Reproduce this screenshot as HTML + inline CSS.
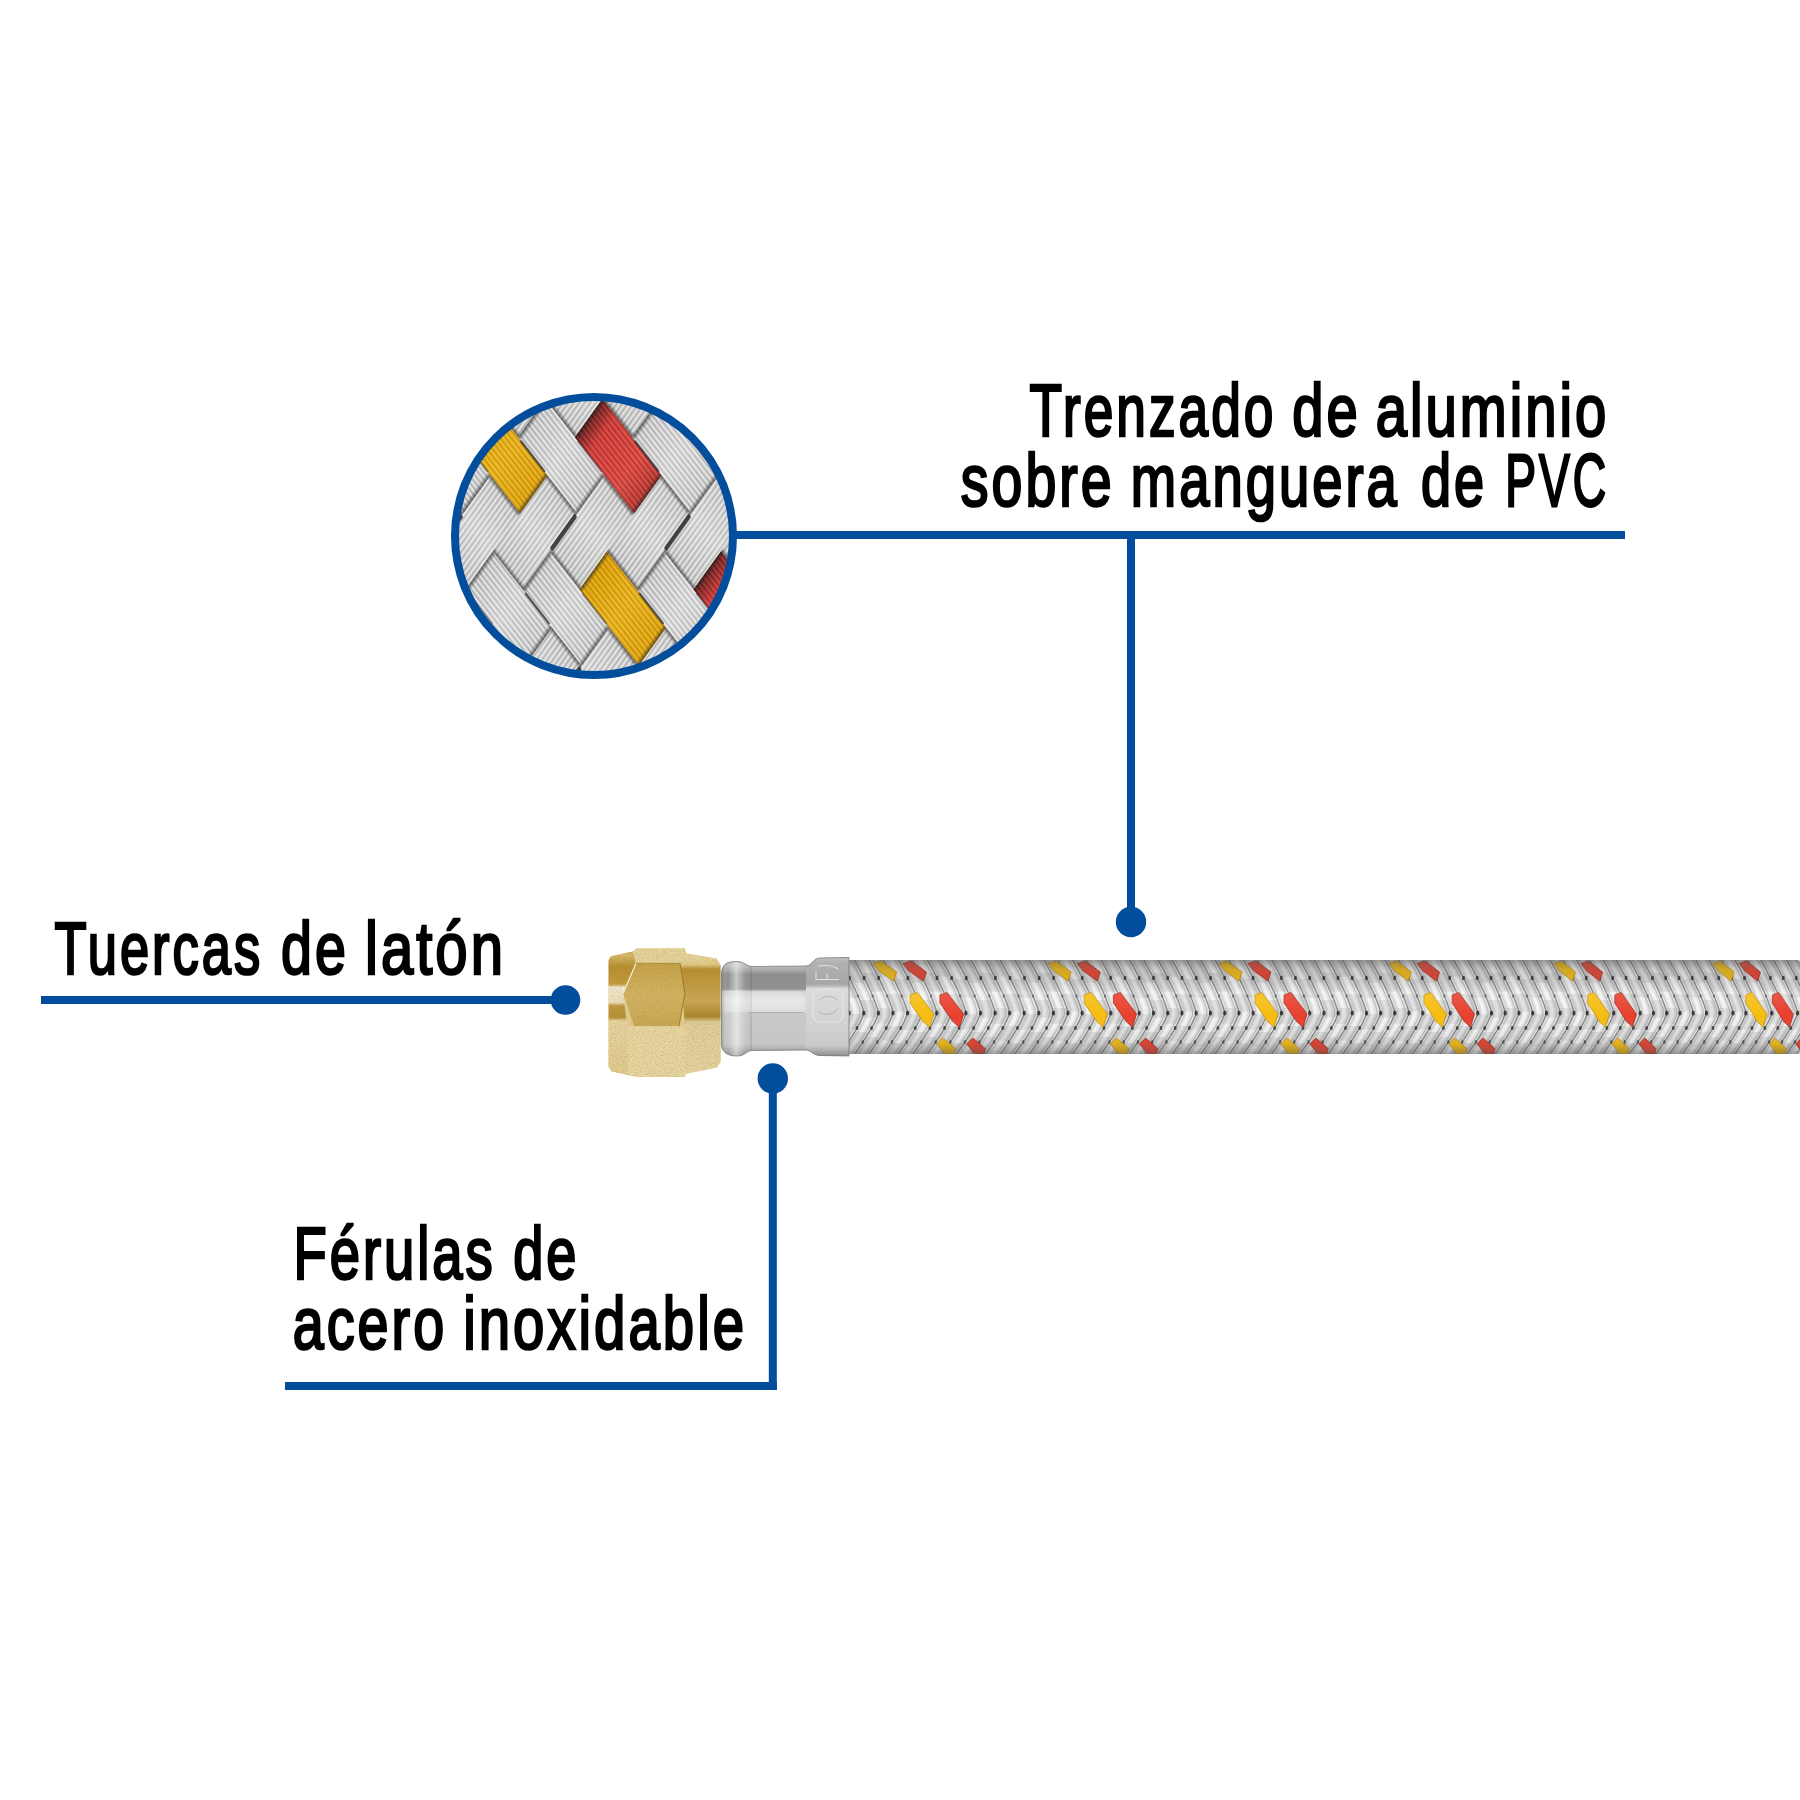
<!DOCTYPE html><html><head><meta charset="utf-8"><style>html,body{margin:0;padding:0;background:#fff;width:1800px;height:1800px;overflow:hidden}svg{display:block}</style></head><body>
<svg width="1800" height="1800" viewBox="0 0 1800 1800">
<defs>
<clipPath id="cclip"><circle cx="594" cy="536" r="139"/></clipPath>
<pattern id="wireA" patternUnits="userSpaceOnUse" width="20" height="4.5"><rect width="20" height="1.44" fill="rgba(120,120,120,0.26)"/><rect y="2.02" width="20" height="1.80" fill="rgba(255,255,255,0.8)"/></pattern>
<pattern id="wireAy" patternUnits="userSpaceOnUse" width="20" height="4.5"><rect width="20" height="1.26" fill="rgba(170,100,0,0.4)"/><rect y="2.02" width="20" height="1.12" fill="rgba(255,230,120,0.45)"/></pattern>
<pattern id="wireAr" patternUnits="userSpaceOnUse" width="20" height="4.5"><rect width="20" height="1.26" fill="rgba(140,20,20,0.42)"/><rect y="2.02" width="20" height="1.12" fill="rgba(255,150,140,0.35)"/></pattern>
<pattern id="wireB" patternUnits="userSpaceOnUse" width="4.5" height="20"><rect width="1.44" height="20" fill="rgba(120,120,120,0.26)"/><rect x="2.02" width="1.80" height="20" fill="rgba(255,255,255,0.8)"/></pattern>
<linearGradient id="wgA" x1="0" y1="0" x2="1" y2="0"><stop offset="0" stop-color="#cdcdcd"/><stop offset="0.5" stop-color="#ebebeb"/><stop offset="1" stop-color="#d2d2d2"/></linearGradient>
<linearGradient id="wgB" x1="0" y1="0" x2="0" y2="1"><stop offset="0" stop-color="#cdcdcd"/><stop offset="0.5" stop-color="#ebebeb"/><stop offset="1" stop-color="#d2d2d2"/></linearGradient>
<linearGradient id="wyA" x1="0" y1="0" x2="1" y2="0"><stop offset="0" stop-color="#eaa800"/><stop offset="0.5" stop-color="#fcc21a"/><stop offset="1" stop-color="#eeae08"/></linearGradient>
<linearGradient id="wrA" x1="0" y1="0" x2="1" y2="0"><stop offset="0" stop-color="#5a1c1c"/><stop offset="0.22" stop-color="#e0403c"/><stop offset="0.7" stop-color="#ee5048"/><stop offset="1" stop-color="#c03a34"/></linearGradient>
<linearGradient id="shA" x1="0" y1="0" x2="1" y2="0"><stop offset="0" stop-color="#222" stop-opacity="0.7"/><stop offset="0.05" stop-color="#222" stop-opacity="0.08"/><stop offset="0.95" stop-color="#222" stop-opacity="0.08"/><stop offset="1" stop-color="#222" stop-opacity="0.7"/></linearGradient>
<linearGradient id="shB" x1="0" y1="0" x2="0" y2="1"><stop offset="0" stop-color="#222" stop-opacity="0.7"/><stop offset="0.05" stop-color="#222" stop-opacity="0.08"/><stop offset="0.95" stop-color="#222" stop-opacity="0.08"/><stop offset="1" stop-color="#222" stop-opacity="0.7"/></linearGradient>
</defs>
<rect width="1800" height="1800" fill="#fff"/>
<defs>
<clipPath id="hclip"><rect x="846.0" y="960.0" width="954.0" height="94.0" rx="3"/></clipPath>
<linearGradient id="hshade" x1="0" y1="0" x2="0" y2="1"><stop offset="0" stop-color="#505050" stop-opacity="0.55"/><stop offset="0.1" stop-color="#606060" stop-opacity="0.25"/><stop offset="0.25" stop-color="#606060" stop-opacity="0.12"/><stop offset="0.35" stop-color="#fff" stop-opacity="0.12"/><stop offset="0.6" stop-color="#fff" stop-opacity="0.0"/><stop offset="0.88" stop-color="#606060" stop-opacity="0.12"/><stop offset="1" stop-color="#505050" stop-opacity="0.5"/></linearGradient>
</defs>
<g clip-path="url(#hclip)">
<rect x="846.0" y="960.0" width="954.0" height="94.0" fill="#c2c2c2"/>
<polygon points="796.1,960.0 799.8,966.8 803.5,973.5 818.0,973.5 814.4,966.8 810.7,960.0" fill="#e0e0e0"/>
<polygon points="801.2,960.0 804.9,966.8 808.6,973.5 812.2,973.5 808.6,966.8 804.8,960.0" fill="#f6f6f6" opacity="0.8"/>
<polygon points="803.5,973.5 808.1,982.5 812.3,991.5 826.9,991.5 822.6,982.5 818.0,973.5" fill="#cdcdcd"/>
<polygon points="808.6,973.5 813.2,982.5 817.4,991.5 821.1,991.5 816.8,982.5 812.2,973.5" fill="#f6f6f6" opacity="0.45"/>
<polygon points="812.3,991.5 815.9,1000.0 819.0,1008.5 833.6,1008.5 830.5,1000.0 826.9,991.5" fill="#e0e0e0"/>
<polygon points="817.4,991.5 821.0,1000.0 824.1,1008.5 827.7,1008.5 824.7,1000.0 821.1,991.5" fill="#f6f6f6" opacity="0.8"/>
<polygon points="819.0,1008.5 819.2,1016.0 815.7,1023.5 830.3,1023.5 833.8,1016.0 833.6,1008.5" fill="#cdcdcd"/>
<polygon points="824.1,1008.5 824.3,1016.0 820.8,1023.5 824.5,1023.5 827.9,1016.0 827.7,1008.5" fill="#f6f6f6" opacity="0.45"/>
<polygon points="815.7,1023.5 811.8,1030.5 807.5,1037.5 822.1,1037.5 826.4,1030.5 830.3,1023.5" fill="#e0e0e0"/>
<polygon points="820.8,1023.5 816.9,1030.5 812.6,1037.5 816.2,1037.5 820.6,1030.5 824.5,1023.5" fill="#f6f6f6" opacity="0.8"/>
<polygon points="807.5,1037.5 802.0,1045.8 796.1,1054.0 810.7,1054.0 816.5,1045.8 822.1,1037.5" fill="#cdcdcd"/>
<polygon points="812.6,1037.5 807.1,1045.8 801.2,1054.0 804.8,1054.0 810.7,1045.8 816.2,1037.5" fill="#f6f6f6" opacity="0.45"/>
<polyline points="807.5,960.0 809.7,963.9 811.8,967.8 813.9,971.8 816.0,975.7 818.0,979.6 819.9,983.5 821.8,987.4 823.6,991.3 825.3,995.2 827.0,999.2 828.5,1003.1 829.9,1007.0 831.0,1010.9 831.0,1014.8 829.4,1018.8 827.5,1022.7 825.4,1026.6 823.2,1030.5 820.8,1034.4 818.3,1038.3 815.7,1042.2 813.0,1046.2 810.3,1050.1 807.5,1054.0" fill="none" stroke="#a4a4a4" stroke-width="0.8"/>
<polyline points="799.0,960.0 801.2,963.9 803.3,967.8 805.5,971.8 807.5,975.7 809.5,979.6 811.5,983.5 813.3,987.4 815.2,991.3 816.9,995.2 818.5,999.2 820.0,1003.1 821.4,1007.0 822.6,1010.9 822.5,1014.8 820.9,1018.8 819.1,1022.7 817.0,1026.6 814.7,1030.5 812.3,1034.4 809.9,1038.3 807.3,1042.2 804.6,1046.2 801.8,1050.1 799.0,1054.0" fill="none" stroke="#bdbdbd" stroke-width="0.7"/>
<polyline points="796.1,960.0 798.3,963.9 800.4,967.8 802.5,971.8 804.6,975.7 806.6,979.6 808.5,983.5 810.4,987.4 812.2,991.3 814.0,995.2 815.6,999.2 817.1,1003.1 818.5,1007.0 819.7,1010.9 819.6,1014.8 818.0,1018.8 816.1,1022.7 814.1,1026.6 811.8,1030.5 809.4,1034.4 806.9,1038.3 804.3,1042.2 801.7,1046.2 798.9,1050.1 796.1,1054.0" fill="none" stroke="#7e7e7e" stroke-width="1.2"/>
<ellipse cx="805.8" cy="978" rx="1.5" ry="2.3" fill="#262626" opacity="0.85"/>
<ellipse cx="814.3" cy="996" rx="1.2" ry="1.8" fill="#262626" opacity="0.5"/>
<ellipse cx="820.1" cy="1013" rx="1.7" ry="2.5" fill="#262626" opacity="0.85"/>
<ellipse cx="813.3" cy="1028" rx="1.4" ry="2.1" fill="#262626" opacity="0.8"/>
<ellipse cx="804.5" cy="1042" rx="1.3" ry="2.0" fill="#262626" opacity="0.6"/>
<polygon points="810.7,960.0 815.2,968.2 819.6,976.5 834.2,976.5 829.8,968.2 825.2,960.0" fill="#cdcdcd"/>
<polygon points="815.8,960.0 820.3,968.2 824.7,976.5 828.4,976.5 824.0,968.2 819.4,960.0" fill="#f6f6f6" opacity="0.45"/>
<polygon points="819.6,976.5 824.1,985.5 828.2,994.5 842.8,994.5 838.7,985.5 834.2,976.5" fill="#e0e0e0"/>
<polygon points="824.7,976.5 829.2,985.5 833.3,994.5 837.0,994.5 832.8,985.5 828.4,976.5" fill="#f6f6f6" opacity="0.8"/>
<polygon points="828.2,994.5 831.7,1003.0 834.4,1011.5 849.0,1011.5 846.3,1003.0 842.8,994.5" fill="#cdcdcd"/>
<polygon points="833.3,994.5 836.8,1003.0 839.5,1011.5 843.1,1011.5 840.4,1003.0 837.0,994.5" fill="#f6f6f6" opacity="0.45"/>
<polygon points="834.4,1011.5 832.5,1019.0 828.7,1026.5 843.3,1026.5 847.1,1019.0 849.0,1011.5" fill="#e0e0e0"/>
<polygon points="839.5,1011.5 837.6,1019.0 833.8,1026.5 837.4,1026.5 841.2,1019.0 843.1,1011.5" fill="#f6f6f6" opacity="0.8"/>
<polygon points="828.7,1026.5 824.6,1033.5 820.1,1040.5 834.7,1040.5 839.2,1033.5 843.3,1026.5" fill="#cdcdcd"/>
<polygon points="833.8,1026.5 829.7,1033.5 825.2,1040.5 828.8,1040.5 833.3,1033.5 837.4,1026.5" fill="#f6f6f6" opacity="0.45"/>
<polygon points="820.1,1040.5 815.5,1047.2 810.7,1054.0 825.2,1054.0 830.1,1047.2 834.7,1040.5" fill="#e0e0e0"/>
<polygon points="825.2,1040.5 820.6,1047.2 815.8,1054.0 819.4,1054.0 824.2,1047.2 828.8,1040.5" fill="#f6f6f6" opacity="0.8"/>
<polyline points="822.0,960.0 824.2,963.9 826.4,967.8 828.5,971.8 830.6,975.7 832.6,979.6 834.5,983.5 836.4,987.4 838.2,991.3 839.9,995.2 841.6,999.2 843.1,1003.1 844.5,1007.0 845.6,1010.9 845.5,1014.8 844.0,1018.8 842.1,1022.7 840.0,1026.6 837.8,1030.5 835.4,1034.4 832.9,1038.3 830.3,1042.2 827.6,1046.2 824.9,1050.1 822.0,1054.0" fill="none" stroke="#a4a4a4" stroke-width="0.8"/>
<polyline points="813.6,960.0 815.8,963.9 817.9,967.8 820.0,971.8 822.1,975.7 824.1,979.6 826.0,983.5 827.9,987.4 829.7,991.3 831.5,995.2 833.1,999.2 834.6,1003.1 836.0,1007.0 837.2,1010.9 837.1,1014.8 835.5,1018.8 833.6,1022.7 831.6,1026.6 829.3,1030.5 826.9,1034.4 824.4,1038.3 821.8,1042.2 819.2,1046.2 816.4,1050.1 813.6,1054.0" fill="none" stroke="#bdbdbd" stroke-width="0.7"/>
<polyline points="810.7,960.0 812.9,963.9 815.0,967.8 817.1,971.8 819.2,975.7 821.2,979.6 823.1,983.5 825.0,987.4 826.8,991.3 828.6,995.2 830.2,999.2 831.7,1003.1 833.1,1007.0 834.2,1010.9 834.2,1014.8 832.6,1018.8 830.7,1022.7 828.6,1026.6 826.4,1030.5 824.0,1034.4 821.5,1038.3 818.9,1042.2 816.3,1046.2 813.5,1050.1 810.7,1054.0" fill="none" stroke="#7e7e7e" stroke-width="1.2"/>
<ellipse cx="820.4" cy="978" rx="1.5" ry="2.3" fill="#262626" opacity="0.85"/>
<ellipse cx="828.9" cy="996" rx="1.2" ry="1.8" fill="#262626" opacity="0.5"/>
<ellipse cx="834.7" cy="1013" rx="1.7" ry="2.5" fill="#262626" opacity="0.85"/>
<ellipse cx="827.8" cy="1028" rx="1.4" ry="2.1" fill="#262626" opacity="0.8"/>
<ellipse cx="819.1" cy="1042" rx="1.3" ry="2.0" fill="#262626" opacity="0.6"/>
<polygon points="825.2,960.0 830.6,969.8 835.7,979.5 850.3,979.5 845.2,969.8 839.8,960.0" fill="#e0e0e0"/>
<polygon points="830.4,960.0 835.7,969.8 840.8,979.5 844.5,979.5 839.4,969.8 834.0,960.0" fill="#f6f6f6" opacity="0.8"/>
<polygon points="835.7,979.5 840.1,988.5 844.1,997.5 858.7,997.5 854.7,988.5 850.3,979.5" fill="#cdcdcd"/>
<polygon points="840.8,979.5 845.2,988.5 849.2,997.5 852.8,997.5 848.9,988.5 844.5,979.5" fill="#f6f6f6" opacity="0.45"/>
<polygon points="844.1,997.5 847.3,1006.0 848.9,1014.5 863.4,1014.5 861.9,1006.0 858.7,997.5" fill="#e0e0e0"/>
<polygon points="849.2,997.5 852.4,1006.0 854.0,1014.5 857.6,1014.5 856.1,1006.0 852.8,997.5" fill="#f6f6f6" opacity="0.8"/>
<polygon points="848.9,1014.5 845.6,1022.0 841.6,1029.5 856.1,1029.5 860.2,1022.0 863.4,1014.5" fill="#cdcdcd"/>
<polygon points="854.0,1014.5 850.7,1022.0 846.7,1029.5 850.3,1029.5 854.4,1022.0 857.6,1014.5" fill="#f6f6f6" opacity="0.45"/>
<polygon points="841.6,1029.5 837.3,1036.5 832.7,1043.5 847.3,1043.5 851.9,1036.5 856.1,1029.5" fill="#e0e0e0"/>
<polygon points="846.7,1029.5 842.4,1036.5 837.8,1043.5 841.4,1043.5 846.0,1036.5 850.3,1029.5" fill="#f6f6f6" opacity="0.8"/>
<polygon points="832.7,1043.5 829.0,1048.8 825.2,1054.0 839.8,1054.0 843.6,1048.8 847.3,1043.5" fill="#cdcdcd"/>
<polygon points="837.8,1043.5 834.1,1048.8 830.4,1054.0 834.0,1054.0 837.8,1048.8 841.4,1043.5" fill="#f6f6f6" opacity="0.45"/>
<polyline points="836.6,960.0 838.8,963.9 841.0,967.8 843.1,971.8 845.1,975.7 847.1,979.6 849.1,983.5 851.0,987.4 852.8,991.3 854.5,995.2 856.1,999.2 857.7,1003.1 859.0,1007.0 860.2,1010.9 860.1,1014.8 858.6,1018.8 856.7,1022.7 854.6,1026.6 852.3,1030.5 850.0,1034.4 847.5,1038.3 844.9,1042.2 842.2,1046.2 839.5,1050.1 836.6,1054.0" fill="none" stroke="#a4a4a4" stroke-width="0.8"/>
<polyline points="828.2,960.0 830.4,963.9 832.5,967.8 834.6,971.8 836.7,975.7 838.7,979.6 840.6,983.5 842.5,987.4 844.3,991.3 846.1,995.2 847.7,999.2 849.2,1003.1 850.6,1007.0 851.7,1010.9 851.7,1014.8 850.1,1018.8 848.2,1022.7 846.1,1026.6 843.9,1030.5 841.5,1034.4 839.0,1038.3 836.4,1042.2 833.8,1046.2 831.0,1050.1 828.2,1054.0" fill="none" stroke="#bdbdbd" stroke-width="0.7"/>
<polyline points="825.2,960.0 827.4,963.9 829.6,967.8 831.7,971.8 833.8,975.7 835.8,979.6 837.7,983.5 839.6,987.4 841.4,991.3 843.1,995.2 844.8,999.2 846.3,1003.1 847.7,1007.0 848.8,1010.9 848.8,1014.8 847.2,1018.8 845.3,1022.7 843.2,1026.6 841.0,1030.5 838.6,1034.4 836.1,1038.3 833.5,1042.2 830.8,1046.2 828.1,1050.1 825.2,1054.0" fill="none" stroke="#7e7e7e" stroke-width="1.2"/>
<ellipse cx="835.0" cy="978" rx="1.5" ry="2.3" fill="#262626" opacity="0.85"/>
<ellipse cx="843.5" cy="996" rx="1.2" ry="1.8" fill="#262626" opacity="0.5"/>
<ellipse cx="849.2" cy="1013" rx="1.7" ry="2.5" fill="#262626" opacity="0.85"/>
<ellipse cx="842.4" cy="1028" rx="1.4" ry="2.1" fill="#262626" opacity="0.8"/>
<ellipse cx="833.7" cy="1042" rx="1.3" ry="2.0" fill="#262626" opacity="0.6"/>
<polygon points="839.8,960.0 846.0,971.2 851.8,982.5 866.4,982.5 860.6,971.2 854.4,960.0" fill="#cdcdcd"/>
<polygon points="844.9,960.0 851.1,971.2 856.9,982.5 860.6,982.5 854.8,971.2 848.6,960.0" fill="#f6f6f6" opacity="0.45"/>
<polygon points="851.8,982.5 856.1,991.5 859.9,1000.5 874.5,1000.5 870.6,991.5 866.4,982.5" fill="#e0e0e0"/>
<polygon points="856.9,982.5 861.2,991.5 865.0,1000.5 868.6,1000.5 864.8,991.5 860.6,982.5" fill="#f6f6f6" opacity="0.8"/>
<polygon points="859.9,1000.5 862.9,1009.0 862.3,1017.5 876.9,1017.5 877.5,1009.0 874.5,1000.5" fill="#cdcdcd"/>
<polygon points="865.0,1000.5 868.0,1009.0 867.4,1017.5 871.1,1017.5 871.6,1009.0 868.6,1000.5" fill="#f6f6f6" opacity="0.45"/>
<polygon points="862.3,1017.5 858.7,1025.0 854.4,1032.5 868.9,1032.5 873.3,1025.0 876.9,1017.5" fill="#e0e0e0"/>
<polygon points="867.4,1017.5 863.8,1025.0 859.5,1032.5 863.1,1032.5 867.4,1025.0 871.1,1017.5" fill="#f6f6f6" opacity="0.8"/>
<polygon points="854.4,1032.5 849.9,1039.5 845.2,1046.5 859.8,1046.5 864.5,1039.5 868.9,1032.5" fill="#cdcdcd"/>
<polygon points="859.5,1032.5 855.0,1039.5 850.3,1046.5 853.9,1046.5 858.7,1039.5 863.1,1032.5" fill="#f6f6f6" opacity="0.45"/>
<polygon points="845.2,1046.5 842.5,1050.2 839.8,1054.0 854.4,1054.0 857.1,1050.2 859.8,1046.5" fill="#e0e0e0"/>
<polygon points="850.3,1046.5 847.6,1050.2 844.9,1054.0 848.6,1054.0 851.3,1050.2 853.9,1046.5" fill="#f6f6f6" opacity="0.8"/>
<polyline points="851.2,960.0 853.4,963.9 855.6,967.8 857.7,971.8 859.7,975.7 861.7,979.6 863.7,983.5 865.6,987.4 867.4,991.3 869.1,995.2 870.7,999.2 872.3,1003.1 873.6,1007.0 874.8,1010.9 874.7,1014.8 873.1,1018.8 871.3,1022.7 869.2,1026.6 866.9,1030.5 864.6,1034.4 862.1,1038.3 859.5,1042.2 856.8,1046.2 854.0,1050.1 851.2,1054.0" fill="none" stroke="#a4a4a4" stroke-width="0.8"/>
<polyline points="842.7,960.0 844.9,963.9 847.1,967.8 849.2,971.8 851.3,975.7 853.3,979.6 855.2,983.5 857.1,987.4 858.9,991.3 860.6,995.2 862.3,999.2 863.8,1003.1 865.2,1007.0 866.3,1010.9 866.3,1014.8 864.7,1018.8 862.8,1022.7 860.7,1026.6 858.5,1030.5 856.1,1034.4 853.6,1038.3 851.0,1042.2 848.3,1046.2 845.6,1050.1 842.7,1054.0" fill="none" stroke="#bdbdbd" stroke-width="0.7"/>
<polyline points="839.8,960.0 842.0,963.9 844.2,967.8 846.3,971.8 848.3,975.7 850.3,979.6 852.3,983.5 854.2,987.4 856.0,991.3 857.7,995.2 859.4,999.2 860.9,1003.1 862.3,1007.0 863.4,1010.9 863.3,1014.8 861.8,1018.8 859.9,1022.7 857.8,1026.6 855.6,1030.5 853.2,1034.4 850.7,1038.3 848.1,1042.2 845.4,1046.2 842.7,1050.1 839.8,1054.0" fill="none" stroke="#7e7e7e" stroke-width="1.2"/>
<ellipse cx="849.5" cy="978" rx="1.5" ry="2.3" fill="#262626" opacity="0.85"/>
<ellipse cx="858.0" cy="996" rx="1.2" ry="1.8" fill="#262626" opacity="0.5"/>
<ellipse cx="863.8" cy="1013" rx="1.7" ry="2.5" fill="#262626" opacity="0.85"/>
<ellipse cx="857.0" cy="1028" rx="1.4" ry="2.1" fill="#262626" opacity="0.8"/>
<ellipse cx="848.3" cy="1042" rx="1.3" ry="2.0" fill="#262626" opacity="0.6"/>
<polygon points="854.4,960.0 858.2,966.8 861.8,973.5 876.4,973.5 872.8,966.8 869.0,960.0" fill="#e0e0e0"/>
<polygon points="859.5,960.0 863.3,966.8 866.9,973.5 870.5,973.5 866.9,966.8 863.2,960.0" fill="#f6f6f6" opacity="0.8"/>
<polygon points="861.8,973.5 866.4,982.5 870.6,991.5 885.2,991.5 881.0,982.5 876.4,973.5" fill="#cdcdcd"/>
<polygon points="866.9,973.5 871.5,982.5 875.8,991.5 879.4,991.5 875.1,982.5 870.5,973.5" fill="#f6f6f6" opacity="0.45"/>
<polygon points="870.6,991.5 874.3,1000.0 877.3,1008.5 891.9,1008.5 888.9,1000.0 885.2,991.5" fill="#e0e0e0"/>
<polygon points="875.8,991.5 879.4,1000.0 882.4,1008.5 886.1,1008.5 883.0,1000.0 879.4,991.5" fill="#f6f6f6" opacity="0.8"/>
<polygon points="877.3,1008.5 877.5,1016.0 874.0,1023.5 888.6,1023.5 892.1,1016.0 891.9,1008.5" fill="#cdcdcd"/>
<polygon points="882.4,1008.5 882.6,1016.0 879.1,1023.5 882.8,1023.5 886.3,1016.0 886.1,1008.5" fill="#f6f6f6" opacity="0.45"/>
<polygon points="874.0,1023.5 870.1,1030.5 865.8,1037.5 880.4,1037.5 884.7,1030.5 888.6,1023.5" fill="#e0e0e0"/>
<polygon points="879.1,1023.5 875.2,1030.5 870.9,1037.5 874.6,1037.5 878.9,1030.5 882.8,1023.5" fill="#f6f6f6" opacity="0.8"/>
<polygon points="865.8,1037.5 860.3,1045.8 854.4,1054.0 869.0,1054.0 874.9,1045.8 880.4,1037.5" fill="#cdcdcd"/>
<polygon points="870.9,1037.5 865.4,1045.8 859.5,1054.0 863.2,1054.0 869.0,1045.8 874.6,1037.5" fill="#f6f6f6" opacity="0.45"/>
<polyline points="865.8,960.0 868.0,963.9 870.1,967.8 872.2,971.8 874.3,975.7 876.3,979.6 878.3,983.5 880.1,987.4 881.9,991.3 883.7,995.2 885.3,999.2 886.8,1003.1 888.2,1007.0 889.4,1010.9 889.3,1014.8 887.7,1018.8 885.8,1022.7 883.8,1026.6 881.5,1030.5 879.1,1034.4 876.6,1038.3 874.1,1042.2 871.4,1046.2 868.6,1050.1 865.8,1054.0" fill="none" stroke="#a4a4a4" stroke-width="0.8"/>
<polyline points="857.3,960.0 859.5,963.9 861.7,967.8 863.8,971.8 865.8,975.7 867.8,979.6 869.8,983.5 871.7,987.4 873.5,991.3 875.2,995.2 876.9,999.2 878.4,1003.1 879.8,1007.0 880.9,1010.9 880.8,1014.8 879.3,1018.8 877.4,1022.7 875.3,1026.6 873.1,1030.5 870.7,1034.4 868.2,1038.3 865.6,1042.2 862.9,1046.2 860.2,1050.1 857.3,1054.0" fill="none" stroke="#bdbdbd" stroke-width="0.7"/>
<polyline points="854.4,960.0 856.6,963.9 858.8,967.8 860.9,971.8 862.9,975.7 864.9,979.6 866.9,983.5 868.8,987.4 870.6,991.3 872.3,995.2 873.9,999.2 875.5,1003.1 876.8,1007.0 878.0,1010.9 877.9,1014.8 876.4,1018.8 874.5,1022.7 872.4,1026.6 870.1,1030.5 867.8,1034.4 865.3,1038.3 862.7,1042.2 860.0,1046.2 857.2,1050.1 854.4,1054.0" fill="none" stroke="#7e7e7e" stroke-width="1.2"/>
<ellipse cx="864.1" cy="978" rx="1.5" ry="2.3" fill="#262626" opacity="0.85"/>
<ellipse cx="872.6" cy="996" rx="1.2" ry="1.8" fill="#262626" opacity="0.5"/>
<ellipse cx="878.4" cy="1013" rx="1.7" ry="2.5" fill="#262626" opacity="0.85"/>
<ellipse cx="871.6" cy="1028" rx="1.4" ry="2.1" fill="#262626" opacity="0.8"/>
<ellipse cx="862.8" cy="1042" rx="1.3" ry="2.0" fill="#262626" opacity="0.6"/>
<polygon points="869.0,960.0 873.6,968.2 877.9,976.5 892.5,976.5 888.2,968.2 883.6,960.0" fill="#cdcdcd"/>
<polygon points="874.1,960.0 878.7,968.2 883.0,976.5 886.7,976.5 882.3,968.2 877.8,960.0" fill="#f6f6f6" opacity="0.45"/>
<polygon points="877.9,976.5 882.4,985.5 886.6,994.5 901.1,994.5 897.0,985.5 892.5,976.5" fill="#e0e0e0"/>
<polygon points="883.0,976.5 887.5,985.5 891.7,994.5 895.3,994.5 891.2,985.5 886.7,976.5" fill="#f6f6f6" opacity="0.8"/>
<polygon points="886.6,994.5 890.0,1003.0 892.7,1011.5 907.3,1011.5 904.6,1003.0 901.1,994.5" fill="#cdcdcd"/>
<polygon points="891.7,994.5 895.1,1003.0 897.8,1011.5 901.5,1011.5 898.8,1003.0 895.3,994.5" fill="#f6f6f6" opacity="0.45"/>
<polygon points="892.7,1011.5 890.8,1019.0 887.0,1026.5 901.6,1026.5 905.4,1019.0 907.3,1011.5" fill="#e0e0e0"/>
<polygon points="897.8,1011.5 895.9,1019.0 892.1,1026.5 895.8,1026.5 899.6,1019.0 901.5,1011.5" fill="#f6f6f6" opacity="0.8"/>
<polygon points="887.0,1026.5 882.9,1033.5 878.4,1040.5 893.0,1040.5 897.5,1033.5 901.6,1026.5" fill="#cdcdcd"/>
<polygon points="892.1,1026.5 888.0,1033.5 883.5,1040.5 887.2,1040.5 891.7,1033.5 895.8,1026.5" fill="#f6f6f6" opacity="0.45"/>
<polygon points="878.4,1040.5 873.8,1047.2 869.0,1054.0 883.6,1054.0 888.4,1047.2 893.0,1040.5" fill="#e0e0e0"/>
<polygon points="883.5,1040.5 878.9,1047.2 874.1,1054.0 877.8,1054.0 882.6,1047.2 887.2,1040.5" fill="#f6f6f6" opacity="0.8"/>
<polyline points="880.4,960.0 882.6,963.9 884.7,967.8 886.8,971.8 888.9,975.7 890.9,979.6 892.8,983.5 894.7,987.4 896.5,991.3 898.3,995.2 899.9,999.2 901.4,1003.1 902.8,1007.0 904.0,1010.9 903.9,1014.8 902.3,1018.8 900.4,1022.7 898.3,1026.6 896.1,1030.5 893.7,1034.4 891.2,1038.3 888.6,1042.2 886.0,1046.2 883.2,1050.1 880.4,1054.0" fill="none" stroke="#a4a4a4" stroke-width="0.8"/>
<polyline points="871.9,960.0 874.1,963.9 876.3,967.8 878.4,971.8 880.4,975.7 882.4,979.6 884.4,983.5 886.3,987.4 888.1,991.3 889.8,995.2 891.4,999.2 893.0,1003.1 894.3,1007.0 895.5,1010.9 895.4,1014.8 893.9,1018.8 892.0,1022.7 889.9,1026.6 887.6,1030.5 885.3,1034.4 882.8,1038.3 880.2,1042.2 877.5,1046.2 874.7,1050.1 871.9,1054.0" fill="none" stroke="#bdbdbd" stroke-width="0.7"/>
<polyline points="869.0,960.0 871.2,963.9 873.3,967.8 875.5,971.8 877.5,975.7 879.5,979.6 881.5,983.5 883.3,987.4 885.2,991.3 886.9,995.2 888.5,999.2 890.0,1003.1 891.4,1007.0 892.6,1010.9 892.5,1014.8 890.9,1018.8 889.1,1022.7 887.0,1026.6 884.7,1030.5 882.3,1034.4 879.9,1038.3 877.3,1042.2 874.6,1046.2 871.8,1050.1 869.0,1054.0" fill="none" stroke="#7e7e7e" stroke-width="1.2"/>
<ellipse cx="878.7" cy="978" rx="1.5" ry="2.3" fill="#262626" opacity="0.85"/>
<ellipse cx="887.2" cy="996" rx="1.2" ry="1.8" fill="#262626" opacity="0.5"/>
<ellipse cx="893.0" cy="1013" rx="1.7" ry="2.5" fill="#262626" opacity="0.85"/>
<ellipse cx="886.2" cy="1028" rx="1.4" ry="2.1" fill="#262626" opacity="0.8"/>
<ellipse cx="877.4" cy="1042" rx="1.3" ry="2.0" fill="#262626" opacity="0.6"/>
<polygon points="883.6,960.0 889.0,969.8 894.1,979.5 908.6,979.5 903.6,969.8 898.2,960.0" fill="#e0e0e0"/>
<polygon points="888.7,960.0 894.1,969.8 899.2,979.5 902.8,979.5 897.7,969.8 892.3,960.0" fill="#f6f6f6" opacity="0.8"/>
<polygon points="894.1,979.5 898.4,988.5 902.4,997.5 917.0,997.5 913.0,988.5 908.6,979.5" fill="#cdcdcd"/>
<polygon points="899.2,979.5 903.5,988.5 907.5,997.5 911.2,997.5 907.2,988.5 902.8,979.5" fill="#f6f6f6" opacity="0.45"/>
<polygon points="902.4,997.5 905.7,1006.0 907.2,1014.5 921.8,1014.5 920.3,1006.0 917.0,997.5" fill="#e0e0e0"/>
<polygon points="907.5,997.5 910.8,1006.0 912.3,1014.5 915.9,1014.5 914.4,1006.0 911.2,997.5" fill="#f6f6f6" opacity="0.8"/>
<polygon points="907.2,1014.5 904.0,1022.0 899.9,1029.5 914.5,1029.5 918.6,1022.0 921.8,1014.5" fill="#cdcdcd"/>
<polygon points="912.3,1014.5 909.1,1022.0 905.0,1029.5 908.6,1029.5 912.7,1022.0 915.9,1014.5" fill="#f6f6f6" opacity="0.45"/>
<polygon points="899.9,1029.5 895.6,1036.5 891.0,1043.5 905.6,1043.5 910.2,1036.5 914.5,1029.5" fill="#e0e0e0"/>
<polygon points="905.0,1029.5 900.7,1036.5 896.1,1043.5 899.8,1043.5 904.4,1036.5 908.6,1029.5" fill="#f6f6f6" opacity="0.8"/>
<polygon points="891.0,1043.5 887.4,1048.8 883.6,1054.0 898.2,1054.0 901.9,1048.8 905.6,1043.5" fill="#cdcdcd"/>
<polygon points="896.1,1043.5 892.5,1048.8 888.7,1054.0 892.3,1054.0 896.1,1048.8 899.8,1043.5" fill="#f6f6f6" opacity="0.45"/>
<polyline points="895.0,960.0 897.2,963.9 899.3,967.8 901.4,971.8 903.5,975.7 905.5,979.6 907.4,983.5 909.3,987.4 911.1,991.3 912.8,995.2 914.5,999.2 916.0,1003.1 917.4,1007.0 918.5,1010.9 918.5,1014.8 916.9,1018.8 915.0,1022.7 912.9,1026.6 910.7,1030.5 908.3,1034.4 905.8,1038.3 903.2,1042.2 900.5,1046.2 897.8,1050.1 895.0,1054.0" fill="none" stroke="#a4a4a4" stroke-width="0.8"/>
<polyline points="886.5,960.0 888.7,963.9 890.8,967.8 893.0,971.8 895.0,975.7 897.0,979.6 899.0,983.5 900.8,987.4 902.7,991.3 904.4,995.2 906.0,999.2 907.5,1003.1 908.9,1007.0 910.1,1010.9 910.0,1014.8 908.4,1018.8 906.6,1022.7 904.5,1026.6 902.2,1030.5 899.8,1034.4 897.4,1038.3 894.8,1042.2 892.1,1046.2 889.3,1050.1 886.5,1054.0" fill="none" stroke="#bdbdbd" stroke-width="0.7"/>
<polyline points="883.6,960.0 885.8,963.9 887.9,967.8 890.0,971.8 892.1,975.7 894.1,979.6 896.0,983.5 897.9,987.4 899.7,991.3 901.5,995.2 903.1,999.2 904.6,1003.1 906.0,1007.0 907.2,1010.9 907.1,1014.8 905.5,1018.8 903.6,1022.7 901.6,1026.6 899.3,1030.5 896.9,1034.4 894.4,1038.3 891.8,1042.2 889.2,1046.2 886.4,1050.1 883.6,1054.0" fill="none" stroke="#7e7e7e" stroke-width="1.2"/>
<ellipse cx="893.3" cy="978" rx="1.5" ry="2.3" fill="#262626" opacity="0.85"/>
<ellipse cx="901.8" cy="996" rx="1.2" ry="1.8" fill="#262626" opacity="0.5"/>
<ellipse cx="907.6" cy="1013" rx="1.7" ry="2.5" fill="#262626" opacity="0.85"/>
<ellipse cx="900.8" cy="1028" rx="1.4" ry="2.1" fill="#262626" opacity="0.8"/>
<ellipse cx="892.0" cy="1042" rx="1.3" ry="2.0" fill="#262626" opacity="0.6"/>
<polygon points="898.2,960.0 904.4,971.2 910.1,982.5 924.7,982.5 918.9,971.2 912.8,960.0" fill="#cdcdcd"/>
<polygon points="903.3,960.0 909.5,971.2 915.2,982.5 918.9,982.5 913.1,971.2 906.9,960.0" fill="#f6f6f6" opacity="0.45"/>
<polygon points="910.1,982.5 914.4,991.5 918.2,1000.5 932.8,1000.5 929.0,991.5 924.7,982.5" fill="#e0e0e0"/>
<polygon points="915.2,982.5 919.5,991.5 923.3,1000.5 927.0,1000.5 923.1,991.5 918.9,982.5" fill="#f6f6f6" opacity="0.8"/>
<polygon points="918.2,1000.5 921.2,1009.0 920.7,1017.5 935.2,1017.5 935.8,1009.0 932.8,1000.5" fill="#cdcdcd"/>
<polygon points="923.3,1000.5 926.3,1009.0 925.8,1017.5 929.4,1017.5 930.0,1009.0 927.0,1000.5" fill="#f6f6f6" opacity="0.45"/>
<polygon points="920.7,1017.5 917.0,1025.0 912.7,1032.5 927.3,1032.5 931.6,1025.0 935.2,1017.5" fill="#e0e0e0"/>
<polygon points="925.8,1017.5 922.1,1025.0 917.8,1032.5 921.4,1032.5 925.8,1025.0 929.4,1017.5" fill="#f6f6f6" opacity="0.8"/>
<polygon points="912.7,1032.5 908.3,1039.5 903.5,1046.5 918.1,1046.5 922.8,1039.5 927.3,1032.5" fill="#cdcdcd"/>
<polygon points="917.8,1032.5 913.4,1039.5 908.6,1046.5 912.3,1046.5 917.0,1039.5 921.4,1032.5" fill="#f6f6f6" opacity="0.45"/>
<polygon points="903.5,1046.5 900.9,1050.2 898.2,1054.0 912.8,1054.0 915.5,1050.2 918.1,1046.5" fill="#e0e0e0"/>
<polygon points="908.6,1046.5 906.0,1050.2 903.3,1054.0 906.9,1054.0 909.6,1050.2 912.3,1046.5" fill="#f6f6f6" opacity="0.8"/>
<polyline points="909.5,960.0 911.7,963.9 913.9,967.8 916.0,971.8 918.1,975.7 920.1,979.6 922.0,983.5 923.9,987.4 925.7,991.3 927.4,995.2 929.1,999.2 930.6,1003.1 932.0,1007.0 933.1,1010.9 933.0,1014.8 931.5,1018.8 929.6,1022.7 927.5,1026.6 925.3,1030.5 922.9,1034.4 920.4,1038.3 917.8,1042.2 915.1,1046.2 912.4,1050.1 909.5,1054.0" fill="none" stroke="#a4a4a4" stroke-width="0.8"/>
<polyline points="901.1,960.0 903.3,963.9 905.4,967.8 907.5,971.8 909.6,975.7 911.6,979.6 913.5,983.5 915.4,987.4 917.2,991.3 919.0,995.2 920.6,999.2 922.1,1003.1 923.5,1007.0 924.7,1010.9 924.6,1014.8 923.0,1018.8 921.1,1022.7 919.1,1026.6 916.8,1030.5 914.4,1034.4 911.9,1038.3 909.3,1042.2 906.7,1046.2 903.9,1050.1 901.1,1054.0" fill="none" stroke="#bdbdbd" stroke-width="0.7"/>
<polyline points="898.2,960.0 900.4,963.9 902.5,967.8 904.6,971.8 906.7,975.7 908.7,979.6 910.6,983.5 912.5,987.4 914.3,991.3 916.1,995.2 917.7,999.2 919.2,1003.1 920.6,1007.0 921.7,1010.9 921.7,1014.8 920.1,1018.8 918.2,1022.7 916.1,1026.6 913.9,1030.5 911.5,1034.4 909.0,1038.3 906.4,1042.2 903.8,1046.2 901.0,1050.1 898.2,1054.0" fill="none" stroke="#7e7e7e" stroke-width="1.2"/>
<ellipse cx="907.9" cy="978" rx="1.5" ry="2.3" fill="#262626" opacity="0.85"/>
<ellipse cx="916.4" cy="996" rx="1.2" ry="1.8" fill="#262626" opacity="0.5"/>
<ellipse cx="922.2" cy="1013" rx="1.7" ry="2.5" fill="#262626" opacity="0.85"/>
<ellipse cx="915.3" cy="1028" rx="1.4" ry="2.1" fill="#262626" opacity="0.8"/>
<ellipse cx="906.6" cy="1042" rx="1.3" ry="2.0" fill="#262626" opacity="0.6"/>
<polygon points="912.8,960.0 916.5,966.8 920.1,973.5 934.7,973.5 931.1,966.8 927.3,960.0" fill="#e0e0e0"/>
<polygon points="917.9,960.0 921.6,966.8 925.2,973.5 928.9,973.5 925.3,966.8 921.5,960.0" fill="#f6f6f6" opacity="0.8"/>
<polygon points="920.1,973.5 924.7,982.5 929.0,991.5 943.6,991.5 939.3,982.5 934.7,973.5" fill="#cdcdcd"/>
<polygon points="925.2,973.5 929.8,982.5 934.1,991.5 937.7,991.5 933.5,982.5 928.9,973.5" fill="#f6f6f6" opacity="0.45"/>
<polygon points="929.0,991.5 932.6,1000.0 935.7,1008.5 950.2,1008.5 947.2,1000.0 943.6,991.5" fill="#e0e0e0"/>
<polygon points="934.1,991.5 937.7,1000.0 940.8,1008.5 944.4,1008.5 941.4,1000.0 937.7,991.5" fill="#f6f6f6" opacity="0.8"/>
<polygon points="935.7,1008.5 935.8,1016.0 932.4,1023.5 947.0,1023.5 950.4,1016.0 950.2,1008.5" fill="#cdcdcd"/>
<polygon points="940.8,1008.5 940.9,1016.0 937.5,1023.5 941.1,1023.5 944.6,1016.0 944.4,1008.5" fill="#f6f6f6" opacity="0.45"/>
<polygon points="932.4,1023.5 928.5,1030.5 924.1,1037.5 938.7,1037.5 943.1,1030.5 947.0,1023.5" fill="#e0e0e0"/>
<polygon points="937.5,1023.5 933.6,1030.5 929.2,1037.5 932.9,1037.5 937.2,1030.5 941.1,1023.5" fill="#f6f6f6" opacity="0.8"/>
<polygon points="924.1,1037.5 918.6,1045.8 912.8,1054.0 927.3,1054.0 933.2,1045.8 938.7,1037.5" fill="#cdcdcd"/>
<polygon points="929.2,1037.5 923.7,1045.8 917.9,1054.0 921.5,1054.0 927.4,1045.8 932.9,1037.5" fill="#f6f6f6" opacity="0.45"/>
<polyline points="924.1,960.0 926.3,963.9 928.5,967.8 930.6,971.8 932.6,975.7 934.6,979.6 936.6,983.5 938.5,987.4 940.3,991.3 942.0,995.2 943.6,999.2 945.2,1003.1 946.5,1007.0 947.7,1010.9 947.6,1014.8 946.1,1018.8 944.2,1022.7 942.1,1026.6 939.8,1030.5 937.5,1034.4 935.0,1038.3 932.4,1042.2 929.7,1046.2 927.0,1050.1 924.1,1054.0" fill="none" stroke="#a4a4a4" stroke-width="0.8"/>
<polyline points="915.7,960.0 917.9,963.9 920.0,967.8 922.1,971.8 924.2,975.7 926.2,979.6 928.1,983.5 930.0,987.4 931.8,991.3 933.6,995.2 935.2,999.2 936.7,1003.1 938.1,1007.0 939.2,1010.9 939.2,1014.8 937.6,1018.8 935.7,1022.7 933.6,1026.6 931.4,1030.5 929.0,1034.4 926.5,1038.3 923.9,1042.2 921.3,1046.2 918.5,1050.1 915.7,1054.0" fill="none" stroke="#bdbdbd" stroke-width="0.7"/>
<polyline points="912.8,960.0 914.9,963.9 917.1,967.8 919.2,971.8 921.3,975.7 923.3,979.6 925.2,983.5 927.1,987.4 928.9,991.3 930.6,995.2 932.3,999.2 933.8,1003.1 935.2,1007.0 936.3,1010.9 936.3,1014.8 934.7,1018.8 932.8,1022.7 930.7,1026.6 928.5,1030.5 926.1,1034.4 923.6,1038.3 921.0,1042.2 918.3,1046.2 915.6,1050.1 912.8,1054.0" fill="none" stroke="#7e7e7e" stroke-width="1.2"/>
<ellipse cx="922.5" cy="978" rx="1.5" ry="2.3" fill="#262626" opacity="0.85"/>
<ellipse cx="931.0" cy="996" rx="1.2" ry="1.8" fill="#262626" opacity="0.5"/>
<ellipse cx="936.8" cy="1013" rx="1.7" ry="2.5" fill="#262626" opacity="0.85"/>
<ellipse cx="929.9" cy="1028" rx="1.4" ry="2.1" fill="#262626" opacity="0.8"/>
<ellipse cx="921.2" cy="1042" rx="1.3" ry="2.0" fill="#262626" opacity="0.6"/>
<polygon points="927.3,960.0 931.9,968.2 936.3,976.5 950.9,976.5 946.5,968.2 941.9,960.0" fill="#cdcdcd"/>
<polygon points="932.4,960.0 937.0,968.2 941.4,976.5 945.0,976.5 940.7,968.2 936.1,960.0" fill="#f6f6f6" opacity="0.45"/>
<polygon points="936.3,976.5 940.8,985.5 944.9,994.5 959.5,994.5 955.3,985.5 950.9,976.5" fill="#e0e0e0"/>
<polygon points="941.4,976.5 945.9,985.5 950.0,994.5 953.6,994.5 949.5,985.5 945.0,976.5" fill="#f6f6f6" opacity="0.8"/>
<polygon points="944.9,994.5 948.3,1003.0 951.1,1011.5 965.6,1011.5 962.9,1003.0 959.5,994.5" fill="#cdcdcd"/>
<polygon points="950.0,994.5 953.5,1003.0 956.2,1011.5 959.8,1011.5 957.1,1003.0 953.6,994.5" fill="#f6f6f6" opacity="0.45"/>
<polygon points="951.1,1011.5 949.2,1019.0 945.3,1026.5 959.9,1026.5 963.7,1019.0 965.6,1011.5" fill="#e0e0e0"/>
<polygon points="956.2,1011.5 954.3,1019.0 950.5,1026.5 954.1,1026.5 957.9,1019.0 959.8,1011.5" fill="#f6f6f6" opacity="0.8"/>
<polygon points="945.3,1026.5 941.2,1033.5 936.8,1040.5 951.3,1040.5 955.8,1033.5 959.9,1026.5" fill="#cdcdcd"/>
<polygon points="950.5,1026.5 946.3,1033.5 941.9,1040.5 945.5,1040.5 950.0,1033.5 954.1,1026.5" fill="#f6f6f6" opacity="0.45"/>
<polygon points="936.8,1040.5 932.2,1047.2 927.3,1054.0 941.9,1054.0 946.7,1047.2 951.3,1040.5" fill="#e0e0e0"/>
<polygon points="941.9,1040.5 937.3,1047.2 932.4,1054.0 936.1,1054.0 940.9,1047.2 945.5,1040.5" fill="#f6f6f6" opacity="0.8"/>
<polyline points="938.7,960.0 940.9,963.9 943.1,967.8 945.2,971.8 947.2,975.7 949.2,979.6 951.2,983.5 953.1,987.4 954.9,991.3 956.6,995.2 958.2,999.2 959.8,1003.1 961.1,1007.0 962.3,1010.9 962.2,1014.8 960.6,1018.8 958.8,1022.7 956.7,1026.6 954.4,1030.5 952.1,1034.4 949.6,1038.3 947.0,1042.2 944.3,1046.2 941.5,1050.1 938.7,1054.0" fill="none" stroke="#a4a4a4" stroke-width="0.8"/>
<polyline points="930.2,960.0 932.4,963.9 934.6,967.8 936.7,971.8 938.8,975.7 940.8,979.6 942.7,983.5 944.6,987.4 946.4,991.3 948.1,995.2 949.8,999.2 951.3,1003.1 952.7,1007.0 953.8,1010.9 953.8,1014.8 952.2,1018.8 950.3,1022.7 948.2,1026.6 946.0,1030.5 943.6,1034.4 941.1,1038.3 938.5,1042.2 935.8,1046.2 933.1,1050.1 930.2,1054.0" fill="none" stroke="#bdbdbd" stroke-width="0.7"/>
<polyline points="927.3,960.0 929.5,963.9 931.7,967.8 933.8,971.8 935.8,975.7 937.8,979.6 939.8,983.5 941.7,987.4 943.5,991.3 945.2,995.2 946.9,999.2 948.4,1003.1 949.8,1007.0 950.9,1010.9 950.8,1014.8 949.3,1018.8 947.4,1022.7 945.3,1026.6 943.1,1030.5 940.7,1034.4 938.2,1038.3 935.6,1042.2 932.9,1046.2 930.2,1050.1 927.3,1054.0" fill="none" stroke="#7e7e7e" stroke-width="1.2"/>
<ellipse cx="937.0" cy="978" rx="1.5" ry="2.3" fill="#262626" opacity="0.85"/>
<ellipse cx="945.5" cy="996" rx="1.2" ry="1.8" fill="#262626" opacity="0.5"/>
<ellipse cx="951.3" cy="1013" rx="1.7" ry="2.5" fill="#262626" opacity="0.85"/>
<ellipse cx="944.5" cy="1028" rx="1.4" ry="2.1" fill="#262626" opacity="0.8"/>
<ellipse cx="935.8" cy="1042" rx="1.3" ry="2.0" fill="#262626" opacity="0.6"/>
<polygon points="941.9,960.0 947.3,969.8 952.4,979.5 967.0,979.5 961.9,969.8 956.5,960.0" fill="#e0e0e0"/>
<polygon points="947.0,960.0 952.4,969.8 957.5,979.5 961.1,979.5 956.1,969.8 950.7,960.0" fill="#f6f6f6" opacity="0.8"/>
<polygon points="952.4,979.5 956.8,988.5 960.8,997.5 975.3,997.5 971.4,988.5 967.0,979.5" fill="#cdcdcd"/>
<polygon points="957.5,979.5 961.9,988.5 965.9,997.5 969.5,997.5 965.5,988.5 961.1,979.5" fill="#f6f6f6" opacity="0.45"/>
<polygon points="960.8,997.5 964.0,1006.0 965.5,1014.5 980.1,1014.5 978.6,1006.0 975.3,997.5" fill="#e0e0e0"/>
<polygon points="965.9,997.5 969.1,1006.0 970.6,1014.5 974.3,1014.5 972.8,1006.0 969.5,997.5" fill="#f6f6f6" opacity="0.8"/>
<polygon points="965.5,1014.5 962.3,1022.0 958.2,1029.5 972.8,1029.5 976.9,1022.0 980.1,1014.5" fill="#cdcdcd"/>
<polygon points="970.6,1014.5 967.4,1022.0 963.3,1029.5 967.0,1029.5 971.1,1022.0 974.3,1014.5" fill="#f6f6f6" opacity="0.45"/>
<polygon points="958.2,1029.5 953.9,1036.5 949.3,1043.5 963.9,1043.5 968.5,1036.5 972.8,1029.5" fill="#e0e0e0"/>
<polygon points="963.3,1029.5 959.1,1036.5 954.4,1043.5 958.1,1043.5 962.7,1036.5 967.0,1029.5" fill="#f6f6f6" opacity="0.8"/>
<polygon points="949.3,1043.5 945.7,1048.8 941.9,1054.0 956.5,1054.0 960.3,1048.8 963.9,1043.5" fill="#cdcdcd"/>
<polygon points="954.4,1043.5 950.8,1048.8 947.0,1054.0 950.7,1054.0 954.4,1048.8 958.1,1043.5" fill="#f6f6f6" opacity="0.45"/>
<polyline points="953.3,960.0 955.5,963.9 957.6,967.8 959.7,971.8 961.8,975.7 963.8,979.6 965.8,983.5 967.6,987.4 969.4,991.3 971.2,995.2 972.8,999.2 974.3,1003.1 975.7,1007.0 976.9,1010.9 976.8,1014.8 975.2,1018.8 973.3,1022.7 971.3,1026.6 969.0,1030.5 966.6,1034.4 964.1,1038.3 961.6,1042.2 958.9,1046.2 956.1,1050.1 953.3,1054.0" fill="none" stroke="#a4a4a4" stroke-width="0.8"/>
<polyline points="944.8,960.0 947.0,963.9 949.2,967.8 951.3,971.8 953.3,975.7 955.3,979.6 957.3,983.5 959.2,987.4 961.0,991.3 962.7,995.2 964.4,999.2 965.9,1003.1 967.3,1007.0 968.4,1010.9 968.3,1014.8 966.8,1018.8 964.9,1022.7 962.8,1026.6 960.6,1030.5 958.2,1034.4 955.7,1038.3 953.1,1042.2 950.4,1046.2 947.7,1050.1 944.8,1054.0" fill="none" stroke="#bdbdbd" stroke-width="0.7"/>
<polyline points="941.9,960.0 944.1,963.9 946.3,967.8 948.4,971.8 950.4,975.7 952.4,979.6 954.4,983.5 956.3,987.4 958.1,991.3 959.8,995.2 961.4,999.2 963.0,1003.1 964.3,1007.0 965.5,1010.9 965.4,1014.8 963.9,1018.8 962.0,1022.7 959.9,1026.6 957.6,1030.5 955.3,1034.4 952.8,1038.3 950.2,1042.2 947.5,1046.2 944.7,1050.1 941.9,1054.0" fill="none" stroke="#7e7e7e" stroke-width="1.2"/>
<ellipse cx="951.6" cy="978" rx="1.5" ry="2.3" fill="#262626" opacity="0.85"/>
<ellipse cx="960.1" cy="996" rx="1.2" ry="1.8" fill="#262626" opacity="0.5"/>
<ellipse cx="965.9" cy="1013" rx="1.7" ry="2.5" fill="#262626" opacity="0.85"/>
<ellipse cx="959.1" cy="1028" rx="1.4" ry="2.1" fill="#262626" opacity="0.8"/>
<ellipse cx="950.3" cy="1042" rx="1.3" ry="2.0" fill="#262626" opacity="0.6"/>
<polygon points="956.5,960.0 962.7,971.2 968.5,982.5 983.1,982.5 977.3,971.2 971.1,960.0" fill="#cdcdcd"/>
<polygon points="961.6,960.0 967.8,971.2 973.6,982.5 977.2,982.5 971.4,971.2 965.2,960.0" fill="#f6f6f6" opacity="0.45"/>
<polygon points="968.5,982.5 972.7,991.5 976.6,1000.5 991.1,1000.5 987.3,991.5 983.1,982.5" fill="#e0e0e0"/>
<polygon points="973.6,982.5 977.8,991.5 981.7,1000.5 985.3,1000.5 981.5,991.5 977.2,982.5" fill="#f6f6f6" opacity="0.8"/>
<polygon points="976.6,1000.5 979.6,1009.0 979.0,1017.5 993.6,1017.5 994.1,1009.0 991.1,1000.5" fill="#cdcdcd"/>
<polygon points="981.7,1000.5 984.7,1009.0 984.1,1017.5 987.7,1017.5 988.3,1009.0 985.3,1000.5" fill="#f6f6f6" opacity="0.45"/>
<polygon points="979.0,1017.5 975.3,1025.0 971.0,1032.5 985.6,1032.5 989.9,1025.0 993.6,1017.5" fill="#e0e0e0"/>
<polygon points="984.1,1017.5 980.4,1025.0 976.1,1032.5 979.8,1032.5 984.1,1025.0 987.7,1017.5" fill="#f6f6f6" opacity="0.8"/>
<polygon points="971.0,1032.5 966.6,1039.5 961.9,1046.5 976.4,1046.5 981.2,1039.5 985.6,1032.5" fill="#cdcdcd"/>
<polygon points="976.1,1032.5 971.7,1039.5 967.0,1046.5 970.6,1046.5 975.3,1039.5 979.8,1032.5" fill="#f6f6f6" opacity="0.45"/>
<polygon points="961.9,1046.5 959.2,1050.2 956.5,1054.0 971.1,1054.0 973.8,1050.2 976.4,1046.5" fill="#e0e0e0"/>
<polygon points="967.0,1046.5 964.3,1050.2 961.6,1054.0 965.2,1054.0 968.0,1050.2 970.6,1046.5" fill="#f6f6f6" opacity="0.8"/>
<polyline points="967.9,960.0 970.1,963.9 972.2,967.8 974.3,971.8 976.4,975.7 978.4,979.6 980.3,983.5 982.2,987.4 984.0,991.3 985.8,995.2 987.4,999.2 988.9,1003.1 990.3,1007.0 991.5,1010.9 991.4,1014.8 989.8,1018.8 987.9,1022.7 985.8,1026.6 983.6,1030.5 981.2,1034.4 978.7,1038.3 976.1,1042.2 973.5,1046.2 970.7,1050.1 967.9,1054.0" fill="none" stroke="#a4a4a4" stroke-width="0.8"/>
<polyline points="959.4,960.0 961.6,963.9 963.8,967.8 965.9,971.8 967.9,975.7 969.9,979.6 971.9,983.5 973.8,987.4 975.6,991.3 977.3,995.2 978.9,999.2 980.5,1003.1 981.8,1007.0 983.0,1010.9 982.9,1014.8 981.4,1018.8 979.5,1022.7 977.4,1026.6 975.1,1030.5 972.8,1034.4 970.3,1038.3 967.7,1042.2 965.0,1046.2 962.2,1050.1 959.4,1054.0" fill="none" stroke="#bdbdbd" stroke-width="0.7"/>
<polyline points="956.5,960.0 958.7,963.9 960.8,967.8 963.0,971.8 965.0,975.7 967.0,979.6 969.0,983.5 970.8,987.4 972.7,991.3 974.4,995.2 976.0,999.2 977.5,1003.1 978.9,1007.0 980.1,1010.9 980.0,1014.8 978.4,1018.8 976.6,1022.7 974.5,1026.6 972.2,1030.5 969.8,1034.4 967.4,1038.3 964.8,1042.2 962.1,1046.2 959.3,1050.1 956.5,1054.0" fill="none" stroke="#7e7e7e" stroke-width="1.2"/>
<ellipse cx="966.2" cy="978" rx="1.5" ry="2.3" fill="#262626" opacity="0.85"/>
<ellipse cx="974.7" cy="996" rx="1.2" ry="1.8" fill="#262626" opacity="0.5"/>
<ellipse cx="980.5" cy="1013" rx="1.7" ry="2.5" fill="#262626" opacity="0.85"/>
<ellipse cx="973.7" cy="1028" rx="1.4" ry="2.1" fill="#262626" opacity="0.8"/>
<ellipse cx="964.9" cy="1042" rx="1.3" ry="2.0" fill="#262626" opacity="0.6"/>
<polygon points="971.1,960.0 974.8,966.8 978.5,973.5 993.0,973.5 989.4,966.8 985.7,960.0" fill="#e0e0e0"/>
<polygon points="976.2,960.0 979.9,966.8 983.6,973.5 987.2,973.5 983.6,966.8 979.8,960.0" fill="#f6f6f6" opacity="0.8"/>
<polygon points="978.5,973.5 983.1,982.5 987.3,991.5 1001.9,991.5 997.6,982.5 993.0,973.5" fill="#cdcdcd"/>
<polygon points="983.6,973.5 988.2,982.5 992.4,991.5 996.1,991.5 991.8,982.5 987.2,973.5" fill="#f6f6f6" opacity="0.45"/>
<polygon points="987.3,991.5 990.9,1000.0 994.0,1008.5 1008.6,1008.5 1005.5,1000.0 1001.9,991.5" fill="#e0e0e0"/>
<polygon points="992.4,991.5 996.0,1000.0 999.1,1008.5 1002.7,1008.5 999.7,1000.0 996.1,991.5" fill="#f6f6f6" opacity="0.8"/>
<polygon points="994.0,1008.5 994.2,1016.0 990.7,1023.5 1005.3,1023.5 1008.8,1016.0 1008.6,1008.5" fill="#cdcdcd"/>
<polygon points="999.1,1008.5 999.3,1016.0 995.8,1023.5 999.5,1023.5 1002.9,1016.0 1002.7,1008.5" fill="#f6f6f6" opacity="0.45"/>
<polygon points="990.7,1023.5 986.8,1030.5 982.5,1037.5 997.1,1037.5 1001.4,1030.5 1005.3,1023.5" fill="#e0e0e0"/>
<polygon points="995.8,1023.5 991.9,1030.5 987.6,1037.5 991.2,1037.5 995.6,1030.5 999.5,1023.5" fill="#f6f6f6" opacity="0.8"/>
<polygon points="982.5,1037.5 977.0,1045.8 971.1,1054.0 985.7,1054.0 991.5,1045.8 997.1,1037.5" fill="#cdcdcd"/>
<polygon points="987.6,1037.5 982.1,1045.8 976.2,1054.0 979.8,1054.0 985.7,1045.8 991.2,1037.5" fill="#f6f6f6" opacity="0.45"/>
<polyline points="982.5,960.0 984.7,963.9 986.8,967.8 988.9,971.8 991.0,975.7 993.0,979.6 994.9,983.5 996.8,987.4 998.6,991.3 1000.3,995.2 1002.0,999.2 1003.5,1003.1 1004.9,1007.0 1006.0,1010.9 1006.0,1014.8 1004.4,1018.8 1002.5,1022.7 1000.4,1026.6 998.2,1030.5 995.8,1034.4 993.3,1038.3 990.7,1042.2 988.0,1046.2 985.3,1050.1 982.5,1054.0" fill="none" stroke="#a4a4a4" stroke-width="0.8"/>
<polyline points="974.0,960.0 976.2,963.9 978.3,967.8 980.5,971.8 982.5,975.7 984.5,979.6 986.5,983.5 988.3,987.4 990.2,991.3 991.9,995.2 993.5,999.2 995.0,1003.1 996.4,1007.0 997.6,1010.9 997.5,1014.8 995.9,1018.8 994.1,1022.7 992.0,1026.6 989.7,1030.5 987.3,1034.4 984.9,1038.3 982.3,1042.2 979.6,1046.2 976.8,1050.1 974.0,1054.0" fill="none" stroke="#bdbdbd" stroke-width="0.7"/>
<polyline points="971.1,960.0 973.3,963.9 975.4,967.8 977.5,971.8 979.6,975.7 981.6,979.6 983.5,983.5 985.4,987.4 987.2,991.3 989.0,995.2 990.6,999.2 992.1,1003.1 993.5,1007.0 994.7,1010.9 994.6,1014.8 993.0,1018.8 991.1,1022.7 989.1,1026.6 986.8,1030.5 984.4,1034.4 981.9,1038.3 979.3,1042.2 976.7,1046.2 973.9,1050.1 971.1,1054.0" fill="none" stroke="#7e7e7e" stroke-width="1.2"/>
<ellipse cx="980.8" cy="978" rx="1.5" ry="2.3" fill="#262626" opacity="0.85"/>
<ellipse cx="989.3" cy="996" rx="1.2" ry="1.8" fill="#262626" opacity="0.5"/>
<ellipse cx="995.1" cy="1013" rx="1.7" ry="2.5" fill="#262626" opacity="0.85"/>
<ellipse cx="988.3" cy="1028" rx="1.4" ry="2.1" fill="#262626" opacity="0.8"/>
<ellipse cx="979.5" cy="1042" rx="1.3" ry="2.0" fill="#262626" opacity="0.6"/>
<polygon points="985.7,960.0 990.2,968.2 994.6,976.5 1009.2,976.5 1004.8,968.2 1000.2,960.0" fill="#cdcdcd"/>
<polygon points="990.8,960.0 995.3,968.2 999.7,976.5 1003.4,976.5 999.0,968.2 994.4,960.0" fill="#f6f6f6" opacity="0.45"/>
<polygon points="994.6,976.5 999.1,985.5 1003.2,994.5 1017.8,994.5 1013.7,985.5 1009.2,976.5" fill="#e0e0e0"/>
<polygon points="999.7,976.5 1004.2,985.5 1008.3,994.5 1012.0,994.5 1007.8,985.5 1003.4,976.5" fill="#f6f6f6" opacity="0.8"/>
<polygon points="1003.2,994.5 1006.7,1003.0 1009.4,1011.5 1024.0,1011.5 1021.3,1003.0 1017.8,994.5" fill="#cdcdcd"/>
<polygon points="1008.3,994.5 1011.8,1003.0 1014.5,1011.5 1018.1,1011.5 1015.4,1003.0 1012.0,994.5" fill="#f6f6f6" opacity="0.45"/>
<polygon points="1009.4,1011.5 1007.5,1019.0 1003.7,1026.5 1018.3,1026.5 1022.1,1019.0 1024.0,1011.5" fill="#e0e0e0"/>
<polygon points="1014.5,1011.5 1012.6,1019.0 1008.8,1026.5 1012.4,1026.5 1016.2,1019.0 1018.1,1011.5" fill="#f6f6f6" opacity="0.8"/>
<polygon points="1003.7,1026.5 999.6,1033.5 995.1,1040.5 1009.7,1040.5 1014.2,1033.5 1018.3,1026.5" fill="#cdcdcd"/>
<polygon points="1008.8,1026.5 1004.7,1033.5 1000.2,1040.5 1003.8,1040.5 1008.3,1033.5 1012.4,1026.5" fill="#f6f6f6" opacity="0.45"/>
<polygon points="995.1,1040.5 990.5,1047.2 985.7,1054.0 1000.2,1054.0 1005.1,1047.2 1009.7,1040.5" fill="#e0e0e0"/>
<polygon points="1000.2,1040.5 995.6,1047.2 990.8,1054.0 994.4,1054.0 999.2,1047.2 1003.8,1040.5" fill="#f6f6f6" opacity="0.8"/>
<polyline points="997.0,960.0 999.2,963.9 1001.4,967.8 1003.5,971.8 1005.6,975.7 1007.6,979.6 1009.5,983.5 1011.4,987.4 1013.2,991.3 1014.9,995.2 1016.6,999.2 1018.1,1003.1 1019.5,1007.0 1020.6,1010.9 1020.5,1014.8 1019.0,1018.8 1017.1,1022.7 1015.0,1026.6 1012.8,1030.5 1010.4,1034.4 1007.9,1038.3 1005.3,1042.2 1002.6,1046.2 999.9,1050.1 997.0,1054.0" fill="none" stroke="#a4a4a4" stroke-width="0.8"/>
<polyline points="988.6,960.0 990.8,963.9 992.9,967.8 995.0,971.8 997.1,975.7 999.1,979.6 1001.0,983.5 1002.9,987.4 1004.7,991.3 1006.5,995.2 1008.1,999.2 1009.6,1003.1 1011.0,1007.0 1012.2,1010.9 1012.1,1014.8 1010.5,1018.8 1008.6,1022.7 1006.6,1026.6 1004.3,1030.5 1001.9,1034.4 999.4,1038.3 996.8,1042.2 994.2,1046.2 991.4,1050.1 988.6,1054.0" fill="none" stroke="#bdbdbd" stroke-width="0.7"/>
<polyline points="985.7,960.0 987.9,963.9 990.0,967.8 992.1,971.8 994.2,975.7 996.2,979.6 998.1,983.5 1000.0,987.4 1001.8,991.3 1003.6,995.2 1005.2,999.2 1006.7,1003.1 1008.1,1007.0 1009.2,1010.9 1009.2,1014.8 1007.6,1018.8 1005.7,1022.7 1003.6,1026.6 1001.4,1030.5 999.0,1034.4 996.5,1038.3 993.9,1042.2 991.3,1046.2 988.5,1050.1 985.7,1054.0" fill="none" stroke="#7e7e7e" stroke-width="1.2"/>
<ellipse cx="995.4" cy="978" rx="1.5" ry="2.3" fill="#262626" opacity="0.85"/>
<ellipse cx="1003.9" cy="996" rx="1.2" ry="1.8" fill="#262626" opacity="0.5"/>
<ellipse cx="1009.7" cy="1013" rx="1.7" ry="2.5" fill="#262626" opacity="0.85"/>
<ellipse cx="1002.8" cy="1028" rx="1.4" ry="2.1" fill="#262626" opacity="0.8"/>
<ellipse cx="994.1" cy="1042" rx="1.3" ry="2.0" fill="#262626" opacity="0.6"/>
<polygon points="1000.2,960.0 1005.6,969.8 1010.7,979.5 1025.3,979.5 1020.2,969.8 1014.8,960.0" fill="#e0e0e0"/>
<polygon points="1005.4,960.0 1010.7,969.8 1015.8,979.5 1019.5,979.5 1014.4,969.8 1009.0,960.0" fill="#f6f6f6" opacity="0.8"/>
<polygon points="1010.7,979.5 1015.1,988.5 1019.1,997.5 1033.7,997.5 1029.7,988.5 1025.3,979.5" fill="#cdcdcd"/>
<polygon points="1015.8,979.5 1020.2,988.5 1024.2,997.5 1027.8,997.5 1023.9,988.5 1019.5,979.5" fill="#f6f6f6" opacity="0.45"/>
<polygon points="1019.1,997.5 1022.3,1006.0 1023.9,1014.5 1038.4,1014.5 1036.9,1006.0 1033.7,997.5" fill="#e0e0e0"/>
<polygon points="1024.2,997.5 1027.4,1006.0 1029.0,1014.5 1032.6,1014.5 1031.1,1006.0 1027.8,997.5" fill="#f6f6f6" opacity="0.8"/>
<polygon points="1023.9,1014.5 1020.6,1022.0 1016.6,1029.5 1031.1,1029.5 1035.2,1022.0 1038.4,1014.5" fill="#cdcdcd"/>
<polygon points="1029.0,1014.5 1025.7,1022.0 1021.7,1029.5 1025.3,1029.5 1029.4,1022.0 1032.6,1014.5" fill="#f6f6f6" opacity="0.45"/>
<polygon points="1016.6,1029.5 1012.3,1036.5 1007.7,1043.5 1022.3,1043.5 1026.9,1036.5 1031.1,1029.5" fill="#e0e0e0"/>
<polygon points="1021.7,1029.5 1017.4,1036.5 1012.8,1043.5 1016.4,1043.5 1021.0,1036.5 1025.3,1029.5" fill="#f6f6f6" opacity="0.8"/>
<polygon points="1007.7,1043.5 1004.0,1048.8 1000.2,1054.0 1014.8,1054.0 1018.6,1048.8 1022.3,1043.5" fill="#cdcdcd"/>
<polygon points="1012.8,1043.5 1009.1,1048.8 1005.4,1054.0 1009.0,1054.0 1012.8,1048.8 1016.4,1043.5" fill="#f6f6f6" opacity="0.45"/>
<polyline points="1011.6,960.0 1013.8,963.9 1016.0,967.8 1018.1,971.8 1020.1,975.7 1022.1,979.6 1024.1,983.5 1026.0,987.4 1027.8,991.3 1029.5,995.2 1031.1,999.2 1032.7,1003.1 1034.0,1007.0 1035.2,1010.9 1035.1,1014.8 1033.6,1018.8 1031.7,1022.7 1029.6,1026.6 1027.3,1030.5 1025.0,1034.4 1022.5,1038.3 1019.9,1042.2 1017.2,1046.2 1014.5,1050.1 1011.6,1054.0" fill="none" stroke="#a4a4a4" stroke-width="0.8"/>
<polyline points="1003.2,960.0 1005.4,963.9 1007.5,967.8 1009.6,971.8 1011.7,975.7 1013.7,979.6 1015.6,983.5 1017.5,987.4 1019.3,991.3 1021.1,995.2 1022.7,999.2 1024.2,1003.1 1025.6,1007.0 1026.7,1010.9 1026.7,1014.8 1025.1,1018.8 1023.2,1022.7 1021.1,1026.6 1018.9,1030.5 1016.5,1034.4 1014.0,1038.3 1011.4,1042.2 1008.8,1046.2 1006.0,1050.1 1003.2,1054.0" fill="none" stroke="#bdbdbd" stroke-width="0.7"/>
<polyline points="1000.2,960.0 1002.4,963.9 1004.6,967.8 1006.7,971.8 1008.8,975.7 1010.8,979.6 1012.7,983.5 1014.6,987.4 1016.4,991.3 1018.1,995.2 1019.8,999.2 1021.3,1003.1 1022.7,1007.0 1023.8,1010.9 1023.8,1014.8 1022.2,1018.8 1020.3,1022.7 1018.2,1026.6 1016.0,1030.5 1013.6,1034.4 1011.1,1038.3 1008.5,1042.2 1005.8,1046.2 1003.1,1050.1 1000.2,1054.0" fill="none" stroke="#7e7e7e" stroke-width="1.2"/>
<ellipse cx="1010.0" cy="978" rx="1.5" ry="2.3" fill="#262626" opacity="0.85"/>
<ellipse cx="1018.5" cy="996" rx="1.2" ry="1.8" fill="#262626" opacity="0.5"/>
<ellipse cx="1024.2" cy="1013" rx="1.7" ry="2.5" fill="#262626" opacity="0.85"/>
<ellipse cx="1017.4" cy="1028" rx="1.4" ry="2.1" fill="#262626" opacity="0.8"/>
<ellipse cx="1008.7" cy="1042" rx="1.3" ry="2.0" fill="#262626" opacity="0.6"/>
<polygon points="1014.8,960.0 1021.0,971.2 1026.8,982.5 1041.4,982.5 1035.6,971.2 1029.4,960.0" fill="#cdcdcd"/>
<polygon points="1019.9,960.0 1026.1,971.2 1031.9,982.5 1035.6,982.5 1029.8,971.2 1023.6,960.0" fill="#f6f6f6" opacity="0.45"/>
<polygon points="1026.8,982.5 1031.1,991.5 1034.9,1000.5 1049.5,1000.5 1045.6,991.5 1041.4,982.5" fill="#e0e0e0"/>
<polygon points="1031.9,982.5 1036.2,991.5 1040.0,1000.5 1043.6,1000.5 1039.8,991.5 1035.6,982.5" fill="#f6f6f6" opacity="0.8"/>
<polygon points="1034.9,1000.5 1037.9,1009.0 1037.3,1017.5 1051.9,1017.5 1052.5,1009.0 1049.5,1000.5" fill="#cdcdcd"/>
<polygon points="1040.0,1000.5 1043.0,1009.0 1042.4,1017.5 1046.1,1017.5 1046.6,1009.0 1043.6,1000.5" fill="#f6f6f6" opacity="0.45"/>
<polygon points="1037.3,1017.5 1033.7,1025.0 1029.4,1032.5 1043.9,1032.5 1048.3,1025.0 1051.9,1017.5" fill="#e0e0e0"/>
<polygon points="1042.4,1017.5 1038.8,1025.0 1034.5,1032.5 1038.1,1032.5 1042.4,1025.0 1046.1,1017.5" fill="#f6f6f6" opacity="0.8"/>
<polygon points="1029.4,1032.5 1024.9,1039.5 1020.2,1046.5 1034.8,1046.5 1039.5,1039.5 1043.9,1032.5" fill="#cdcdcd"/>
<polygon points="1034.5,1032.5 1030.0,1039.5 1025.3,1046.5 1028.9,1046.5 1033.7,1039.5 1038.1,1032.5" fill="#f6f6f6" opacity="0.45"/>
<polygon points="1020.2,1046.5 1017.5,1050.2 1014.8,1054.0 1029.4,1054.0 1032.1,1050.2 1034.8,1046.5" fill="#e0e0e0"/>
<polygon points="1025.3,1046.5 1022.6,1050.2 1019.9,1054.0 1023.6,1054.0 1026.3,1050.2 1028.9,1046.5" fill="#f6f6f6" opacity="0.8"/>
<polyline points="1026.2,960.0 1028.4,963.9 1030.6,967.8 1032.7,971.8 1034.7,975.7 1036.7,979.6 1038.7,983.5 1040.6,987.4 1042.4,991.3 1044.1,995.2 1045.7,999.2 1047.3,1003.1 1048.6,1007.0 1049.8,1010.9 1049.7,1014.8 1048.1,1018.8 1046.3,1022.7 1044.2,1026.6 1041.9,1030.5 1039.6,1034.4 1037.1,1038.3 1034.5,1042.2 1031.8,1046.2 1029.0,1050.1 1026.2,1054.0" fill="none" stroke="#a4a4a4" stroke-width="0.8"/>
<polyline points="1017.8,960.0 1019.9,963.9 1022.1,967.8 1024.2,971.8 1026.3,975.7 1028.3,979.6 1030.2,983.5 1032.1,987.4 1033.9,991.3 1035.6,995.2 1037.3,999.2 1038.8,1003.1 1040.2,1007.0 1041.3,1010.9 1041.3,1014.8 1039.7,1018.8 1037.8,1022.7 1035.7,1026.6 1033.5,1030.5 1031.1,1034.4 1028.6,1038.3 1026.0,1042.2 1023.3,1046.2 1020.6,1050.1 1017.8,1054.0" fill="none" stroke="#bdbdbd" stroke-width="0.7"/>
<polyline points="1014.8,960.0 1017.0,963.9 1019.2,967.8 1021.3,971.8 1023.3,975.7 1025.3,979.6 1027.3,983.5 1029.2,987.4 1031.0,991.3 1032.7,995.2 1034.4,999.2 1035.9,1003.1 1037.3,1007.0 1038.4,1010.9 1038.3,1014.8 1036.8,1018.8 1034.9,1022.7 1032.8,1026.6 1030.6,1030.5 1028.2,1034.4 1025.7,1038.3 1023.1,1042.2 1020.4,1046.2 1017.7,1050.1 1014.8,1054.0" fill="none" stroke="#7e7e7e" stroke-width="1.2"/>
<ellipse cx="1024.5" cy="978" rx="1.5" ry="2.3" fill="#262626" opacity="0.85"/>
<ellipse cx="1033.0" cy="996" rx="1.2" ry="1.8" fill="#262626" opacity="0.5"/>
<ellipse cx="1038.8" cy="1013" rx="1.7" ry="2.5" fill="#262626" opacity="0.85"/>
<ellipse cx="1032.0" cy="1028" rx="1.4" ry="2.1" fill="#262626" opacity="0.8"/>
<ellipse cx="1023.3" cy="1042" rx="1.3" ry="2.0" fill="#262626" opacity="0.6"/>
<polygon points="1029.4,960.0 1033.2,966.8 1036.8,973.5 1051.4,973.5 1047.8,966.8 1044.0,960.0" fill="#e0e0e0"/>
<polygon points="1034.5,960.0 1038.3,966.8 1041.9,973.5 1045.5,973.5 1041.9,966.8 1038.2,960.0" fill="#f6f6f6" opacity="0.8"/>
<polygon points="1036.8,973.5 1041.4,982.5 1045.6,991.5 1060.2,991.5 1056.0,982.5 1051.4,973.5" fill="#cdcdcd"/>
<polygon points="1041.9,973.5 1046.5,982.5 1050.8,991.5 1054.4,991.5 1050.1,982.5 1045.5,973.5" fill="#f6f6f6" opacity="0.45"/>
<polygon points="1045.6,991.5 1049.3,1000.0 1052.3,1008.5 1066.9,1008.5 1063.9,1000.0 1060.2,991.5" fill="#e0e0e0"/>
<polygon points="1050.8,991.5 1054.4,1000.0 1057.4,1008.5 1061.1,1008.5 1058.0,1000.0 1054.4,991.5" fill="#f6f6f6" opacity="0.8"/>
<polygon points="1052.3,1008.5 1052.5,1016.0 1049.0,1023.5 1063.6,1023.5 1067.1,1016.0 1066.9,1008.5" fill="#cdcdcd"/>
<polygon points="1057.4,1008.5 1057.6,1016.0 1054.1,1023.5 1057.8,1023.5 1061.3,1016.0 1061.1,1008.5" fill="#f6f6f6" opacity="0.45"/>
<polygon points="1049.0,1023.5 1045.1,1030.5 1040.8,1037.5 1055.4,1037.5 1059.7,1030.5 1063.6,1023.5" fill="#e0e0e0"/>
<polygon points="1054.1,1023.5 1050.2,1030.5 1045.9,1037.5 1049.6,1037.5 1053.9,1030.5 1057.8,1023.5" fill="#f6f6f6" opacity="0.8"/>
<polygon points="1040.8,1037.5 1035.3,1045.8 1029.4,1054.0 1044.0,1054.0 1049.9,1045.8 1055.4,1037.5" fill="#cdcdcd"/>
<polygon points="1045.9,1037.5 1040.4,1045.8 1034.5,1054.0 1038.2,1054.0 1044.0,1045.8 1049.6,1037.5" fill="#f6f6f6" opacity="0.45"/>
<polyline points="1040.8,960.0 1043.0,963.9 1045.1,967.8 1047.2,971.8 1049.3,975.7 1051.3,979.6 1053.3,983.5 1055.1,987.4 1056.9,991.3 1058.7,995.2 1060.3,999.2 1061.8,1003.1 1063.2,1007.0 1064.4,1010.9 1064.3,1014.8 1062.7,1018.8 1060.8,1022.7 1058.8,1026.6 1056.5,1030.5 1054.1,1034.4 1051.6,1038.3 1049.1,1042.2 1046.4,1046.2 1043.6,1050.1 1040.8,1054.0" fill="none" stroke="#a4a4a4" stroke-width="0.8"/>
<polyline points="1032.3,960.0 1034.5,963.9 1036.7,967.8 1038.8,971.8 1040.8,975.7 1042.8,979.6 1044.8,983.5 1046.7,987.4 1048.5,991.3 1050.2,995.2 1051.9,999.2 1053.4,1003.1 1054.8,1007.0 1055.9,1010.9 1055.8,1014.8 1054.3,1018.8 1052.4,1022.7 1050.3,1026.6 1048.1,1030.5 1045.7,1034.4 1043.2,1038.3 1040.6,1042.2 1037.9,1046.2 1035.2,1050.1 1032.3,1054.0" fill="none" stroke="#bdbdbd" stroke-width="0.7"/>
<polyline points="1029.4,960.0 1031.6,963.9 1033.8,967.8 1035.9,971.8 1037.9,975.7 1039.9,979.6 1041.9,983.5 1043.8,987.4 1045.6,991.3 1047.3,995.2 1048.9,999.2 1050.5,1003.1 1051.8,1007.0 1053.0,1010.9 1052.9,1014.8 1051.4,1018.8 1049.5,1022.7 1047.4,1026.6 1045.1,1030.5 1042.8,1034.4 1040.3,1038.3 1037.7,1042.2 1035.0,1046.2 1032.2,1050.1 1029.4,1054.0" fill="none" stroke="#7e7e7e" stroke-width="1.2"/>
<ellipse cx="1039.1" cy="978" rx="1.5" ry="2.3" fill="#262626" opacity="0.85"/>
<ellipse cx="1047.6" cy="996" rx="1.2" ry="1.8" fill="#262626" opacity="0.5"/>
<ellipse cx="1053.4" cy="1013" rx="1.7" ry="2.5" fill="#262626" opacity="0.85"/>
<ellipse cx="1046.6" cy="1028" rx="1.4" ry="2.1" fill="#262626" opacity="0.8"/>
<ellipse cx="1037.8" cy="1042" rx="1.3" ry="2.0" fill="#262626" opacity="0.6"/>
<polygon points="1044.0,960.0 1048.6,968.2 1052.9,976.5 1067.2,976.5 1062.8,968.2 1058.2,960.0" fill="#cdcdcd"/>
<polygon points="1049.0,960.0 1053.6,968.2 1057.9,976.5 1061.5,976.5 1057.1,968.2 1052.5,960.0" fill="#f6f6f6" opacity="0.45"/>
<polygon points="1052.9,976.5 1057.4,985.5 1061.6,994.5 1075.8,994.5 1071.7,985.5 1067.2,976.5" fill="#e0e0e0"/>
<polygon points="1057.9,976.5 1062.4,985.5 1066.5,994.5 1070.1,994.5 1066.0,985.5 1061.5,976.5" fill="#f6f6f6" opacity="0.8"/>
<polygon points="1061.6,994.5 1065.0,1003.0 1067.7,1011.5 1082.0,1011.5 1079.3,1003.0 1075.8,994.5" fill="#cdcdcd"/>
<polygon points="1066.5,994.5 1070.0,1003.0 1072.7,1011.5 1076.3,1011.5 1073.6,1003.0 1070.1,994.5" fill="#f6f6f6" opacity="0.45"/>
<polygon points="1067.7,1011.5 1065.8,1019.0 1062.0,1026.5 1076.3,1026.5 1080.1,1019.0 1082.0,1011.5" fill="#e0e0e0"/>
<polygon points="1072.7,1011.5 1070.8,1019.0 1067.0,1026.5 1070.6,1026.5 1074.4,1019.0 1076.3,1011.5" fill="#f6f6f6" opacity="0.8"/>
<polygon points="1062.0,1026.5 1057.9,1033.5 1053.4,1040.5 1067.7,1040.5 1072.2,1033.5 1076.3,1026.5" fill="#cdcdcd"/>
<polygon points="1067.0,1026.5 1062.9,1033.5 1058.4,1040.5 1062.0,1040.5 1066.5,1033.5 1070.6,1026.5" fill="#f6f6f6" opacity="0.45"/>
<polygon points="1053.4,1040.5 1048.8,1047.2 1044.0,1054.0 1058.2,1054.0 1063.1,1047.2 1067.7,1040.5" fill="#e0e0e0"/>
<polygon points="1058.4,1040.5 1053.8,1047.2 1049.0,1054.0 1052.5,1054.0 1057.4,1047.2 1062.0,1040.5" fill="#f6f6f6" opacity="0.8"/>
<polyline points="1055.1,960.0 1057.3,963.9 1059.5,967.8 1061.6,971.8 1063.6,975.7 1065.6,979.6 1067.6,983.5 1069.5,987.4 1071.3,991.3 1073.0,995.2 1074.6,999.2 1076.2,1003.1 1077.5,1007.0 1078.7,1010.9 1078.6,1014.8 1077.1,1018.8 1075.2,1022.7 1073.1,1026.6 1070.8,1030.5 1068.5,1034.4 1066.0,1038.3 1063.4,1042.2 1060.7,1046.2 1057.9,1050.1 1055.1,1054.0" fill="none" stroke="#a4a4a4" stroke-width="0.8"/>
<polyline points="1046.8,960.0 1049.0,963.9 1051.2,967.8 1053.3,971.8 1055.4,975.7 1057.4,979.6 1059.3,983.5 1061.2,987.4 1063.0,991.3 1064.7,995.2 1066.4,999.2 1067.9,1003.1 1069.3,1007.0 1070.4,1010.9 1070.4,1014.8 1068.8,1018.8 1066.9,1022.7 1064.8,1026.6 1062.6,1030.5 1060.2,1034.4 1057.7,1038.3 1055.1,1042.2 1052.4,1046.2 1049.7,1050.1 1046.8,1054.0" fill="none" stroke="#bdbdbd" stroke-width="0.7"/>
<polyline points="1044.0,960.0 1046.2,963.9 1048.3,967.8 1050.5,971.8 1052.5,975.7 1054.5,979.6 1056.5,983.5 1058.3,987.4 1060.2,991.3 1061.9,995.2 1063.5,999.2 1065.0,1003.1 1066.4,1007.0 1067.6,1010.9 1067.5,1014.8 1065.9,1018.8 1064.1,1022.7 1062.0,1026.6 1059.7,1030.5 1057.3,1034.4 1054.9,1038.3 1052.3,1042.2 1049.6,1046.2 1046.8,1050.1 1044.0,1054.0" fill="none" stroke="#7e7e7e" stroke-width="1.2"/>
<ellipse cx="1053.7" cy="978" rx="1.5" ry="2.3" fill="#262626" opacity="0.85"/>
<ellipse cx="1062.2" cy="996" rx="1.2" ry="1.8" fill="#262626" opacity="0.5"/>
<ellipse cx="1068.0" cy="1013" rx="1.7" ry="2.5" fill="#262626" opacity="0.85"/>
<ellipse cx="1061.2" cy="1028" rx="1.4" ry="2.1" fill="#262626" opacity="0.8"/>
<ellipse cx="1052.4" cy="1042" rx="1.3" ry="2.0" fill="#262626" opacity="0.6"/>
<polygon points="1058.2,960.0 1063.6,969.8 1068.7,979.5 1083.0,979.5 1077.9,969.8 1072.5,960.0" fill="#e0e0e0"/>
<polygon points="1063.2,960.0 1068.6,969.8 1073.7,979.5 1077.3,979.5 1072.2,969.8 1066.8,960.0" fill="#f6f6f6" opacity="0.8"/>
<polygon points="1068.7,979.5 1073.1,988.5 1077.1,997.5 1091.3,997.5 1087.4,988.5 1083.0,979.5" fill="#cdcdcd"/>
<polygon points="1073.7,979.5 1078.1,988.5 1082.1,997.5 1085.6,997.5 1081.7,988.5 1077.3,979.5" fill="#f6f6f6" opacity="0.45"/>
<polygon points="1077.1,997.5 1080.3,1006.0 1081.9,1014.5 1096.1,1014.5 1094.6,1006.0 1091.3,997.5" fill="#e0e0e0"/>
<polygon points="1082.1,997.5 1085.3,1006.0 1086.9,1014.5 1090.4,1014.5 1088.9,1006.0 1085.6,997.5" fill="#f6f6f6" opacity="0.8"/>
<polygon points="1081.9,1014.5 1078.6,1022.0 1074.6,1029.5 1088.8,1029.5 1092.9,1022.0 1096.1,1014.5" fill="#cdcdcd"/>
<polygon points="1086.9,1014.5 1083.6,1022.0 1079.5,1029.5 1083.1,1029.5 1087.2,1022.0 1090.4,1014.5" fill="#f6f6f6" opacity="0.45"/>
<polygon points="1074.6,1029.5 1070.3,1036.5 1065.7,1043.5 1079.9,1043.5 1084.5,1036.5 1088.8,1029.5" fill="#e0e0e0"/>
<polygon points="1079.5,1029.5 1075.3,1036.5 1070.7,1043.5 1074.2,1043.5 1078.8,1036.5 1083.1,1029.5" fill="#f6f6f6" opacity="0.8"/>
<polygon points="1065.7,1043.5 1062.0,1048.8 1058.2,1054.0 1072.5,1054.0 1076.3,1048.8 1079.9,1043.5" fill="#cdcdcd"/>
<polygon points="1070.7,1043.5 1067.0,1048.8 1063.2,1054.0 1066.8,1054.0 1070.6,1048.8 1074.2,1043.5" fill="#f6f6f6" opacity="0.45"/>
<polyline points="1069.4,960.0 1071.6,963.9 1073.7,967.8 1075.8,971.8 1077.9,975.7 1079.9,979.6 1081.8,983.5 1083.7,987.4 1085.5,991.3 1087.3,995.2 1088.9,999.2 1090.4,1003.1 1091.8,1007.0 1092.9,1010.9 1092.9,1014.8 1091.3,1018.8 1089.4,1022.7 1087.3,1026.6 1085.1,1030.5 1082.7,1034.4 1080.2,1038.3 1077.6,1042.2 1075.0,1046.2 1072.2,1050.1 1069.4,1054.0" fill="none" stroke="#a4a4a4" stroke-width="0.8"/>
<polyline points="1061.1,960.0 1063.3,963.9 1065.4,967.8 1067.6,971.8 1069.6,975.7 1071.6,979.6 1073.6,983.5 1075.4,987.4 1077.3,991.3 1079.0,995.2 1080.6,999.2 1082.1,1003.1 1083.5,1007.0 1084.7,1010.9 1084.6,1014.8 1083.0,1018.8 1081.2,1022.7 1079.1,1026.6 1076.8,1030.5 1074.4,1034.4 1072.0,1038.3 1069.4,1042.2 1066.7,1046.2 1063.9,1050.1 1061.1,1054.0" fill="none" stroke="#bdbdbd" stroke-width="0.7"/>
<polyline points="1058.2,960.0 1060.4,963.9 1062.6,967.8 1064.7,971.8 1066.8,975.7 1068.8,979.6 1070.7,983.5 1072.6,987.4 1074.4,991.3 1076.1,995.2 1077.8,999.2 1079.3,1003.1 1080.7,1007.0 1081.8,1010.9 1081.8,1014.8 1080.2,1018.8 1078.3,1022.7 1076.2,1026.6 1074.0,1030.5 1071.6,1034.4 1069.1,1038.3 1066.5,1042.2 1063.8,1046.2 1061.1,1050.1 1058.2,1054.0" fill="none" stroke="#7e7e7e" stroke-width="1.2"/>
<ellipse cx="1068.0" cy="978" rx="1.5" ry="2.3" fill="#262626" opacity="0.85"/>
<ellipse cx="1076.5" cy="996" rx="1.2" ry="1.8" fill="#262626" opacity="0.5"/>
<ellipse cx="1082.2" cy="1013" rx="1.7" ry="2.5" fill="#262626" opacity="0.85"/>
<ellipse cx="1075.4" cy="1028" rx="1.4" ry="2.1" fill="#262626" opacity="0.8"/>
<ellipse cx="1066.7" cy="1042" rx="1.3" ry="2.0" fill="#262626" opacity="0.6"/>
<polygon points="1072.5,960.0 1078.7,971.2 1084.5,982.5 1098.7,982.5 1092.9,971.2 1086.8,960.0" fill="#cdcdcd"/>
<polygon points="1077.5,960.0 1083.7,971.2 1089.5,982.5 1093.0,982.5 1087.2,971.2 1081.0,960.0" fill="#f6f6f6" opacity="0.45"/>
<polygon points="1084.5,982.5 1088.7,991.5 1092.6,1000.5 1106.8,1000.5 1103.0,991.5 1098.7,982.5" fill="#e0e0e0"/>
<polygon points="1089.5,982.5 1093.7,991.5 1097.5,1000.5 1101.1,1000.5 1097.3,991.5 1093.0,982.5" fill="#f6f6f6" opacity="0.8"/>
<polygon points="1092.6,1000.5 1095.6,1009.0 1095.0,1017.5 1109.2,1017.5 1109.8,1009.0 1106.8,1000.5" fill="#cdcdcd"/>
<polygon points="1097.5,1000.5 1100.5,1009.0 1100.0,1017.5 1103.5,1017.5 1104.1,1009.0 1101.1,1000.5" fill="#f6f6f6" opacity="0.45"/>
<polygon points="1095.0,1017.5 1091.3,1025.0 1087.0,1032.5 1101.3,1032.5 1105.6,1025.0 1109.2,1017.5" fill="#e0e0e0"/>
<polygon points="1100.0,1017.5 1096.3,1025.0 1092.0,1032.5 1095.6,1032.5 1099.9,1025.0 1103.5,1017.5" fill="#f6f6f6" opacity="0.8"/>
<polygon points="1087.0,1032.5 1082.6,1039.5 1077.9,1046.5 1092.1,1046.5 1096.8,1039.5 1101.3,1032.5" fill="#cdcdcd"/>
<polygon points="1092.0,1032.5 1087.6,1039.5 1082.8,1046.5 1086.4,1046.5 1091.1,1039.5 1095.6,1032.5" fill="#f6f6f6" opacity="0.45"/>
<polygon points="1077.9,1046.5 1075.2,1050.2 1072.5,1054.0 1086.8,1054.0 1089.5,1050.2 1092.1,1046.5" fill="#e0e0e0"/>
<polygon points="1082.8,1046.5 1080.2,1050.2 1077.5,1054.0 1081.0,1054.0 1083.8,1050.2 1086.4,1046.5" fill="#f6f6f6" opacity="0.8"/>
<polyline points="1083.6,960.0 1085.8,963.9 1088.0,967.8 1090.1,971.8 1092.1,975.7 1094.1,979.6 1096.1,983.5 1098.0,987.4 1099.8,991.3 1101.5,995.2 1103.1,999.2 1104.7,1003.1 1106.0,1007.0 1107.2,1010.9 1107.1,1014.8 1105.6,1018.8 1103.7,1022.7 1101.6,1026.6 1099.3,1030.5 1097.0,1034.4 1094.5,1038.3 1091.9,1042.2 1089.2,1046.2 1086.4,1050.1 1083.6,1054.0" fill="none" stroke="#a4a4a4" stroke-width="0.8"/>
<polyline points="1075.3,960.0 1077.5,963.9 1079.7,967.8 1081.8,971.8 1083.9,975.7 1085.9,979.6 1087.8,983.5 1089.7,987.4 1091.5,991.3 1093.2,995.2 1094.9,999.2 1096.4,1003.1 1097.8,1007.0 1098.9,1010.9 1098.9,1014.8 1097.3,1018.8 1095.4,1022.7 1093.3,1026.6 1091.1,1030.5 1088.7,1034.4 1086.2,1038.3 1083.6,1042.2 1080.9,1046.2 1078.2,1050.1 1075.3,1054.0" fill="none" stroke="#bdbdbd" stroke-width="0.7"/>
<polyline points="1072.5,960.0 1074.7,963.9 1076.8,967.8 1079.0,971.8 1081.0,975.7 1083.0,979.6 1085.0,983.5 1086.8,987.4 1088.7,991.3 1090.4,995.2 1092.0,999.2 1093.5,1003.1 1094.9,1007.0 1096.1,1010.9 1096.0,1014.8 1094.4,1018.8 1092.6,1022.7 1090.5,1026.6 1088.2,1030.5 1085.8,1034.4 1083.4,1038.3 1080.8,1042.2 1078.1,1046.2 1075.3,1050.1 1072.5,1054.0" fill="none" stroke="#7e7e7e" stroke-width="1.2"/>
<ellipse cx="1082.2" cy="978" rx="1.5" ry="2.3" fill="#262626" opacity="0.85"/>
<ellipse cx="1090.7" cy="996" rx="1.2" ry="1.8" fill="#262626" opacity="0.5"/>
<ellipse cx="1096.5" cy="1013" rx="1.7" ry="2.5" fill="#262626" opacity="0.85"/>
<ellipse cx="1089.7" cy="1028" rx="1.4" ry="2.1" fill="#262626" opacity="0.8"/>
<ellipse cx="1080.9" cy="1042" rx="1.3" ry="2.0" fill="#262626" opacity="0.6"/>
<polygon points="1086.8,960.0 1090.5,966.8 1094.1,973.5 1108.4,973.5 1104.8,966.8 1101.0,960.0" fill="#e0e0e0"/>
<polygon points="1091.7,960.0 1095.5,966.8 1099.1,973.5 1102.7,973.5 1099.1,966.8 1095.3,960.0" fill="#f6f6f6" opacity="0.8"/>
<polygon points="1094.1,973.5 1098.7,982.5 1103.0,991.5 1117.2,991.5 1113.0,982.5 1108.4,973.5" fill="#cdcdcd"/>
<polygon points="1099.1,973.5 1103.7,982.5 1108.0,991.5 1111.5,991.5 1107.3,982.5 1102.7,973.5" fill="#f6f6f6" opacity="0.45"/>
<polygon points="1103.0,991.5 1106.6,1000.0 1109.7,1008.5 1123.9,1008.5 1120.9,1000.0 1117.2,991.5" fill="#e0e0e0"/>
<polygon points="1108.0,991.5 1111.6,1000.0 1114.6,1008.5 1118.2,1008.5 1115.2,1000.0 1111.5,991.5" fill="#f6f6f6" opacity="0.8"/>
<polygon points="1109.7,1008.5 1109.8,1016.0 1106.4,1023.5 1120.6,1023.5 1124.1,1016.0 1123.9,1008.5" fill="#cdcdcd"/>
<polygon points="1114.6,1008.5 1114.8,1016.0 1111.4,1023.5 1114.9,1023.5 1118.4,1016.0 1118.2,1008.5" fill="#f6f6f6" opacity="0.45"/>
<polygon points="1106.4,1023.5 1102.5,1030.5 1098.1,1037.5 1112.4,1037.5 1116.7,1030.5 1120.6,1023.5" fill="#e0e0e0"/>
<polygon points="1111.4,1023.5 1107.5,1030.5 1103.1,1037.5 1106.7,1037.5 1111.0,1030.5 1114.9,1023.5" fill="#f6f6f6" opacity="0.8"/>
<polygon points="1098.1,1037.5 1092.6,1045.8 1086.8,1054.0 1101.0,1054.0 1106.9,1045.8 1112.4,1037.5" fill="#cdcdcd"/>
<polygon points="1103.1,1037.5 1097.6,1045.8 1091.7,1054.0 1095.3,1054.0 1101.2,1045.8 1106.7,1037.5" fill="#f6f6f6" opacity="0.45"/>
<polyline points="1097.9,960.0 1100.1,963.9 1102.2,967.8 1104.3,971.8 1106.4,975.7 1108.4,979.6 1110.3,983.5 1112.2,987.4 1114.0,991.3 1115.8,995.2 1117.4,999.2 1118.9,1003.1 1120.3,1007.0 1121.4,1010.9 1121.4,1014.8 1119.8,1018.8 1117.9,1022.7 1115.8,1026.6 1113.6,1030.5 1111.2,1034.4 1108.7,1038.3 1106.1,1042.2 1103.5,1046.2 1100.7,1050.1 1097.9,1054.0" fill="none" stroke="#a4a4a4" stroke-width="0.8"/>
<polyline points="1089.6,960.0 1091.8,963.9 1093.9,967.8 1096.1,971.8 1098.1,975.7 1100.1,979.6 1102.1,983.5 1103.9,987.4 1105.8,991.3 1107.5,995.2 1109.1,999.2 1110.6,1003.1 1112.0,1007.0 1113.2,1010.9 1113.1,1014.8 1111.5,1018.8 1109.7,1022.7 1107.6,1026.6 1105.3,1030.5 1102.9,1034.4 1100.5,1038.3 1097.9,1042.2 1095.2,1046.2 1092.4,1050.1 1089.6,1054.0" fill="none" stroke="#bdbdbd" stroke-width="0.7"/>
<polyline points="1086.8,960.0 1088.9,963.9 1091.1,967.8 1093.2,971.8 1095.3,975.7 1097.3,979.6 1099.2,983.5 1101.1,987.4 1102.9,991.3 1104.6,995.2 1106.3,999.2 1107.8,1003.1 1109.2,1007.0 1110.3,1010.9 1110.3,1014.8 1108.7,1018.8 1106.8,1022.7 1104.7,1026.6 1102.5,1030.5 1100.1,1034.4 1097.6,1038.3 1095.0,1042.2 1092.3,1046.2 1089.6,1050.1 1086.8,1054.0" fill="none" stroke="#7e7e7e" stroke-width="1.2"/>
<ellipse cx="1096.5" cy="978" rx="1.5" ry="2.3" fill="#262626" opacity="0.85"/>
<ellipse cx="1105.0" cy="996" rx="1.2" ry="1.8" fill="#262626" opacity="0.5"/>
<ellipse cx="1110.8" cy="1013" rx="1.7" ry="2.5" fill="#262626" opacity="0.85"/>
<ellipse cx="1103.9" cy="1028" rx="1.4" ry="2.1" fill="#262626" opacity="0.8"/>
<ellipse cx="1095.2" cy="1042" rx="1.3" ry="2.0" fill="#262626" opacity="0.6"/>
<polygon points="1101.0,960.0 1105.6,968.2 1109.9,976.5 1124.2,976.5 1119.8,968.2 1115.2,960.0" fill="#cdcdcd"/>
<polygon points="1106.0,960.0 1110.6,968.2 1114.9,976.5 1118.5,976.5 1114.1,968.2 1109.5,960.0" fill="#f6f6f6" opacity="0.45"/>
<polygon points="1109.9,976.5 1114.4,985.5 1118.6,994.5 1132.8,994.5 1128.7,985.5 1124.2,976.5" fill="#e0e0e0"/>
<polygon points="1114.9,976.5 1119.4,985.5 1123.5,994.5 1127.1,994.5 1123.0,985.5 1118.5,976.5" fill="#f6f6f6" opacity="0.8"/>
<polygon points="1118.6,994.5 1122.0,1003.0 1124.7,1011.5 1139.0,1011.5 1136.3,1003.0 1132.8,994.5" fill="#cdcdcd"/>
<polygon points="1123.5,994.5 1127.0,1003.0 1129.7,1011.5 1133.3,1011.5 1130.6,1003.0 1127.1,994.5" fill="#f6f6f6" opacity="0.45"/>
<polygon points="1124.7,1011.5 1122.8,1019.0 1119.0,1026.5 1133.3,1026.5 1137.1,1019.0 1139.0,1011.5" fill="#e0e0e0"/>
<polygon points="1129.7,1011.5 1127.8,1019.0 1124.0,1026.5 1127.6,1026.5 1131.4,1019.0 1133.3,1011.5" fill="#f6f6f6" opacity="0.8"/>
<polygon points="1119.0,1026.5 1114.9,1033.5 1110.4,1040.5 1124.7,1040.5 1129.2,1033.5 1133.3,1026.5" fill="#cdcdcd"/>
<polygon points="1124.0,1026.5 1119.9,1033.5 1115.4,1040.5 1119.0,1040.5 1123.5,1033.5 1127.6,1026.5" fill="#f6f6f6" opacity="0.45"/>
<polygon points="1110.4,1040.5 1105.8,1047.2 1101.0,1054.0 1115.2,1054.0 1120.1,1047.2 1124.7,1040.5" fill="#e0e0e0"/>
<polygon points="1115.4,1040.5 1110.8,1047.2 1106.0,1054.0 1109.5,1054.0 1114.4,1047.2 1119.0,1040.5" fill="#f6f6f6" opacity="0.8"/>
<polyline points="1112.1,960.0 1114.3,963.9 1116.5,967.8 1118.6,971.8 1120.6,975.7 1122.6,979.6 1124.6,983.5 1126.5,987.4 1128.3,991.3 1130.0,995.2 1131.6,999.2 1133.2,1003.1 1134.5,1007.0 1135.7,1010.9 1135.6,1014.8 1134.1,1018.8 1132.2,1022.7 1130.1,1026.6 1127.8,1030.5 1125.5,1034.4 1123.0,1038.3 1120.4,1042.2 1117.7,1046.2 1114.9,1050.1 1112.1,1054.0" fill="none" stroke="#a4a4a4" stroke-width="0.8"/>
<polyline points="1103.8,960.0 1106.0,963.9 1108.2,967.8 1110.3,971.8 1112.4,975.7 1114.4,979.6 1116.3,983.5 1118.2,987.4 1120.0,991.3 1121.7,995.2 1123.4,999.2 1124.9,1003.1 1126.3,1007.0 1127.4,1010.9 1127.4,1014.8 1125.8,1018.8 1123.9,1022.7 1121.8,1026.6 1119.6,1030.5 1117.2,1034.4 1114.7,1038.3 1112.1,1042.2 1109.4,1046.2 1106.7,1050.1 1103.8,1054.0" fill="none" stroke="#bdbdbd" stroke-width="0.7"/>
<polyline points="1101.0,960.0 1103.2,963.9 1105.3,967.8 1107.5,971.8 1109.5,975.7 1111.5,979.6 1113.5,983.5 1115.3,987.4 1117.2,991.3 1118.9,995.2 1120.5,999.2 1122.0,1003.1 1123.4,1007.0 1124.6,1010.9 1124.5,1014.8 1122.9,1018.8 1121.1,1022.7 1119.0,1026.6 1116.7,1030.5 1114.3,1034.4 1111.9,1038.3 1109.3,1042.2 1106.6,1046.2 1103.8,1050.1 1101.0,1054.0" fill="none" stroke="#7e7e7e" stroke-width="1.2"/>
<ellipse cx="1110.7" cy="978" rx="1.5" ry="2.3" fill="#262626" opacity="0.85"/>
<ellipse cx="1119.2" cy="996" rx="1.2" ry="1.8" fill="#262626" opacity="0.5"/>
<ellipse cx="1125.0" cy="1013" rx="1.7" ry="2.5" fill="#262626" opacity="0.85"/>
<ellipse cx="1118.2" cy="1028" rx="1.4" ry="2.1" fill="#262626" opacity="0.8"/>
<ellipse cx="1109.4" cy="1042" rx="1.3" ry="2.0" fill="#262626" opacity="0.6"/>
<polygon points="1115.2,960.0 1120.6,969.8 1125.7,979.5 1140.0,979.5 1134.9,969.8 1129.5,960.0" fill="#e0e0e0"/>
<polygon points="1120.2,960.0 1125.6,969.8 1130.7,979.5 1134.3,979.5 1129.2,969.8 1123.8,960.0" fill="#f6f6f6" opacity="0.8"/>
<polygon points="1125.7,979.5 1130.1,988.5 1134.1,997.5 1148.3,997.5 1144.4,988.5 1140.0,979.5" fill="#cdcdcd"/>
<polygon points="1130.7,979.5 1135.1,988.5 1139.1,997.5 1142.6,997.5 1138.7,988.5 1134.3,979.5" fill="#f6f6f6" opacity="0.45"/>
<polygon points="1134.1,997.5 1137.3,1006.0 1138.9,1014.5 1153.1,1014.5 1151.6,1006.0 1148.3,997.5" fill="#e0e0e0"/>
<polygon points="1139.1,997.5 1142.3,1006.0 1143.9,1014.5 1147.4,1014.5 1145.9,1006.0 1142.6,997.5" fill="#f6f6f6" opacity="0.8"/>
<polygon points="1138.9,1014.5 1135.6,1022.0 1131.6,1029.5 1145.8,1029.5 1149.9,1022.0 1153.1,1014.5" fill="#cdcdcd"/>
<polygon points="1143.9,1014.5 1140.6,1022.0 1136.5,1029.5 1140.1,1029.5 1144.2,1022.0 1147.4,1014.5" fill="#f6f6f6" opacity="0.45"/>
<polygon points="1131.6,1029.5 1127.3,1036.5 1122.7,1043.5 1136.9,1043.5 1141.5,1036.5 1145.8,1029.5" fill="#e0e0e0"/>
<polygon points="1136.5,1029.5 1132.3,1036.5 1127.7,1043.5 1131.2,1043.5 1135.8,1036.5 1140.1,1029.5" fill="#f6f6f6" opacity="0.8"/>
<polygon points="1122.7,1043.5 1119.0,1048.8 1115.2,1054.0 1129.5,1054.0 1133.3,1048.8 1136.9,1043.5" fill="#cdcdcd"/>
<polygon points="1127.7,1043.5 1124.0,1048.8 1120.2,1054.0 1123.8,1054.0 1127.6,1048.8 1131.2,1043.5" fill="#f6f6f6" opacity="0.45"/>
<polyline points="1126.4,960.0 1128.6,963.9 1130.7,967.8 1132.8,971.8 1134.9,975.7 1136.9,979.6 1138.8,983.5 1140.7,987.4 1142.5,991.3 1144.3,995.2 1145.9,999.2 1147.4,1003.1 1148.8,1007.0 1149.9,1010.9 1149.9,1014.8 1148.3,1018.8 1146.4,1022.7 1144.3,1026.6 1142.1,1030.5 1139.7,1034.4 1137.2,1038.3 1134.6,1042.2 1132.0,1046.2 1129.2,1050.1 1126.4,1054.0" fill="none" stroke="#a4a4a4" stroke-width="0.8"/>
<polyline points="1118.1,960.0 1120.3,963.9 1122.4,967.8 1124.6,971.8 1126.6,975.7 1128.6,979.6 1130.6,983.5 1132.4,987.4 1134.3,991.3 1136.0,995.2 1137.6,999.2 1139.1,1003.1 1140.5,1007.0 1141.7,1010.9 1141.6,1014.8 1140.0,1018.8 1138.2,1022.7 1136.1,1026.6 1133.8,1030.5 1131.4,1034.4 1129.0,1038.3 1126.4,1042.2 1123.7,1046.2 1120.9,1050.1 1118.1,1054.0" fill="none" stroke="#bdbdbd" stroke-width="0.7"/>
<polyline points="1115.2,960.0 1117.4,963.9 1119.6,967.8 1121.7,971.8 1123.8,975.7 1125.8,979.6 1127.7,983.5 1129.6,987.4 1131.4,991.3 1133.1,995.2 1134.8,999.2 1136.3,1003.1 1137.7,1007.0 1138.8,1010.9 1138.8,1014.8 1137.2,1018.8 1135.3,1022.7 1133.2,1026.6 1131.0,1030.5 1128.6,1034.4 1126.1,1038.3 1123.5,1042.2 1120.8,1046.2 1118.1,1050.1 1115.2,1054.0" fill="none" stroke="#7e7e7e" stroke-width="1.2"/>
<ellipse cx="1125.0" cy="978" rx="1.5" ry="2.3" fill="#262626" opacity="0.85"/>
<ellipse cx="1133.5" cy="996" rx="1.2" ry="1.8" fill="#262626" opacity="0.5"/>
<ellipse cx="1139.2" cy="1013" rx="1.7" ry="2.5" fill="#262626" opacity="0.85"/>
<ellipse cx="1132.4" cy="1028" rx="1.4" ry="2.1" fill="#262626" opacity="0.8"/>
<ellipse cx="1123.7" cy="1042" rx="1.3" ry="2.0" fill="#262626" opacity="0.6"/>
<polygon points="1129.5,960.0 1135.7,971.2 1141.5,982.5 1155.7,982.5 1149.9,971.2 1143.8,960.0" fill="#cdcdcd"/>
<polygon points="1134.5,960.0 1140.7,971.2 1146.5,982.5 1150.0,982.5 1144.2,971.2 1138.0,960.0" fill="#f6f6f6" opacity="0.45"/>
<polygon points="1141.5,982.5 1145.7,991.5 1149.6,1000.5 1163.8,1000.5 1160.0,991.5 1155.7,982.5" fill="#e0e0e0"/>
<polygon points="1146.5,982.5 1150.7,991.5 1154.5,1000.5 1158.1,1000.5 1154.3,991.5 1150.0,982.5" fill="#f6f6f6" opacity="0.8"/>
<polygon points="1149.6,1000.5 1152.6,1009.0 1152.0,1017.5 1166.2,1017.5 1166.8,1009.0 1163.8,1000.5" fill="#cdcdcd"/>
<polygon points="1154.5,1000.5 1157.5,1009.0 1157.0,1017.5 1160.5,1017.5 1161.1,1009.0 1158.1,1000.5" fill="#f6f6f6" opacity="0.45"/>
<polygon points="1152.0,1017.5 1148.3,1025.0 1144.0,1032.5 1158.3,1032.5 1162.6,1025.0 1166.2,1017.5" fill="#e0e0e0"/>
<polygon points="1157.0,1017.5 1153.3,1025.0 1149.0,1032.5 1152.6,1032.5 1156.9,1025.0 1160.5,1017.5" fill="#f6f6f6" opacity="0.8"/>
<polygon points="1144.0,1032.5 1139.6,1039.5 1134.9,1046.5 1149.1,1046.5 1153.8,1039.5 1158.3,1032.5" fill="#cdcdcd"/>
<polygon points="1149.0,1032.5 1144.6,1039.5 1139.8,1046.5 1143.4,1046.5 1148.1,1039.5 1152.6,1032.5" fill="#f6f6f6" opacity="0.45"/>
<polygon points="1134.9,1046.5 1132.2,1050.2 1129.5,1054.0 1143.8,1054.0 1146.5,1050.2 1149.1,1046.5" fill="#e0e0e0"/>
<polygon points="1139.8,1046.5 1137.2,1050.2 1134.5,1054.0 1138.0,1054.0 1140.8,1050.2 1143.4,1046.5" fill="#f6f6f6" opacity="0.8"/>
<polyline points="1140.6,960.0 1142.8,963.9 1145.0,967.8 1147.1,971.8 1149.1,975.7 1151.1,979.6 1153.1,983.5 1155.0,987.4 1156.8,991.3 1158.5,995.2 1160.1,999.2 1161.7,1003.1 1163.0,1007.0 1164.2,1010.9 1164.1,1014.8 1162.6,1018.8 1160.7,1022.7 1158.6,1026.6 1156.3,1030.5 1154.0,1034.4 1151.5,1038.3 1148.9,1042.2 1146.2,1046.2 1143.4,1050.1 1140.6,1054.0" fill="none" stroke="#a4a4a4" stroke-width="0.8"/>
<polyline points="1132.3,960.0 1134.5,963.9 1136.7,967.8 1138.8,971.8 1140.9,975.7 1142.9,979.6 1144.8,983.5 1146.7,987.4 1148.5,991.3 1150.2,995.2 1151.9,999.2 1153.4,1003.1 1154.8,1007.0 1155.9,1010.9 1155.9,1014.8 1154.3,1018.8 1152.4,1022.7 1150.3,1026.6 1148.1,1030.5 1145.7,1034.4 1143.2,1038.3 1140.6,1042.2 1137.9,1046.2 1135.2,1050.1 1132.3,1054.0" fill="none" stroke="#bdbdbd" stroke-width="0.7"/>
<polyline points="1129.5,960.0 1131.7,963.9 1133.8,967.8 1136.0,971.8 1138.0,975.7 1140.0,979.6 1142.0,983.5 1143.8,987.4 1145.7,991.3 1147.4,995.2 1149.0,999.2 1150.5,1003.1 1151.9,1007.0 1153.1,1010.9 1153.0,1014.8 1151.4,1018.8 1149.6,1022.7 1147.5,1026.6 1145.2,1030.5 1142.8,1034.4 1140.4,1038.3 1137.8,1042.2 1135.1,1046.2 1132.3,1050.1 1129.5,1054.0" fill="none" stroke="#7e7e7e" stroke-width="1.2"/>
<ellipse cx="1139.2" cy="978" rx="1.5" ry="2.3" fill="#262626" opacity="0.85"/>
<ellipse cx="1147.7" cy="996" rx="1.2" ry="1.8" fill="#262626" opacity="0.5"/>
<ellipse cx="1153.5" cy="1013" rx="1.7" ry="2.5" fill="#262626" opacity="0.85"/>
<ellipse cx="1146.7" cy="1028" rx="1.4" ry="2.1" fill="#262626" opacity="0.8"/>
<ellipse cx="1137.9" cy="1042" rx="1.3" ry="2.0" fill="#262626" opacity="0.6"/>
<polygon points="1143.8,960.0 1147.5,966.8 1151.1,973.5 1165.4,973.5 1161.8,966.8 1158.0,960.0" fill="#e0e0e0"/>
<polygon points="1148.7,960.0 1152.5,966.8 1156.1,973.5 1159.7,973.5 1156.1,966.8 1152.3,960.0" fill="#f6f6f6" opacity="0.8"/>
<polygon points="1151.1,973.5 1155.7,982.5 1160.0,991.5 1174.2,991.5 1170.0,982.5 1165.4,973.5" fill="#cdcdcd"/>
<polygon points="1156.1,973.5 1160.7,982.5 1165.0,991.5 1168.5,991.5 1164.3,982.5 1159.7,973.5" fill="#f6f6f6" opacity="0.45"/>
<polygon points="1160.0,991.5 1163.6,1000.0 1166.7,1008.5 1180.9,1008.5 1177.9,1000.0 1174.2,991.5" fill="#e0e0e0"/>
<polygon points="1165.0,991.5 1168.6,1000.0 1171.6,1008.5 1175.2,1008.5 1172.2,1000.0 1168.5,991.5" fill="#f6f6f6" opacity="0.8"/>
<polygon points="1166.7,1008.5 1166.8,1016.0 1163.4,1023.5 1177.6,1023.5 1181.1,1016.0 1180.9,1008.5" fill="#cdcdcd"/>
<polygon points="1171.6,1008.5 1171.8,1016.0 1168.4,1023.5 1171.9,1023.5 1175.4,1016.0 1175.2,1008.5" fill="#f6f6f6" opacity="0.45"/>
<polygon points="1163.4,1023.5 1159.5,1030.5 1155.1,1037.5 1169.4,1037.5 1173.7,1030.5 1177.6,1023.5" fill="#e0e0e0"/>
<polygon points="1168.4,1023.5 1164.5,1030.5 1160.1,1037.5 1163.7,1037.5 1168.0,1030.5 1171.9,1023.5" fill="#f6f6f6" opacity="0.8"/>
<polygon points="1155.1,1037.5 1149.6,1045.8 1143.8,1054.0 1158.0,1054.0 1163.9,1045.8 1169.4,1037.5" fill="#cdcdcd"/>
<polygon points="1160.1,1037.5 1154.6,1045.8 1148.7,1054.0 1152.3,1054.0 1158.2,1045.8 1163.7,1037.5" fill="#f6f6f6" opacity="0.45"/>
<polyline points="1154.9,960.0 1157.1,963.9 1159.2,967.8 1161.3,971.8 1163.4,975.7 1165.4,979.6 1167.3,983.5 1169.2,987.4 1171.0,991.3 1172.8,995.2 1174.4,999.2 1175.9,1003.1 1177.3,1007.0 1178.4,1010.9 1178.4,1014.8 1176.8,1018.8 1174.9,1022.7 1172.8,1026.6 1170.6,1030.5 1168.2,1034.4 1165.7,1038.3 1163.1,1042.2 1160.5,1046.2 1157.7,1050.1 1154.9,1054.0" fill="none" stroke="#a4a4a4" stroke-width="0.8"/>
<polyline points="1146.6,960.0 1148.8,963.9 1150.9,967.8 1153.1,971.8 1155.1,975.7 1157.1,979.6 1159.1,983.5 1160.9,987.4 1162.8,991.3 1164.5,995.2 1166.1,999.2 1167.6,1003.1 1169.0,1007.0 1170.2,1010.9 1170.1,1014.8 1168.5,1018.8 1166.7,1022.7 1164.6,1026.6 1162.3,1030.5 1159.9,1034.4 1157.5,1038.3 1154.9,1042.2 1152.2,1046.2 1149.4,1050.1 1146.6,1054.0" fill="none" stroke="#bdbdbd" stroke-width="0.7"/>
<polyline points="1143.8,960.0 1145.9,963.9 1148.1,967.8 1150.2,971.8 1152.3,975.7 1154.3,979.6 1156.2,983.5 1158.1,987.4 1159.9,991.3 1161.6,995.2 1163.3,999.2 1164.8,1003.1 1166.2,1007.0 1167.3,1010.9 1167.3,1014.8 1165.7,1018.8 1163.8,1022.7 1161.7,1026.6 1159.5,1030.5 1157.1,1034.4 1154.6,1038.3 1152.0,1042.2 1149.3,1046.2 1146.6,1050.1 1143.8,1054.0" fill="none" stroke="#7e7e7e" stroke-width="1.2"/>
<ellipse cx="1153.5" cy="978" rx="1.5" ry="2.3" fill="#262626" opacity="0.85"/>
<ellipse cx="1162.0" cy="996" rx="1.2" ry="1.8" fill="#262626" opacity="0.5"/>
<ellipse cx="1167.8" cy="1013" rx="1.7" ry="2.5" fill="#262626" opacity="0.85"/>
<ellipse cx="1160.9" cy="1028" rx="1.4" ry="2.1" fill="#262626" opacity="0.8"/>
<ellipse cx="1152.2" cy="1042" rx="1.3" ry="2.0" fill="#262626" opacity="0.6"/>
<polygon points="1158.0,960.0 1162.6,968.2 1166.9,976.5 1181.2,976.5 1176.8,968.2 1172.2,960.0" fill="#cdcdcd"/>
<polygon points="1163.0,960.0 1167.6,968.2 1171.9,976.5 1175.5,976.5 1171.1,968.2 1166.5,960.0" fill="#f6f6f6" opacity="0.45"/>
<polygon points="1166.9,976.5 1171.4,985.5 1175.6,994.5 1189.8,994.5 1185.7,985.5 1181.2,976.5" fill="#e0e0e0"/>
<polygon points="1171.9,976.5 1176.4,985.5 1180.5,994.5 1184.1,994.5 1180.0,985.5 1175.5,976.5" fill="#f6f6f6" opacity="0.8"/>
<polygon points="1175.6,994.5 1179.0,1003.0 1181.7,1011.5 1196.0,1011.5 1193.3,1003.0 1189.8,994.5" fill="#cdcdcd"/>
<polygon points="1180.5,994.5 1184.0,1003.0 1186.7,1011.5 1190.3,1011.5 1187.6,1003.0 1184.1,994.5" fill="#f6f6f6" opacity="0.45"/>
<polygon points="1181.7,1011.5 1179.8,1019.0 1176.0,1026.5 1190.3,1026.5 1194.1,1019.0 1196.0,1011.5" fill="#e0e0e0"/>
<polygon points="1186.7,1011.5 1184.8,1019.0 1181.0,1026.5 1184.6,1026.5 1188.4,1019.0 1190.3,1011.5" fill="#f6f6f6" opacity="0.8"/>
<polygon points="1176.0,1026.5 1171.9,1033.5 1167.4,1040.5 1181.7,1040.5 1186.2,1033.5 1190.3,1026.5" fill="#cdcdcd"/>
<polygon points="1181.0,1026.5 1176.9,1033.5 1172.4,1040.5 1176.0,1040.5 1180.5,1033.5 1184.6,1026.5" fill="#f6f6f6" opacity="0.45"/>
<polygon points="1167.4,1040.5 1162.8,1047.2 1158.0,1054.0 1172.2,1054.0 1177.1,1047.2 1181.7,1040.5" fill="#e0e0e0"/>
<polygon points="1172.4,1040.5 1167.8,1047.2 1163.0,1054.0 1166.5,1054.0 1171.4,1047.2 1176.0,1040.5" fill="#f6f6f6" opacity="0.8"/>
<polyline points="1169.1,960.0 1171.3,963.9 1173.5,967.8 1175.6,971.8 1177.6,975.7 1179.6,979.6 1181.6,983.5 1183.5,987.4 1185.3,991.3 1187.0,995.2 1188.6,999.2 1190.2,1003.1 1191.5,1007.0 1192.7,1010.9 1192.6,1014.8 1191.1,1018.8 1189.2,1022.7 1187.1,1026.6 1184.8,1030.5 1182.5,1034.4 1180.0,1038.3 1177.4,1042.2 1174.7,1046.2 1171.9,1050.1 1169.1,1054.0" fill="none" stroke="#a4a4a4" stroke-width="0.8"/>
<polyline points="1160.8,960.0 1163.0,963.9 1165.2,967.8 1167.3,971.8 1169.4,975.7 1171.4,979.6 1173.3,983.5 1175.2,987.4 1177.0,991.3 1178.7,995.2 1180.4,999.2 1181.9,1003.1 1183.3,1007.0 1184.4,1010.9 1184.4,1014.8 1182.8,1018.8 1180.9,1022.7 1178.8,1026.6 1176.6,1030.5 1174.2,1034.4 1171.7,1038.3 1169.1,1042.2 1166.4,1046.2 1163.7,1050.1 1160.8,1054.0" fill="none" stroke="#bdbdbd" stroke-width="0.7"/>
<polyline points="1158.0,960.0 1160.2,963.9 1162.3,967.8 1164.5,971.8 1166.5,975.7 1168.5,979.6 1170.5,983.5 1172.3,987.4 1174.2,991.3 1175.9,995.2 1177.5,999.2 1179.0,1003.1 1180.4,1007.0 1181.6,1010.9 1181.5,1014.8 1179.9,1018.8 1178.1,1022.7 1176.0,1026.6 1173.7,1030.5 1171.3,1034.4 1168.9,1038.3 1166.3,1042.2 1163.6,1046.2 1160.8,1050.1 1158.0,1054.0" fill="none" stroke="#7e7e7e" stroke-width="1.2"/>
<ellipse cx="1167.7" cy="978" rx="1.5" ry="2.3" fill="#262626" opacity="0.85"/>
<ellipse cx="1176.2" cy="996" rx="1.2" ry="1.8" fill="#262626" opacity="0.5"/>
<ellipse cx="1182.0" cy="1013" rx="1.7" ry="2.5" fill="#262626" opacity="0.85"/>
<ellipse cx="1175.2" cy="1028" rx="1.4" ry="2.1" fill="#262626" opacity="0.8"/>
<ellipse cx="1166.4" cy="1042" rx="1.3" ry="2.0" fill="#262626" opacity="0.6"/>
<polygon points="1172.2,960.0 1177.6,969.8 1182.7,979.5 1197.0,979.5 1191.9,969.8 1186.5,960.0" fill="#e0e0e0"/>
<polygon points="1177.2,960.0 1182.6,969.8 1187.7,979.5 1191.3,979.5 1186.2,969.8 1180.8,960.0" fill="#f6f6f6" opacity="0.8"/>
<polygon points="1182.7,979.5 1187.1,988.5 1191.1,997.5 1205.3,997.5 1201.4,988.5 1197.0,979.5" fill="#cdcdcd"/>
<polygon points="1187.7,979.5 1192.1,988.5 1196.1,997.5 1199.6,997.5 1195.7,988.5 1191.3,979.5" fill="#f6f6f6" opacity="0.45"/>
<polygon points="1191.1,997.5 1194.3,1006.0 1195.9,1014.5 1210.1,1014.5 1208.6,1006.0 1205.3,997.5" fill="#e0e0e0"/>
<polygon points="1196.1,997.5 1199.3,1006.0 1200.9,1014.5 1204.4,1014.5 1202.9,1006.0 1199.6,997.5" fill="#f6f6f6" opacity="0.8"/>
<polygon points="1195.9,1014.5 1192.6,1022.0 1188.6,1029.5 1202.8,1029.5 1206.9,1022.0 1210.1,1014.5" fill="#cdcdcd"/>
<polygon points="1200.9,1014.5 1197.6,1022.0 1193.5,1029.5 1197.1,1029.5 1201.2,1022.0 1204.4,1014.5" fill="#f6f6f6" opacity="0.45"/>
<polygon points="1188.6,1029.5 1184.3,1036.5 1179.7,1043.5 1193.9,1043.5 1198.5,1036.5 1202.8,1029.5" fill="#e0e0e0"/>
<polygon points="1193.5,1029.5 1189.3,1036.5 1184.7,1043.5 1188.2,1043.5 1192.8,1036.5 1197.1,1029.5" fill="#f6f6f6" opacity="0.8"/>
<polygon points="1179.7,1043.5 1176.0,1048.8 1172.2,1054.0 1186.5,1054.0 1190.3,1048.8 1193.9,1043.5" fill="#cdcdcd"/>
<polygon points="1184.7,1043.5 1181.0,1048.8 1177.2,1054.0 1180.8,1054.0 1184.6,1048.8 1188.2,1043.5" fill="#f6f6f6" opacity="0.45"/>
<polyline points="1183.4,960.0 1185.6,963.9 1187.7,967.8 1189.8,971.8 1191.9,975.7 1193.9,979.6 1195.8,983.5 1197.7,987.4 1199.5,991.3 1201.3,995.2 1202.9,999.2 1204.4,1003.1 1205.8,1007.0 1206.9,1010.9 1206.9,1014.8 1205.3,1018.8 1203.4,1022.7 1201.3,1026.6 1199.1,1030.5 1196.7,1034.4 1194.2,1038.3 1191.6,1042.2 1189.0,1046.2 1186.2,1050.1 1183.4,1054.0" fill="none" stroke="#a4a4a4" stroke-width="0.8"/>
<polyline points="1175.1,960.0 1177.3,963.9 1179.4,967.8 1181.6,971.8 1183.6,975.7 1185.6,979.6 1187.6,983.5 1189.4,987.4 1191.3,991.3 1193.0,995.2 1194.6,999.2 1196.1,1003.1 1197.5,1007.0 1198.7,1010.9 1198.6,1014.8 1197.0,1018.8 1195.2,1022.7 1193.1,1026.6 1190.8,1030.5 1188.4,1034.4 1186.0,1038.3 1183.4,1042.2 1180.7,1046.2 1177.9,1050.1 1175.1,1054.0" fill="none" stroke="#bdbdbd" stroke-width="0.7"/>
<polyline points="1172.2,960.0 1174.4,963.9 1176.6,967.8 1178.7,971.8 1180.8,975.7 1182.8,979.6 1184.7,983.5 1186.6,987.4 1188.4,991.3 1190.1,995.2 1191.8,999.2 1193.3,1003.1 1194.7,1007.0 1195.8,1010.9 1195.8,1014.8 1194.2,1018.8 1192.3,1022.7 1190.2,1026.6 1188.0,1030.5 1185.6,1034.4 1183.1,1038.3 1180.5,1042.2 1177.8,1046.2 1175.1,1050.1 1172.2,1054.0" fill="none" stroke="#7e7e7e" stroke-width="1.2"/>
<ellipse cx="1182.0" cy="978" rx="1.5" ry="2.3" fill="#262626" opacity="0.85"/>
<ellipse cx="1190.5" cy="996" rx="1.2" ry="1.8" fill="#262626" opacity="0.5"/>
<ellipse cx="1196.2" cy="1013" rx="1.7" ry="2.5" fill="#262626" opacity="0.85"/>
<ellipse cx="1189.4" cy="1028" rx="1.4" ry="2.1" fill="#262626" opacity="0.8"/>
<ellipse cx="1180.7" cy="1042" rx="1.3" ry="2.0" fill="#262626" opacity="0.6"/>
<polygon points="1186.5,960.0 1192.7,971.2 1198.5,982.5 1212.7,982.5 1206.9,971.2 1200.8,960.0" fill="#cdcdcd"/>
<polygon points="1191.5,960.0 1197.7,971.2 1203.5,982.5 1207.0,982.5 1201.2,971.2 1195.0,960.0" fill="#f6f6f6" opacity="0.45"/>
<polygon points="1198.5,982.5 1202.7,991.5 1206.6,1000.5 1220.8,1000.5 1217.0,991.5 1212.7,982.5" fill="#e0e0e0"/>
<polygon points="1203.5,982.5 1207.7,991.5 1211.5,1000.5 1215.1,1000.5 1211.3,991.5 1207.0,982.5" fill="#f6f6f6" opacity="0.8"/>
<polygon points="1206.6,1000.5 1209.6,1009.0 1209.0,1017.5 1223.2,1017.5 1223.8,1009.0 1220.8,1000.5" fill="#cdcdcd"/>
<polygon points="1211.5,1000.5 1214.5,1009.0 1214.0,1017.5 1217.5,1017.5 1218.1,1009.0 1215.1,1000.5" fill="#f6f6f6" opacity="0.45"/>
<polygon points="1209.0,1017.5 1205.3,1025.0 1201.0,1032.5 1215.3,1032.5 1219.6,1025.0 1223.2,1017.5" fill="#e0e0e0"/>
<polygon points="1214.0,1017.5 1210.3,1025.0 1206.0,1032.5 1209.6,1032.5 1213.9,1025.0 1217.5,1017.5" fill="#f6f6f6" opacity="0.8"/>
<polygon points="1201.0,1032.5 1196.6,1039.5 1191.9,1046.5 1206.1,1046.5 1210.8,1039.5 1215.3,1032.5" fill="#cdcdcd"/>
<polygon points="1206.0,1032.5 1201.6,1039.5 1196.8,1046.5 1200.4,1046.5 1205.1,1039.5 1209.6,1032.5" fill="#f6f6f6" opacity="0.45"/>
<polygon points="1191.9,1046.5 1189.2,1050.2 1186.5,1054.0 1200.8,1054.0 1203.5,1050.2 1206.1,1046.5" fill="#e0e0e0"/>
<polygon points="1196.8,1046.5 1194.2,1050.2 1191.5,1054.0 1195.0,1054.0 1197.8,1050.2 1200.4,1046.5" fill="#f6f6f6" opacity="0.8"/>
<polyline points="1197.6,960.0 1199.8,963.9 1202.0,967.8 1204.1,971.8 1206.1,975.7 1208.1,979.6 1210.1,983.5 1212.0,987.4 1213.8,991.3 1215.5,995.2 1217.1,999.2 1218.7,1003.1 1220.0,1007.0 1221.2,1010.9 1221.1,1014.8 1219.6,1018.8 1217.7,1022.7 1215.6,1026.6 1213.3,1030.5 1211.0,1034.4 1208.5,1038.3 1205.9,1042.2 1203.2,1046.2 1200.4,1050.1 1197.6,1054.0" fill="none" stroke="#a4a4a4" stroke-width="0.8"/>
<polyline points="1189.3,960.0 1191.5,963.9 1193.7,967.8 1195.8,971.8 1197.9,975.7 1199.9,979.6 1201.8,983.5 1203.7,987.4 1205.5,991.3 1207.2,995.2 1208.9,999.2 1210.4,1003.1 1211.8,1007.0 1212.9,1010.9 1212.9,1014.8 1211.3,1018.8 1209.4,1022.7 1207.3,1026.6 1205.1,1030.5 1202.7,1034.4 1200.2,1038.3 1197.6,1042.2 1194.9,1046.2 1192.2,1050.1 1189.3,1054.0" fill="none" stroke="#bdbdbd" stroke-width="0.7"/>
<polyline points="1186.5,960.0 1188.7,963.9 1190.8,967.8 1193.0,971.8 1195.0,975.7 1197.0,979.6 1199.0,983.5 1200.8,987.4 1202.7,991.3 1204.4,995.2 1206.0,999.2 1207.5,1003.1 1208.9,1007.0 1210.1,1010.9 1210.0,1014.8 1208.4,1018.8 1206.6,1022.7 1204.5,1026.6 1202.2,1030.5 1199.8,1034.4 1197.4,1038.3 1194.8,1042.2 1192.1,1046.2 1189.3,1050.1 1186.5,1054.0" fill="none" stroke="#7e7e7e" stroke-width="1.2"/>
<ellipse cx="1196.2" cy="978" rx="1.5" ry="2.3" fill="#262626" opacity="0.85"/>
<ellipse cx="1204.7" cy="996" rx="1.2" ry="1.8" fill="#262626" opacity="0.5"/>
<ellipse cx="1210.5" cy="1013" rx="1.7" ry="2.5" fill="#262626" opacity="0.85"/>
<ellipse cx="1203.7" cy="1028" rx="1.4" ry="2.1" fill="#262626" opacity="0.8"/>
<ellipse cx="1194.9" cy="1042" rx="1.3" ry="2.0" fill="#262626" opacity="0.6"/>
<polygon points="1200.8,960.0 1204.5,966.8 1208.1,973.5 1222.4,973.5 1218.8,966.8 1215.0,960.0" fill="#e0e0e0"/>
<polygon points="1205.7,960.0 1209.5,966.8 1213.1,973.5 1216.7,973.5 1213.1,966.8 1209.3,960.0" fill="#f6f6f6" opacity="0.8"/>
<polygon points="1208.1,973.5 1212.7,982.5 1217.0,991.5 1231.2,991.5 1227.0,982.5 1222.4,973.5" fill="#cdcdcd"/>
<polygon points="1213.1,973.5 1217.7,982.5 1222.0,991.5 1225.5,991.5 1221.3,982.5 1216.7,973.5" fill="#f6f6f6" opacity="0.45"/>
<polygon points="1217.0,991.5 1220.6,1000.0 1223.7,1008.5 1237.9,1008.5 1234.9,1000.0 1231.2,991.5" fill="#e0e0e0"/>
<polygon points="1222.0,991.5 1225.6,1000.0 1228.6,1008.5 1232.2,1008.5 1229.2,1000.0 1225.5,991.5" fill="#f6f6f6" opacity="0.8"/>
<polygon points="1223.7,1008.5 1223.8,1016.0 1220.4,1023.5 1234.6,1023.5 1238.1,1016.0 1237.9,1008.5" fill="#cdcdcd"/>
<polygon points="1228.6,1008.5 1228.8,1016.0 1225.4,1023.5 1228.9,1023.5 1232.4,1016.0 1232.2,1008.5" fill="#f6f6f6" opacity="0.45"/>
<polygon points="1220.4,1023.5 1216.5,1030.5 1212.1,1037.5 1226.4,1037.5 1230.7,1030.5 1234.6,1023.5" fill="#e0e0e0"/>
<polygon points="1225.4,1023.5 1221.5,1030.5 1217.1,1037.5 1220.7,1037.5 1225.0,1030.5 1228.9,1023.5" fill="#f6f6f6" opacity="0.8"/>
<polygon points="1212.1,1037.5 1206.6,1045.8 1200.8,1054.0 1215.0,1054.0 1220.9,1045.8 1226.4,1037.5" fill="#cdcdcd"/>
<polygon points="1217.1,1037.5 1211.6,1045.8 1205.7,1054.0 1209.3,1054.0 1215.2,1045.8 1220.7,1037.5" fill="#f6f6f6" opacity="0.45"/>
<polyline points="1211.9,960.0 1214.1,963.9 1216.2,967.8 1218.3,971.8 1220.4,975.7 1222.4,979.6 1224.3,983.5 1226.2,987.4 1228.0,991.3 1229.8,995.2 1231.4,999.2 1232.9,1003.1 1234.3,1007.0 1235.4,1010.9 1235.4,1014.8 1233.8,1018.8 1231.9,1022.7 1229.8,1026.6 1227.6,1030.5 1225.2,1034.4 1222.7,1038.3 1220.1,1042.2 1217.5,1046.2 1214.7,1050.1 1211.9,1054.0" fill="none" stroke="#a4a4a4" stroke-width="0.8"/>
<polyline points="1203.6,960.0 1205.8,963.9 1207.9,967.8 1210.1,971.8 1212.1,975.7 1214.1,979.6 1216.1,983.5 1217.9,987.4 1219.8,991.3 1221.5,995.2 1223.1,999.2 1224.6,1003.1 1226.0,1007.0 1227.2,1010.9 1227.1,1014.8 1225.5,1018.8 1223.7,1022.7 1221.6,1026.6 1219.3,1030.5 1216.9,1034.4 1214.5,1038.3 1211.9,1042.2 1209.2,1046.2 1206.4,1050.1 1203.6,1054.0" fill="none" stroke="#bdbdbd" stroke-width="0.7"/>
<polyline points="1200.8,960.0 1202.9,963.9 1205.1,967.8 1207.2,971.8 1209.3,975.7 1211.3,979.6 1213.2,983.5 1215.1,987.4 1216.9,991.3 1218.6,995.2 1220.3,999.2 1221.8,1003.1 1223.2,1007.0 1224.3,1010.9 1224.3,1014.8 1222.7,1018.8 1220.8,1022.7 1218.7,1026.6 1216.5,1030.5 1214.1,1034.4 1211.6,1038.3 1209.0,1042.2 1206.3,1046.2 1203.6,1050.1 1200.8,1054.0" fill="none" stroke="#7e7e7e" stroke-width="1.2"/>
<ellipse cx="1210.5" cy="978" rx="1.5" ry="2.3" fill="#262626" opacity="0.85"/>
<ellipse cx="1219.0" cy="996" rx="1.2" ry="1.8" fill="#262626" opacity="0.5"/>
<ellipse cx="1224.8" cy="1013" rx="1.7" ry="2.5" fill="#262626" opacity="0.85"/>
<ellipse cx="1217.9" cy="1028" rx="1.4" ry="2.1" fill="#262626" opacity="0.8"/>
<ellipse cx="1209.2" cy="1042" rx="1.3" ry="2.0" fill="#262626" opacity="0.6"/>
<polygon points="1215.0,960.0 1219.6,968.2 1223.9,976.5 1238.1,976.5 1233.7,968.2 1229.2,960.0" fill="#cdcdcd"/>
<polygon points="1220.0,960.0 1224.5,968.2 1228.9,976.5 1232.4,976.5 1228.1,968.2 1223.5,960.0" fill="#f6f6f6" opacity="0.45"/>
<polygon points="1223.9,976.5 1228.4,985.5 1232.6,994.5 1246.7,994.5 1242.6,985.5 1238.1,976.5" fill="#e0e0e0"/>
<polygon points="1228.9,976.5 1233.4,985.5 1237.5,994.5 1241.1,994.5 1236.9,985.5 1232.4,976.5" fill="#f6f6f6" opacity="0.8"/>
<polygon points="1232.6,994.5 1236.0,1003.0 1238.7,1011.5 1252.9,1011.5 1250.2,1003.0 1246.7,994.5" fill="#cdcdcd"/>
<polygon points="1237.5,994.5 1241.0,1003.0 1243.7,1011.5 1247.2,1011.5 1244.5,1003.0 1241.1,994.5" fill="#f6f6f6" opacity="0.45"/>
<polygon points="1238.7,1011.5 1236.8,1019.0 1233.0,1026.5 1247.2,1026.5 1251.0,1019.0 1252.9,1011.5" fill="#e0e0e0"/>
<polygon points="1243.7,1011.5 1241.8,1019.0 1238.0,1026.5 1241.5,1026.5 1245.3,1019.0 1247.2,1011.5" fill="#f6f6f6" opacity="0.8"/>
<polygon points="1233.0,1026.5 1228.9,1033.5 1224.4,1040.5 1238.6,1040.5 1243.1,1033.5 1247.2,1026.5" fill="#cdcdcd"/>
<polygon points="1238.0,1026.5 1233.9,1033.5 1229.4,1040.5 1232.9,1040.5 1237.4,1033.5 1241.5,1026.5" fill="#f6f6f6" opacity="0.45"/>
<polygon points="1224.4,1040.5 1219.8,1047.2 1215.0,1054.0 1229.2,1054.0 1234.0,1047.2 1238.6,1040.5" fill="#e0e0e0"/>
<polygon points="1229.4,1040.5 1224.8,1047.2 1220.0,1054.0 1223.5,1054.0 1228.3,1047.2 1232.9,1040.5" fill="#f6f6f6" opacity="0.8"/>
<polyline points="1226.0,960.0 1228.2,963.9 1230.4,967.8 1232.5,971.8 1234.6,975.7 1236.6,979.6 1238.5,983.5 1240.4,987.4 1242.2,991.3 1243.9,995.2 1245.6,999.2 1247.1,1003.1 1248.5,1007.0 1249.6,1010.9 1249.6,1014.8 1248.0,1018.8 1246.1,1022.7 1244.0,1026.6 1241.8,1030.5 1239.4,1034.4 1236.9,1038.3 1234.3,1042.2 1231.6,1046.2 1228.9,1050.1 1226.0,1054.0" fill="none" stroke="#a4a4a4" stroke-width="0.8"/>
<polyline points="1217.8,960.0 1220.0,963.9 1222.2,967.8 1224.3,971.8 1226.3,975.7 1228.3,979.6 1230.3,983.5 1232.2,987.4 1234.0,991.3 1235.7,995.2 1237.4,999.2 1238.9,1003.1 1240.3,1007.0 1241.4,1010.9 1241.3,1014.8 1239.8,1018.8 1237.9,1022.7 1235.8,1026.6 1233.6,1030.5 1231.2,1034.4 1228.7,1038.3 1226.1,1042.2 1223.4,1046.2 1220.7,1050.1 1217.8,1054.0" fill="none" stroke="#bdbdbd" stroke-width="0.7"/>
<polyline points="1215.0,960.0 1217.2,963.9 1219.3,967.8 1221.5,971.8 1223.5,975.7 1225.5,979.6 1227.5,983.5 1229.3,987.4 1231.2,991.3 1232.9,995.2 1234.5,999.2 1236.0,1003.1 1237.4,1007.0 1238.6,1010.9 1238.5,1014.8 1236.9,1018.8 1235.1,1022.7 1233.0,1026.6 1230.7,1030.5 1228.3,1034.4 1225.9,1038.3 1223.3,1042.2 1220.6,1046.2 1217.8,1050.1 1215.0,1054.0" fill="none" stroke="#7e7e7e" stroke-width="1.2"/>
<ellipse cx="1224.7" cy="978" rx="1.5" ry="2.3" fill="#262626" opacity="0.85"/>
<ellipse cx="1233.2" cy="996" rx="1.2" ry="1.8" fill="#262626" opacity="0.5"/>
<ellipse cx="1239.0" cy="1013" rx="1.7" ry="2.5" fill="#262626" opacity="0.85"/>
<ellipse cx="1232.2" cy="1028" rx="1.4" ry="2.1" fill="#262626" opacity="0.8"/>
<ellipse cx="1223.4" cy="1042" rx="1.3" ry="2.0" fill="#262626" opacity="0.6"/>
<polygon points="1229.2,960.0 1234.6,969.8 1239.6,979.5 1253.8,979.5 1248.7,969.8 1243.3,960.0" fill="#e0e0e0"/>
<polygon points="1234.1,960.0 1239.5,969.8 1244.6,979.5 1248.1,979.5 1243.1,969.8 1237.7,960.0" fill="#f6f6f6" opacity="0.8"/>
<polygon points="1239.6,979.5 1244.0,988.5 1248.0,997.5 1262.2,997.5 1258.2,988.5 1253.8,979.5" fill="#cdcdcd"/>
<polygon points="1244.6,979.5 1249.0,988.5 1253.0,997.5 1256.5,997.5 1252.5,988.5 1248.1,979.5" fill="#f6f6f6" opacity="0.45"/>
<polygon points="1248.0,997.5 1251.3,1006.0 1252.8,1014.5 1266.9,1014.5 1265.4,1006.0 1262.2,997.5" fill="#e0e0e0"/>
<polygon points="1253.0,997.5 1256.2,1006.0 1257.7,1014.5 1261.3,1014.5 1259.8,1006.0 1256.5,997.5" fill="#f6f6f6" opacity="0.8"/>
<polygon points="1252.8,1014.5 1249.6,1022.0 1245.5,1029.5 1259.6,1029.5 1263.7,1022.0 1266.9,1014.5" fill="#cdcdcd"/>
<polygon points="1257.7,1014.5 1254.5,1022.0 1250.4,1029.5 1254.0,1029.5 1258.1,1022.0 1261.3,1014.5" fill="#f6f6f6" opacity="0.45"/>
<polygon points="1245.5,1029.5 1241.2,1036.5 1236.6,1043.5 1250.8,1043.5 1255.4,1036.5 1259.6,1029.5" fill="#e0e0e0"/>
<polygon points="1250.4,1029.5 1246.2,1036.5 1241.5,1043.5 1245.1,1043.5 1249.7,1036.5 1254.0,1029.5" fill="#f6f6f6" opacity="0.8"/>
<polygon points="1236.6,1043.5 1232.9,1048.8 1229.2,1054.0 1243.3,1054.0 1247.1,1048.8 1250.8,1043.5" fill="#cdcdcd"/>
<polygon points="1241.5,1043.5 1237.9,1048.8 1234.1,1054.0 1237.7,1054.0 1241.4,1048.8 1245.1,1043.5" fill="#f6f6f6" opacity="0.45"/>
<polyline points="1240.2,960.0 1242.4,963.9 1244.6,967.8 1246.7,971.8 1248.7,975.7 1250.7,979.6 1252.7,983.5 1254.6,987.4 1256.4,991.3 1258.1,995.2 1259.7,999.2 1261.3,1003.1 1262.6,1007.0 1263.8,1010.9 1263.7,1014.8 1262.2,1018.8 1260.3,1022.7 1258.2,1026.6 1255.9,1030.5 1253.6,1034.4 1251.1,1038.3 1248.5,1042.2 1245.8,1046.2 1243.0,1050.1 1240.2,1054.0" fill="none" stroke="#a4a4a4" stroke-width="0.8"/>
<polyline points="1232.0,960.0 1234.2,963.9 1236.3,967.8 1238.5,971.8 1240.5,975.7 1242.5,979.6 1244.5,983.5 1246.3,987.4 1248.2,991.3 1249.9,995.2 1251.5,999.2 1253.0,1003.1 1254.4,1007.0 1255.6,1010.9 1255.5,1014.8 1253.9,1018.8 1252.1,1022.7 1250.0,1026.6 1247.7,1030.5 1245.3,1034.4 1242.9,1038.3 1240.3,1042.2 1237.6,1046.2 1234.8,1050.1 1232.0,1054.0" fill="none" stroke="#bdbdbd" stroke-width="0.7"/>
<polyline points="1229.2,960.0 1231.4,963.9 1233.5,967.8 1235.6,971.8 1237.7,975.7 1239.7,979.6 1241.6,983.5 1243.5,987.4 1245.3,991.3 1247.1,995.2 1248.7,999.2 1250.2,1003.1 1251.6,1007.0 1252.7,1010.9 1252.7,1014.8 1251.1,1018.8 1249.2,1022.7 1247.1,1026.6 1244.9,1030.5 1242.5,1034.4 1240.0,1038.3 1237.4,1042.2 1234.8,1046.2 1232.0,1050.1 1229.2,1054.0" fill="none" stroke="#7e7e7e" stroke-width="1.2"/>
<ellipse cx="1238.9" cy="978" rx="1.5" ry="2.3" fill="#262626" opacity="0.85"/>
<ellipse cx="1247.4" cy="996" rx="1.2" ry="1.8" fill="#262626" opacity="0.5"/>
<ellipse cx="1253.2" cy="1013" rx="1.7" ry="2.5" fill="#262626" opacity="0.85"/>
<ellipse cx="1246.3" cy="1028" rx="1.4" ry="2.1" fill="#262626" opacity="0.8"/>
<ellipse cx="1237.6" cy="1042" rx="1.3" ry="2.0" fill="#262626" opacity="0.6"/>
<polygon points="1243.3,960.0 1249.5,971.2 1255.3,982.5 1269.5,982.5 1263.7,971.2 1257.5,960.0" fill="#cdcdcd"/>
<polygon points="1248.3,960.0 1254.5,971.2 1260.3,982.5 1263.8,982.5 1258.0,971.2 1251.8,960.0" fill="#f6f6f6" opacity="0.45"/>
<polygon points="1255.3,982.5 1259.6,991.5 1263.4,1000.5 1277.6,1000.5 1273.7,991.5 1269.5,982.5" fill="#e0e0e0"/>
<polygon points="1260.3,982.5 1264.5,991.5 1268.3,1000.5 1271.9,1000.5 1268.1,991.5 1263.8,982.5" fill="#f6f6f6" opacity="0.8"/>
<polygon points="1263.4,1000.5 1266.4,1009.0 1265.8,1017.5 1280.0,1017.5 1280.6,1009.0 1277.6,1000.5" fill="#cdcdcd"/>
<polygon points="1268.3,1000.5 1271.3,1009.0 1270.8,1017.5 1274.3,1017.5 1274.9,1009.0 1271.9,1000.5" fill="#f6f6f6" opacity="0.45"/>
<polygon points="1265.8,1017.5 1262.2,1025.0 1257.9,1032.5 1272.0,1032.5 1276.3,1025.0 1280.0,1017.5" fill="#e0e0e0"/>
<polygon points="1270.8,1017.5 1267.1,1025.0 1262.8,1032.5 1266.4,1032.5 1270.7,1025.0 1274.3,1017.5" fill="#f6f6f6" opacity="0.8"/>
<polygon points="1257.9,1032.5 1253.4,1039.5 1248.7,1046.5 1262.9,1046.5 1267.6,1039.5 1272.0,1032.5" fill="#cdcdcd"/>
<polygon points="1262.8,1032.5 1258.4,1039.5 1253.6,1046.5 1257.2,1046.5 1261.9,1039.5 1266.4,1032.5" fill="#f6f6f6" opacity="0.45"/>
<polygon points="1248.7,1046.5 1246.0,1050.2 1243.3,1054.0 1257.5,1054.0 1260.2,1050.2 1262.9,1046.5" fill="#e0e0e0"/>
<polygon points="1253.6,1046.5 1251.0,1050.2 1248.3,1054.0 1251.8,1054.0 1254.5,1050.2 1257.2,1046.5" fill="#f6f6f6" opacity="0.8"/>
<polyline points="1254.4,960.0 1256.6,963.9 1258.7,967.8 1260.8,971.8 1262.9,975.7 1264.9,979.6 1266.8,983.5 1268.7,987.4 1270.5,991.3 1272.3,995.2 1273.9,999.2 1275.4,1003.1 1276.8,1007.0 1278.0,1010.9 1277.9,1014.8 1276.3,1018.8 1274.4,1022.7 1272.4,1026.6 1270.1,1030.5 1267.7,1034.4 1265.2,1038.3 1262.6,1042.2 1260.0,1046.2 1257.2,1050.1 1254.4,1054.0" fill="none" stroke="#a4a4a4" stroke-width="0.8"/>
<polyline points="1246.2,960.0 1248.4,963.9 1250.5,967.8 1252.6,971.8 1254.7,975.7 1256.7,979.6 1258.6,983.5 1260.5,987.4 1262.3,991.3 1264.1,995.2 1265.7,999.2 1267.2,1003.1 1268.6,1007.0 1269.7,1010.9 1269.7,1014.8 1268.1,1018.8 1266.2,1022.7 1264.1,1026.6 1261.9,1030.5 1259.5,1034.4 1257.0,1038.3 1254.4,1042.2 1251.8,1046.2 1249.0,1050.1 1246.2,1054.0" fill="none" stroke="#bdbdbd" stroke-width="0.7"/>
<polyline points="1243.3,960.0 1245.5,963.9 1247.7,967.8 1249.8,971.8 1251.8,975.7 1253.8,979.6 1255.8,983.5 1257.7,987.4 1259.5,991.3 1261.2,995.2 1262.9,999.2 1264.4,1003.1 1265.8,1007.0 1266.9,1010.9 1266.8,1014.8 1265.3,1018.8 1263.4,1022.7 1261.3,1026.6 1259.1,1030.5 1256.7,1034.4 1254.2,1038.3 1251.6,1042.2 1248.9,1046.2 1246.2,1050.1 1243.3,1054.0" fill="none" stroke="#7e7e7e" stroke-width="1.2"/>
<ellipse cx="1253.0" cy="978" rx="1.5" ry="2.3" fill="#262626" opacity="0.85"/>
<ellipse cx="1261.5" cy="996" rx="1.2" ry="1.8" fill="#262626" opacity="0.5"/>
<ellipse cx="1267.3" cy="1013" rx="1.7" ry="2.5" fill="#262626" opacity="0.85"/>
<ellipse cx="1260.5" cy="1028" rx="1.4" ry="2.1" fill="#262626" opacity="0.8"/>
<ellipse cx="1251.8" cy="1042" rx="1.3" ry="2.0" fill="#262626" opacity="0.6"/>
<polygon points="1257.5,960.0 1261.3,966.8 1264.9,973.5 1279.0,973.5 1275.4,966.8 1271.7,960.0" fill="#e0e0e0"/>
<polygon points="1262.5,960.0 1266.2,966.8 1269.8,973.5 1273.4,973.5 1269.8,966.8 1266.0,960.0" fill="#f6f6f6" opacity="0.8"/>
<polygon points="1264.9,973.5 1269.5,982.5 1273.7,991.5 1287.9,991.5 1283.6,982.5 1279.0,973.5" fill="#cdcdcd"/>
<polygon points="1269.8,973.5 1274.4,982.5 1278.7,991.5 1282.2,991.5 1278.0,982.5 1273.4,973.5" fill="#f6f6f6" opacity="0.45"/>
<polygon points="1273.7,991.5 1277.4,1000.0 1280.4,1008.5 1294.6,1008.5 1291.5,1000.0 1287.9,991.5" fill="#e0e0e0"/>
<polygon points="1278.7,991.5 1282.3,1000.0 1285.4,1008.5 1288.9,1008.5 1285.9,1000.0 1282.2,991.5" fill="#f6f6f6" opacity="0.8"/>
<polygon points="1280.4,1008.5 1280.6,1016.0 1277.1,1023.5 1291.3,1023.5 1294.8,1016.0 1294.6,1008.5" fill="#cdcdcd"/>
<polygon points="1285.4,1008.5 1285.5,1016.0 1282.1,1023.5 1285.6,1023.5 1289.1,1016.0 1288.9,1008.5" fill="#f6f6f6" opacity="0.45"/>
<polygon points="1277.1,1023.5 1273.2,1030.5 1268.9,1037.5 1283.1,1037.5 1287.4,1030.5 1291.3,1023.5" fill="#e0e0e0"/>
<polygon points="1282.1,1023.5 1278.2,1030.5 1273.8,1037.5 1277.4,1037.5 1281.7,1030.5 1285.6,1023.5" fill="#f6f6f6" opacity="0.8"/>
<polygon points="1268.9,1037.5 1263.4,1045.8 1257.5,1054.0 1271.7,1054.0 1277.5,1045.8 1283.1,1037.5" fill="#cdcdcd"/>
<polygon points="1273.8,1037.5 1268.3,1045.8 1262.5,1054.0 1266.0,1054.0 1271.9,1045.8 1277.4,1037.5" fill="#f6f6f6" opacity="0.45"/>
<polyline points="1268.5,960.0 1270.7,963.9 1272.9,967.8 1275.0,971.8 1277.1,975.7 1279.1,979.6 1281.0,983.5 1282.9,987.4 1284.7,991.3 1286.4,995.2 1288.1,999.2 1289.6,1003.1 1291.0,1007.0 1292.1,1010.9 1292.1,1014.8 1290.5,1018.8 1288.6,1022.7 1286.5,1026.6 1284.3,1030.5 1281.9,1034.4 1279.4,1038.3 1276.8,1042.2 1274.1,1046.2 1271.4,1050.1 1268.5,1054.0" fill="none" stroke="#a4a4a4" stroke-width="0.8"/>
<polyline points="1260.3,960.0 1262.5,963.9 1264.7,967.8 1266.8,971.8 1268.8,975.7 1270.8,979.6 1272.8,983.5 1274.7,987.4 1276.5,991.3 1278.2,995.2 1279.9,999.2 1281.4,1003.1 1282.8,1007.0 1283.9,1010.9 1283.8,1014.8 1282.3,1018.8 1280.4,1022.7 1278.3,1026.6 1276.1,1030.5 1273.7,1034.4 1271.2,1038.3 1268.6,1042.2 1265.9,1046.2 1263.2,1050.1 1260.3,1054.0" fill="none" stroke="#bdbdbd" stroke-width="0.7"/>
<polyline points="1257.5,960.0 1259.7,963.9 1261.8,967.8 1264.0,971.8 1266.0,975.7 1268.0,979.6 1270.0,983.5 1271.8,987.4 1273.7,991.3 1275.4,995.2 1277.0,999.2 1278.5,1003.1 1279.9,1007.0 1281.1,1010.9 1281.0,1014.8 1279.4,1018.8 1277.6,1022.7 1275.5,1026.6 1273.2,1030.5 1270.8,1034.4 1268.4,1038.3 1265.8,1042.2 1263.1,1046.2 1260.3,1050.1 1257.5,1054.0" fill="none" stroke="#7e7e7e" stroke-width="1.2"/>
<ellipse cx="1267.2" cy="978" rx="1.5" ry="2.3" fill="#262626" opacity="0.85"/>
<ellipse cx="1275.7" cy="996" rx="1.2" ry="1.8" fill="#262626" opacity="0.5"/>
<ellipse cx="1281.5" cy="1013" rx="1.7" ry="2.5" fill="#262626" opacity="0.85"/>
<ellipse cx="1274.7" cy="1028" rx="1.4" ry="2.1" fill="#262626" opacity="0.8"/>
<ellipse cx="1265.9" cy="1042" rx="1.3" ry="2.0" fill="#262626" opacity="0.6"/>
<polygon points="1271.7,960.0 1276.2,968.2 1280.6,976.5 1294.8,976.5 1290.4,968.2 1285.8,960.0" fill="#cdcdcd"/>
<polygon points="1276.6,960.0 1281.2,968.2 1285.6,976.5 1289.1,976.5 1284.7,968.2 1280.2,960.0" fill="#f6f6f6" opacity="0.45"/>
<polygon points="1280.6,976.5 1285.1,985.5 1289.2,994.5 1303.4,994.5 1299.3,985.5 1294.8,976.5" fill="#e0e0e0"/>
<polygon points="1285.6,976.5 1290.1,985.5 1294.2,994.5 1297.7,994.5 1293.6,985.5 1289.1,976.5" fill="#f6f6f6" opacity="0.8"/>
<polygon points="1289.2,994.5 1292.7,1003.0 1295.4,1011.5 1309.6,1011.5 1306.8,1003.0 1303.4,994.5" fill="#cdcdcd"/>
<polygon points="1294.2,994.5 1297.6,1003.0 1300.3,1011.5 1303.9,1011.5 1301.2,1003.0 1297.7,994.5" fill="#f6f6f6" opacity="0.45"/>
<polygon points="1295.4,1011.5 1293.5,1019.0 1289.7,1026.5 1303.8,1026.5 1307.7,1019.0 1309.6,1011.5" fill="#e0e0e0"/>
<polygon points="1300.3,1011.5 1298.5,1019.0 1294.6,1026.5 1298.2,1026.5 1302.0,1019.0 1303.9,1011.5" fill="#f6f6f6" opacity="0.8"/>
<polygon points="1289.7,1026.5 1285.6,1033.5 1281.1,1040.5 1295.3,1040.5 1299.7,1033.5 1303.8,1026.5" fill="#cdcdcd"/>
<polygon points="1294.6,1026.5 1290.5,1033.5 1286.1,1040.5 1289.6,1040.5 1294.1,1033.5 1298.2,1026.5" fill="#f6f6f6" opacity="0.45"/>
<polygon points="1281.1,1040.5 1276.5,1047.2 1271.7,1054.0 1285.8,1054.0 1290.7,1047.2 1295.3,1040.5" fill="#e0e0e0"/>
<polygon points="1286.1,1040.5 1281.5,1047.2 1276.6,1054.0 1280.2,1054.0 1285.0,1047.2 1289.6,1040.5" fill="#f6f6f6" opacity="0.8"/>
<polyline points="1282.7,960.0 1284.9,963.9 1287.1,967.8 1289.2,971.8 1291.2,975.7 1293.2,979.6 1295.2,983.5 1297.1,987.4 1298.9,991.3 1300.6,995.2 1302.2,999.2 1303.8,1003.1 1305.1,1007.0 1306.3,1010.9 1306.2,1014.8 1304.7,1018.8 1302.8,1022.7 1300.7,1026.6 1298.4,1030.5 1296.1,1034.4 1293.6,1038.3 1291.0,1042.2 1288.3,1046.2 1285.5,1050.1 1282.7,1054.0" fill="none" stroke="#a4a4a4" stroke-width="0.8"/>
<polyline points="1274.5,960.0 1276.7,963.9 1278.8,967.8 1281.0,971.8 1283.0,975.7 1285.0,979.6 1287.0,983.5 1288.8,987.4 1290.7,991.3 1292.4,995.2 1294.0,999.2 1295.5,1003.1 1296.9,1007.0 1298.1,1010.9 1298.0,1014.8 1296.4,1018.8 1294.6,1022.7 1292.5,1026.6 1290.2,1030.5 1287.8,1034.4 1285.4,1038.3 1282.8,1042.2 1280.1,1046.2 1277.3,1050.1 1274.5,1054.0" fill="none" stroke="#bdbdbd" stroke-width="0.7"/>
<polyline points="1271.7,960.0 1273.9,963.9 1276.0,967.8 1278.1,971.8 1280.2,975.7 1282.2,979.6 1284.1,983.5 1286.0,987.4 1287.8,991.3 1289.6,995.2 1291.2,999.2 1292.7,1003.1 1294.1,1007.0 1295.2,1010.9 1295.2,1014.8 1293.6,1018.8 1291.7,1022.7 1289.6,1026.6 1287.4,1030.5 1285.0,1034.4 1282.5,1038.3 1279.9,1042.2 1277.3,1046.2 1274.5,1050.1 1271.7,1054.0" fill="none" stroke="#7e7e7e" stroke-width="1.2"/>
<ellipse cx="1281.4" cy="978" rx="1.5" ry="2.3" fill="#262626" opacity="0.85"/>
<ellipse cx="1289.9" cy="996" rx="1.2" ry="1.8" fill="#262626" opacity="0.5"/>
<ellipse cx="1295.7" cy="1013" rx="1.7" ry="2.5" fill="#262626" opacity="0.85"/>
<ellipse cx="1288.8" cy="1028" rx="1.4" ry="2.1" fill="#262626" opacity="0.8"/>
<ellipse cx="1280.1" cy="1042" rx="1.3" ry="2.0" fill="#262626" opacity="0.6"/>
<polygon points="1285.8,960.0 1291.2,969.8 1296.3,979.5 1310.5,979.5 1305.4,969.8 1300.0,960.0" fill="#e0e0e0"/>
<polygon points="1290.8,960.0 1296.2,969.8 1301.3,979.5 1304.8,979.5 1299.7,969.8 1294.3,960.0" fill="#f6f6f6" opacity="0.8"/>
<polygon points="1296.3,979.5 1300.7,988.5 1304.7,997.5 1318.8,997.5 1314.9,988.5 1310.5,979.5" fill="#cdcdcd"/>
<polygon points="1301.3,979.5 1305.6,988.5 1309.6,997.5 1313.2,997.5 1309.2,988.5 1304.8,979.5" fill="#f6f6f6" opacity="0.45"/>
<polygon points="1304.7,997.5 1307.9,1006.0 1309.4,1014.5 1323.6,1014.5 1322.1,1006.0 1318.8,997.5" fill="#e0e0e0"/>
<polygon points="1309.6,997.5 1312.9,1006.0 1314.4,1014.5 1317.9,1014.5 1316.4,1006.0 1313.2,997.5" fill="#f6f6f6" opacity="0.8"/>
<polygon points="1309.4,1014.5 1306.2,1022.0 1302.1,1029.5 1316.3,1029.5 1320.4,1022.0 1323.6,1014.5" fill="#cdcdcd"/>
<polygon points="1314.4,1014.5 1311.2,1022.0 1307.1,1029.5 1310.6,1029.5 1314.7,1022.0 1317.9,1014.5" fill="#f6f6f6" opacity="0.45"/>
<polygon points="1302.1,1029.5 1297.9,1036.5 1293.3,1043.5 1307.4,1043.5 1312.0,1036.5 1316.3,1029.5" fill="#e0e0e0"/>
<polygon points="1307.1,1029.5 1302.8,1036.5 1298.2,1043.5 1301.8,1043.5 1306.4,1036.5 1310.6,1029.5" fill="#f6f6f6" opacity="0.8"/>
<polygon points="1293.3,1043.5 1289.6,1048.8 1285.8,1054.0 1300.0,1054.0 1303.8,1048.8 1307.4,1043.5" fill="#cdcdcd"/>
<polygon points="1298.2,1043.5 1294.6,1048.8 1290.8,1054.0 1294.3,1054.0 1298.1,1048.8 1301.8,1043.5" fill="#f6f6f6" opacity="0.45"/>
<polyline points="1296.9,960.0 1299.1,963.9 1301.2,967.8 1303.3,971.8 1305.4,975.7 1307.4,979.6 1309.3,983.5 1311.2,987.4 1313.0,991.3 1314.8,995.2 1316.4,999.2 1317.9,1003.1 1319.3,1007.0 1320.5,1010.9 1320.4,1014.8 1318.8,1018.8 1316.9,1022.7 1314.9,1026.6 1312.6,1030.5 1310.2,1034.4 1307.7,1038.3 1305.1,1042.2 1302.5,1046.2 1299.7,1050.1 1296.9,1054.0" fill="none" stroke="#a4a4a4" stroke-width="0.8"/>
<polyline points="1288.7,960.0 1290.9,963.9 1293.0,967.8 1295.1,971.8 1297.2,975.7 1299.2,979.6 1301.1,983.5 1303.0,987.4 1304.8,991.3 1306.6,995.2 1308.2,999.2 1309.7,1003.1 1311.1,1007.0 1312.2,1010.9 1312.2,1014.8 1310.6,1018.8 1308.7,1022.7 1306.6,1026.6 1304.4,1030.5 1302.0,1034.4 1299.5,1038.3 1296.9,1042.2 1294.3,1046.2 1291.5,1050.1 1288.7,1054.0" fill="none" stroke="#bdbdbd" stroke-width="0.7"/>
<polyline points="1285.8,960.0 1288.0,963.9 1290.2,967.8 1292.3,971.8 1294.3,975.7 1296.3,979.6 1298.3,983.5 1300.2,987.4 1302.0,991.3 1303.7,995.2 1305.4,999.2 1306.9,1003.1 1308.3,1007.0 1309.4,1010.9 1309.3,1014.8 1307.8,1018.8 1305.9,1022.7 1303.8,1026.6 1301.6,1030.5 1299.2,1034.4 1296.7,1038.3 1294.1,1042.2 1291.4,1046.2 1288.7,1050.1 1285.8,1054.0" fill="none" stroke="#7e7e7e" stroke-width="1.2"/>
<ellipse cx="1295.5" cy="978" rx="1.5" ry="2.3" fill="#262626" opacity="0.85"/>
<ellipse cx="1304.0" cy="996" rx="1.2" ry="1.8" fill="#262626" opacity="0.5"/>
<ellipse cx="1309.8" cy="1013" rx="1.7" ry="2.5" fill="#262626" opacity="0.85"/>
<ellipse cx="1303.0" cy="1028" rx="1.4" ry="2.1" fill="#262626" opacity="0.8"/>
<ellipse cx="1294.3" cy="1042" rx="1.3" ry="2.0" fill="#262626" opacity="0.6"/>
<polygon points="1300.0,960.0 1306.2,971.2 1312.0,982.5 1326.1,982.5 1320.4,971.2 1314.2,960.0" fill="#cdcdcd"/>
<polygon points="1305.0,960.0 1311.1,971.2 1316.9,982.5 1320.5,982.5 1314.7,971.2 1308.5,960.0" fill="#f6f6f6" opacity="0.45"/>
<polygon points="1312.0,982.5 1316.2,991.5 1320.1,1000.5 1334.2,1000.5 1330.4,991.5 1326.1,982.5" fill="#e0e0e0"/>
<polygon points="1316.9,982.5 1321.2,991.5 1325.0,1000.5 1328.6,1000.5 1324.7,991.5 1320.5,982.5" fill="#f6f6f6" opacity="0.8"/>
<polygon points="1320.1,1000.5 1323.1,1009.0 1322.5,1017.5 1336.7,1017.5 1337.2,1009.0 1334.2,1000.5" fill="#cdcdcd"/>
<polygon points="1325.0,1000.5 1328.0,1009.0 1327.4,1017.5 1331.0,1017.5 1331.6,1009.0 1328.6,1000.5" fill="#f6f6f6" opacity="0.45"/>
<polygon points="1322.5,1017.5 1318.8,1025.0 1314.5,1032.5 1328.7,1032.5 1333.0,1025.0 1336.7,1017.5" fill="#e0e0e0"/>
<polygon points="1327.4,1017.5 1323.8,1025.0 1319.5,1032.5 1323.0,1032.5 1327.3,1025.0 1331.0,1017.5" fill="#f6f6f6" opacity="0.8"/>
<polygon points="1314.5,1032.5 1310.1,1039.5 1305.4,1046.5 1319.5,1046.5 1324.3,1039.5 1328.7,1032.5" fill="#cdcdcd"/>
<polygon points="1319.5,1032.5 1315.0,1039.5 1310.3,1046.5 1313.9,1046.5 1318.6,1039.5 1323.0,1032.5" fill="#f6f6f6" opacity="0.45"/>
<polygon points="1305.4,1046.5 1302.7,1050.2 1300.0,1054.0 1314.2,1054.0 1316.9,1050.2 1319.5,1046.5" fill="#e0e0e0"/>
<polygon points="1310.3,1046.5 1307.7,1050.2 1305.0,1054.0 1308.5,1054.0 1311.2,1050.2 1313.9,1046.5" fill="#f6f6f6" opacity="0.8"/>
<polyline points="1311.0,960.0 1313.2,963.9 1315.4,967.8 1317.5,971.8 1319.6,975.7 1321.6,979.6 1323.5,983.5 1325.4,987.4 1327.2,991.3 1328.9,995.2 1330.6,999.2 1332.1,1003.1 1333.5,1007.0 1334.6,1010.9 1334.6,1014.8 1333.0,1018.8 1331.1,1022.7 1329.0,1026.6 1326.8,1030.5 1324.4,1034.4 1321.9,1038.3 1319.3,1042.2 1316.6,1046.2 1313.9,1050.1 1311.0,1054.0" fill="none" stroke="#a4a4a4" stroke-width="0.8"/>
<polyline points="1302.8,960.0 1305.0,963.9 1307.2,967.8 1309.3,971.8 1311.3,975.7 1313.3,979.6 1315.3,983.5 1317.2,987.4 1319.0,991.3 1320.7,995.2 1322.4,999.2 1323.9,1003.1 1325.3,1007.0 1326.4,1010.9 1326.3,1014.8 1324.8,1018.8 1322.9,1022.7 1320.8,1026.6 1318.6,1030.5 1316.2,1034.4 1313.7,1038.3 1311.1,1042.2 1308.4,1046.2 1305.7,1050.1 1302.8,1054.0" fill="none" stroke="#bdbdbd" stroke-width="0.7"/>
<polyline points="1300.0,960.0 1302.2,963.9 1304.3,967.8 1306.5,971.8 1308.5,975.7 1310.5,979.6 1312.5,983.5 1314.3,987.4 1316.2,991.3 1317.9,995.2 1319.5,999.2 1321.0,1003.1 1322.4,1007.0 1323.6,1010.9 1323.5,1014.8 1321.9,1018.8 1320.1,1022.7 1318.0,1026.6 1315.7,1030.5 1313.3,1034.4 1310.9,1038.3 1308.3,1042.2 1305.6,1046.2 1302.8,1050.1 1300.0,1054.0" fill="none" stroke="#7e7e7e" stroke-width="1.2"/>
<ellipse cx="1309.7" cy="978" rx="1.5" ry="2.3" fill="#262626" opacity="0.85"/>
<ellipse cx="1318.2" cy="996" rx="1.2" ry="1.8" fill="#262626" opacity="0.5"/>
<ellipse cx="1324.0" cy="1013" rx="1.7" ry="2.5" fill="#262626" opacity="0.85"/>
<ellipse cx="1317.2" cy="1028" rx="1.4" ry="2.1" fill="#262626" opacity="0.8"/>
<ellipse cx="1308.4" cy="1042" rx="1.3" ry="2.0" fill="#262626" opacity="0.6"/>
<polygon points="1314.2,960.0 1317.9,966.8 1321.5,973.5 1335.7,973.5 1332.1,966.8 1328.3,960.0" fill="#e0e0e0"/>
<polygon points="1319.1,960.0 1322.9,966.8 1326.5,973.5 1330.0,973.5 1326.4,966.8 1322.7,960.0" fill="#f6f6f6" opacity="0.8"/>
<polygon points="1321.5,973.5 1326.1,982.5 1330.4,991.5 1344.6,991.5 1340.3,982.5 1335.7,973.5" fill="#cdcdcd"/>
<polygon points="1326.5,973.5 1331.1,982.5 1335.4,991.5 1338.9,991.5 1334.6,982.5 1330.0,973.5" fill="#f6f6f6" opacity="0.45"/>
<polygon points="1330.4,991.5 1334.0,1000.0 1337.1,1008.5 1351.2,1008.5 1348.2,1000.0 1344.6,991.5" fill="#e0e0e0"/>
<polygon points="1335.4,991.5 1339.0,1000.0 1342.0,1008.5 1345.6,1008.5 1342.5,1000.0 1338.9,991.5" fill="#f6f6f6" opacity="0.8"/>
<polygon points="1337.1,1008.5 1337.3,1016.0 1333.8,1023.5 1348.0,1023.5 1351.4,1016.0 1351.2,1008.5" fill="#cdcdcd"/>
<polygon points="1342.0,1008.5 1342.2,1016.0 1338.8,1023.5 1342.3,1023.5 1345.8,1016.0 1345.6,1008.5" fill="#f6f6f6" opacity="0.45"/>
<polygon points="1333.8,1023.5 1329.9,1030.5 1325.6,1037.5 1339.7,1037.5 1344.1,1030.5 1348.0,1023.5" fill="#e0e0e0"/>
<polygon points="1338.8,1023.5 1334.8,1030.5 1330.5,1037.5 1334.1,1037.5 1338.4,1030.5 1342.3,1023.5" fill="#f6f6f6" opacity="0.8"/>
<polygon points="1325.6,1037.5 1320.0,1045.8 1314.2,1054.0 1328.3,1054.0 1334.2,1045.8 1339.7,1037.5" fill="#cdcdcd"/>
<polygon points="1330.5,1037.5 1325.0,1045.8 1319.1,1054.0 1322.7,1054.0 1328.5,1045.8 1334.1,1037.5" fill="#f6f6f6" opacity="0.45"/>
<polyline points="1325.2,960.0 1327.4,963.9 1329.6,967.8 1331.7,971.8 1333.7,975.7 1335.7,979.6 1337.7,983.5 1339.6,987.4 1341.4,991.3 1343.1,995.2 1344.7,999.2 1346.3,1003.1 1347.6,1007.0 1348.8,1010.9 1348.7,1014.8 1347.2,1018.8 1345.3,1022.7 1343.2,1026.6 1340.9,1030.5 1338.6,1034.4 1336.1,1038.3 1333.5,1042.2 1330.8,1046.2 1328.0,1050.1 1325.2,1054.0" fill="none" stroke="#a4a4a4" stroke-width="0.8"/>
<polyline points="1317.0,960.0 1319.2,963.9 1321.3,967.8 1323.5,971.8 1325.5,975.7 1327.5,979.6 1329.5,983.5 1331.3,987.4 1333.2,991.3 1334.9,995.2 1336.5,999.2 1338.0,1003.1 1339.4,1007.0 1340.6,1010.9 1340.5,1014.8 1338.9,1018.8 1337.1,1022.7 1335.0,1026.6 1332.7,1030.5 1330.3,1034.4 1327.9,1038.3 1325.3,1042.2 1322.6,1046.2 1319.8,1050.1 1317.0,1054.0" fill="none" stroke="#bdbdbd" stroke-width="0.7"/>
<polyline points="1314.2,960.0 1316.4,963.9 1318.5,967.8 1320.6,971.8 1322.7,975.7 1324.7,979.6 1326.6,983.5 1328.5,987.4 1330.3,991.3 1332.1,995.2 1333.7,999.2 1335.2,1003.1 1336.6,1007.0 1337.7,1010.9 1337.7,1014.8 1336.1,1018.8 1334.2,1022.7 1332.1,1026.6 1329.9,1030.5 1327.5,1034.4 1325.0,1038.3 1322.4,1042.2 1319.8,1046.2 1317.0,1050.1 1314.2,1054.0" fill="none" stroke="#7e7e7e" stroke-width="1.2"/>
<ellipse cx="1323.9" cy="978" rx="1.5" ry="2.3" fill="#262626" opacity="0.85"/>
<ellipse cx="1332.4" cy="996" rx="1.2" ry="1.8" fill="#262626" opacity="0.5"/>
<ellipse cx="1338.2" cy="1013" rx="1.7" ry="2.5" fill="#262626" opacity="0.85"/>
<ellipse cx="1331.3" cy="1028" rx="1.4" ry="2.1" fill="#262626" opacity="0.8"/>
<ellipse cx="1322.6" cy="1042" rx="1.3" ry="2.0" fill="#262626" opacity="0.6"/>
<polygon points="1328.3,960.0 1332.9,968.2 1337.3,976.5 1351.4,976.5 1347.1,968.2 1342.5,960.0" fill="#cdcdcd"/>
<polygon points="1333.3,960.0 1337.9,968.2 1342.2,976.5 1345.8,976.5 1341.4,968.2 1336.8,960.0" fill="#f6f6f6" opacity="0.45"/>
<polygon points="1337.3,976.5 1341.8,985.5 1345.9,994.5 1360.1,994.5 1355.9,985.5 1351.4,976.5" fill="#e0e0e0"/>
<polygon points="1342.2,976.5 1346.7,985.5 1350.9,994.5 1354.4,994.5 1350.3,985.5 1345.8,976.5" fill="#f6f6f6" opacity="0.8"/>
<polygon points="1345.9,994.5 1349.3,1003.0 1352.1,1011.5 1366.2,1011.5 1363.5,1003.0 1360.1,994.5" fill="#cdcdcd"/>
<polygon points="1350.9,994.5 1354.3,1003.0 1357.0,1011.5 1360.6,1011.5 1357.8,1003.0 1354.4,994.5" fill="#f6f6f6" opacity="0.45"/>
<polygon points="1352.1,1011.5 1350.2,1019.0 1346.3,1026.5 1360.5,1026.5 1364.3,1019.0 1366.2,1011.5" fill="#e0e0e0"/>
<polygon points="1357.0,1011.5 1355.1,1019.0 1351.3,1026.5 1354.8,1026.5 1358.7,1019.0 1360.6,1011.5" fill="#f6f6f6" opacity="0.8"/>
<polygon points="1346.3,1026.5 1342.2,1033.5 1337.8,1040.5 1351.9,1040.5 1356.4,1033.5 1360.5,1026.5" fill="#cdcdcd"/>
<polygon points="1351.3,1026.5 1347.2,1033.5 1342.7,1040.5 1346.3,1040.5 1350.7,1033.5 1354.8,1026.5" fill="#f6f6f6" opacity="0.45"/>
<polygon points="1337.8,1040.5 1333.2,1047.2 1328.3,1054.0 1342.5,1054.0 1347.3,1047.2 1351.9,1040.5" fill="#e0e0e0"/>
<polygon points="1342.7,1040.5 1338.1,1047.2 1333.3,1054.0 1336.8,1054.0 1341.7,1047.2 1346.3,1040.5" fill="#f6f6f6" opacity="0.8"/>
<polyline points="1339.4,960.0 1341.6,963.9 1343.7,967.8 1345.8,971.8 1347.9,975.7 1349.9,979.6 1351.8,983.5 1353.7,987.4 1355.5,991.3 1357.3,995.2 1358.9,999.2 1360.4,1003.1 1361.8,1007.0 1363.0,1010.9 1362.9,1014.8 1361.3,1018.8 1359.4,1022.7 1357.4,1026.6 1355.1,1030.5 1352.7,1034.4 1350.2,1038.3 1347.6,1042.2 1345.0,1046.2 1342.2,1050.1 1339.4,1054.0" fill="none" stroke="#a4a4a4" stroke-width="0.8"/>
<polyline points="1331.2,960.0 1333.4,963.9 1335.5,967.8 1337.6,971.8 1339.7,975.7 1341.7,979.6 1343.6,983.5 1345.5,987.4 1347.3,991.3 1349.1,995.2 1350.7,999.2 1352.2,1003.1 1353.6,1007.0 1354.7,1010.9 1354.7,1014.8 1353.1,1018.8 1351.2,1022.7 1349.1,1026.6 1346.9,1030.5 1344.5,1034.4 1342.0,1038.3 1339.4,1042.2 1336.8,1046.2 1334.0,1050.1 1331.2,1054.0" fill="none" stroke="#bdbdbd" stroke-width="0.7"/>
<polyline points="1328.3,960.0 1330.5,963.9 1332.7,967.8 1334.8,971.8 1336.8,975.7 1338.8,979.6 1340.8,983.5 1342.7,987.4 1344.5,991.3 1346.2,995.2 1347.9,999.2 1349.4,1003.1 1350.8,1007.0 1351.9,1010.9 1351.8,1014.8 1350.3,1018.8 1348.4,1022.7 1346.3,1026.6 1344.1,1030.5 1341.7,1034.4 1339.2,1038.3 1336.6,1042.2 1333.9,1046.2 1331.2,1050.1 1328.3,1054.0" fill="none" stroke="#7e7e7e" stroke-width="1.2"/>
<ellipse cx="1338.0" cy="978" rx="1.5" ry="2.3" fill="#262626" opacity="0.85"/>
<ellipse cx="1346.5" cy="996" rx="1.2" ry="1.8" fill="#262626" opacity="0.5"/>
<ellipse cx="1352.3" cy="1013" rx="1.7" ry="2.5" fill="#262626" opacity="0.85"/>
<ellipse cx="1345.5" cy="1028" rx="1.4" ry="2.1" fill="#262626" opacity="0.8"/>
<ellipse cx="1336.8" cy="1042" rx="1.3" ry="2.0" fill="#262626" opacity="0.6"/>
<polygon points="1342.5,960.0 1347.9,969.8 1353.0,979.5 1367.1,979.5 1362.1,969.8 1356.7,960.0" fill="#e0e0e0"/>
<polygon points="1347.5,960.0 1352.8,969.8 1357.9,979.5 1361.5,979.5 1356.4,969.8 1351.0,960.0" fill="#f6f6f6" opacity="0.8"/>
<polygon points="1353.0,979.5 1357.4,988.5 1361.3,997.5 1375.5,997.5 1371.5,988.5 1367.1,979.5" fill="#cdcdcd"/>
<polygon points="1357.9,979.5 1362.3,988.5 1366.3,997.5 1369.8,997.5 1365.9,988.5 1361.5,979.5" fill="#f6f6f6" opacity="0.45"/>
<polygon points="1361.3,997.5 1364.6,1006.0 1366.1,1014.5 1380.3,1014.5 1378.8,1006.0 1375.5,997.5" fill="#e0e0e0"/>
<polygon points="1366.3,997.5 1369.5,1006.0 1371.1,1014.5 1374.6,1014.5 1373.1,1006.0 1369.8,997.5" fill="#f6f6f6" opacity="0.8"/>
<polygon points="1366.1,1014.5 1362.9,1022.0 1358.8,1029.5 1373.0,1029.5 1377.1,1022.0 1380.3,1014.5" fill="#cdcdcd"/>
<polygon points="1371.1,1014.5 1367.9,1022.0 1363.8,1029.5 1367.3,1029.5 1371.4,1022.0 1374.6,1014.5" fill="#f6f6f6" opacity="0.45"/>
<polygon points="1358.8,1029.5 1354.5,1036.5 1349.9,1043.5 1364.1,1043.5 1368.7,1036.5 1373.0,1029.5" fill="#e0e0e0"/>
<polygon points="1363.8,1029.5 1359.5,1036.5 1354.9,1043.5 1358.4,1043.5 1363.0,1036.5 1367.3,1029.5" fill="#f6f6f6" opacity="0.8"/>
<polygon points="1349.9,1043.5 1346.3,1048.8 1342.5,1054.0 1356.7,1054.0 1360.4,1048.8 1364.1,1043.5" fill="#cdcdcd"/>
<polygon points="1354.9,1043.5 1351.2,1048.8 1347.5,1054.0 1351.0,1054.0 1354.8,1048.8 1358.4,1043.5" fill="#f6f6f6" opacity="0.45"/>
<polyline points="1353.5,960.0 1355.7,963.9 1357.9,967.8 1360.0,971.8 1362.1,975.7 1364.1,979.6 1366.0,983.5 1367.9,987.4 1369.7,991.3 1371.4,995.2 1373.1,999.2 1374.6,1003.1 1376.0,1007.0 1377.1,1010.9 1377.1,1014.8 1375.5,1018.8 1373.6,1022.7 1371.5,1026.6 1369.3,1030.5 1366.9,1034.4 1364.4,1038.3 1361.8,1042.2 1359.1,1046.2 1356.4,1050.1 1353.5,1054.0" fill="none" stroke="#a4a4a4" stroke-width="0.8"/>
<polyline points="1345.3,960.0 1347.5,963.9 1349.7,967.8 1351.8,971.8 1353.8,975.7 1355.8,979.6 1357.8,983.5 1359.7,987.4 1361.5,991.3 1363.2,995.2 1364.9,999.2 1366.4,1003.1 1367.8,1007.0 1368.9,1010.9 1368.8,1014.8 1367.3,1018.8 1365.4,1022.7 1363.3,1026.6 1361.1,1030.5 1358.7,1034.4 1356.2,1038.3 1353.6,1042.2 1350.9,1046.2 1348.2,1050.1 1345.3,1054.0" fill="none" stroke="#bdbdbd" stroke-width="0.7"/>
<polyline points="1342.5,960.0 1344.7,963.9 1346.8,967.8 1349.0,971.8 1351.0,975.7 1353.0,979.6 1355.0,983.5 1356.8,987.4 1358.7,991.3 1360.4,995.2 1362.0,999.2 1363.5,1003.1 1364.9,1007.0 1366.1,1010.9 1366.0,1014.8 1364.4,1018.8 1362.6,1022.7 1360.5,1026.6 1358.2,1030.5 1355.8,1034.4 1353.4,1038.3 1350.8,1042.2 1348.1,1046.2 1345.3,1050.1 1342.5,1054.0" fill="none" stroke="#7e7e7e" stroke-width="1.2"/>
<ellipse cx="1352.2" cy="978" rx="1.5" ry="2.3" fill="#262626" opacity="0.85"/>
<ellipse cx="1360.7" cy="996" rx="1.2" ry="1.8" fill="#262626" opacity="0.5"/>
<ellipse cx="1366.5" cy="1013" rx="1.7" ry="2.5" fill="#262626" opacity="0.85"/>
<ellipse cx="1359.7" cy="1028" rx="1.4" ry="2.1" fill="#262626" opacity="0.8"/>
<ellipse cx="1350.9" cy="1042" rx="1.3" ry="2.0" fill="#262626" opacity="0.6"/>
<polygon points="1356.7,960.0 1362.9,971.2 1368.6,982.5 1382.8,982.5 1377.0,971.2 1370.8,960.0" fill="#cdcdcd"/>
<polygon points="1361.6,960.0 1367.8,971.2 1373.6,982.5 1377.1,982.5 1371.4,971.2 1365.2,960.0" fill="#f6f6f6" opacity="0.45"/>
<polygon points="1368.6,982.5 1372.9,991.5 1376.7,1000.5 1390.9,1000.5 1387.1,991.5 1382.8,982.5" fill="#e0e0e0"/>
<polygon points="1373.6,982.5 1377.9,991.5 1381.7,1000.5 1385.2,1000.5 1381.4,991.5 1377.1,982.5" fill="#f6f6f6" opacity="0.8"/>
<polygon points="1376.7,1000.5 1379.7,1009.0 1379.2,1017.5 1393.3,1017.5 1393.9,1009.0 1390.9,1000.5" fill="#cdcdcd"/>
<polygon points="1381.7,1000.5 1384.7,1009.0 1384.1,1017.5 1387.7,1017.5 1388.2,1009.0 1385.2,1000.5" fill="#f6f6f6" opacity="0.45"/>
<polygon points="1379.2,1017.5 1375.5,1025.0 1371.2,1032.5 1385.4,1032.5 1389.7,1025.0 1393.3,1017.5" fill="#e0e0e0"/>
<polygon points="1384.1,1017.5 1380.5,1025.0 1376.1,1032.5 1379.7,1032.5 1384.0,1025.0 1387.7,1017.5" fill="#f6f6f6" opacity="0.8"/>
<polygon points="1371.2,1032.5 1366.8,1039.5 1362.0,1046.5 1376.2,1046.5 1380.9,1039.5 1385.4,1032.5" fill="#cdcdcd"/>
<polygon points="1376.1,1032.5 1371.7,1039.5 1367.0,1046.5 1370.5,1046.5 1375.3,1039.5 1379.7,1032.5" fill="#f6f6f6" opacity="0.45"/>
<polygon points="1362.0,1046.5 1359.4,1050.2 1356.7,1054.0 1370.8,1054.0 1373.5,1050.2 1376.2,1046.5" fill="#e0e0e0"/>
<polygon points="1367.0,1046.5 1364.3,1050.2 1361.6,1054.0 1365.2,1054.0 1367.9,1050.2 1370.5,1046.5" fill="#f6f6f6" opacity="0.8"/>
<polyline points="1367.7,960.0 1369.9,963.9 1372.1,967.8 1374.2,971.8 1376.2,975.7 1378.2,979.6 1380.2,983.5 1382.1,987.4 1383.9,991.3 1385.6,995.2 1387.2,999.2 1388.8,1003.1 1390.1,1007.0 1391.3,1010.9 1391.2,1014.8 1389.7,1018.8 1387.8,1022.7 1385.7,1026.6 1383.4,1030.5 1381.1,1034.4 1378.6,1038.3 1376.0,1042.2 1373.3,1046.2 1370.5,1050.1 1367.7,1054.0" fill="none" stroke="#a4a4a4" stroke-width="0.8"/>
<polyline points="1359.5,960.0 1361.7,963.9 1363.8,967.8 1366.0,971.8 1368.0,975.7 1370.0,979.6 1372.0,983.5 1373.8,987.4 1375.7,991.3 1377.4,995.2 1379.0,999.2 1380.5,1003.1 1381.9,1007.0 1383.1,1010.9 1383.0,1014.8 1381.4,1018.8 1379.6,1022.7 1377.5,1026.6 1375.2,1030.5 1372.8,1034.4 1370.4,1038.3 1367.8,1042.2 1365.1,1046.2 1362.3,1050.1 1359.5,1054.0" fill="none" stroke="#bdbdbd" stroke-width="0.7"/>
<polyline points="1356.7,960.0 1358.9,963.9 1361.0,967.8 1363.1,971.8 1365.2,975.7 1367.2,979.6 1369.1,983.5 1371.0,987.4 1372.8,991.3 1374.6,995.2 1376.2,999.2 1377.7,1003.1 1379.1,1007.0 1380.2,1010.9 1380.2,1014.8 1378.6,1018.8 1376.7,1022.7 1374.6,1026.6 1372.4,1030.5 1370.0,1034.4 1367.5,1038.3 1364.9,1042.2 1362.3,1046.2 1359.5,1050.1 1356.7,1054.0" fill="none" stroke="#7e7e7e" stroke-width="1.2"/>
<ellipse cx="1366.4" cy="978" rx="1.5" ry="2.3" fill="#262626" opacity="0.85"/>
<ellipse cx="1374.9" cy="996" rx="1.2" ry="1.8" fill="#262626" opacity="0.5"/>
<ellipse cx="1380.7" cy="1013" rx="1.7" ry="2.5" fill="#262626" opacity="0.85"/>
<ellipse cx="1373.8" cy="1028" rx="1.4" ry="2.1" fill="#262626" opacity="0.8"/>
<ellipse cx="1365.1" cy="1042" rx="1.3" ry="2.0" fill="#262626" opacity="0.6"/>
<polygon points="1370.8,960.0 1374.6,966.8 1378.2,973.5 1392.4,973.5 1388.8,966.8 1385.0,960.0" fill="#e0e0e0"/>
<polygon points="1375.8,960.0 1379.5,966.8 1383.2,973.5 1386.7,973.5 1383.1,966.8 1379.3,960.0" fill="#f6f6f6" opacity="0.8"/>
<polygon points="1378.2,973.5 1382.8,982.5 1387.1,991.5 1401.2,991.5 1397.0,982.5 1392.4,973.5" fill="#cdcdcd"/>
<polygon points="1383.2,973.5 1387.8,982.5 1392.0,991.5 1395.6,991.5 1391.3,982.5 1386.7,973.5" fill="#f6f6f6" opacity="0.45"/>
<polygon points="1387.1,991.5 1390.7,1000.0 1393.7,1008.5 1407.9,1008.5 1404.9,1000.0 1401.2,991.5" fill="#e0e0e0"/>
<polygon points="1392.0,991.5 1395.6,1000.0 1398.7,1008.5 1402.2,1008.5 1399.2,1000.0 1395.6,991.5" fill="#f6f6f6" opacity="0.8"/>
<polygon points="1393.7,1008.5 1393.9,1016.0 1390.5,1023.5 1404.6,1023.5 1408.1,1016.0 1407.9,1008.5" fill="#cdcdcd"/>
<polygon points="1398.7,1008.5 1398.9,1016.0 1395.4,1023.5 1399.0,1023.5 1402.4,1016.0 1402.2,1008.5" fill="#f6f6f6" opacity="0.45"/>
<polygon points="1390.5,1023.5 1386.6,1030.5 1382.2,1037.5 1396.4,1037.5 1400.7,1030.5 1404.6,1023.5" fill="#e0e0e0"/>
<polygon points="1395.4,1023.5 1391.5,1030.5 1387.2,1037.5 1390.7,1037.5 1395.1,1030.5 1399.0,1023.5" fill="#f6f6f6" opacity="0.8"/>
<polygon points="1382.2,1037.5 1376.7,1045.8 1370.8,1054.0 1385.0,1054.0 1390.9,1045.8 1396.4,1037.5" fill="#cdcdcd"/>
<polygon points="1387.2,1037.5 1381.7,1045.8 1375.8,1054.0 1379.3,1054.0 1385.2,1045.8 1390.7,1037.5" fill="#f6f6f6" opacity="0.45"/>
<polyline points="1381.9,960.0 1384.1,963.9 1386.2,967.8 1388.3,971.8 1390.4,975.7 1392.4,979.6 1394.3,983.5 1396.2,987.4 1398.0,991.3 1399.8,995.2 1401.4,999.2 1402.9,1003.1 1404.3,1007.0 1405.5,1010.9 1405.4,1014.8 1403.8,1018.8 1401.9,1022.7 1399.9,1026.6 1397.6,1030.5 1395.2,1034.4 1392.7,1038.3 1390.1,1042.2 1387.5,1046.2 1384.7,1050.1 1381.9,1054.0" fill="none" stroke="#a4a4a4" stroke-width="0.8"/>
<polyline points="1373.7,960.0 1375.9,963.9 1378.0,967.8 1380.1,971.8 1382.2,975.7 1384.2,979.6 1386.1,983.5 1388.0,987.4 1389.8,991.3 1391.6,995.2 1393.2,999.2 1394.7,1003.1 1396.1,1007.0 1397.2,1010.9 1397.2,1014.8 1395.6,1018.8 1393.7,1022.7 1391.6,1026.6 1389.4,1030.5 1387.0,1034.4 1384.5,1038.3 1381.9,1042.2 1379.3,1046.2 1376.5,1050.1 1373.7,1054.0" fill="none" stroke="#bdbdbd" stroke-width="0.7"/>
<polyline points="1370.8,960.0 1373.0,963.9 1375.2,967.8 1377.3,971.8 1379.3,975.7 1381.3,979.6 1383.3,983.5 1385.2,987.4 1387.0,991.3 1388.7,995.2 1390.4,999.2 1391.9,1003.1 1393.3,1007.0 1394.4,1010.9 1394.3,1014.8 1392.8,1018.8 1390.9,1022.7 1388.8,1026.6 1386.6,1030.5 1384.2,1034.4 1381.7,1038.3 1379.1,1042.2 1376.4,1046.2 1373.7,1050.1 1370.8,1054.0" fill="none" stroke="#7e7e7e" stroke-width="1.2"/>
<ellipse cx="1380.5" cy="978" rx="1.5" ry="2.3" fill="#262626" opacity="0.85"/>
<ellipse cx="1389.0" cy="996" rx="1.2" ry="1.8" fill="#262626" opacity="0.5"/>
<ellipse cx="1394.8" cy="1013" rx="1.7" ry="2.5" fill="#262626" opacity="0.85"/>
<ellipse cx="1388.0" cy="1028" rx="1.4" ry="2.1" fill="#262626" opacity="0.8"/>
<ellipse cx="1379.3" cy="1042" rx="1.3" ry="2.0" fill="#262626" opacity="0.6"/>
<polygon points="1385.0,960.0 1389.6,968.2 1393.9,976.5 1407.7,976.5 1403.3,968.2 1398.8,960.0" fill="#cdcdcd"/>
<polygon points="1389.8,960.0 1394.4,968.2 1398.8,976.5 1402.2,976.5 1397.8,968.2 1393.2,960.0" fill="#f6f6f6" opacity="0.45"/>
<polygon points="1393.9,976.5 1398.4,985.5 1402.6,994.5 1416.3,994.5 1412.2,985.5 1407.7,976.5" fill="#e0e0e0"/>
<polygon points="1398.8,976.5 1403.2,985.5 1407.4,994.5 1410.8,994.5 1406.7,985.5 1402.2,976.5" fill="#f6f6f6" opacity="0.8"/>
<polygon points="1402.6,994.5 1406.0,1003.0 1408.7,1011.5 1422.5,1011.5 1419.8,1003.0 1416.3,994.5" fill="#cdcdcd"/>
<polygon points="1407.4,994.5 1410.8,1003.0 1413.5,1011.5 1417.0,1011.5 1414.3,1003.0 1410.8,994.5" fill="#f6f6f6" opacity="0.45"/>
<polygon points="1408.7,1011.5 1406.8,1019.0 1403.0,1026.5 1416.8,1026.5 1420.6,1019.0 1422.5,1011.5" fill="#e0e0e0"/>
<polygon points="1413.5,1011.5 1411.6,1019.0 1407.8,1026.5 1411.3,1026.5 1415.1,1019.0 1417.0,1011.5" fill="#f6f6f6" opacity="0.8"/>
<polygon points="1403.0,1026.5 1398.9,1033.5 1394.4,1040.5 1408.2,1040.5 1412.7,1033.5 1416.8,1026.5" fill="#cdcdcd"/>
<polygon points="1407.8,1026.5 1403.7,1033.5 1399.2,1040.5 1402.7,1040.5 1407.2,1033.5 1411.3,1026.5" fill="#f6f6f6" opacity="0.45"/>
<polygon points="1394.4,1040.5 1389.8,1047.2 1385.0,1054.0 1398.8,1054.0 1403.6,1047.2 1408.2,1040.5" fill="#e0e0e0"/>
<polygon points="1399.2,1040.5 1394.6,1047.2 1389.8,1054.0 1393.2,1054.0 1398.1,1047.2 1402.7,1040.5" fill="#f6f6f6" opacity="0.8"/>
<polyline points="1395.7,960.0 1397.9,963.9 1400.1,967.8 1402.2,971.8 1404.2,975.7 1406.2,979.6 1408.2,983.5 1410.1,987.4 1411.9,991.3 1413.6,995.2 1415.2,999.2 1416.8,1003.1 1418.1,1007.0 1419.3,1010.9 1419.2,1014.8 1417.7,1018.8 1415.8,1022.7 1413.7,1026.6 1411.4,1030.5 1409.1,1034.4 1406.6,1038.3 1404.0,1042.2 1401.3,1046.2 1398.6,1050.1 1395.7,1054.0" fill="none" stroke="#a4a4a4" stroke-width="0.8"/>
<polyline points="1387.8,960.0 1389.9,963.9 1392.1,967.8 1394.2,971.8 1396.3,975.7 1398.3,979.6 1400.2,983.5 1402.1,987.4 1403.9,991.3 1405.6,995.2 1407.3,999.2 1408.8,1003.1 1410.2,1007.0 1411.3,1010.9 1411.3,1014.8 1409.7,1018.8 1407.8,1022.7 1405.7,1026.6 1403.5,1030.5 1401.1,1034.4 1398.6,1038.3 1396.0,1042.2 1393.3,1046.2 1390.6,1050.1 1387.8,1054.0" fill="none" stroke="#bdbdbd" stroke-width="0.7"/>
<polyline points="1385.0,960.0 1387.2,963.9 1389.3,967.8 1391.5,971.8 1393.5,975.7 1395.5,979.6 1397.5,983.5 1399.3,987.4 1401.2,991.3 1402.9,995.2 1404.5,999.2 1406.0,1003.1 1407.4,1007.0 1408.6,1010.9 1408.5,1014.8 1406.9,1018.8 1405.1,1022.7 1403.0,1026.6 1400.7,1030.5 1398.3,1034.4 1395.9,1038.3 1393.3,1042.2 1390.6,1046.2 1387.8,1050.1 1385.0,1054.0" fill="none" stroke="#7e7e7e" stroke-width="1.2"/>
<ellipse cx="1394.7" cy="978" rx="1.5" ry="2.3" fill="#262626" opacity="0.85"/>
<ellipse cx="1403.2" cy="996" rx="1.2" ry="1.8" fill="#262626" opacity="0.5"/>
<ellipse cx="1409.0" cy="1013" rx="1.7" ry="2.5" fill="#262626" opacity="0.85"/>
<ellipse cx="1402.2" cy="1028" rx="1.4" ry="2.1" fill="#262626" opacity="0.8"/>
<ellipse cx="1393.4" cy="1042" rx="1.3" ry="2.0" fill="#262626" opacity="0.6"/>
<polygon points="1398.8,960.0 1404.1,969.8 1409.2,979.5 1423.0,979.5 1417.9,969.8 1412.5,960.0" fill="#e0e0e0"/>
<polygon points="1403.6,960.0 1408.9,969.8 1414.0,979.5 1417.5,979.5 1412.4,969.8 1407.0,960.0" fill="#f6f6f6" opacity="0.8"/>
<polygon points="1409.2,979.5 1413.6,988.5 1417.6,997.5 1431.3,997.5 1427.4,988.5 1423.0,979.5" fill="#cdcdcd"/>
<polygon points="1414.0,979.5 1418.4,988.5 1422.4,997.5 1425.8,997.5 1421.9,988.5 1417.5,979.5" fill="#f6f6f6" opacity="0.45"/>
<polygon points="1417.6,997.5 1420.8,1006.0 1422.4,1014.5 1436.1,1014.5 1434.6,1006.0 1431.3,997.5" fill="#e0e0e0"/>
<polygon points="1422.4,997.5 1425.7,1006.0 1427.2,1014.5 1430.6,1014.5 1429.1,1006.0 1425.8,997.5" fill="#f6f6f6" opacity="0.8"/>
<polygon points="1422.4,1014.5 1419.1,1022.0 1415.1,1029.5 1428.8,1029.5 1432.9,1022.0 1436.1,1014.5" fill="#cdcdcd"/>
<polygon points="1427.2,1014.5 1424.0,1022.0 1419.9,1029.5 1423.3,1029.5 1427.4,1022.0 1430.6,1014.5" fill="#f6f6f6" opacity="0.45"/>
<polygon points="1415.1,1029.5 1410.8,1036.5 1406.2,1043.5 1419.9,1043.5 1424.5,1036.5 1428.8,1029.5" fill="#e0e0e0"/>
<polygon points="1419.9,1029.5 1415.6,1036.5 1411.0,1043.5 1414.4,1043.5 1419.0,1036.5 1423.3,1029.5" fill="#f6f6f6" opacity="0.8"/>
<polygon points="1406.2,1043.5 1402.5,1048.8 1398.8,1054.0 1412.5,1054.0 1416.3,1048.8 1419.9,1043.5" fill="#cdcdcd"/>
<polygon points="1411.0,1043.5 1407.3,1048.8 1403.6,1054.0 1407.0,1054.0 1410.8,1048.8 1414.4,1043.5" fill="#f6f6f6" opacity="0.45"/>
<polyline points="1409.5,960.0 1411.7,963.9 1413.8,967.8 1415.9,971.8 1418.0,975.7 1420.0,979.6 1421.9,983.5 1423.8,987.4 1425.6,991.3 1427.4,995.2 1429.0,999.2 1430.5,1003.1 1431.9,1007.0 1433.1,1010.9 1433.0,1014.8 1431.4,1018.8 1429.5,1022.7 1427.4,1026.6 1425.2,1030.5 1422.8,1034.4 1420.3,1038.3 1417.7,1042.2 1415.1,1046.2 1412.3,1050.1 1409.5,1054.0" fill="none" stroke="#a4a4a4" stroke-width="0.8"/>
<polyline points="1401.5,960.0 1403.7,963.9 1405.8,967.8 1408.0,971.8 1410.0,975.7 1412.0,979.6 1414.0,983.5 1415.8,987.4 1417.7,991.3 1419.4,995.2 1421.0,999.2 1422.5,1003.1 1423.9,1007.0 1425.1,1010.9 1425.0,1014.8 1423.4,1018.8 1421.6,1022.7 1419.5,1026.6 1417.2,1030.5 1414.8,1034.4 1412.4,1038.3 1409.8,1042.2 1407.1,1046.2 1404.3,1050.1 1401.5,1054.0" fill="none" stroke="#bdbdbd" stroke-width="0.7"/>
<polyline points="1398.8,960.0 1400.9,963.9 1403.1,967.8 1405.2,971.8 1407.3,975.7 1409.3,979.6 1411.2,983.5 1413.1,987.4 1414.9,991.3 1416.6,995.2 1418.3,999.2 1419.8,1003.1 1421.2,1007.0 1422.3,1010.9 1422.3,1014.8 1420.7,1018.8 1418.8,1022.7 1416.7,1026.6 1414.5,1030.5 1412.1,1034.4 1409.6,1038.3 1407.0,1042.2 1404.3,1046.2 1401.6,1050.1 1398.8,1054.0" fill="none" stroke="#7e7e7e" stroke-width="1.2"/>
<ellipse cx="1408.5" cy="978" rx="1.5" ry="2.3" fill="#262626" opacity="0.85"/>
<ellipse cx="1417.0" cy="996" rx="1.2" ry="1.8" fill="#262626" opacity="0.5"/>
<ellipse cx="1422.8" cy="1013" rx="1.7" ry="2.5" fill="#262626" opacity="0.85"/>
<ellipse cx="1415.9" cy="1028" rx="1.4" ry="2.1" fill="#262626" opacity="0.8"/>
<ellipse cx="1407.2" cy="1042" rx="1.3" ry="2.0" fill="#262626" opacity="0.6"/>
<polygon points="1412.5,960.0 1418.7,971.2 1424.5,982.5 1438.2,982.5 1432.4,971.2 1426.2,960.0" fill="#cdcdcd"/>
<polygon points="1417.3,960.0 1423.5,971.2 1429.3,982.5 1432.7,982.5 1426.9,971.2 1420.8,960.0" fill="#f6f6f6" opacity="0.45"/>
<polygon points="1424.5,982.5 1428.7,991.5 1432.6,1000.5 1446.3,1000.5 1442.5,991.5 1438.2,982.5" fill="#e0e0e0"/>
<polygon points="1429.3,982.5 1433.5,991.5 1437.4,1000.5 1440.8,1000.5 1437.0,991.5 1432.7,982.5" fill="#f6f6f6" opacity="0.8"/>
<polygon points="1432.6,1000.5 1435.6,1009.0 1435.0,1017.5 1448.7,1017.5 1449.3,1009.0 1446.3,1000.5" fill="#cdcdcd"/>
<polygon points="1437.4,1000.5 1440.4,1009.0 1439.8,1017.5 1443.2,1017.5 1443.8,1009.0 1440.8,1000.5" fill="#f6f6f6" opacity="0.45"/>
<polygon points="1435.0,1017.5 1431.3,1025.0 1427.0,1032.5 1440.8,1032.5 1445.1,1025.0 1448.7,1017.5" fill="#e0e0e0"/>
<polygon points="1439.8,1017.5 1436.1,1025.0 1431.8,1032.5 1435.3,1032.5 1439.6,1025.0 1443.2,1017.5" fill="#f6f6f6" opacity="0.8"/>
<polygon points="1427.0,1032.5 1422.6,1039.5 1417.9,1046.5 1431.6,1046.5 1436.3,1039.5 1440.8,1032.5" fill="#cdcdcd"/>
<polygon points="1431.8,1032.5 1427.4,1039.5 1422.7,1046.5 1426.1,1046.5 1430.8,1039.5 1435.3,1032.5" fill="#f6f6f6" opacity="0.45"/>
<polygon points="1417.9,1046.5 1415.2,1050.2 1412.5,1054.0 1426.2,1054.0 1429.0,1050.2 1431.6,1046.5" fill="#e0e0e0"/>
<polygon points="1422.7,1046.5 1420.0,1050.2 1417.3,1054.0 1420.8,1054.0 1423.5,1050.2 1426.1,1046.5" fill="#f6f6f6" opacity="0.8"/>
<polyline points="1423.2,960.0 1425.4,963.9 1427.6,967.8 1429.7,971.8 1431.7,975.7 1433.7,979.6 1435.7,983.5 1437.6,987.4 1439.4,991.3 1441.1,995.2 1442.7,999.2 1444.3,1003.1 1445.6,1007.0 1446.8,1010.9 1446.7,1014.8 1445.2,1018.8 1443.3,1022.7 1441.2,1026.6 1438.9,1030.5 1436.6,1034.4 1434.1,1038.3 1431.5,1042.2 1428.8,1046.2 1426.1,1050.1 1423.2,1054.0" fill="none" stroke="#a4a4a4" stroke-width="0.8"/>
<polyline points="1415.2,960.0 1417.4,963.9 1419.6,967.8 1421.7,971.8 1423.8,975.7 1425.8,979.6 1427.7,983.5 1429.6,987.4 1431.4,991.3 1433.1,995.2 1434.8,999.2 1436.3,1003.1 1437.7,1007.0 1438.8,1010.9 1438.8,1014.8 1437.2,1018.8 1435.3,1022.7 1433.2,1026.6 1431.0,1030.5 1428.6,1034.4 1426.1,1038.3 1423.5,1042.2 1420.8,1046.2 1418.1,1050.1 1415.2,1054.0" fill="none" stroke="#bdbdbd" stroke-width="0.7"/>
<polyline points="1412.5,960.0 1414.7,963.9 1416.8,967.8 1419.0,971.8 1421.0,975.7 1423.0,979.6 1425.0,983.5 1426.8,987.4 1428.7,991.3 1430.4,995.2 1432.0,999.2 1433.5,1003.1 1434.9,1007.0 1436.1,1010.9 1436.0,1014.8 1434.4,1018.8 1432.6,1022.7 1430.5,1026.6 1428.2,1030.5 1425.8,1034.4 1423.4,1038.3 1420.8,1042.2 1418.1,1046.2 1415.3,1050.1 1412.5,1054.0" fill="none" stroke="#7e7e7e" stroke-width="1.2"/>
<ellipse cx="1422.2" cy="978" rx="1.5" ry="2.3" fill="#262626" opacity="0.85"/>
<ellipse cx="1430.7" cy="996" rx="1.2" ry="1.8" fill="#262626" opacity="0.5"/>
<ellipse cx="1436.5" cy="1013" rx="1.7" ry="2.5" fill="#262626" opacity="0.85"/>
<ellipse cx="1429.7" cy="1028" rx="1.4" ry="2.1" fill="#262626" opacity="0.8"/>
<ellipse cx="1420.9" cy="1042" rx="1.3" ry="2.0" fill="#262626" opacity="0.6"/>
<polygon points="1426.2,960.0 1430.0,966.8 1433.6,973.5 1447.4,973.5 1443.8,966.8 1440.0,960.0" fill="#e0e0e0"/>
<polygon points="1431.1,960.0 1434.8,966.8 1438.4,973.5 1441.9,973.5 1438.3,966.8 1434.5,960.0" fill="#f6f6f6" opacity="0.8"/>
<polygon points="1433.6,973.5 1438.2,982.5 1442.5,991.5 1456.2,991.5 1452.0,982.5 1447.4,973.5" fill="#cdcdcd"/>
<polygon points="1438.4,973.5 1443.0,982.5 1447.3,991.5 1450.7,991.5 1446.5,982.5 1441.9,973.5" fill="#f6f6f6" opacity="0.45"/>
<polygon points="1442.5,991.5 1446.1,1000.0 1449.2,1008.5 1462.9,1008.5 1459.9,1000.0 1456.2,991.5" fill="#e0e0e0"/>
<polygon points="1447.3,991.5 1450.9,1000.0 1454.0,1008.5 1457.4,1008.5 1454.4,1000.0 1450.7,991.5" fill="#f6f6f6" opacity="0.8"/>
<polygon points="1449.2,1008.5 1449.3,1016.0 1445.9,1023.5 1459.6,1023.5 1463.1,1016.0 1462.9,1008.5" fill="#cdcdcd"/>
<polygon points="1454.0,1008.5 1454.1,1016.0 1450.7,1023.5 1454.1,1023.5 1457.6,1016.0 1457.4,1008.5" fill="#f6f6f6" opacity="0.45"/>
<polygon points="1445.9,1023.5 1442.0,1030.5 1437.6,1037.5 1451.4,1037.5 1455.7,1030.5 1459.6,1023.5" fill="#e0e0e0"/>
<polygon points="1450.7,1023.5 1446.8,1030.5 1442.5,1037.5 1445.9,1037.5 1450.2,1030.5 1454.1,1023.5" fill="#f6f6f6" opacity="0.8"/>
<polygon points="1437.6,1037.5 1432.1,1045.8 1426.2,1054.0 1440.0,1054.0 1445.9,1045.8 1451.4,1037.5" fill="#cdcdcd"/>
<polygon points="1442.5,1037.5 1436.9,1045.8 1431.1,1054.0 1434.5,1054.0 1440.4,1045.8 1445.9,1037.5" fill="#f6f6f6" opacity="0.45"/>
<polyline points="1437.0,960.0 1439.2,963.9 1441.3,967.8 1443.4,971.8 1445.5,975.7 1447.5,979.6 1449.4,983.5 1451.3,987.4 1453.1,991.3 1454.9,995.2 1456.5,999.2 1458.0,1003.1 1459.4,1007.0 1460.6,1010.9 1460.5,1014.8 1458.9,1018.8 1457.0,1022.7 1454.9,1026.6 1452.7,1030.5 1450.3,1034.4 1447.8,1038.3 1445.2,1042.2 1442.6,1046.2 1439.8,1050.1 1437.0,1054.0" fill="none" stroke="#a4a4a4" stroke-width="0.8"/>
<polyline points="1429.0,960.0 1431.2,963.9 1433.3,967.8 1435.5,971.8 1437.5,975.7 1439.5,979.6 1441.5,983.5 1443.3,987.4 1445.2,991.3 1446.9,995.2 1448.5,999.2 1450.0,1003.1 1451.4,1007.0 1452.6,1010.9 1452.5,1014.8 1450.9,1018.8 1449.1,1022.7 1447.0,1026.6 1444.7,1030.5 1442.3,1034.4 1439.9,1038.3 1437.3,1042.2 1434.6,1046.2 1431.8,1050.1 1429.0,1054.0" fill="none" stroke="#bdbdbd" stroke-width="0.7"/>
<polyline points="1426.2,960.0 1428.4,963.9 1430.6,967.8 1432.7,971.8 1434.8,975.7 1436.8,979.6 1438.7,983.5 1440.6,987.4 1442.4,991.3 1444.1,995.2 1445.8,999.2 1447.3,1003.1 1448.7,1007.0 1449.8,1010.9 1449.8,1014.8 1448.2,1018.8 1446.3,1022.7 1444.2,1026.6 1442.0,1030.5 1439.6,1034.4 1437.1,1038.3 1434.5,1042.2 1431.8,1046.2 1429.1,1050.1 1426.2,1054.0" fill="none" stroke="#7e7e7e" stroke-width="1.2"/>
<ellipse cx="1436.0" cy="978" rx="1.5" ry="2.3" fill="#262626" opacity="0.85"/>
<ellipse cx="1444.5" cy="996" rx="1.2" ry="1.8" fill="#262626" opacity="0.5"/>
<ellipse cx="1450.2" cy="1013" rx="1.7" ry="2.5" fill="#262626" opacity="0.85"/>
<ellipse cx="1443.4" cy="1028" rx="1.4" ry="2.1" fill="#262626" opacity="0.8"/>
<ellipse cx="1434.7" cy="1042" rx="1.3" ry="2.0" fill="#262626" opacity="0.6"/>
<polygon points="1440.0,960.0 1444.6,968.2 1448.9,976.5 1462.7,976.5 1458.3,968.2 1453.8,960.0" fill="#cdcdcd"/>
<polygon points="1444.8,960.0 1449.4,968.2 1453.8,976.5 1457.2,976.5 1452.8,968.2 1448.2,960.0" fill="#f6f6f6" opacity="0.45"/>
<polygon points="1448.9,976.5 1453.4,985.5 1457.6,994.5 1471.3,994.5 1467.2,985.5 1462.7,976.5" fill="#e0e0e0"/>
<polygon points="1453.8,976.5 1458.2,985.5 1462.4,994.5 1465.8,994.5 1461.7,985.5 1457.2,976.5" fill="#f6f6f6" opacity="0.8"/>
<polygon points="1457.6,994.5 1461.0,1003.0 1463.7,1011.5 1477.5,1011.5 1474.8,1003.0 1471.3,994.5" fill="#cdcdcd"/>
<polygon points="1462.4,994.5 1465.8,1003.0 1468.5,1011.5 1472.0,1011.5 1469.3,1003.0 1465.8,994.5" fill="#f6f6f6" opacity="0.45"/>
<polygon points="1463.7,1011.5 1461.8,1019.0 1458.0,1026.5 1471.8,1026.5 1475.6,1019.0 1477.5,1011.5" fill="#e0e0e0"/>
<polygon points="1468.5,1011.5 1466.6,1019.0 1462.8,1026.5 1466.3,1026.5 1470.1,1019.0 1472.0,1011.5" fill="#f6f6f6" opacity="0.8"/>
<polygon points="1458.0,1026.5 1453.9,1033.5 1449.4,1040.5 1463.2,1040.5 1467.7,1033.5 1471.8,1026.5" fill="#cdcdcd"/>
<polygon points="1462.8,1026.5 1458.7,1033.5 1454.2,1040.5 1457.7,1040.5 1462.2,1033.5 1466.3,1026.5" fill="#f6f6f6" opacity="0.45"/>
<polygon points="1449.4,1040.5 1444.8,1047.2 1440.0,1054.0 1453.8,1054.0 1458.6,1047.2 1463.2,1040.5" fill="#e0e0e0"/>
<polygon points="1454.2,1040.5 1449.6,1047.2 1444.8,1054.0 1448.2,1054.0 1453.1,1047.2 1457.7,1040.5" fill="#f6f6f6" opacity="0.8"/>
<polyline points="1450.7,960.0 1452.9,963.9 1455.1,967.8 1457.2,971.8 1459.2,975.7 1461.2,979.6 1463.2,983.5 1465.1,987.4 1466.9,991.3 1468.6,995.2 1470.2,999.2 1471.8,1003.1 1473.1,1007.0 1474.3,1010.9 1474.2,1014.8 1472.7,1018.8 1470.8,1022.7 1468.7,1026.6 1466.4,1030.5 1464.1,1034.4 1461.6,1038.3 1459.0,1042.2 1456.3,1046.2 1453.6,1050.1 1450.7,1054.0" fill="none" stroke="#a4a4a4" stroke-width="0.8"/>
<polyline points="1442.8,960.0 1444.9,963.9 1447.1,967.8 1449.2,971.8 1451.3,975.7 1453.3,979.6 1455.2,983.5 1457.1,987.4 1458.9,991.3 1460.6,995.2 1462.3,999.2 1463.8,1003.1 1465.2,1007.0 1466.3,1010.9 1466.3,1014.8 1464.7,1018.8 1462.8,1022.7 1460.7,1026.6 1458.5,1030.5 1456.1,1034.4 1453.6,1038.3 1451.0,1042.2 1448.3,1046.2 1445.6,1050.1 1442.8,1054.0" fill="none" stroke="#bdbdbd" stroke-width="0.7"/>
<polyline points="1440.0,960.0 1442.2,963.9 1444.3,967.8 1446.5,971.8 1448.5,975.7 1450.5,979.6 1452.5,983.5 1454.3,987.4 1456.2,991.3 1457.9,995.2 1459.5,999.2 1461.0,1003.1 1462.4,1007.0 1463.6,1010.9 1463.5,1014.8 1461.9,1018.8 1460.1,1022.7 1458.0,1026.6 1455.7,1030.5 1453.3,1034.4 1450.9,1038.3 1448.3,1042.2 1445.6,1046.2 1442.8,1050.1 1440.0,1054.0" fill="none" stroke="#7e7e7e" stroke-width="1.2"/>
<ellipse cx="1449.7" cy="978" rx="1.5" ry="2.3" fill="#262626" opacity="0.85"/>
<ellipse cx="1458.2" cy="996" rx="1.2" ry="1.8" fill="#262626" opacity="0.5"/>
<ellipse cx="1464.0" cy="1013" rx="1.7" ry="2.5" fill="#262626" opacity="0.85"/>
<ellipse cx="1457.2" cy="1028" rx="1.4" ry="2.1" fill="#262626" opacity="0.8"/>
<ellipse cx="1448.4" cy="1042" rx="1.3" ry="2.0" fill="#262626" opacity="0.6"/>
<polygon points="1453.8,960.0 1459.1,969.8 1464.2,979.5 1478.0,979.5 1472.9,969.8 1467.5,960.0" fill="#e0e0e0"/>
<polygon points="1458.6,960.0 1463.9,969.8 1469.0,979.5 1472.5,979.5 1467.4,969.8 1462.0,960.0" fill="#f6f6f6" opacity="0.8"/>
<polygon points="1464.2,979.5 1468.6,988.5 1472.6,997.5 1486.3,997.5 1482.4,988.5 1478.0,979.5" fill="#cdcdcd"/>
<polygon points="1469.0,979.5 1473.4,988.5 1477.4,997.5 1480.8,997.5 1476.9,988.5 1472.5,979.5" fill="#f6f6f6" opacity="0.45"/>
<polygon points="1472.6,997.5 1475.8,1006.0 1477.4,1014.5 1491.1,1014.5 1489.6,1006.0 1486.3,997.5" fill="#e0e0e0"/>
<polygon points="1477.4,997.5 1480.7,1006.0 1482.2,1014.5 1485.6,1014.5 1484.1,1006.0 1480.8,997.5" fill="#f6f6f6" opacity="0.8"/>
<polygon points="1477.4,1014.5 1474.1,1022.0 1470.1,1029.5 1483.8,1029.5 1487.9,1022.0 1491.1,1014.5" fill="#cdcdcd"/>
<polygon points="1482.2,1014.5 1479.0,1022.0 1474.9,1029.5 1478.3,1029.5 1482.4,1022.0 1485.6,1014.5" fill="#f6f6f6" opacity="0.45"/>
<polygon points="1470.1,1029.5 1465.8,1036.5 1461.2,1043.5 1474.9,1043.5 1479.5,1036.5 1483.8,1029.5" fill="#e0e0e0"/>
<polygon points="1474.9,1029.5 1470.6,1036.5 1466.0,1043.5 1469.4,1043.5 1474.0,1036.5 1478.3,1029.5" fill="#f6f6f6" opacity="0.8"/>
<polygon points="1461.2,1043.5 1457.5,1048.8 1453.8,1054.0 1467.5,1054.0 1471.3,1048.8 1474.9,1043.5" fill="#cdcdcd"/>
<polygon points="1466.0,1043.5 1462.3,1048.8 1458.6,1054.0 1462.0,1054.0 1465.8,1048.8 1469.4,1043.5" fill="#f6f6f6" opacity="0.45"/>
<polyline points="1464.5,960.0 1466.7,963.9 1468.8,967.8 1470.9,971.8 1473.0,975.7 1475.0,979.6 1476.9,983.5 1478.8,987.4 1480.6,991.3 1482.4,995.2 1484.0,999.2 1485.5,1003.1 1486.9,1007.0 1488.1,1010.9 1488.0,1014.8 1486.4,1018.8 1484.5,1022.7 1482.4,1026.6 1480.2,1030.5 1477.8,1034.4 1475.3,1038.3 1472.7,1042.2 1470.1,1046.2 1467.3,1050.1 1464.5,1054.0" fill="none" stroke="#a4a4a4" stroke-width="0.8"/>
<polyline points="1456.5,960.0 1458.7,963.9 1460.8,967.8 1463.0,971.8 1465.0,975.7 1467.0,979.6 1469.0,983.5 1470.8,987.4 1472.7,991.3 1474.4,995.2 1476.0,999.2 1477.5,1003.1 1478.9,1007.0 1480.1,1010.9 1480.0,1014.8 1478.4,1018.8 1476.6,1022.7 1474.5,1026.6 1472.2,1030.5 1469.8,1034.4 1467.4,1038.3 1464.8,1042.2 1462.1,1046.2 1459.3,1050.1 1456.5,1054.0" fill="none" stroke="#bdbdbd" stroke-width="0.7"/>
<polyline points="1453.8,960.0 1455.9,963.9 1458.1,967.8 1460.2,971.8 1462.3,975.7 1464.3,979.6 1466.2,983.5 1468.1,987.4 1469.9,991.3 1471.6,995.2 1473.3,999.2 1474.8,1003.1 1476.2,1007.0 1477.3,1010.9 1477.3,1014.8 1475.7,1018.8 1473.8,1022.7 1471.7,1026.6 1469.5,1030.5 1467.1,1034.4 1464.6,1038.3 1462.0,1042.2 1459.3,1046.2 1456.6,1050.1 1453.8,1054.0" fill="none" stroke="#7e7e7e" stroke-width="1.2"/>
<ellipse cx="1463.5" cy="978" rx="1.5" ry="2.3" fill="#262626" opacity="0.85"/>
<ellipse cx="1472.0" cy="996" rx="1.2" ry="1.8" fill="#262626" opacity="0.5"/>
<ellipse cx="1477.8" cy="1013" rx="1.7" ry="2.5" fill="#262626" opacity="0.85"/>
<ellipse cx="1470.9" cy="1028" rx="1.4" ry="2.1" fill="#262626" opacity="0.8"/>
<ellipse cx="1462.2" cy="1042" rx="1.3" ry="2.0" fill="#262626" opacity="0.6"/>
<polygon points="1467.5,960.0 1473.7,971.2 1479.5,982.5 1493.2,982.5 1487.4,971.2 1481.2,960.0" fill="#cdcdcd"/>
<polygon points="1472.3,960.0 1478.5,971.2 1484.3,982.5 1487.7,982.5 1481.9,971.2 1475.8,960.0" fill="#f6f6f6" opacity="0.45"/>
<polygon points="1479.5,982.5 1483.7,991.5 1487.6,1000.5 1501.3,1000.5 1497.5,991.5 1493.2,982.5" fill="#e0e0e0"/>
<polygon points="1484.3,982.5 1488.5,991.5 1492.4,1000.5 1495.8,1000.5 1492.0,991.5 1487.7,982.5" fill="#f6f6f6" opacity="0.8"/>
<polygon points="1487.6,1000.5 1490.6,1009.0 1490.0,1017.5 1503.7,1017.5 1504.3,1009.0 1501.3,1000.5" fill="#cdcdcd"/>
<polygon points="1492.4,1000.5 1495.4,1009.0 1494.8,1017.5 1498.2,1017.5 1498.8,1009.0 1495.8,1000.5" fill="#f6f6f6" opacity="0.45"/>
<polygon points="1490.0,1017.5 1486.3,1025.0 1482.0,1032.5 1495.8,1032.5 1500.1,1025.0 1503.7,1017.5" fill="#e0e0e0"/>
<polygon points="1494.8,1017.5 1491.1,1025.0 1486.8,1032.5 1490.3,1032.5 1494.6,1025.0 1498.2,1017.5" fill="#f6f6f6" opacity="0.8"/>
<polygon points="1482.0,1032.5 1477.6,1039.5 1472.9,1046.5 1486.6,1046.5 1491.3,1039.5 1495.8,1032.5" fill="#cdcdcd"/>
<polygon points="1486.8,1032.5 1482.4,1039.5 1477.7,1046.5 1481.1,1046.5 1485.8,1039.5 1490.3,1032.5" fill="#f6f6f6" opacity="0.45"/>
<polygon points="1472.9,1046.5 1470.2,1050.2 1467.5,1054.0 1481.2,1054.0 1484.0,1050.2 1486.6,1046.5" fill="#e0e0e0"/>
<polygon points="1477.7,1046.5 1475.0,1050.2 1472.3,1054.0 1475.8,1054.0 1478.5,1050.2 1481.1,1046.5" fill="#f6f6f6" opacity="0.8"/>
<polyline points="1478.2,960.0 1480.4,963.9 1482.6,967.8 1484.7,971.8 1486.7,975.7 1488.7,979.6 1490.7,983.5 1492.6,987.4 1494.4,991.3 1496.1,995.2 1497.7,999.2 1499.3,1003.1 1500.6,1007.0 1501.8,1010.9 1501.7,1014.8 1500.2,1018.8 1498.3,1022.7 1496.2,1026.6 1493.9,1030.5 1491.6,1034.4 1489.1,1038.3 1486.5,1042.2 1483.8,1046.2 1481.1,1050.1 1478.2,1054.0" fill="none" stroke="#a4a4a4" stroke-width="0.8"/>
<polyline points="1470.2,960.0 1472.4,963.9 1474.6,967.8 1476.7,971.8 1478.8,975.7 1480.8,979.6 1482.7,983.5 1484.6,987.4 1486.4,991.3 1488.1,995.2 1489.8,999.2 1491.3,1003.1 1492.7,1007.0 1493.8,1010.9 1493.8,1014.8 1492.2,1018.8 1490.3,1022.7 1488.2,1026.6 1486.0,1030.5 1483.6,1034.4 1481.1,1038.3 1478.5,1042.2 1475.8,1046.2 1473.1,1050.1 1470.2,1054.0" fill="none" stroke="#bdbdbd" stroke-width="0.7"/>
<polyline points="1467.5,960.0 1469.7,963.9 1471.8,967.8 1474.0,971.8 1476.0,975.7 1478.0,979.6 1480.0,983.5 1481.8,987.4 1483.7,991.3 1485.4,995.2 1487.0,999.2 1488.5,1003.1 1489.9,1007.0 1491.1,1010.9 1491.0,1014.8 1489.4,1018.8 1487.6,1022.7 1485.5,1026.6 1483.2,1030.5 1480.8,1034.4 1478.4,1038.3 1475.8,1042.2 1473.1,1046.2 1470.3,1050.1 1467.5,1054.0" fill="none" stroke="#7e7e7e" stroke-width="1.2"/>
<ellipse cx="1477.2" cy="978" rx="1.5" ry="2.3" fill="#262626" opacity="0.85"/>
<ellipse cx="1485.7" cy="996" rx="1.2" ry="1.8" fill="#262626" opacity="0.5"/>
<ellipse cx="1491.5" cy="1013" rx="1.7" ry="2.5" fill="#262626" opacity="0.85"/>
<ellipse cx="1484.7" cy="1028" rx="1.4" ry="2.1" fill="#262626" opacity="0.8"/>
<ellipse cx="1475.9" cy="1042" rx="1.3" ry="2.0" fill="#262626" opacity="0.6"/>
<polygon points="1481.2,960.0 1485.0,966.8 1488.6,973.5 1502.4,973.5 1498.8,966.8 1495.0,960.0" fill="#e0e0e0"/>
<polygon points="1486.1,960.0 1489.8,966.8 1493.4,973.5 1496.9,973.5 1493.3,966.8 1489.5,960.0" fill="#f6f6f6" opacity="0.8"/>
<polygon points="1488.6,973.5 1493.2,982.5 1497.5,991.5 1511.2,991.5 1507.0,982.5 1502.4,973.5" fill="#cdcdcd"/>
<polygon points="1493.4,973.5 1498.0,982.5 1502.3,991.5 1505.7,991.5 1501.5,982.5 1496.9,973.5" fill="#f6f6f6" opacity="0.45"/>
<polygon points="1497.5,991.5 1501.1,1000.0 1504.2,1008.5 1517.9,1008.5 1514.9,1000.0 1511.2,991.5" fill="#e0e0e0"/>
<polygon points="1502.3,991.5 1505.9,1000.0 1509.0,1008.5 1512.4,1008.5 1509.4,1000.0 1505.7,991.5" fill="#f6f6f6" opacity="0.8"/>
<polygon points="1504.2,1008.5 1504.3,1016.0 1500.9,1023.5 1514.6,1023.5 1518.1,1016.0 1517.9,1008.5" fill="#cdcdcd"/>
<polygon points="1509.0,1008.5 1509.1,1016.0 1505.7,1023.5 1509.1,1023.5 1512.6,1016.0 1512.4,1008.5" fill="#f6f6f6" opacity="0.45"/>
<polygon points="1500.9,1023.5 1497.0,1030.5 1492.6,1037.5 1506.4,1037.5 1510.7,1030.5 1514.6,1023.5" fill="#e0e0e0"/>
<polygon points="1505.7,1023.5 1501.8,1030.5 1497.5,1037.5 1500.9,1037.5 1505.2,1030.5 1509.1,1023.5" fill="#f6f6f6" opacity="0.8"/>
<polygon points="1492.6,1037.5 1487.1,1045.8 1481.2,1054.0 1495.0,1054.0 1500.9,1045.8 1506.4,1037.5" fill="#cdcdcd"/>
<polygon points="1497.5,1037.5 1491.9,1045.8 1486.1,1054.0 1489.5,1054.0 1495.4,1045.8 1500.9,1037.5" fill="#f6f6f6" opacity="0.45"/>
<polyline points="1492.0,960.0 1494.2,963.9 1496.3,967.8 1498.4,971.8 1500.5,975.7 1502.5,979.6 1504.4,983.5 1506.3,987.4 1508.1,991.3 1509.9,995.2 1511.5,999.2 1513.0,1003.1 1514.4,1007.0 1515.6,1010.9 1515.5,1014.8 1513.9,1018.8 1512.0,1022.7 1509.9,1026.6 1507.7,1030.5 1505.3,1034.4 1502.8,1038.3 1500.2,1042.2 1497.6,1046.2 1494.8,1050.1 1492.0,1054.0" fill="none" stroke="#a4a4a4" stroke-width="0.8"/>
<polyline points="1484.0,960.0 1486.2,963.9 1488.3,967.8 1490.5,971.8 1492.5,975.7 1494.5,979.6 1496.5,983.5 1498.3,987.4 1500.2,991.3 1501.9,995.2 1503.5,999.2 1505.0,1003.1 1506.4,1007.0 1507.6,1010.9 1507.5,1014.8 1505.9,1018.8 1504.1,1022.7 1502.0,1026.6 1499.7,1030.5 1497.3,1034.4 1494.9,1038.3 1492.3,1042.2 1489.6,1046.2 1486.8,1050.1 1484.0,1054.0" fill="none" stroke="#bdbdbd" stroke-width="0.7"/>
<polyline points="1481.2,960.0 1483.4,963.9 1485.6,967.8 1487.7,971.8 1489.8,975.7 1491.8,979.6 1493.7,983.5 1495.6,987.4 1497.4,991.3 1499.1,995.2 1500.8,999.2 1502.3,1003.1 1503.7,1007.0 1504.8,1010.9 1504.8,1014.8 1503.2,1018.8 1501.3,1022.7 1499.2,1026.6 1497.0,1030.5 1494.6,1034.4 1492.1,1038.3 1489.5,1042.2 1486.8,1046.2 1484.1,1050.1 1481.2,1054.0" fill="none" stroke="#7e7e7e" stroke-width="1.2"/>
<ellipse cx="1491.0" cy="978" rx="1.5" ry="2.3" fill="#262626" opacity="0.85"/>
<ellipse cx="1499.5" cy="996" rx="1.2" ry="1.8" fill="#262626" opacity="0.5"/>
<ellipse cx="1505.2" cy="1013" rx="1.7" ry="2.5" fill="#262626" opacity="0.85"/>
<ellipse cx="1498.4" cy="1028" rx="1.4" ry="2.1" fill="#262626" opacity="0.8"/>
<ellipse cx="1489.7" cy="1042" rx="1.3" ry="2.0" fill="#262626" opacity="0.6"/>
<polygon points="1495.0,960.0 1499.6,968.2 1503.9,976.5 1517.7,976.5 1513.3,968.2 1508.8,960.0" fill="#cdcdcd"/>
<polygon points="1499.8,960.0 1504.4,968.2 1508.8,976.5 1512.2,976.5 1507.8,968.2 1503.2,960.0" fill="#f6f6f6" opacity="0.45"/>
<polygon points="1503.9,976.5 1508.4,985.5 1512.6,994.5 1526.3,994.5 1522.2,985.5 1517.7,976.5" fill="#e0e0e0"/>
<polygon points="1508.8,976.5 1513.2,985.5 1517.4,994.5 1520.8,994.5 1516.7,985.5 1512.2,976.5" fill="#f6f6f6" opacity="0.8"/>
<polygon points="1512.6,994.5 1516.0,1003.0 1518.7,1011.5 1532.5,1011.5 1529.8,1003.0 1526.3,994.5" fill="#cdcdcd"/>
<polygon points="1517.4,994.5 1520.8,1003.0 1523.5,1011.5 1527.0,1011.5 1524.3,1003.0 1520.8,994.5" fill="#f6f6f6" opacity="0.45"/>
<polygon points="1518.7,1011.5 1516.8,1019.0 1513.0,1026.5 1526.8,1026.5 1530.6,1019.0 1532.5,1011.5" fill="#e0e0e0"/>
<polygon points="1523.5,1011.5 1521.6,1019.0 1517.8,1026.5 1521.3,1026.5 1525.1,1019.0 1527.0,1011.5" fill="#f6f6f6" opacity="0.8"/>
<polygon points="1513.0,1026.5 1508.9,1033.5 1504.4,1040.5 1518.2,1040.5 1522.7,1033.5 1526.8,1026.5" fill="#cdcdcd"/>
<polygon points="1517.8,1026.5 1513.7,1033.5 1509.2,1040.5 1512.7,1040.5 1517.2,1033.5 1521.3,1026.5" fill="#f6f6f6" opacity="0.45"/>
<polygon points="1504.4,1040.5 1499.8,1047.2 1495.0,1054.0 1508.8,1054.0 1513.6,1047.2 1518.2,1040.5" fill="#e0e0e0"/>
<polygon points="1509.2,1040.5 1504.6,1047.2 1499.8,1054.0 1503.2,1054.0 1508.1,1047.2 1512.7,1040.5" fill="#f6f6f6" opacity="0.8"/>
<polyline points="1505.7,960.0 1507.9,963.9 1510.1,967.8 1512.2,971.8 1514.2,975.7 1516.2,979.6 1518.2,983.5 1520.1,987.4 1521.9,991.3 1523.6,995.2 1525.2,999.2 1526.8,1003.1 1528.1,1007.0 1529.3,1010.9 1529.2,1014.8 1527.7,1018.8 1525.8,1022.7 1523.7,1026.6 1521.4,1030.5 1519.1,1034.4 1516.6,1038.3 1514.0,1042.2 1511.3,1046.2 1508.6,1050.1 1505.7,1054.0" fill="none" stroke="#a4a4a4" stroke-width="0.8"/>
<polyline points="1497.8,960.0 1499.9,963.9 1502.1,967.8 1504.2,971.8 1506.3,975.7 1508.3,979.6 1510.2,983.5 1512.1,987.4 1513.9,991.3 1515.6,995.2 1517.3,999.2 1518.8,1003.1 1520.2,1007.0 1521.3,1010.9 1521.3,1014.8 1519.7,1018.8 1517.8,1022.7 1515.7,1026.6 1513.5,1030.5 1511.1,1034.4 1508.6,1038.3 1506.0,1042.2 1503.3,1046.2 1500.6,1050.1 1497.8,1054.0" fill="none" stroke="#bdbdbd" stroke-width="0.7"/>
<polyline points="1495.0,960.0 1497.2,963.9 1499.3,967.8 1501.5,971.8 1503.5,975.7 1505.5,979.6 1507.5,983.5 1509.3,987.4 1511.2,991.3 1512.9,995.2 1514.5,999.2 1516.0,1003.1 1517.4,1007.0 1518.6,1010.9 1518.5,1014.8 1516.9,1018.8 1515.1,1022.7 1513.0,1026.6 1510.7,1030.5 1508.3,1034.4 1505.9,1038.3 1503.3,1042.2 1500.6,1046.2 1497.8,1050.1 1495.0,1054.0" fill="none" stroke="#7e7e7e" stroke-width="1.2"/>
<ellipse cx="1504.7" cy="978" rx="1.5" ry="2.3" fill="#262626" opacity="0.85"/>
<ellipse cx="1513.2" cy="996" rx="1.2" ry="1.8" fill="#262626" opacity="0.5"/>
<ellipse cx="1519.0" cy="1013" rx="1.7" ry="2.5" fill="#262626" opacity="0.85"/>
<ellipse cx="1512.2" cy="1028" rx="1.4" ry="2.1" fill="#262626" opacity="0.8"/>
<ellipse cx="1503.4" cy="1042" rx="1.3" ry="2.0" fill="#262626" opacity="0.6"/>
<polygon points="1508.8,960.0 1514.1,969.8 1519.2,979.5 1533.0,979.5 1527.9,969.8 1522.5,960.0" fill="#e0e0e0"/>
<polygon points="1513.6,960.0 1518.9,969.8 1524.0,979.5 1527.5,979.5 1522.4,969.8 1517.0,960.0" fill="#f6f6f6" opacity="0.8"/>
<polygon points="1519.2,979.5 1523.6,988.5 1527.6,997.5 1541.3,997.5 1537.4,988.5 1533.0,979.5" fill="#cdcdcd"/>
<polygon points="1524.0,979.5 1528.4,988.5 1532.4,997.5 1535.8,997.5 1531.9,988.5 1527.5,979.5" fill="#f6f6f6" opacity="0.45"/>
<polygon points="1527.6,997.5 1530.8,1006.0 1532.4,1014.5 1546.1,1014.5 1544.6,1006.0 1541.3,997.5" fill="#e0e0e0"/>
<polygon points="1532.4,997.5 1535.7,1006.0 1537.2,1014.5 1540.6,1014.5 1539.1,1006.0 1535.8,997.5" fill="#f6f6f6" opacity="0.8"/>
<polygon points="1532.4,1014.5 1529.1,1022.0 1525.1,1029.5 1538.8,1029.5 1542.9,1022.0 1546.1,1014.5" fill="#cdcdcd"/>
<polygon points="1537.2,1014.5 1534.0,1022.0 1529.9,1029.5 1533.3,1029.5 1537.4,1022.0 1540.6,1014.5" fill="#f6f6f6" opacity="0.45"/>
<polygon points="1525.1,1029.5 1520.8,1036.5 1516.2,1043.5 1529.9,1043.5 1534.5,1036.5 1538.8,1029.5" fill="#e0e0e0"/>
<polygon points="1529.9,1029.5 1525.6,1036.5 1521.0,1043.5 1524.4,1043.5 1529.0,1036.5 1533.3,1029.5" fill="#f6f6f6" opacity="0.8"/>
<polygon points="1516.2,1043.5 1512.5,1048.8 1508.8,1054.0 1522.5,1054.0 1526.3,1048.8 1529.9,1043.5" fill="#cdcdcd"/>
<polygon points="1521.0,1043.5 1517.3,1048.8 1513.6,1054.0 1517.0,1054.0 1520.8,1048.8 1524.4,1043.5" fill="#f6f6f6" opacity="0.45"/>
<polyline points="1519.5,960.0 1521.7,963.9 1523.8,967.8 1525.9,971.8 1528.0,975.7 1530.0,979.6 1531.9,983.5 1533.8,987.4 1535.6,991.3 1537.4,995.2 1539.0,999.2 1540.5,1003.1 1541.9,1007.0 1543.1,1010.9 1543.0,1014.8 1541.4,1018.8 1539.5,1022.7 1537.4,1026.6 1535.2,1030.5 1532.8,1034.4 1530.3,1038.3 1527.7,1042.2 1525.1,1046.2 1522.3,1050.1 1519.5,1054.0" fill="none" stroke="#a4a4a4" stroke-width="0.8"/>
<polyline points="1511.5,960.0 1513.7,963.9 1515.8,967.8 1518.0,971.8 1520.0,975.7 1522.0,979.6 1524.0,983.5 1525.8,987.4 1527.7,991.3 1529.4,995.2 1531.0,999.2 1532.5,1003.1 1533.9,1007.0 1535.1,1010.9 1535.0,1014.8 1533.4,1018.8 1531.6,1022.7 1529.5,1026.6 1527.2,1030.5 1524.8,1034.4 1522.4,1038.3 1519.8,1042.2 1517.1,1046.2 1514.3,1050.1 1511.5,1054.0" fill="none" stroke="#bdbdbd" stroke-width="0.7"/>
<polyline points="1508.8,960.0 1510.9,963.9 1513.1,967.8 1515.2,971.8 1517.3,975.7 1519.3,979.6 1521.2,983.5 1523.1,987.4 1524.9,991.3 1526.6,995.2 1528.3,999.2 1529.8,1003.1 1531.2,1007.0 1532.3,1010.9 1532.3,1014.8 1530.7,1018.8 1528.8,1022.7 1526.7,1026.6 1524.5,1030.5 1522.1,1034.4 1519.6,1038.3 1517.0,1042.2 1514.3,1046.2 1511.6,1050.1 1508.8,1054.0" fill="none" stroke="#7e7e7e" stroke-width="1.2"/>
<ellipse cx="1518.5" cy="978" rx="1.5" ry="2.3" fill="#262626" opacity="0.85"/>
<ellipse cx="1527.0" cy="996" rx="1.2" ry="1.8" fill="#262626" opacity="0.5"/>
<ellipse cx="1532.8" cy="1013" rx="1.7" ry="2.5" fill="#262626" opacity="0.85"/>
<ellipse cx="1525.9" cy="1028" rx="1.4" ry="2.1" fill="#262626" opacity="0.8"/>
<ellipse cx="1517.2" cy="1042" rx="1.3" ry="2.0" fill="#262626" opacity="0.6"/>
<polygon points="1522.5,960.0 1528.7,971.2 1534.5,982.5 1548.2,982.5 1542.4,971.2 1536.2,960.0" fill="#cdcdcd"/>
<polygon points="1527.3,960.0 1533.5,971.2 1539.3,982.5 1542.7,982.5 1536.9,971.2 1530.8,960.0" fill="#f6f6f6" opacity="0.45"/>
<polygon points="1534.5,982.5 1538.7,991.5 1542.6,1000.5 1556.3,1000.5 1552.5,991.5 1548.2,982.5" fill="#e0e0e0"/>
<polygon points="1539.3,982.5 1543.5,991.5 1547.4,1000.5 1550.8,1000.5 1547.0,991.5 1542.7,982.5" fill="#f6f6f6" opacity="0.8"/>
<polygon points="1542.6,1000.5 1545.6,1009.0 1545.0,1017.5 1558.7,1017.5 1559.3,1009.0 1556.3,1000.5" fill="#cdcdcd"/>
<polygon points="1547.4,1000.5 1550.4,1009.0 1549.8,1017.5 1553.2,1017.5 1553.8,1009.0 1550.8,1000.5" fill="#f6f6f6" opacity="0.45"/>
<polygon points="1545.0,1017.5 1541.3,1025.0 1537.0,1032.5 1550.8,1032.5 1555.1,1025.0 1558.7,1017.5" fill="#e0e0e0"/>
<polygon points="1549.8,1017.5 1546.1,1025.0 1541.8,1032.5 1545.3,1032.5 1549.6,1025.0 1553.2,1017.5" fill="#f6f6f6" opacity="0.8"/>
<polygon points="1537.0,1032.5 1532.6,1039.5 1527.9,1046.5 1541.6,1046.5 1546.3,1039.5 1550.8,1032.5" fill="#cdcdcd"/>
<polygon points="1541.8,1032.5 1537.4,1039.5 1532.7,1046.5 1536.1,1046.5 1540.8,1039.5 1545.3,1032.5" fill="#f6f6f6" opacity="0.45"/>
<polygon points="1527.9,1046.5 1525.2,1050.2 1522.5,1054.0 1536.2,1054.0 1539.0,1050.2 1541.6,1046.5" fill="#e0e0e0"/>
<polygon points="1532.7,1046.5 1530.0,1050.2 1527.3,1054.0 1530.8,1054.0 1533.5,1050.2 1536.1,1046.5" fill="#f6f6f6" opacity="0.8"/>
<polyline points="1533.2,960.0 1535.4,963.9 1537.6,967.8 1539.7,971.8 1541.7,975.7 1543.7,979.6 1545.7,983.5 1547.6,987.4 1549.4,991.3 1551.1,995.2 1552.7,999.2 1554.3,1003.1 1555.6,1007.0 1556.8,1010.9 1556.7,1014.8 1555.2,1018.8 1553.3,1022.7 1551.2,1026.6 1548.9,1030.5 1546.6,1034.4 1544.1,1038.3 1541.5,1042.2 1538.8,1046.2 1536.1,1050.1 1533.2,1054.0" fill="none" stroke="#a4a4a4" stroke-width="0.8"/>
<polyline points="1525.2,960.0 1527.4,963.9 1529.6,967.8 1531.7,971.8 1533.8,975.7 1535.8,979.6 1537.7,983.5 1539.6,987.4 1541.4,991.3 1543.1,995.2 1544.8,999.2 1546.3,1003.1 1547.7,1007.0 1548.8,1010.9 1548.8,1014.8 1547.2,1018.8 1545.3,1022.7 1543.2,1026.6 1541.0,1030.5 1538.6,1034.4 1536.1,1038.3 1533.5,1042.2 1530.8,1046.2 1528.1,1050.1 1525.2,1054.0" fill="none" stroke="#bdbdbd" stroke-width="0.7"/>
<polyline points="1522.5,960.0 1524.7,963.9 1526.8,967.8 1529.0,971.8 1531.0,975.7 1533.0,979.6 1535.0,983.5 1536.8,987.4 1538.7,991.3 1540.4,995.2 1542.0,999.2 1543.5,1003.1 1544.9,1007.0 1546.1,1010.9 1546.0,1014.8 1544.4,1018.8 1542.6,1022.7 1540.5,1026.6 1538.2,1030.5 1535.8,1034.4 1533.4,1038.3 1530.8,1042.2 1528.1,1046.2 1525.3,1050.1 1522.5,1054.0" fill="none" stroke="#7e7e7e" stroke-width="1.2"/>
<ellipse cx="1532.2" cy="978" rx="1.5" ry="2.3" fill="#262626" opacity="0.85"/>
<ellipse cx="1540.7" cy="996" rx="1.2" ry="1.8" fill="#262626" opacity="0.5"/>
<ellipse cx="1546.5" cy="1013" rx="1.7" ry="2.5" fill="#262626" opacity="0.85"/>
<ellipse cx="1539.7" cy="1028" rx="1.4" ry="2.1" fill="#262626" opacity="0.8"/>
<ellipse cx="1530.9" cy="1042" rx="1.3" ry="2.0" fill="#262626" opacity="0.6"/>
<polygon points="1536.2,960.0 1540.0,966.8 1543.6,973.5 1557.4,973.5 1553.8,966.8 1550.0,960.0" fill="#e0e0e0"/>
<polygon points="1541.1,960.0 1544.8,966.8 1548.4,973.5 1551.9,973.5 1548.3,966.8 1544.5,960.0" fill="#f6f6f6" opacity="0.8"/>
<polygon points="1543.6,973.5 1548.2,982.5 1552.5,991.5 1566.2,991.5 1562.0,982.5 1557.4,973.5" fill="#cdcdcd"/>
<polygon points="1548.4,973.5 1553.0,982.5 1557.3,991.5 1560.7,991.5 1556.5,982.5 1551.9,973.5" fill="#f6f6f6" opacity="0.45"/>
<polygon points="1552.5,991.5 1556.1,1000.0 1559.2,1008.5 1572.9,1008.5 1569.9,1000.0 1566.2,991.5" fill="#e0e0e0"/>
<polygon points="1557.3,991.5 1560.9,1000.0 1564.0,1008.5 1567.4,1008.5 1564.4,1000.0 1560.7,991.5" fill="#f6f6f6" opacity="0.8"/>
<polygon points="1559.2,1008.5 1559.3,1016.0 1555.9,1023.5 1569.6,1023.5 1573.1,1016.0 1572.9,1008.5" fill="#cdcdcd"/>
<polygon points="1564.0,1008.5 1564.1,1016.0 1560.7,1023.5 1564.1,1023.5 1567.6,1016.0 1567.4,1008.5" fill="#f6f6f6" opacity="0.45"/>
<polygon points="1555.9,1023.5 1552.0,1030.5 1547.6,1037.5 1561.4,1037.5 1565.7,1030.5 1569.6,1023.5" fill="#e0e0e0"/>
<polygon points="1560.7,1023.5 1556.8,1030.5 1552.5,1037.5 1555.9,1037.5 1560.2,1030.5 1564.1,1023.5" fill="#f6f6f6" opacity="0.8"/>
<polygon points="1547.6,1037.5 1542.1,1045.8 1536.2,1054.0 1550.0,1054.0 1555.9,1045.8 1561.4,1037.5" fill="#cdcdcd"/>
<polygon points="1552.5,1037.5 1546.9,1045.8 1541.1,1054.0 1544.5,1054.0 1550.4,1045.8 1555.9,1037.5" fill="#f6f6f6" opacity="0.45"/>
<polyline points="1547.0,960.0 1549.2,963.9 1551.3,967.8 1553.4,971.8 1555.5,975.7 1557.5,979.6 1559.4,983.5 1561.3,987.4 1563.1,991.3 1564.9,995.2 1566.5,999.2 1568.0,1003.1 1569.4,1007.0 1570.6,1010.9 1570.5,1014.8 1568.9,1018.8 1567.0,1022.7 1564.9,1026.6 1562.7,1030.5 1560.3,1034.4 1557.8,1038.3 1555.2,1042.2 1552.6,1046.2 1549.8,1050.1 1547.0,1054.0" fill="none" stroke="#a4a4a4" stroke-width="0.8"/>
<polyline points="1539.0,960.0 1541.2,963.9 1543.3,967.8 1545.5,971.8 1547.5,975.7 1549.5,979.6 1551.5,983.5 1553.3,987.4 1555.2,991.3 1556.9,995.2 1558.5,999.2 1560.0,1003.1 1561.4,1007.0 1562.6,1010.9 1562.5,1014.8 1560.9,1018.8 1559.1,1022.7 1557.0,1026.6 1554.7,1030.5 1552.3,1034.4 1549.9,1038.3 1547.3,1042.2 1544.6,1046.2 1541.8,1050.1 1539.0,1054.0" fill="none" stroke="#bdbdbd" stroke-width="0.7"/>
<polyline points="1536.2,960.0 1538.4,963.9 1540.6,967.8 1542.7,971.8 1544.8,975.7 1546.8,979.6 1548.7,983.5 1550.6,987.4 1552.4,991.3 1554.1,995.2 1555.8,999.2 1557.3,1003.1 1558.7,1007.0 1559.8,1010.9 1559.8,1014.8 1558.2,1018.8 1556.3,1022.7 1554.2,1026.6 1552.0,1030.5 1549.6,1034.4 1547.1,1038.3 1544.5,1042.2 1541.8,1046.2 1539.1,1050.1 1536.2,1054.0" fill="none" stroke="#7e7e7e" stroke-width="1.2"/>
<ellipse cx="1546.0" cy="978" rx="1.5" ry="2.3" fill="#262626" opacity="0.85"/>
<ellipse cx="1554.5" cy="996" rx="1.2" ry="1.8" fill="#262626" opacity="0.5"/>
<ellipse cx="1560.2" cy="1013" rx="1.7" ry="2.5" fill="#262626" opacity="0.85"/>
<ellipse cx="1553.4" cy="1028" rx="1.4" ry="2.1" fill="#262626" opacity="0.8"/>
<ellipse cx="1544.7" cy="1042" rx="1.3" ry="2.0" fill="#262626" opacity="0.6"/>
<polygon points="1550.0,960.0 1554.6,968.2 1558.9,976.5 1572.2,976.5 1567.8,968.2 1563.2,960.0" fill="#cdcdcd"/>
<polygon points="1554.6,960.0 1559.2,968.2 1563.6,976.5 1566.9,976.5 1562.5,968.2 1558.0,960.0" fill="#f6f6f6" opacity="0.45"/>
<polygon points="1558.9,976.5 1563.4,985.5 1567.6,994.5 1580.8,994.5 1576.7,985.5 1572.2,976.5" fill="#e0e0e0"/>
<polygon points="1563.6,976.5 1568.1,985.5 1572.2,994.5 1575.5,994.5 1571.4,985.5 1566.9,976.5" fill="#f6f6f6" opacity="0.8"/>
<polygon points="1567.6,994.5 1571.0,1003.0 1573.7,1011.5 1587.0,1011.5 1584.3,1003.0 1580.8,994.5" fill="#cdcdcd"/>
<polygon points="1572.2,994.5 1575.7,1003.0 1578.4,1011.5 1581.7,1011.5 1579.0,1003.0 1575.5,994.5" fill="#f6f6f6" opacity="0.45"/>
<polygon points="1573.7,1011.5 1571.8,1019.0 1568.0,1026.5 1581.3,1026.5 1585.1,1019.0 1587.0,1011.5" fill="#e0e0e0"/>
<polygon points="1578.4,1011.5 1576.5,1019.0 1572.7,1026.5 1576.0,1026.5 1579.8,1019.0 1581.7,1011.5" fill="#f6f6f6" opacity="0.8"/>
<polygon points="1568.0,1026.5 1563.9,1033.5 1559.4,1040.5 1572.7,1040.5 1577.2,1033.5 1581.3,1026.5" fill="#cdcdcd"/>
<polygon points="1572.7,1026.5 1568.5,1033.5 1564.1,1040.5 1567.4,1040.5 1571.9,1033.5 1576.0,1026.5" fill="#f6f6f6" opacity="0.45"/>
<polygon points="1559.4,1040.5 1554.8,1047.2 1550.0,1054.0 1563.2,1054.0 1568.1,1047.2 1572.7,1040.5" fill="#e0e0e0"/>
<polygon points="1564.1,1040.5 1559.5,1047.2 1554.6,1054.0 1558.0,1054.0 1562.8,1047.2 1567.4,1040.5" fill="#f6f6f6" opacity="0.8"/>
<polyline points="1560.3,960.0 1562.5,963.9 1564.7,967.8 1566.8,971.8 1568.8,975.7 1570.9,979.6 1572.8,983.5 1574.7,987.4 1576.5,991.3 1578.2,995.2 1579.9,999.2 1581.4,1003.1 1582.8,1007.0 1583.9,1010.9 1583.8,1014.8 1582.3,1018.8 1580.4,1022.7 1578.3,1026.6 1576.1,1030.5 1573.7,1034.4 1571.2,1038.3 1568.6,1042.2 1565.9,1046.2 1563.2,1050.1 1560.3,1054.0" fill="none" stroke="#a4a4a4" stroke-width="0.8"/>
<polyline points="1552.7,960.0 1554.8,963.9 1557.0,967.8 1559.1,971.8 1561.2,975.7 1563.2,979.6 1565.1,983.5 1567.0,987.4 1568.8,991.3 1570.5,995.2 1572.2,999.2 1573.7,1003.1 1575.1,1007.0 1576.2,1010.9 1576.2,1014.8 1574.6,1018.8 1572.7,1022.7 1570.6,1026.6 1568.4,1030.5 1566.0,1034.4 1563.5,1038.3 1560.9,1042.2 1558.2,1046.2 1555.5,1050.1 1552.7,1054.0" fill="none" stroke="#bdbdbd" stroke-width="0.7"/>
<polyline points="1550.0,960.0 1552.2,963.9 1554.3,967.8 1556.5,971.8 1558.5,975.7 1560.5,979.6 1562.5,983.5 1564.3,987.4 1566.2,991.3 1567.9,995.2 1569.5,999.2 1571.0,1003.1 1572.4,1007.0 1573.6,1010.9 1573.5,1014.8 1571.9,1018.8 1570.1,1022.7 1568.0,1026.6 1565.7,1030.5 1563.3,1034.4 1560.9,1038.3 1558.3,1042.2 1555.6,1046.2 1552.8,1050.1 1550.0,1054.0" fill="none" stroke="#7e7e7e" stroke-width="1.2"/>
<ellipse cx="1559.7" cy="978" rx="1.5" ry="2.3" fill="#262626" opacity="0.85"/>
<ellipse cx="1568.2" cy="996" rx="1.2" ry="1.8" fill="#262626" opacity="0.5"/>
<ellipse cx="1574.0" cy="1013" rx="1.7" ry="2.5" fill="#262626" opacity="0.85"/>
<ellipse cx="1567.2" cy="1028" rx="1.4" ry="2.1" fill="#262626" opacity="0.8"/>
<ellipse cx="1558.4" cy="1042" rx="1.3" ry="2.0" fill="#262626" opacity="0.6"/>
<polygon points="1563.2,960.0 1568.6,969.8 1573.7,979.5 1587.0,979.5 1581.9,969.8 1576.5,960.0" fill="#e0e0e0"/>
<polygon points="1567.9,960.0 1573.3,969.8 1578.4,979.5 1581.7,979.5 1576.6,969.8 1571.2,960.0" fill="#f6f6f6" opacity="0.8"/>
<polygon points="1573.7,979.5 1578.1,988.5 1582.1,997.5 1595.3,997.5 1591.4,988.5 1587.0,979.5" fill="#cdcdcd"/>
<polygon points="1578.4,979.5 1582.7,988.5 1586.7,997.5 1590.0,997.5 1586.1,988.5 1581.7,979.5" fill="#f6f6f6" opacity="0.45"/>
<polygon points="1582.1,997.5 1585.3,1006.0 1586.9,1014.5 1600.1,1014.5 1598.6,1006.0 1595.3,997.5" fill="#e0e0e0"/>
<polygon points="1586.7,997.5 1590.0,1006.0 1591.5,1014.5 1594.8,1014.5 1593.3,1006.0 1590.0,997.5" fill="#f6f6f6" opacity="0.8"/>
<polygon points="1586.9,1014.5 1583.6,1022.0 1579.6,1029.5 1592.8,1029.5 1596.9,1022.0 1600.1,1014.5" fill="#cdcdcd"/>
<polygon points="1591.5,1014.5 1588.3,1022.0 1584.2,1029.5 1587.5,1029.5 1591.6,1022.0 1594.8,1014.5" fill="#f6f6f6" opacity="0.45"/>
<polygon points="1579.6,1029.5 1575.3,1036.5 1570.7,1043.5 1583.9,1043.5 1588.5,1036.5 1592.8,1029.5" fill="#e0e0e0"/>
<polygon points="1584.2,1029.5 1579.9,1036.5 1575.3,1043.5 1578.6,1043.5 1583.2,1036.5 1587.5,1029.5" fill="#f6f6f6" opacity="0.8"/>
<polygon points="1570.7,1043.5 1567.0,1048.8 1563.2,1054.0 1576.5,1054.0 1580.3,1048.8 1583.9,1043.5" fill="#cdcdcd"/>
<polygon points="1575.3,1043.5 1571.7,1048.8 1567.9,1054.0 1571.2,1054.0 1575.0,1048.8 1578.6,1043.5" fill="#f6f6f6" opacity="0.45"/>
<polyline points="1573.6,960.0 1575.8,963.9 1577.9,967.8 1580.0,971.8 1582.1,975.7 1584.1,979.6 1586.0,983.5 1587.9,987.4 1589.7,991.3 1591.5,995.2 1593.1,999.2 1594.6,1003.1 1596.0,1007.0 1597.2,1010.9 1597.1,1014.8 1595.5,1018.8 1593.6,1022.7 1591.6,1026.6 1589.3,1030.5 1586.9,1034.4 1584.4,1038.3 1581.8,1042.2 1579.2,1046.2 1576.4,1050.1 1573.6,1054.0" fill="none" stroke="#a4a4a4" stroke-width="0.8"/>
<polyline points="1565.9,960.0 1568.1,963.9 1570.2,967.8 1572.4,971.8 1574.4,975.7 1576.4,979.6 1578.4,983.5 1580.2,987.4 1582.1,991.3 1583.8,995.2 1585.4,999.2 1586.9,1003.1 1588.3,1007.0 1589.5,1010.9 1589.4,1014.8 1587.8,1018.8 1586.0,1022.7 1583.9,1026.6 1581.6,1030.5 1579.2,1034.4 1576.8,1038.3 1574.2,1042.2 1571.5,1046.2 1568.7,1050.1 1565.9,1054.0" fill="none" stroke="#bdbdbd" stroke-width="0.7"/>
<polyline points="1563.2,960.0 1565.4,963.9 1567.6,967.8 1569.7,971.8 1571.8,975.7 1573.8,979.6 1575.7,983.5 1577.6,987.4 1579.4,991.3 1581.1,995.2 1582.8,999.2 1584.3,1003.1 1585.7,1007.0 1586.8,1010.9 1586.8,1014.8 1585.2,1018.8 1583.3,1022.7 1581.2,1026.6 1579.0,1030.5 1576.6,1034.4 1574.1,1038.3 1571.5,1042.2 1568.8,1046.2 1566.1,1050.1 1563.2,1054.0" fill="none" stroke="#7e7e7e" stroke-width="1.2"/>
<ellipse cx="1573.0" cy="978" rx="1.5" ry="2.3" fill="#262626" opacity="0.85"/>
<ellipse cx="1581.5" cy="996" rx="1.2" ry="1.8" fill="#262626" opacity="0.5"/>
<ellipse cx="1587.2" cy="1013" rx="1.7" ry="2.5" fill="#262626" opacity="0.85"/>
<ellipse cx="1580.4" cy="1028" rx="1.4" ry="2.1" fill="#262626" opacity="0.8"/>
<ellipse cx="1571.7" cy="1042" rx="1.3" ry="2.0" fill="#262626" opacity="0.6"/>
<polygon points="1576.5,960.0 1582.7,971.2 1588.5,982.5 1601.7,982.5 1595.9,971.2 1589.8,960.0" fill="#cdcdcd"/>
<polygon points="1581.1,960.0 1587.3,971.2 1593.1,982.5 1596.4,982.5 1590.6,971.2 1584.5,960.0" fill="#f6f6f6" opacity="0.45"/>
<polygon points="1588.5,982.5 1592.7,991.5 1596.6,1000.5 1609.8,1000.5 1606.0,991.5 1601.7,982.5" fill="#e0e0e0"/>
<polygon points="1593.1,982.5 1597.4,991.5 1601.2,1000.5 1604.5,1000.5 1600.7,991.5 1596.4,982.5" fill="#f6f6f6" opacity="0.8"/>
<polygon points="1596.6,1000.5 1599.6,1009.0 1599.0,1017.5 1612.2,1017.5 1612.8,1009.0 1609.8,1000.5" fill="#cdcdcd"/>
<polygon points="1601.2,1000.5 1604.2,1009.0 1603.6,1017.5 1606.9,1017.5 1607.5,1009.0 1604.5,1000.5" fill="#f6f6f6" opacity="0.45"/>
<polygon points="1599.0,1017.5 1595.3,1025.0 1591.0,1032.5 1604.3,1032.5 1608.6,1025.0 1612.2,1017.5" fill="#e0e0e0"/>
<polygon points="1603.6,1017.5 1600.0,1025.0 1595.7,1032.5 1599.0,1032.5 1603.3,1025.0 1606.9,1017.5" fill="#f6f6f6" opacity="0.8"/>
<polygon points="1591.0,1032.5 1586.6,1039.5 1581.9,1046.5 1595.1,1046.5 1599.8,1039.5 1604.3,1032.5" fill="#cdcdcd"/>
<polygon points="1595.7,1032.5 1591.2,1039.5 1586.5,1046.5 1589.8,1046.5 1594.5,1039.5 1599.0,1032.5" fill="#f6f6f6" opacity="0.45"/>
<polygon points="1581.9,1046.5 1579.2,1050.2 1576.5,1054.0 1589.8,1054.0 1592.5,1050.2 1595.1,1046.5" fill="#e0e0e0"/>
<polygon points="1586.5,1046.5 1583.8,1050.2 1581.1,1054.0 1584.5,1054.0 1587.2,1050.2 1589.8,1046.5" fill="#f6f6f6" opacity="0.8"/>
<polyline points="1586.8,960.0 1589.0,963.9 1591.2,967.8 1593.3,971.8 1595.3,975.7 1597.4,979.6 1599.3,983.5 1601.2,987.4 1603.0,991.3 1604.7,995.2 1606.4,999.2 1607.9,1003.1 1609.3,1007.0 1610.4,1010.9 1610.3,1014.8 1608.8,1018.8 1606.9,1022.7 1604.8,1026.6 1602.6,1030.5 1600.2,1034.4 1597.7,1038.3 1595.1,1042.2 1592.4,1046.2 1589.7,1050.1 1586.8,1054.0" fill="none" stroke="#a4a4a4" stroke-width="0.8"/>
<polyline points="1579.2,960.0 1581.3,963.9 1583.5,967.8 1585.6,971.8 1587.7,975.7 1589.7,979.6 1591.6,983.5 1593.5,987.4 1595.3,991.3 1597.0,995.2 1598.7,999.2 1600.2,1003.1 1601.6,1007.0 1602.7,1010.9 1602.7,1014.8 1601.1,1018.8 1599.2,1022.7 1597.1,1026.6 1594.9,1030.5 1592.5,1034.4 1590.0,1038.3 1587.4,1042.2 1584.7,1046.2 1582.0,1050.1 1579.2,1054.0" fill="none" stroke="#bdbdbd" stroke-width="0.7"/>
<polyline points="1576.5,960.0 1578.7,963.9 1580.8,967.8 1583.0,971.8 1585.0,975.7 1587.0,979.6 1589.0,983.5 1590.8,987.4 1592.7,991.3 1594.4,995.2 1596.0,999.2 1597.5,1003.1 1598.9,1007.0 1600.1,1010.9 1600.0,1014.8 1598.4,1018.8 1596.6,1022.7 1594.5,1026.6 1592.2,1030.5 1589.8,1034.4 1587.4,1038.3 1584.8,1042.2 1582.1,1046.2 1579.3,1050.1 1576.5,1054.0" fill="none" stroke="#7e7e7e" stroke-width="1.2"/>
<ellipse cx="1586.2" cy="978" rx="1.5" ry="2.3" fill="#262626" opacity="0.85"/>
<ellipse cx="1594.7" cy="996" rx="1.2" ry="1.8" fill="#262626" opacity="0.5"/>
<ellipse cx="1600.5" cy="1013" rx="1.7" ry="2.5" fill="#262626" opacity="0.85"/>
<ellipse cx="1593.7" cy="1028" rx="1.4" ry="2.1" fill="#262626" opacity="0.8"/>
<ellipse cx="1584.9" cy="1042" rx="1.3" ry="2.0" fill="#262626" opacity="0.6"/>
<polygon points="1589.8,960.0 1593.5,966.8 1597.1,973.5 1610.4,973.5 1606.8,966.8 1603.0,960.0" fill="#e0e0e0"/>
<polygon points="1594.4,960.0 1598.1,966.8 1601.8,973.5 1605.1,973.5 1601.5,966.8 1597.7,960.0" fill="#f6f6f6" opacity="0.8"/>
<polygon points="1597.1,973.5 1601.7,982.5 1606.0,991.5 1619.2,991.5 1615.0,982.5 1610.4,973.5" fill="#cdcdcd"/>
<polygon points="1601.8,973.5 1606.4,982.5 1610.6,991.5 1613.9,991.5 1609.7,982.5 1605.1,973.5" fill="#f6f6f6" opacity="0.45"/>
<polygon points="1606.0,991.5 1609.6,1000.0 1612.7,1008.5 1625.9,1008.5 1622.9,1000.0 1619.2,991.5" fill="#e0e0e0"/>
<polygon points="1610.6,991.5 1614.2,1000.0 1617.3,1008.5 1620.6,1008.5 1617.6,1000.0 1613.9,991.5" fill="#f6f6f6" opacity="0.8"/>
<polygon points="1612.7,1008.5 1612.8,1016.0 1609.4,1023.5 1622.6,1023.5 1626.1,1016.0 1625.9,1008.5" fill="#cdcdcd"/>
<polygon points="1617.3,1008.5 1617.5,1016.0 1614.0,1023.5 1617.3,1023.5 1620.8,1016.0 1620.6,1008.5" fill="#f6f6f6" opacity="0.45"/>
<polygon points="1609.4,1023.5 1605.5,1030.5 1601.1,1037.5 1614.4,1037.5 1618.7,1030.5 1622.6,1023.5" fill="#e0e0e0"/>
<polygon points="1614.0,1023.5 1610.1,1030.5 1605.8,1037.5 1609.1,1037.5 1613.4,1030.5 1617.3,1023.5" fill="#f6f6f6" opacity="0.8"/>
<polygon points="1601.1,1037.5 1595.6,1045.8 1589.8,1054.0 1603.0,1054.0 1608.9,1045.8 1614.4,1037.5" fill="#cdcdcd"/>
<polygon points="1605.8,1037.5 1600.3,1045.8 1594.4,1054.0 1597.7,1054.0 1603.6,1045.8 1609.1,1037.5" fill="#f6f6f6" opacity="0.45"/>
<polyline points="1600.1,960.0 1602.3,963.9 1604.4,967.8 1606.5,971.8 1608.6,975.7 1610.6,979.6 1612.5,983.5 1614.4,987.4 1616.2,991.3 1618.0,995.2 1619.6,999.2 1621.1,1003.1 1622.5,1007.0 1623.7,1010.9 1623.6,1014.8 1622.0,1018.8 1620.1,1022.7 1618.1,1026.6 1615.8,1030.5 1613.4,1034.4 1610.9,1038.3 1608.3,1042.2 1605.7,1046.2 1602.9,1050.1 1600.1,1054.0" fill="none" stroke="#a4a4a4" stroke-width="0.8"/>
<polyline points="1592.4,960.0 1594.6,963.9 1596.7,967.8 1598.9,971.8 1600.9,975.7 1602.9,979.6 1604.9,983.5 1606.7,987.4 1608.6,991.3 1610.3,995.2 1611.9,999.2 1613.4,1003.1 1614.8,1007.0 1616.0,1010.9 1615.9,1014.8 1614.3,1018.8 1612.5,1022.7 1610.4,1026.6 1608.1,1030.5 1605.7,1034.4 1603.3,1038.3 1600.7,1042.2 1598.0,1046.2 1595.2,1050.1 1592.4,1054.0" fill="none" stroke="#bdbdbd" stroke-width="0.7"/>
<polyline points="1589.8,960.0 1591.9,963.9 1594.1,967.8 1596.2,971.8 1598.3,975.7 1600.3,979.6 1602.2,983.5 1604.1,987.4 1605.9,991.3 1607.6,995.2 1609.3,999.2 1610.8,1003.1 1612.2,1007.0 1613.3,1010.9 1613.3,1014.8 1611.7,1018.8 1609.8,1022.7 1607.7,1026.6 1605.5,1030.5 1603.1,1034.4 1600.6,1038.3 1598.0,1042.2 1595.3,1046.2 1592.6,1050.1 1589.8,1054.0" fill="none" stroke="#7e7e7e" stroke-width="1.2"/>
<ellipse cx="1599.5" cy="978" rx="1.5" ry="2.3" fill="#262626" opacity="0.85"/>
<ellipse cx="1608.0" cy="996" rx="1.2" ry="1.8" fill="#262626" opacity="0.5"/>
<ellipse cx="1613.8" cy="1013" rx="1.7" ry="2.5" fill="#262626" opacity="0.85"/>
<ellipse cx="1606.9" cy="1028" rx="1.4" ry="2.1" fill="#262626" opacity="0.8"/>
<ellipse cx="1598.2" cy="1042" rx="1.3" ry="2.0" fill="#262626" opacity="0.6"/>
<polygon points="1603.0,960.0 1607.6,968.2 1611.9,976.5 1625.2,976.5 1620.8,968.2 1616.2,960.0" fill="#cdcdcd"/>
<polygon points="1607.6,960.0 1612.2,968.2 1616.6,976.5 1619.9,976.5 1615.5,968.2 1611.0,960.0" fill="#f6f6f6" opacity="0.45"/>
<polygon points="1611.9,976.5 1616.4,985.5 1620.6,994.5 1633.8,994.5 1629.7,985.5 1625.2,976.5" fill="#e0e0e0"/>
<polygon points="1616.6,976.5 1621.1,985.5 1625.2,994.5 1628.5,994.5 1624.4,985.5 1619.9,976.5" fill="#f6f6f6" opacity="0.8"/>
<polygon points="1620.6,994.5 1624.0,1003.0 1626.7,1011.5 1640.0,1011.5 1637.3,1003.0 1633.8,994.5" fill="#cdcdcd"/>
<polygon points="1625.2,994.5 1628.7,1003.0 1631.4,1011.5 1634.7,1011.5 1632.0,1003.0 1628.5,994.5" fill="#f6f6f6" opacity="0.45"/>
<polygon points="1626.7,1011.5 1624.8,1019.0 1621.0,1026.5 1634.3,1026.5 1638.1,1019.0 1640.0,1011.5" fill="#e0e0e0"/>
<polygon points="1631.4,1011.5 1629.5,1019.0 1625.7,1026.5 1629.0,1026.5 1632.8,1019.0 1634.7,1011.5" fill="#f6f6f6" opacity="0.8"/>
<polygon points="1621.0,1026.5 1616.9,1033.5 1612.4,1040.5 1625.7,1040.5 1630.2,1033.5 1634.3,1026.5" fill="#cdcdcd"/>
<polygon points="1625.7,1026.5 1621.5,1033.5 1617.1,1040.5 1620.4,1040.5 1624.9,1033.5 1629.0,1026.5" fill="#f6f6f6" opacity="0.45"/>
<polygon points="1612.4,1040.5 1607.8,1047.2 1603.0,1054.0 1616.2,1054.0 1621.1,1047.2 1625.7,1040.5" fill="#e0e0e0"/>
<polygon points="1617.1,1040.5 1612.5,1047.2 1607.6,1054.0 1611.0,1054.0 1615.8,1047.2 1620.4,1040.5" fill="#f6f6f6" opacity="0.8"/>
<polyline points="1613.3,960.0 1615.5,963.9 1617.7,967.8 1619.8,971.8 1621.8,975.7 1623.9,979.6 1625.8,983.5 1627.7,987.4 1629.5,991.3 1631.2,995.2 1632.9,999.2 1634.4,1003.1 1635.8,1007.0 1636.9,1010.9 1636.8,1014.8 1635.3,1018.8 1633.4,1022.7 1631.3,1026.6 1629.1,1030.5 1626.7,1034.4 1624.2,1038.3 1621.6,1042.2 1618.9,1046.2 1616.2,1050.1 1613.3,1054.0" fill="none" stroke="#a4a4a4" stroke-width="0.8"/>
<polyline points="1605.7,960.0 1607.8,963.9 1610.0,967.8 1612.1,971.8 1614.2,975.7 1616.2,979.6 1618.1,983.5 1620.0,987.4 1621.8,991.3 1623.5,995.2 1625.2,999.2 1626.7,1003.1 1628.1,1007.0 1629.2,1010.9 1629.2,1014.8 1627.6,1018.8 1625.7,1022.7 1623.6,1026.6 1621.4,1030.5 1619.0,1034.4 1616.5,1038.3 1613.9,1042.2 1611.2,1046.2 1608.5,1050.1 1605.7,1054.0" fill="none" stroke="#bdbdbd" stroke-width="0.7"/>
<polyline points="1603.0,960.0 1605.2,963.9 1607.3,967.8 1609.5,971.8 1611.5,975.7 1613.5,979.6 1615.5,983.5 1617.3,987.4 1619.2,991.3 1620.9,995.2 1622.5,999.2 1624.0,1003.1 1625.4,1007.0 1626.6,1010.9 1626.5,1014.8 1624.9,1018.8 1623.1,1022.7 1621.0,1026.6 1618.7,1030.5 1616.3,1034.4 1613.9,1038.3 1611.3,1042.2 1608.6,1046.2 1605.8,1050.1 1603.0,1054.0" fill="none" stroke="#7e7e7e" stroke-width="1.2"/>
<ellipse cx="1612.7" cy="978" rx="1.5" ry="2.3" fill="#262626" opacity="0.85"/>
<ellipse cx="1621.2" cy="996" rx="1.2" ry="1.8" fill="#262626" opacity="0.5"/>
<ellipse cx="1627.0" cy="1013" rx="1.7" ry="2.5" fill="#262626" opacity="0.85"/>
<ellipse cx="1620.2" cy="1028" rx="1.4" ry="2.1" fill="#262626" opacity="0.8"/>
<ellipse cx="1611.4" cy="1042" rx="1.3" ry="2.0" fill="#262626" opacity="0.6"/>
<polygon points="1616.2,960.0 1621.6,969.8 1626.7,979.5 1640.0,979.5 1634.9,969.8 1629.5,960.0" fill="#e0e0e0"/>
<polygon points="1620.9,960.0 1626.3,969.8 1631.4,979.5 1634.7,979.5 1629.6,969.8 1624.2,960.0" fill="#f6f6f6" opacity="0.8"/>
<polygon points="1626.7,979.5 1631.1,988.5 1635.1,997.5 1648.3,997.5 1644.4,988.5 1640.0,979.5" fill="#cdcdcd"/>
<polygon points="1631.4,979.5 1635.7,988.5 1639.7,997.5 1643.0,997.5 1639.1,988.5 1634.7,979.5" fill="#f6f6f6" opacity="0.45"/>
<polygon points="1635.1,997.5 1638.3,1006.0 1639.9,1014.5 1653.1,1014.5 1651.6,1006.0 1648.3,997.5" fill="#e0e0e0"/>
<polygon points="1639.7,997.5 1643.0,1006.0 1644.5,1014.5 1647.8,1014.5 1646.3,1006.0 1643.0,997.5" fill="#f6f6f6" opacity="0.8"/>
<polygon points="1639.9,1014.5 1636.6,1022.0 1632.6,1029.5 1645.8,1029.5 1649.9,1022.0 1653.1,1014.5" fill="#cdcdcd"/>
<polygon points="1644.5,1014.5 1641.3,1022.0 1637.2,1029.5 1640.5,1029.5 1644.6,1022.0 1647.8,1014.5" fill="#f6f6f6" opacity="0.45"/>
<polygon points="1632.6,1029.5 1628.3,1036.5 1623.7,1043.5 1636.9,1043.5 1641.5,1036.5 1645.8,1029.5" fill="#e0e0e0"/>
<polygon points="1637.2,1029.5 1632.9,1036.5 1628.3,1043.5 1631.6,1043.5 1636.2,1036.5 1640.5,1029.5" fill="#f6f6f6" opacity="0.8"/>
<polygon points="1623.7,1043.5 1620.0,1048.8 1616.2,1054.0 1629.5,1054.0 1633.3,1048.8 1636.9,1043.5" fill="#cdcdcd"/>
<polygon points="1628.3,1043.5 1624.7,1048.8 1620.9,1054.0 1624.2,1054.0 1628.0,1048.8 1631.6,1043.5" fill="#f6f6f6" opacity="0.45"/>
<polyline points="1626.6,960.0 1628.8,963.9 1630.9,967.8 1633.0,971.8 1635.1,975.7 1637.1,979.6 1639.0,983.5 1640.9,987.4 1642.7,991.3 1644.5,995.2 1646.1,999.2 1647.6,1003.1 1649.0,1007.0 1650.2,1010.9 1650.1,1014.8 1648.5,1018.8 1646.6,1022.7 1644.6,1026.6 1642.3,1030.5 1639.9,1034.4 1637.4,1038.3 1634.8,1042.2 1632.2,1046.2 1629.4,1050.1 1626.6,1054.0" fill="none" stroke="#a4a4a4" stroke-width="0.8"/>
<polyline points="1618.9,960.0 1621.1,963.9 1623.2,967.8 1625.4,971.8 1627.4,975.7 1629.4,979.6 1631.4,983.5 1633.2,987.4 1635.1,991.3 1636.8,995.2 1638.4,999.2 1639.9,1003.1 1641.3,1007.0 1642.5,1010.9 1642.4,1014.8 1640.8,1018.8 1639.0,1022.7 1636.9,1026.6 1634.6,1030.5 1632.2,1034.4 1629.8,1038.3 1627.2,1042.2 1624.5,1046.2 1621.7,1050.1 1618.9,1054.0" fill="none" stroke="#bdbdbd" stroke-width="0.7"/>
<polyline points="1616.2,960.0 1618.4,963.9 1620.6,967.8 1622.7,971.8 1624.8,975.7 1626.8,979.6 1628.7,983.5 1630.6,987.4 1632.4,991.3 1634.1,995.2 1635.8,999.2 1637.3,1003.1 1638.7,1007.0 1639.8,1010.9 1639.8,1014.8 1638.2,1018.8 1636.3,1022.7 1634.2,1026.6 1632.0,1030.5 1629.6,1034.4 1627.1,1038.3 1624.5,1042.2 1621.8,1046.2 1619.1,1050.1 1616.2,1054.0" fill="none" stroke="#7e7e7e" stroke-width="1.2"/>
<ellipse cx="1626.0" cy="978" rx="1.5" ry="2.3" fill="#262626" opacity="0.85"/>
<ellipse cx="1634.5" cy="996" rx="1.2" ry="1.8" fill="#262626" opacity="0.5"/>
<ellipse cx="1640.2" cy="1013" rx="1.7" ry="2.5" fill="#262626" opacity="0.85"/>
<ellipse cx="1633.4" cy="1028" rx="1.4" ry="2.1" fill="#262626" opacity="0.8"/>
<ellipse cx="1624.7" cy="1042" rx="1.3" ry="2.0" fill="#262626" opacity="0.6"/>
<polygon points="1629.5,960.0 1635.7,971.2 1641.5,982.5 1654.7,982.5 1648.9,971.2 1642.8,960.0" fill="#cdcdcd"/>
<polygon points="1634.1,960.0 1640.3,971.2 1646.1,982.5 1649.4,982.5 1643.6,971.2 1637.5,960.0" fill="#f6f6f6" opacity="0.45"/>
<polygon points="1641.5,982.5 1645.7,991.5 1649.6,1000.5 1662.8,1000.5 1659.0,991.5 1654.7,982.5" fill="#e0e0e0"/>
<polygon points="1646.1,982.5 1650.4,991.5 1654.2,1000.5 1657.5,1000.5 1653.7,991.5 1649.4,982.5" fill="#f6f6f6" opacity="0.8"/>
<polygon points="1649.6,1000.5 1652.6,1009.0 1652.0,1017.5 1665.2,1017.5 1665.8,1009.0 1662.8,1000.5" fill="#cdcdcd"/>
<polygon points="1654.2,1000.5 1657.2,1009.0 1656.6,1017.5 1659.9,1017.5 1660.5,1009.0 1657.5,1000.5" fill="#f6f6f6" opacity="0.45"/>
<polygon points="1652.0,1017.5 1648.3,1025.0 1644.0,1032.5 1657.3,1032.5 1661.6,1025.0 1665.2,1017.5" fill="#e0e0e0"/>
<polygon points="1656.6,1017.5 1653.0,1025.0 1648.7,1032.5 1652.0,1032.5 1656.3,1025.0 1659.9,1017.5" fill="#f6f6f6" opacity="0.8"/>
<polygon points="1644.0,1032.5 1639.6,1039.5 1634.9,1046.5 1648.1,1046.5 1652.8,1039.5 1657.3,1032.5" fill="#cdcdcd"/>
<polygon points="1648.7,1032.5 1644.2,1039.5 1639.5,1046.5 1642.8,1046.5 1647.5,1039.5 1652.0,1032.5" fill="#f6f6f6" opacity="0.45"/>
<polygon points="1634.9,1046.5 1632.2,1050.2 1629.5,1054.0 1642.8,1054.0 1645.5,1050.2 1648.1,1046.5" fill="#e0e0e0"/>
<polygon points="1639.5,1046.5 1636.8,1050.2 1634.1,1054.0 1637.5,1054.0 1640.2,1050.2 1642.8,1046.5" fill="#f6f6f6" opacity="0.8"/>
<polyline points="1639.8,960.0 1642.0,963.9 1644.2,967.8 1646.3,971.8 1648.3,975.7 1650.4,979.6 1652.3,983.5 1654.2,987.4 1656.0,991.3 1657.7,995.2 1659.4,999.2 1660.9,1003.1 1662.3,1007.0 1663.4,1010.9 1663.3,1014.8 1661.8,1018.8 1659.9,1022.7 1657.8,1026.6 1655.6,1030.5 1653.2,1034.4 1650.7,1038.3 1648.1,1042.2 1645.4,1046.2 1642.7,1050.1 1639.8,1054.0" fill="none" stroke="#a4a4a4" stroke-width="0.8"/>
<polyline points="1632.2,960.0 1634.3,963.9 1636.5,967.8 1638.6,971.8 1640.7,975.7 1642.7,979.6 1644.6,983.5 1646.5,987.4 1648.3,991.3 1650.0,995.2 1651.7,999.2 1653.2,1003.1 1654.6,1007.0 1655.7,1010.9 1655.7,1014.8 1654.1,1018.8 1652.2,1022.7 1650.1,1026.6 1647.9,1030.5 1645.5,1034.4 1643.0,1038.3 1640.4,1042.2 1637.7,1046.2 1635.0,1050.1 1632.2,1054.0" fill="none" stroke="#bdbdbd" stroke-width="0.7"/>
<polyline points="1629.5,960.0 1631.7,963.9 1633.8,967.8 1636.0,971.8 1638.0,975.7 1640.0,979.6 1642.0,983.5 1643.8,987.4 1645.7,991.3 1647.4,995.2 1649.0,999.2 1650.5,1003.1 1651.9,1007.0 1653.1,1010.9 1653.0,1014.8 1651.4,1018.8 1649.6,1022.7 1647.5,1026.6 1645.2,1030.5 1642.8,1034.4 1640.4,1038.3 1637.8,1042.2 1635.1,1046.2 1632.3,1050.1 1629.5,1054.0" fill="none" stroke="#7e7e7e" stroke-width="1.2"/>
<ellipse cx="1639.2" cy="978" rx="1.5" ry="2.3" fill="#262626" opacity="0.85"/>
<ellipse cx="1647.7" cy="996" rx="1.2" ry="1.8" fill="#262626" opacity="0.5"/>
<ellipse cx="1653.5" cy="1013" rx="1.7" ry="2.5" fill="#262626" opacity="0.85"/>
<ellipse cx="1646.7" cy="1028" rx="1.4" ry="2.1" fill="#262626" opacity="0.8"/>
<ellipse cx="1637.9" cy="1042" rx="1.3" ry="2.0" fill="#262626" opacity="0.6"/>
<polygon points="1642.8,960.0 1646.5,966.8 1650.1,973.5 1663.4,973.5 1659.8,966.8 1656.0,960.0" fill="#e0e0e0"/>
<polygon points="1647.4,960.0 1651.1,966.8 1654.8,973.5 1658.1,973.5 1654.5,966.8 1650.7,960.0" fill="#f6f6f6" opacity="0.8"/>
<polygon points="1650.1,973.5 1654.7,982.5 1659.0,991.5 1672.2,991.5 1668.0,982.5 1663.4,973.5" fill="#cdcdcd"/>
<polygon points="1654.8,973.5 1659.4,982.5 1663.6,991.5 1666.9,991.5 1662.7,982.5 1658.1,973.5" fill="#f6f6f6" opacity="0.45"/>
<polygon points="1659.0,991.5 1662.6,1000.0 1665.7,1008.5 1678.9,1008.5 1675.9,1000.0 1672.2,991.5" fill="#e0e0e0"/>
<polygon points="1663.6,991.5 1667.2,1000.0 1670.3,1008.5 1673.6,1008.5 1670.6,1000.0 1666.9,991.5" fill="#f6f6f6" opacity="0.8"/>
<polygon points="1665.7,1008.5 1665.8,1016.0 1662.4,1023.5 1675.6,1023.5 1679.1,1016.0 1678.9,1008.5" fill="#cdcdcd"/>
<polygon points="1670.3,1008.5 1670.5,1016.0 1667.0,1023.5 1670.3,1023.5 1673.8,1016.0 1673.6,1008.5" fill="#f6f6f6" opacity="0.45"/>
<polygon points="1662.4,1023.5 1658.5,1030.5 1654.1,1037.5 1667.4,1037.5 1671.7,1030.5 1675.6,1023.5" fill="#e0e0e0"/>
<polygon points="1667.0,1023.5 1663.1,1030.5 1658.8,1037.5 1662.1,1037.5 1666.4,1030.5 1670.3,1023.5" fill="#f6f6f6" opacity="0.8"/>
<polygon points="1654.1,1037.5 1648.6,1045.8 1642.8,1054.0 1656.0,1054.0 1661.9,1045.8 1667.4,1037.5" fill="#cdcdcd"/>
<polygon points="1658.8,1037.5 1653.3,1045.8 1647.4,1054.0 1650.7,1054.0 1656.6,1045.8 1662.1,1037.5" fill="#f6f6f6" opacity="0.45"/>
<polyline points="1653.1,960.0 1655.3,963.9 1657.4,967.8 1659.5,971.8 1661.6,975.7 1663.6,979.6 1665.5,983.5 1667.4,987.4 1669.2,991.3 1671.0,995.2 1672.6,999.2 1674.1,1003.1 1675.5,1007.0 1676.7,1010.9 1676.6,1014.8 1675.0,1018.8 1673.1,1022.7 1671.1,1026.6 1668.8,1030.5 1666.4,1034.4 1663.9,1038.3 1661.3,1042.2 1658.7,1046.2 1655.9,1050.1 1653.1,1054.0" fill="none" stroke="#a4a4a4" stroke-width="0.8"/>
<polyline points="1645.4,960.0 1647.6,963.9 1649.7,967.8 1651.9,971.8 1653.9,975.7 1655.9,979.6 1657.9,983.5 1659.7,987.4 1661.6,991.3 1663.3,995.2 1664.9,999.2 1666.4,1003.1 1667.8,1007.0 1669.0,1010.9 1668.9,1014.8 1667.3,1018.8 1665.5,1022.7 1663.4,1026.6 1661.1,1030.5 1658.7,1034.4 1656.3,1038.3 1653.7,1042.2 1651.0,1046.2 1648.2,1050.1 1645.4,1054.0" fill="none" stroke="#bdbdbd" stroke-width="0.7"/>
<polyline points="1642.8,960.0 1644.9,963.9 1647.1,967.8 1649.2,971.8 1651.3,975.7 1653.3,979.6 1655.2,983.5 1657.1,987.4 1658.9,991.3 1660.6,995.2 1662.3,999.2 1663.8,1003.1 1665.2,1007.0 1666.3,1010.9 1666.3,1014.8 1664.7,1018.8 1662.8,1022.7 1660.7,1026.6 1658.5,1030.5 1656.1,1034.4 1653.6,1038.3 1651.0,1042.2 1648.3,1046.2 1645.6,1050.1 1642.8,1054.0" fill="none" stroke="#7e7e7e" stroke-width="1.2"/>
<ellipse cx="1652.5" cy="978" rx="1.5" ry="2.3" fill="#262626" opacity="0.85"/>
<ellipse cx="1661.0" cy="996" rx="1.2" ry="1.8" fill="#262626" opacity="0.5"/>
<ellipse cx="1666.8" cy="1013" rx="1.7" ry="2.5" fill="#262626" opacity="0.85"/>
<ellipse cx="1659.9" cy="1028" rx="1.4" ry="2.1" fill="#262626" opacity="0.8"/>
<ellipse cx="1651.2" cy="1042" rx="1.3" ry="2.0" fill="#262626" opacity="0.6"/>
<polygon points="1656.0,960.0 1660.6,968.2 1664.9,976.5 1678.2,976.5 1673.8,968.2 1669.2,960.0" fill="#cdcdcd"/>
<polygon points="1660.6,960.0 1665.2,968.2 1669.6,976.5 1672.9,976.5 1668.5,968.2 1664.0,960.0" fill="#f6f6f6" opacity="0.45"/>
<polygon points="1664.9,976.5 1669.4,985.5 1673.6,994.5 1686.8,994.5 1682.7,985.5 1678.2,976.5" fill="#e0e0e0"/>
<polygon points="1669.6,976.5 1674.1,985.5 1678.2,994.5 1681.5,994.5 1677.4,985.5 1672.9,976.5" fill="#f6f6f6" opacity="0.8"/>
<polygon points="1673.6,994.5 1677.0,1003.0 1679.7,1011.5 1693.0,1011.5 1690.3,1003.0 1686.8,994.5" fill="#cdcdcd"/>
<polygon points="1678.2,994.5 1681.7,1003.0 1684.4,1011.5 1687.7,1011.5 1685.0,1003.0 1681.5,994.5" fill="#f6f6f6" opacity="0.45"/>
<polygon points="1679.7,1011.5 1677.8,1019.0 1674.0,1026.5 1687.3,1026.5 1691.1,1019.0 1693.0,1011.5" fill="#e0e0e0"/>
<polygon points="1684.4,1011.5 1682.5,1019.0 1678.7,1026.5 1682.0,1026.5 1685.8,1019.0 1687.7,1011.5" fill="#f6f6f6" opacity="0.8"/>
<polygon points="1674.0,1026.5 1669.9,1033.5 1665.4,1040.5 1678.7,1040.5 1683.2,1033.5 1687.3,1026.5" fill="#cdcdcd"/>
<polygon points="1678.7,1026.5 1674.5,1033.5 1670.1,1040.5 1673.4,1040.5 1677.9,1033.5 1682.0,1026.5" fill="#f6f6f6" opacity="0.45"/>
<polygon points="1665.4,1040.5 1660.8,1047.2 1656.0,1054.0 1669.2,1054.0 1674.1,1047.2 1678.7,1040.5" fill="#e0e0e0"/>
<polygon points="1670.1,1040.5 1665.5,1047.2 1660.6,1054.0 1664.0,1054.0 1668.8,1047.2 1673.4,1040.5" fill="#f6f6f6" opacity="0.8"/>
<polyline points="1666.3,960.0 1668.5,963.9 1670.7,967.8 1672.8,971.8 1674.8,975.7 1676.9,979.6 1678.8,983.5 1680.7,987.4 1682.5,991.3 1684.2,995.2 1685.9,999.2 1687.4,1003.1 1688.8,1007.0 1689.9,1010.9 1689.8,1014.8 1688.3,1018.8 1686.4,1022.7 1684.3,1026.6 1682.1,1030.5 1679.7,1034.4 1677.2,1038.3 1674.6,1042.2 1671.9,1046.2 1669.2,1050.1 1666.3,1054.0" fill="none" stroke="#a4a4a4" stroke-width="0.8"/>
<polyline points="1658.7,960.0 1660.8,963.9 1663.0,967.8 1665.1,971.8 1667.2,975.7 1669.2,979.6 1671.1,983.5 1673.0,987.4 1674.8,991.3 1676.5,995.2 1678.2,999.2 1679.7,1003.1 1681.1,1007.0 1682.2,1010.9 1682.2,1014.8 1680.6,1018.8 1678.7,1022.7 1676.6,1026.6 1674.4,1030.5 1672.0,1034.4 1669.5,1038.3 1666.9,1042.2 1664.2,1046.2 1661.5,1050.1 1658.7,1054.0" fill="none" stroke="#bdbdbd" stroke-width="0.7"/>
<polyline points="1656.0,960.0 1658.2,963.9 1660.3,967.8 1662.5,971.8 1664.5,975.7 1666.5,979.6 1668.5,983.5 1670.3,987.4 1672.2,991.3 1673.9,995.2 1675.5,999.2 1677.0,1003.1 1678.4,1007.0 1679.6,1010.9 1679.5,1014.8 1677.9,1018.8 1676.1,1022.7 1674.0,1026.6 1671.7,1030.5 1669.3,1034.4 1666.9,1038.3 1664.3,1042.2 1661.6,1046.2 1658.8,1050.1 1656.0,1054.0" fill="none" stroke="#7e7e7e" stroke-width="1.2"/>
<ellipse cx="1665.7" cy="978" rx="1.5" ry="2.3" fill="#262626" opacity="0.85"/>
<ellipse cx="1674.2" cy="996" rx="1.2" ry="1.8" fill="#262626" opacity="0.5"/>
<ellipse cx="1680.0" cy="1013" rx="1.7" ry="2.5" fill="#262626" opacity="0.85"/>
<ellipse cx="1673.2" cy="1028" rx="1.4" ry="2.1" fill="#262626" opacity="0.8"/>
<ellipse cx="1664.4" cy="1042" rx="1.3" ry="2.0" fill="#262626" opacity="0.6"/>
<polygon points="1669.2,960.0 1674.6,969.8 1679.7,979.5 1693.0,979.5 1687.9,969.8 1682.5,960.0" fill="#e0e0e0"/>
<polygon points="1673.9,960.0 1679.3,969.8 1684.4,979.5 1687.7,979.5 1682.6,969.8 1677.2,960.0" fill="#f6f6f6" opacity="0.8"/>
<polygon points="1679.7,979.5 1684.1,988.5 1688.1,997.5 1701.3,997.5 1697.4,988.5 1693.0,979.5" fill="#cdcdcd"/>
<polygon points="1684.4,979.5 1688.7,988.5 1692.7,997.5 1696.0,997.5 1692.1,988.5 1687.7,979.5" fill="#f6f6f6" opacity="0.45"/>
<polygon points="1688.1,997.5 1691.3,1006.0 1692.9,1014.5 1706.1,1014.5 1704.6,1006.0 1701.3,997.5" fill="#e0e0e0"/>
<polygon points="1692.7,997.5 1696.0,1006.0 1697.5,1014.5 1700.8,1014.5 1699.3,1006.0 1696.0,997.5" fill="#f6f6f6" opacity="0.8"/>
<polygon points="1692.9,1014.5 1689.6,1022.0 1685.6,1029.5 1698.8,1029.5 1702.9,1022.0 1706.1,1014.5" fill="#cdcdcd"/>
<polygon points="1697.5,1014.5 1694.3,1022.0 1690.2,1029.5 1693.5,1029.5 1697.6,1022.0 1700.8,1014.5" fill="#f6f6f6" opacity="0.45"/>
<polygon points="1685.6,1029.5 1681.3,1036.5 1676.7,1043.5 1689.9,1043.5 1694.5,1036.5 1698.8,1029.5" fill="#e0e0e0"/>
<polygon points="1690.2,1029.5 1685.9,1036.5 1681.3,1043.5 1684.6,1043.5 1689.2,1036.5 1693.5,1029.5" fill="#f6f6f6" opacity="0.8"/>
<polygon points="1676.7,1043.5 1673.0,1048.8 1669.2,1054.0 1682.5,1054.0 1686.3,1048.8 1689.9,1043.5" fill="#cdcdcd"/>
<polygon points="1681.3,1043.5 1677.7,1048.8 1673.9,1054.0 1677.2,1054.0 1681.0,1048.8 1684.6,1043.5" fill="#f6f6f6" opacity="0.45"/>
<polyline points="1679.6,960.0 1681.8,963.9 1683.9,967.8 1686.0,971.8 1688.1,975.7 1690.1,979.6 1692.0,983.5 1693.9,987.4 1695.7,991.3 1697.5,995.2 1699.1,999.2 1700.6,1003.1 1702.0,1007.0 1703.2,1010.9 1703.1,1014.8 1701.5,1018.8 1699.6,1022.7 1697.6,1026.6 1695.3,1030.5 1692.9,1034.4 1690.4,1038.3 1687.8,1042.2 1685.2,1046.2 1682.4,1050.1 1679.6,1054.0" fill="none" stroke="#a4a4a4" stroke-width="0.8"/>
<polyline points="1671.9,960.0 1674.1,963.9 1676.2,967.8 1678.4,971.8 1680.4,975.7 1682.4,979.6 1684.4,983.5 1686.2,987.4 1688.1,991.3 1689.8,995.2 1691.4,999.2 1692.9,1003.1 1694.3,1007.0 1695.5,1010.9 1695.4,1014.8 1693.8,1018.8 1692.0,1022.7 1689.9,1026.6 1687.6,1030.5 1685.2,1034.4 1682.8,1038.3 1680.2,1042.2 1677.5,1046.2 1674.7,1050.1 1671.9,1054.0" fill="none" stroke="#bdbdbd" stroke-width="0.7"/>
<polyline points="1669.2,960.0 1671.4,963.9 1673.6,967.8 1675.7,971.8 1677.8,975.7 1679.8,979.6 1681.7,983.5 1683.6,987.4 1685.4,991.3 1687.1,995.2 1688.8,999.2 1690.3,1003.1 1691.7,1007.0 1692.8,1010.9 1692.8,1014.8 1691.2,1018.8 1689.3,1022.7 1687.2,1026.6 1685.0,1030.5 1682.6,1034.4 1680.1,1038.3 1677.5,1042.2 1674.8,1046.2 1672.1,1050.1 1669.2,1054.0" fill="none" stroke="#7e7e7e" stroke-width="1.2"/>
<ellipse cx="1679.0" cy="978" rx="1.5" ry="2.3" fill="#262626" opacity="0.85"/>
<ellipse cx="1687.5" cy="996" rx="1.2" ry="1.8" fill="#262626" opacity="0.5"/>
<ellipse cx="1693.2" cy="1013" rx="1.7" ry="2.5" fill="#262626" opacity="0.85"/>
<ellipse cx="1686.4" cy="1028" rx="1.4" ry="2.1" fill="#262626" opacity="0.8"/>
<ellipse cx="1677.7" cy="1042" rx="1.3" ry="2.0" fill="#262626" opacity="0.6"/>
<polygon points="1682.5,960.0 1688.7,971.2 1694.5,982.5 1707.7,982.5 1701.9,971.2 1695.8,960.0" fill="#cdcdcd"/>
<polygon points="1687.1,960.0 1693.3,971.2 1699.1,982.5 1702.4,982.5 1696.6,971.2 1690.5,960.0" fill="#f6f6f6" opacity="0.45"/>
<polygon points="1694.5,982.5 1698.7,991.5 1702.6,1000.5 1715.8,1000.5 1712.0,991.5 1707.7,982.5" fill="#e0e0e0"/>
<polygon points="1699.1,982.5 1703.4,991.5 1707.2,1000.5 1710.5,1000.5 1706.7,991.5 1702.4,982.5" fill="#f6f6f6" opacity="0.8"/>
<polygon points="1702.6,1000.5 1705.6,1009.0 1705.0,1017.5 1718.2,1017.5 1718.8,1009.0 1715.8,1000.5" fill="#cdcdcd"/>
<polygon points="1707.2,1000.5 1710.2,1009.0 1709.6,1017.5 1712.9,1017.5 1713.5,1009.0 1710.5,1000.5" fill="#f6f6f6" opacity="0.45"/>
<polygon points="1705.0,1017.5 1701.3,1025.0 1697.0,1032.5 1710.3,1032.5 1714.6,1025.0 1718.2,1017.5" fill="#e0e0e0"/>
<polygon points="1709.6,1017.5 1706.0,1025.0 1701.7,1032.5 1705.0,1032.5 1709.3,1025.0 1712.9,1017.5" fill="#f6f6f6" opacity="0.8"/>
<polygon points="1697.0,1032.5 1692.6,1039.5 1687.9,1046.5 1701.1,1046.5 1705.8,1039.5 1710.3,1032.5" fill="#cdcdcd"/>
<polygon points="1701.7,1032.5 1697.2,1039.5 1692.5,1046.5 1695.8,1046.5 1700.5,1039.5 1705.0,1032.5" fill="#f6f6f6" opacity="0.45"/>
<polygon points="1687.9,1046.5 1685.2,1050.2 1682.5,1054.0 1695.8,1054.0 1698.5,1050.2 1701.1,1046.5" fill="#e0e0e0"/>
<polygon points="1692.5,1046.5 1689.8,1050.2 1687.1,1054.0 1690.5,1054.0 1693.2,1050.2 1695.8,1046.5" fill="#f6f6f6" opacity="0.8"/>
<polyline points="1692.8,960.0 1695.0,963.9 1697.2,967.8 1699.3,971.8 1701.3,975.7 1703.4,979.6 1705.3,983.5 1707.2,987.4 1709.0,991.3 1710.7,995.2 1712.4,999.2 1713.9,1003.1 1715.3,1007.0 1716.4,1010.9 1716.3,1014.8 1714.8,1018.8 1712.9,1022.7 1710.8,1026.6 1708.6,1030.5 1706.2,1034.4 1703.7,1038.3 1701.1,1042.2 1698.4,1046.2 1695.7,1050.1 1692.8,1054.0" fill="none" stroke="#a4a4a4" stroke-width="0.8"/>
<polyline points="1685.2,960.0 1687.3,963.9 1689.5,967.8 1691.6,971.8 1693.7,975.7 1695.7,979.6 1697.6,983.5 1699.5,987.4 1701.3,991.3 1703.0,995.2 1704.7,999.2 1706.2,1003.1 1707.6,1007.0 1708.7,1010.9 1708.7,1014.8 1707.1,1018.8 1705.2,1022.7 1703.1,1026.6 1700.9,1030.5 1698.5,1034.4 1696.0,1038.3 1693.4,1042.2 1690.7,1046.2 1688.0,1050.1 1685.2,1054.0" fill="none" stroke="#bdbdbd" stroke-width="0.7"/>
<polyline points="1682.5,960.0 1684.7,963.9 1686.8,967.8 1689.0,971.8 1691.0,975.7 1693.0,979.6 1695.0,983.5 1696.8,987.4 1698.7,991.3 1700.4,995.2 1702.0,999.2 1703.5,1003.1 1704.9,1007.0 1706.1,1010.9 1706.0,1014.8 1704.4,1018.8 1702.6,1022.7 1700.5,1026.6 1698.2,1030.5 1695.8,1034.4 1693.4,1038.3 1690.8,1042.2 1688.1,1046.2 1685.3,1050.1 1682.5,1054.0" fill="none" stroke="#7e7e7e" stroke-width="1.2"/>
<ellipse cx="1692.2" cy="978" rx="1.5" ry="2.3" fill="#262626" opacity="0.85"/>
<ellipse cx="1700.7" cy="996" rx="1.2" ry="1.8" fill="#262626" opacity="0.5"/>
<ellipse cx="1706.5" cy="1013" rx="1.7" ry="2.5" fill="#262626" opacity="0.85"/>
<ellipse cx="1699.7" cy="1028" rx="1.4" ry="2.1" fill="#262626" opacity="0.8"/>
<ellipse cx="1690.9" cy="1042" rx="1.3" ry="2.0" fill="#262626" opacity="0.6"/>
<polygon points="1695.8,960.0 1699.5,966.8 1703.1,973.5 1716.4,973.5 1712.8,966.8 1709.0,960.0" fill="#e0e0e0"/>
<polygon points="1700.4,960.0 1704.1,966.8 1707.8,973.5 1711.1,973.5 1707.5,966.8 1703.7,960.0" fill="#f6f6f6" opacity="0.8"/>
<polygon points="1703.1,973.5 1707.7,982.5 1712.0,991.5 1725.2,991.5 1721.0,982.5 1716.4,973.5" fill="#cdcdcd"/>
<polygon points="1707.8,973.5 1712.4,982.5 1716.6,991.5 1719.9,991.5 1715.7,982.5 1711.1,973.5" fill="#f6f6f6" opacity="0.45"/>
<polygon points="1712.0,991.5 1715.6,1000.0 1718.7,1008.5 1731.9,1008.5 1728.9,1000.0 1725.2,991.5" fill="#e0e0e0"/>
<polygon points="1716.6,991.5 1720.2,1000.0 1723.3,1008.5 1726.6,1008.5 1723.6,1000.0 1719.9,991.5" fill="#f6f6f6" opacity="0.8"/>
<polygon points="1718.7,1008.5 1718.8,1016.0 1715.4,1023.5 1728.6,1023.5 1732.1,1016.0 1731.9,1008.5" fill="#cdcdcd"/>
<polygon points="1723.3,1008.5 1723.5,1016.0 1720.0,1023.5 1723.3,1023.5 1726.8,1016.0 1726.6,1008.5" fill="#f6f6f6" opacity="0.45"/>
<polygon points="1715.4,1023.5 1711.5,1030.5 1707.1,1037.5 1720.4,1037.5 1724.7,1030.5 1728.6,1023.5" fill="#e0e0e0"/>
<polygon points="1720.0,1023.5 1716.1,1030.5 1711.8,1037.5 1715.1,1037.5 1719.4,1030.5 1723.3,1023.5" fill="#f6f6f6" opacity="0.8"/>
<polygon points="1707.1,1037.5 1701.6,1045.8 1695.8,1054.0 1709.0,1054.0 1714.9,1045.8 1720.4,1037.5" fill="#cdcdcd"/>
<polygon points="1711.8,1037.5 1706.3,1045.8 1700.4,1054.0 1703.7,1054.0 1709.6,1045.8 1715.1,1037.5" fill="#f6f6f6" opacity="0.45"/>
<polyline points="1706.1,960.0 1708.3,963.9 1710.4,967.8 1712.5,971.8 1714.6,975.7 1716.6,979.6 1718.5,983.5 1720.4,987.4 1722.2,991.3 1724.0,995.2 1725.6,999.2 1727.1,1003.1 1728.5,1007.0 1729.7,1010.9 1729.6,1014.8 1728.0,1018.8 1726.1,1022.7 1724.1,1026.6 1721.8,1030.5 1719.4,1034.4 1716.9,1038.3 1714.3,1042.2 1711.7,1046.2 1708.9,1050.1 1706.1,1054.0" fill="none" stroke="#a4a4a4" stroke-width="0.8"/>
<polyline points="1698.4,960.0 1700.6,963.9 1702.7,967.8 1704.9,971.8 1706.9,975.7 1708.9,979.6 1710.9,983.5 1712.7,987.4 1714.6,991.3 1716.3,995.2 1717.9,999.2 1719.4,1003.1 1720.8,1007.0 1722.0,1010.9 1721.9,1014.8 1720.3,1018.8 1718.5,1022.7 1716.4,1026.6 1714.1,1030.5 1711.7,1034.4 1709.3,1038.3 1706.7,1042.2 1704.0,1046.2 1701.2,1050.1 1698.4,1054.0" fill="none" stroke="#bdbdbd" stroke-width="0.7"/>
<polyline points="1695.8,960.0 1697.9,963.9 1700.1,967.8 1702.2,971.8 1704.3,975.7 1706.3,979.6 1708.2,983.5 1710.1,987.4 1711.9,991.3 1713.6,995.2 1715.3,999.2 1716.8,1003.1 1718.2,1007.0 1719.3,1010.9 1719.3,1014.8 1717.7,1018.8 1715.8,1022.7 1713.7,1026.6 1711.5,1030.5 1709.1,1034.4 1706.6,1038.3 1704.0,1042.2 1701.3,1046.2 1698.6,1050.1 1695.8,1054.0" fill="none" stroke="#7e7e7e" stroke-width="1.2"/>
<ellipse cx="1705.5" cy="978" rx="1.5" ry="2.3" fill="#262626" opacity="0.85"/>
<ellipse cx="1714.0" cy="996" rx="1.2" ry="1.8" fill="#262626" opacity="0.5"/>
<ellipse cx="1719.8" cy="1013" rx="1.7" ry="2.5" fill="#262626" opacity="0.85"/>
<ellipse cx="1712.9" cy="1028" rx="1.4" ry="2.1" fill="#262626" opacity="0.8"/>
<ellipse cx="1704.2" cy="1042" rx="1.3" ry="2.0" fill="#262626" opacity="0.6"/>
<polygon points="1709.0,960.0 1713.6,968.2 1717.9,976.5 1730.9,976.5 1726.5,968.2 1721.9,960.0" fill="#cdcdcd"/>
<polygon points="1713.5,960.0 1718.1,968.2 1722.5,976.5 1725.7,976.5 1721.3,968.2 1716.8,960.0" fill="#f6f6f6" opacity="0.45"/>
<polygon points="1717.9,976.5 1722.4,985.5 1726.6,994.5 1739.5,994.5 1735.3,985.5 1730.9,976.5" fill="#e0e0e0"/>
<polygon points="1722.5,976.5 1727.0,985.5 1731.1,994.5 1734.3,994.5 1730.2,985.5 1725.7,976.5" fill="#f6f6f6" opacity="0.8"/>
<polygon points="1726.6,994.5 1730.0,1003.0 1732.7,1011.5 1745.6,1011.5 1742.9,1003.0 1739.5,994.5" fill="#cdcdcd"/>
<polygon points="1731.1,994.5 1734.5,1003.0 1737.2,1011.5 1740.5,1011.5 1737.8,1003.0 1734.3,994.5" fill="#f6f6f6" opacity="0.45"/>
<polygon points="1732.7,1011.5 1730.8,1019.0 1727.0,1026.5 1739.9,1026.5 1743.7,1019.0 1745.6,1011.5" fill="#e0e0e0"/>
<polygon points="1737.2,1011.5 1735.3,1019.0 1731.5,1026.5 1734.8,1026.5 1738.6,1019.0 1740.5,1011.5" fill="#f6f6f6" opacity="0.8"/>
<polygon points="1727.0,1026.5 1722.9,1033.5 1718.4,1040.5 1731.3,1040.5 1735.8,1033.5 1739.9,1026.5" fill="#cdcdcd"/>
<polygon points="1731.5,1026.5 1727.4,1033.5 1723.0,1040.5 1726.2,1040.5 1730.7,1033.5 1734.8,1026.5" fill="#f6f6f6" opacity="0.45"/>
<polygon points="1718.4,1040.5 1713.8,1047.2 1709.0,1054.0 1721.9,1054.0 1726.7,1047.2 1731.3,1040.5" fill="#e0e0e0"/>
<polygon points="1723.0,1040.5 1718.4,1047.2 1713.5,1054.0 1716.8,1054.0 1721.6,1047.2 1726.2,1040.5" fill="#f6f6f6" opacity="0.8"/>
<polyline points="1719.1,960.0 1721.3,963.9 1723.4,967.8 1725.5,971.8 1727.6,975.7 1729.6,979.6 1731.5,983.5 1733.4,987.4 1735.2,991.3 1737.0,995.2 1738.6,999.2 1740.1,1003.1 1741.5,1007.0 1742.7,1010.9 1742.6,1014.8 1741.0,1018.8 1739.1,1022.7 1737.0,1026.6 1734.8,1030.5 1732.4,1034.4 1729.9,1038.3 1727.3,1042.2 1724.7,1046.2 1721.9,1050.1 1719.1,1054.0" fill="none" stroke="#a4a4a4" stroke-width="0.8"/>
<polyline points="1711.6,960.0 1713.8,963.9 1715.9,967.8 1718.0,971.8 1720.1,975.7 1722.1,979.6 1724.0,983.5 1725.9,987.4 1727.7,991.3 1729.5,995.2 1731.1,999.2 1732.6,1003.1 1734.0,1007.0 1735.2,1010.9 1735.1,1014.8 1733.5,1018.8 1731.6,1022.7 1729.6,1026.6 1727.3,1030.5 1724.9,1034.4 1722.4,1038.3 1719.8,1042.2 1717.2,1046.2 1714.4,1050.1 1711.6,1054.0" fill="none" stroke="#bdbdbd" stroke-width="0.7"/>
<polyline points="1709.0,960.0 1711.2,963.9 1713.3,967.8 1715.5,971.8 1717.5,975.7 1719.5,979.6 1721.5,983.5 1723.3,987.4 1725.2,991.3 1726.9,995.2 1728.5,999.2 1730.0,1003.1 1731.4,1007.0 1732.6,1010.9 1732.5,1014.8 1730.9,1018.8 1729.1,1022.7 1727.0,1026.6 1724.7,1030.5 1722.3,1034.4 1719.9,1038.3 1717.3,1042.2 1714.6,1046.2 1711.8,1050.1 1709.0,1054.0" fill="none" stroke="#7e7e7e" stroke-width="1.2"/>
<ellipse cx="1718.7" cy="978" rx="1.5" ry="2.3" fill="#262626" opacity="0.85"/>
<ellipse cx="1727.2" cy="996" rx="1.2" ry="1.8" fill="#262626" opacity="0.5"/>
<ellipse cx="1733.0" cy="1013" rx="1.7" ry="2.5" fill="#262626" opacity="0.85"/>
<ellipse cx="1726.2" cy="1028" rx="1.4" ry="2.1" fill="#262626" opacity="0.8"/>
<ellipse cx="1717.4" cy="1042" rx="1.3" ry="2.0" fill="#262626" opacity="0.6"/>
<polygon points="1721.9,960.0 1727.3,969.8 1732.4,979.5 1745.3,979.5 1740.2,969.8 1734.8,960.0" fill="#e0e0e0"/>
<polygon points="1726.4,960.0 1731.8,969.8 1736.9,979.5 1740.1,979.5 1735.1,969.8 1729.7,960.0" fill="#f6f6f6" opacity="0.8"/>
<polygon points="1732.4,979.5 1736.8,988.5 1740.8,997.5 1753.7,997.5 1749.7,988.5 1745.3,979.5" fill="#cdcdcd"/>
<polygon points="1736.9,979.5 1741.3,988.5 1745.3,997.5 1748.5,997.5 1744.5,988.5 1740.1,979.5" fill="#f6f6f6" opacity="0.45"/>
<polygon points="1740.8,997.5 1744.0,1006.0 1745.5,1014.5 1758.4,1014.5 1756.9,1006.0 1753.7,997.5" fill="#e0e0e0"/>
<polygon points="1745.3,997.5 1748.5,1006.0 1750.1,1014.5 1753.3,1014.5 1751.8,1006.0 1748.5,997.5" fill="#f6f6f6" opacity="0.8"/>
<polygon points="1745.5,1014.5 1742.3,1022.0 1738.2,1029.5 1751.1,1029.5 1755.2,1022.0 1758.4,1014.5" fill="#cdcdcd"/>
<polygon points="1750.1,1014.5 1746.8,1022.0 1742.7,1029.5 1746.0,1029.5 1750.1,1022.0 1753.3,1014.5" fill="#f6f6f6" opacity="0.45"/>
<polygon points="1738.2,1029.5 1733.9,1036.5 1729.3,1043.5 1742.3,1043.5 1746.9,1036.5 1751.1,1029.5" fill="#e0e0e0"/>
<polygon points="1742.7,1029.5 1738.5,1036.5 1733.9,1043.5 1737.1,1043.5 1741.7,1036.5 1746.0,1029.5" fill="#f6f6f6" opacity="0.8"/>
<polygon points="1729.3,1043.5 1725.7,1048.8 1721.9,1054.0 1734.8,1054.0 1738.6,1048.8 1742.3,1043.5" fill="#cdcdcd"/>
<polygon points="1733.9,1043.5 1730.2,1048.8 1726.4,1054.0 1729.7,1054.0 1733.4,1048.8 1737.1,1043.5" fill="#f6f6f6" opacity="0.45"/>
<polyline points="1732.0,960.0 1734.2,963.9 1736.3,967.8 1738.4,971.8 1740.5,975.7 1742.5,979.6 1744.5,983.5 1746.3,987.4 1748.1,991.3 1749.9,995.2 1751.5,999.2 1753.0,1003.1 1754.4,1007.0 1755.6,1010.9 1755.5,1014.8 1753.9,1018.8 1752.0,1022.7 1750.0,1026.6 1747.7,1030.5 1745.3,1034.4 1742.8,1038.3 1740.3,1042.2 1737.6,1046.2 1734.8,1050.1 1732.0,1054.0" fill="none" stroke="#a4a4a4" stroke-width="0.8"/>
<polyline points="1724.5,960.0 1726.7,963.9 1728.8,967.8 1731.0,971.8 1733.0,975.7 1735.0,979.6 1737.0,983.5 1738.8,987.4 1740.7,991.3 1742.4,995.2 1744.0,999.2 1745.5,1003.1 1746.9,1007.0 1748.1,1010.9 1748.0,1014.8 1746.4,1018.8 1744.6,1022.7 1742.5,1026.6 1740.2,1030.5 1737.8,1034.4 1735.4,1038.3 1732.8,1042.2 1730.1,1046.2 1727.3,1050.1 1724.5,1054.0" fill="none" stroke="#bdbdbd" stroke-width="0.7"/>
<polyline points="1721.9,960.0 1724.1,963.9 1726.3,967.8 1728.4,971.8 1730.4,975.7 1732.4,979.6 1734.4,983.5 1736.3,987.4 1738.1,991.3 1739.8,995.2 1741.4,999.2 1743.0,1003.1 1744.3,1007.0 1745.5,1010.9 1745.4,1014.8 1743.9,1018.8 1742.0,1022.7 1739.9,1026.6 1737.6,1030.5 1735.3,1034.4 1732.8,1038.3 1730.2,1042.2 1727.5,1046.2 1724.7,1050.1 1721.9,1054.0" fill="none" stroke="#7e7e7e" stroke-width="1.2"/>
<ellipse cx="1731.6" cy="978" rx="1.5" ry="2.3" fill="#262626" opacity="0.85"/>
<ellipse cx="1740.1" cy="996" rx="1.2" ry="1.8" fill="#262626" opacity="0.5"/>
<ellipse cx="1745.9" cy="1013" rx="1.7" ry="2.5" fill="#262626" opacity="0.85"/>
<ellipse cx="1739.1" cy="1028" rx="1.4" ry="2.1" fill="#262626" opacity="0.8"/>
<ellipse cx="1730.3" cy="1042" rx="1.3" ry="2.0" fill="#262626" opacity="0.6"/>
<polygon points="1734.8,960.0 1741.0,971.2 1746.8,982.5 1759.7,982.5 1753.9,971.2 1747.8,960.0" fill="#cdcdcd"/>
<polygon points="1739.4,960.0 1745.5,971.2 1751.3,982.5 1754.6,982.5 1748.8,971.2 1742.6,960.0" fill="#f6f6f6" opacity="0.45"/>
<polygon points="1746.8,982.5 1751.1,991.5 1754.9,1000.5 1767.8,1000.5 1764.0,991.5 1759.7,982.5" fill="#e0e0e0"/>
<polygon points="1751.3,982.5 1755.6,991.5 1759.4,1000.5 1762.6,1000.5 1758.8,991.5 1754.6,982.5" fill="#f6f6f6" opacity="0.8"/>
<polygon points="1754.9,1000.5 1757.9,1009.0 1757.3,1017.5 1770.2,1017.5 1770.8,1009.0 1767.8,1000.5" fill="#cdcdcd"/>
<polygon points="1759.4,1000.5 1762.4,1009.0 1761.8,1017.5 1765.1,1017.5 1765.6,1009.0 1762.6,1000.5" fill="#f6f6f6" opacity="0.45"/>
<polygon points="1757.3,1017.5 1753.7,1025.0 1749.4,1032.5 1762.3,1032.5 1766.6,1025.0 1770.2,1017.5" fill="#e0e0e0"/>
<polygon points="1761.8,1017.5 1758.2,1025.0 1753.9,1032.5 1757.1,1032.5 1761.4,1025.0 1765.1,1017.5" fill="#f6f6f6" opacity="0.8"/>
<polygon points="1749.4,1032.5 1744.9,1039.5 1740.2,1046.5 1753.1,1046.5 1757.8,1039.5 1762.3,1032.5" fill="#cdcdcd"/>
<polygon points="1753.9,1032.5 1749.4,1039.5 1744.7,1046.5 1747.9,1046.5 1752.7,1039.5 1757.1,1032.5" fill="#f6f6f6" opacity="0.45"/>
<polygon points="1740.2,1046.5 1737.5,1050.2 1734.8,1054.0 1747.8,1054.0 1750.5,1050.2 1753.1,1046.5" fill="#e0e0e0"/>
<polygon points="1744.7,1046.5 1742.1,1050.2 1739.4,1054.0 1742.6,1054.0 1745.3,1050.2 1747.9,1046.5" fill="#f6f6f6" opacity="0.8"/>
<polyline points="1744.9,960.0 1747.1,963.9 1749.3,967.8 1751.4,971.8 1753.4,975.7 1755.4,979.6 1757.4,983.5 1759.3,987.4 1761.1,991.3 1762.8,995.2 1764.4,999.2 1766.0,1003.1 1767.3,1007.0 1768.5,1010.9 1768.4,1014.8 1766.8,1018.8 1765.0,1022.7 1762.9,1026.6 1760.6,1030.5 1758.3,1034.4 1755.8,1038.3 1753.2,1042.2 1750.5,1046.2 1747.7,1050.1 1744.9,1054.0" fill="none" stroke="#a4a4a4" stroke-width="0.8"/>
<polyline points="1737.4,960.0 1739.6,963.9 1741.8,967.8 1743.9,971.8 1745.9,975.7 1747.9,979.6 1749.9,983.5 1751.8,987.4 1753.6,991.3 1755.3,995.2 1756.9,999.2 1758.5,1003.1 1759.8,1007.0 1761.0,1010.9 1760.9,1014.8 1759.4,1018.8 1757.5,1022.7 1755.4,1026.6 1753.1,1030.5 1750.8,1034.4 1748.3,1038.3 1745.7,1042.2 1743.0,1046.2 1740.2,1050.1 1737.4,1054.0" fill="none" stroke="#bdbdbd" stroke-width="0.7"/>
<polyline points="1734.8,960.0 1737.0,963.9 1739.2,967.8 1741.3,971.8 1743.3,975.7 1745.3,979.6 1747.3,983.5 1749.2,987.4 1751.0,991.3 1752.7,995.2 1754.4,999.2 1755.9,1003.1 1757.3,1007.0 1758.4,1010.9 1758.3,1014.8 1756.8,1018.8 1754.9,1022.7 1752.8,1026.6 1750.6,1030.5 1748.2,1034.4 1745.7,1038.3 1743.1,1042.2 1740.4,1046.2 1737.7,1050.1 1734.8,1054.0" fill="none" stroke="#7e7e7e" stroke-width="1.2"/>
<ellipse cx="1744.5" cy="978" rx="1.5" ry="2.3" fill="#262626" opacity="0.85"/>
<ellipse cx="1753.0" cy="996" rx="1.2" ry="1.8" fill="#262626" opacity="0.5"/>
<ellipse cx="1758.8" cy="1013" rx="1.7" ry="2.5" fill="#262626" opacity="0.85"/>
<ellipse cx="1752.0" cy="1028" rx="1.4" ry="2.1" fill="#262626" opacity="0.8"/>
<ellipse cx="1743.3" cy="1042" rx="1.3" ry="2.0" fill="#262626" opacity="0.6"/>
<polygon points="1747.8,960.0 1751.5,966.8 1755.1,973.5 1768.0,973.5 1764.4,966.8 1760.7,960.0" fill="#e0e0e0"/>
<polygon points="1752.3,960.0 1756.0,966.8 1759.7,973.5 1762.9,973.5 1759.3,966.8 1755.5,960.0" fill="#f6f6f6" opacity="0.8"/>
<polygon points="1755.1,973.5 1759.7,982.5 1764.0,991.5 1776.9,991.5 1772.6,982.5 1768.0,973.5" fill="#cdcdcd"/>
<polygon points="1759.7,973.5 1764.2,982.5 1768.5,991.5 1771.7,991.5 1767.5,982.5 1762.9,973.5" fill="#f6f6f6" opacity="0.45"/>
<polygon points="1764.0,991.5 1767.6,1000.0 1770.7,1008.5 1783.6,1008.5 1780.5,1000.0 1776.9,991.5" fill="#e0e0e0"/>
<polygon points="1768.5,991.5 1772.1,1000.0 1775.2,1008.5 1778.4,1008.5 1775.4,1000.0 1771.7,991.5" fill="#f6f6f6" opacity="0.8"/>
<polygon points="1770.7,1008.5 1770.8,1016.0 1767.4,1023.5 1780.3,1023.5 1783.8,1016.0 1783.6,1008.5" fill="#cdcdcd"/>
<polygon points="1775.2,1008.5 1775.4,1016.0 1771.9,1023.5 1775.1,1023.5 1778.6,1016.0 1778.4,1008.5" fill="#f6f6f6" opacity="0.45"/>
<polygon points="1767.4,1023.5 1763.5,1030.5 1759.1,1037.5 1772.1,1037.5 1776.4,1030.5 1780.3,1023.5" fill="#e0e0e0"/>
<polygon points="1771.9,1023.5 1768.0,1030.5 1763.7,1037.5 1766.9,1037.5 1771.2,1030.5 1775.1,1023.5" fill="#f6f6f6" opacity="0.8"/>
<polygon points="1759.1,1037.5 1753.6,1045.8 1747.8,1054.0 1760.7,1054.0 1766.5,1045.8 1772.1,1037.5" fill="#cdcdcd"/>
<polygon points="1763.7,1037.5 1758.1,1045.8 1752.3,1054.0 1755.5,1054.0 1761.4,1045.8 1766.9,1037.5" fill="#f6f6f6" opacity="0.45"/>
<polyline points="1757.8,960.0 1760.0,963.9 1762.2,967.8 1764.3,971.8 1766.3,975.7 1768.3,979.6 1770.3,983.5 1772.2,987.4 1774.0,991.3 1775.7,995.2 1777.3,999.2 1778.9,1003.1 1780.2,1007.0 1781.4,1010.9 1781.3,1014.8 1779.8,1018.8 1777.9,1022.7 1775.8,1026.6 1773.5,1030.5 1771.2,1034.4 1768.7,1038.3 1766.1,1042.2 1763.4,1046.2 1760.7,1050.1 1757.8,1054.0" fill="none" stroke="#a4a4a4" stroke-width="0.8"/>
<polyline points="1750.3,960.0 1752.5,963.9 1754.7,967.8 1756.8,971.8 1758.8,975.7 1760.8,979.6 1762.8,983.5 1764.7,987.4 1766.5,991.3 1768.2,995.2 1769.9,999.2 1771.4,1003.1 1772.8,1007.0 1773.9,1010.9 1773.8,1014.8 1772.3,1018.8 1770.4,1022.7 1768.3,1026.6 1766.1,1030.5 1763.7,1034.4 1761.2,1038.3 1758.6,1042.2 1755.9,1046.2 1753.2,1050.1 1750.3,1054.0" fill="none" stroke="#bdbdbd" stroke-width="0.7"/>
<polyline points="1747.8,960.0 1749.9,963.9 1752.1,967.8 1754.2,971.8 1756.3,975.7 1758.3,979.6 1760.2,983.5 1762.1,987.4 1763.9,991.3 1765.6,995.2 1767.3,999.2 1768.8,1003.1 1770.2,1007.0 1771.3,1010.9 1771.3,1014.8 1769.7,1018.8 1767.8,1022.7 1765.7,1026.6 1763.5,1030.5 1761.1,1034.4 1758.6,1038.3 1756.0,1042.2 1753.3,1046.2 1750.6,1050.1 1747.8,1054.0" fill="none" stroke="#7e7e7e" stroke-width="1.2"/>
<ellipse cx="1757.5" cy="978" rx="1.5" ry="2.3" fill="#262626" opacity="0.85"/>
<ellipse cx="1766.0" cy="996" rx="1.2" ry="1.8" fill="#262626" opacity="0.5"/>
<ellipse cx="1771.8" cy="1013" rx="1.7" ry="2.5" fill="#262626" opacity="0.85"/>
<ellipse cx="1764.9" cy="1028" rx="1.4" ry="2.1" fill="#262626" opacity="0.8"/>
<ellipse cx="1756.2" cy="1042" rx="1.3" ry="2.0" fill="#262626" opacity="0.6"/>
<polygon points="1760.7,960.0 1765.2,968.2 1769.6,976.5 1782.5,976.5 1778.2,968.2 1773.6,960.0" fill="#cdcdcd"/>
<polygon points="1765.2,960.0 1769.8,968.2 1774.1,976.5 1777.4,976.5 1773.0,968.2 1768.4,960.0" fill="#f6f6f6" opacity="0.45"/>
<polygon points="1769.6,976.5 1774.1,985.5 1778.2,994.5 1791.1,994.5 1787.0,985.5 1782.5,976.5" fill="#e0e0e0"/>
<polygon points="1774.1,976.5 1778.6,985.5 1782.7,994.5 1786.0,994.5 1781.8,985.5 1777.4,976.5" fill="#f6f6f6" opacity="0.8"/>
<polygon points="1778.2,994.5 1781.7,1003.0 1784.4,1011.5 1797.3,1011.5 1794.6,1003.0 1791.1,994.5" fill="#cdcdcd"/>
<polygon points="1782.7,994.5 1786.2,1003.0 1788.9,1011.5 1792.1,1011.5 1789.4,1003.0 1786.0,994.5" fill="#f6f6f6" opacity="0.45"/>
<polygon points="1784.4,1011.5 1782.5,1019.0 1778.7,1026.5 1791.6,1026.5 1795.4,1019.0 1797.3,1011.5" fill="#e0e0e0"/>
<polygon points="1788.9,1011.5 1787.0,1019.0 1783.2,1026.5 1786.4,1026.5 1790.2,1019.0 1792.1,1011.5" fill="#f6f6f6" opacity="0.8"/>
<polygon points="1778.7,1026.5 1774.6,1033.5 1770.1,1040.5 1783.0,1040.5 1787.5,1033.5 1791.6,1026.5" fill="#cdcdcd"/>
<polygon points="1783.2,1026.5 1779.1,1033.5 1774.6,1040.5 1777.8,1040.5 1782.3,1033.5 1786.4,1026.5" fill="#f6f6f6" opacity="0.45"/>
<polygon points="1770.1,1040.5 1765.5,1047.2 1760.7,1054.0 1773.6,1054.0 1778.4,1047.2 1783.0,1040.5" fill="#e0e0e0"/>
<polygon points="1774.6,1040.5 1770.0,1047.2 1765.2,1054.0 1768.4,1054.0 1773.2,1047.2 1777.8,1040.5" fill="#f6f6f6" opacity="0.8"/>
<polyline points="1770.7,960.0 1772.9,963.9 1775.1,967.8 1777.2,971.8 1779.3,975.7 1781.3,979.6 1783.2,983.5 1785.1,987.4 1786.9,991.3 1788.6,995.2 1790.3,999.2 1791.8,1003.1 1793.2,1007.0 1794.3,1010.9 1794.2,1014.8 1792.7,1018.8 1790.8,1022.7 1788.7,1026.6 1786.5,1030.5 1784.1,1034.4 1781.6,1038.3 1779.0,1042.2 1776.3,1046.2 1773.6,1050.1 1770.7,1054.0" fill="none" stroke="#a4a4a4" stroke-width="0.8"/>
<polyline points="1763.2,960.0 1765.4,963.9 1767.6,967.8 1769.7,971.8 1771.8,975.7 1773.8,979.6 1775.7,983.5 1777.6,987.4 1779.4,991.3 1781.1,995.2 1782.8,999.2 1784.3,1003.1 1785.7,1007.0 1786.8,1010.9 1786.8,1014.8 1785.2,1018.8 1783.3,1022.7 1781.2,1026.6 1779.0,1030.5 1776.6,1034.4 1774.1,1038.3 1771.5,1042.2 1768.8,1046.2 1766.1,1050.1 1763.2,1054.0" fill="none" stroke="#bdbdbd" stroke-width="0.7"/>
<polyline points="1760.7,960.0 1762.9,963.9 1765.0,967.8 1767.1,971.8 1769.2,975.7 1771.2,979.6 1773.1,983.5 1775.0,987.4 1776.8,991.3 1778.6,995.2 1780.2,999.2 1781.7,1003.1 1783.1,1007.0 1784.2,1010.9 1784.2,1014.8 1782.6,1018.8 1780.7,1022.7 1778.6,1026.6 1776.4,1030.5 1774.0,1034.4 1771.5,1038.3 1768.9,1042.2 1766.3,1046.2 1763.5,1050.1 1760.7,1054.0" fill="none" stroke="#7e7e7e" stroke-width="1.2"/>
<ellipse cx="1770.4" cy="978" rx="1.5" ry="2.3" fill="#262626" opacity="0.85"/>
<ellipse cx="1778.9" cy="996" rx="1.2" ry="1.8" fill="#262626" opacity="0.5"/>
<ellipse cx="1784.7" cy="1013" rx="1.7" ry="2.5" fill="#262626" opacity="0.85"/>
<ellipse cx="1777.8" cy="1028" rx="1.4" ry="2.1" fill="#262626" opacity="0.8"/>
<ellipse cx="1769.1" cy="1042" rx="1.3" ry="2.0" fill="#262626" opacity="0.6"/>
<polygon points="1773.6,960.0 1779.0,969.8 1784.1,979.5 1797.0,979.5 1791.9,969.8 1786.5,960.0" fill="#e0e0e0"/>
<polygon points="1778.1,960.0 1783.5,969.8 1788.6,979.5 1791.8,979.5 1786.7,969.8 1781.3,960.0" fill="#f6f6f6" opacity="0.8"/>
<polygon points="1784.1,979.5 1788.4,988.5 1792.4,997.5 1805.3,997.5 1801.4,988.5 1797.0,979.5" fill="#cdcdcd"/>
<polygon points="1788.6,979.5 1793.0,988.5 1796.9,997.5 1800.2,997.5 1796.2,988.5 1791.8,979.5" fill="#f6f6f6" opacity="0.45"/>
<polygon points="1792.4,997.5 1795.7,1006.0 1797.2,1014.5 1810.1,1014.5 1808.6,1006.0 1805.3,997.5" fill="#e0e0e0"/>
<polygon points="1796.9,997.5 1800.2,1006.0 1801.7,1014.5 1804.9,1014.5 1803.4,1006.0 1800.2,997.5" fill="#f6f6f6" opacity="0.8"/>
<polygon points="1797.2,1014.5 1794.0,1022.0 1789.9,1029.5 1802.8,1029.5 1806.9,1022.0 1810.1,1014.5" fill="#cdcdcd"/>
<polygon points="1801.7,1014.5 1798.5,1022.0 1794.4,1029.5 1797.6,1029.5 1801.7,1022.0 1804.9,1014.5" fill="#f6f6f6" opacity="0.45"/>
<polygon points="1789.9,1029.5 1785.6,1036.5 1781.0,1043.5 1793.9,1043.5 1798.5,1036.5 1802.8,1029.5" fill="#e0e0e0"/>
<polygon points="1794.4,1029.5 1790.1,1036.5 1785.5,1043.5 1788.8,1043.5 1793.4,1036.5 1797.6,1029.5" fill="#f6f6f6" opacity="0.8"/>
<polygon points="1781.0,1043.5 1777.4,1048.8 1773.6,1054.0 1786.5,1054.0 1790.3,1048.8 1793.9,1043.5" fill="#cdcdcd"/>
<polygon points="1785.5,1043.5 1781.9,1048.8 1778.1,1054.0 1781.3,1054.0 1785.1,1048.8 1788.8,1043.5" fill="#f6f6f6" opacity="0.45"/>
<polyline points="1783.7,960.0 1785.9,963.9 1788.0,967.8 1790.1,971.8 1792.2,975.7 1794.2,979.6 1796.1,983.5 1798.0,987.4 1799.8,991.3 1801.5,995.2 1803.2,999.2 1804.7,1003.1 1806.1,1007.0 1807.2,1010.9 1807.2,1014.8 1805.6,1018.8 1803.7,1022.7 1801.6,1026.6 1799.4,1030.5 1797.0,1034.4 1794.5,1038.3 1791.9,1042.2 1789.2,1046.2 1786.5,1050.1 1783.7,1054.0" fill="none" stroke="#a4a4a4" stroke-width="0.8"/>
<polyline points="1776.2,960.0 1778.4,963.9 1780.5,967.8 1782.6,971.8 1784.7,975.7 1786.7,979.6 1788.6,983.5 1790.5,987.4 1792.3,991.3 1794.1,995.2 1795.7,999.2 1797.2,1003.1 1798.6,1007.0 1799.7,1010.9 1799.7,1014.8 1798.1,1018.8 1796.2,1022.7 1794.1,1026.6 1791.9,1030.5 1789.5,1034.4 1787.0,1038.3 1784.4,1042.2 1781.8,1046.2 1779.0,1050.1 1776.2,1054.0" fill="none" stroke="#bdbdbd" stroke-width="0.7"/>
<polyline points="1773.6,960.0 1775.8,963.9 1777.9,967.8 1780.0,971.8 1782.1,975.7 1784.1,979.6 1786.0,983.5 1787.9,987.4 1789.7,991.3 1791.5,995.2 1793.1,999.2 1794.6,1003.1 1796.0,1007.0 1797.2,1010.9 1797.1,1014.8 1795.5,1018.8 1793.6,1022.7 1791.6,1026.6 1789.3,1030.5 1786.9,1034.4 1784.4,1038.3 1781.8,1042.2 1779.2,1046.2 1776.4,1050.1 1773.6,1054.0" fill="none" stroke="#7e7e7e" stroke-width="1.2"/>
<ellipse cx="1783.3" cy="978" rx="1.5" ry="2.3" fill="#262626" opacity="0.85"/>
<ellipse cx="1791.8" cy="996" rx="1.2" ry="1.8" fill="#262626" opacity="0.5"/>
<ellipse cx="1797.6" cy="1013" rx="1.7" ry="2.5" fill="#262626" opacity="0.85"/>
<ellipse cx="1790.8" cy="1028" rx="1.4" ry="2.1" fill="#262626" opacity="0.8"/>
<ellipse cx="1782.0" cy="1042" rx="1.3" ry="2.0" fill="#262626" opacity="0.6"/>
<polygon points="1786.5,960.0 1792.7,971.2 1798.5,982.5 1811.4,982.5 1805.6,971.2 1799.4,960.0" fill="#cdcdcd"/>
<polygon points="1791.0,960.0 1797.2,971.2 1803.0,982.5 1806.2,982.5 1800.4,971.2 1794.2,960.0" fill="#f6f6f6" opacity="0.45"/>
<polygon points="1798.5,982.5 1802.7,991.5 1806.6,1000.5 1819.5,1000.5 1815.6,991.5 1811.4,982.5" fill="#e0e0e0"/>
<polygon points="1803.0,982.5 1807.3,991.5 1811.1,1000.5 1814.3,1000.5 1810.5,991.5 1806.2,982.5" fill="#f6f6f6" opacity="0.8"/>
<polygon points="1806.6,1000.5 1809.6,1009.0 1809.0,1017.5 1821.9,1017.5 1822.5,1009.0 1819.5,1000.5" fill="#cdcdcd"/>
<polygon points="1811.1,1000.5 1814.1,1009.0 1813.5,1017.5 1816.7,1017.5 1817.3,1009.0 1814.3,1000.5" fill="#f6f6f6" opacity="0.45"/>
<polygon points="1809.0,1017.5 1805.3,1025.0 1801.0,1032.5 1813.9,1032.5 1818.3,1025.0 1821.9,1017.5" fill="#e0e0e0"/>
<polygon points="1813.5,1017.5 1809.9,1025.0 1805.5,1032.5 1808.8,1032.5 1813.1,1025.0 1816.7,1017.5" fill="#f6f6f6" opacity="0.8"/>
<polygon points="1801.0,1032.5 1796.6,1039.5 1791.9,1046.5 1804.8,1046.5 1809.5,1039.5 1813.9,1032.5" fill="#cdcdcd"/>
<polygon points="1805.5,1032.5 1801.1,1039.5 1796.4,1046.5 1799.6,1046.5 1804.3,1039.5 1808.8,1032.5" fill="#f6f6f6" opacity="0.45"/>
<polygon points="1791.9,1046.5 1789.2,1050.2 1786.5,1054.0 1799.4,1054.0 1802.1,1050.2 1804.8,1046.5" fill="#e0e0e0"/>
<polygon points="1796.4,1046.5 1793.7,1050.2 1791.0,1054.0 1794.2,1054.0 1797.0,1050.2 1799.6,1046.5" fill="#f6f6f6" opacity="0.8"/>
<polyline points="1796.6,960.0 1798.8,963.9 1800.9,967.8 1803.0,971.8 1805.1,975.7 1807.1,979.6 1809.0,983.5 1810.9,987.4 1812.7,991.3 1814.5,995.2 1816.1,999.2 1817.6,1003.1 1819.0,1007.0 1820.2,1010.9 1820.1,1014.8 1818.5,1018.8 1816.6,1022.7 1814.5,1026.6 1812.3,1030.5 1809.9,1034.4 1807.4,1038.3 1804.8,1042.2 1802.2,1046.2 1799.4,1050.1 1796.6,1054.0" fill="none" stroke="#a4a4a4" stroke-width="0.8"/>
<polyline points="1789.1,960.0 1791.3,963.9 1793.4,967.8 1795.5,971.8 1797.6,975.7 1799.6,979.6 1801.5,983.5 1803.4,987.4 1805.2,991.3 1807.0,995.2 1808.6,999.2 1810.1,1003.1 1811.5,1007.0 1812.7,1010.9 1812.6,1014.8 1811.0,1018.8 1809.1,1022.7 1807.1,1026.6 1804.8,1030.5 1802.4,1034.4 1799.9,1038.3 1797.3,1042.2 1794.7,1046.2 1791.9,1050.1 1789.1,1054.0" fill="none" stroke="#bdbdbd" stroke-width="0.7"/>
<polyline points="1786.5,960.0 1788.7,963.9 1790.8,967.8 1793.0,971.8 1795.0,975.7 1797.0,979.6 1799.0,983.5 1800.8,987.4 1802.7,991.3 1804.4,995.2 1806.0,999.2 1807.5,1003.1 1808.9,1007.0 1810.1,1010.9 1810.0,1014.8 1808.4,1018.8 1806.6,1022.7 1804.5,1026.6 1802.2,1030.5 1799.8,1034.4 1797.4,1038.3 1794.8,1042.2 1792.1,1046.2 1789.3,1050.1 1786.5,1054.0" fill="none" stroke="#7e7e7e" stroke-width="1.2"/>
<ellipse cx="1796.2" cy="978" rx="1.5" ry="2.3" fill="#262626" opacity="0.85"/>
<ellipse cx="1804.7" cy="996" rx="1.2" ry="1.8" fill="#262626" opacity="0.5"/>
<ellipse cx="1810.5" cy="1013" rx="1.7" ry="2.5" fill="#262626" opacity="0.85"/>
<ellipse cx="1803.7" cy="1028" rx="1.4" ry="2.1" fill="#262626" opacity="0.8"/>
<ellipse cx="1794.9" cy="1042" rx="1.3" ry="2.0" fill="#262626" opacity="0.6"/>
<polygon points="1799.4,960.0 1803.2,966.8 1806.8,973.5 1819.7,973.5 1816.1,966.8 1812.3,960.0" fill="#e0e0e0"/>
<polygon points="1803.9,960.0 1807.7,966.8 1811.3,973.5 1814.5,973.5 1810.9,966.8 1807.2,960.0" fill="#f6f6f6" opacity="0.8"/>
<polygon points="1806.8,973.5 1811.4,982.5 1815.6,991.5 1828.6,991.5 1824.3,982.5 1819.7,973.5" fill="#cdcdcd"/>
<polygon points="1811.3,973.5 1815.9,982.5 1820.2,991.5 1823.4,991.5 1819.1,982.5 1814.5,973.5" fill="#f6f6f6" opacity="0.45"/>
<polygon points="1815.6,991.5 1819.3,1000.0 1822.3,1008.5 1835.2,1008.5 1832.2,1000.0 1828.6,991.5" fill="#e0e0e0"/>
<polygon points="1820.2,991.5 1823.8,1000.0 1826.8,1008.5 1830.1,1008.5 1827.0,1000.0 1823.4,991.5" fill="#f6f6f6" opacity="0.8"/>
<polygon points="1822.3,1008.5 1822.5,1016.0 1819.0,1023.5 1832.0,1023.5 1835.4,1016.0 1835.2,1008.5" fill="#cdcdcd"/>
<polygon points="1826.8,1008.5 1827.0,1016.0 1823.6,1023.5 1826.8,1023.5 1830.3,1016.0 1830.1,1008.5" fill="#f6f6f6" opacity="0.45"/>
<polygon points="1819.0,1023.5 1815.1,1030.5 1810.8,1037.5 1823.7,1037.5 1828.1,1030.5 1832.0,1023.5" fill="#e0e0e0"/>
<polygon points="1823.6,1023.5 1819.7,1030.5 1815.3,1037.5 1818.6,1037.5 1822.9,1030.5 1826.8,1023.5" fill="#f6f6f6" opacity="0.8"/>
<polygon points="1810.8,1037.5 1805.3,1045.8 1799.4,1054.0 1812.3,1054.0 1818.2,1045.8 1823.7,1037.5" fill="#cdcdcd"/>
<polygon points="1815.3,1037.5 1809.8,1045.8 1803.9,1054.0 1807.2,1054.0 1813.0,1045.8 1818.6,1037.5" fill="#f6f6f6" opacity="0.45"/>
<polyline points="1809.5,960.0 1811.7,963.9 1813.8,967.8 1815.9,971.8 1818.0,975.7 1820.0,979.6 1822.0,983.5 1823.8,987.4 1825.6,991.3 1827.4,995.2 1829.0,999.2 1830.5,1003.1 1831.9,1007.0 1833.1,1010.9 1833.0,1014.8 1831.4,1018.8 1829.5,1022.7 1827.5,1026.6 1825.2,1030.5 1822.8,1034.4 1820.3,1038.3 1817.8,1042.2 1815.1,1046.2 1812.3,1050.1 1809.5,1054.0" fill="none" stroke="#a4a4a4" stroke-width="0.8"/>
<polyline points="1802.0,960.0 1804.2,963.9 1806.3,967.8 1808.5,971.8 1810.5,975.7 1812.5,979.6 1814.5,983.5 1816.3,987.4 1818.2,991.3 1819.9,995.2 1821.5,999.2 1823.0,1003.1 1824.4,1007.0 1825.6,1010.9 1825.5,1014.8 1823.9,1018.8 1822.1,1022.7 1820.0,1026.6 1817.7,1030.5 1815.3,1034.4 1812.9,1038.3 1810.3,1042.2 1807.6,1046.2 1804.8,1050.1 1802.0,1054.0" fill="none" stroke="#bdbdbd" stroke-width="0.7"/>
<polyline points="1799.4,960.0 1801.6,963.9 1803.8,967.8 1805.9,971.8 1807.9,975.7 1809.9,979.6 1811.9,983.5 1813.8,987.4 1815.6,991.3 1817.3,995.2 1818.9,999.2 1820.5,1003.1 1821.8,1007.0 1823.0,1010.9 1822.9,1014.8 1821.4,1018.8 1819.5,1022.7 1817.4,1026.6 1815.1,1030.5 1812.8,1034.4 1810.3,1038.3 1807.7,1042.2 1805.0,1046.2 1802.2,1050.1 1799.4,1054.0" fill="none" stroke="#7e7e7e" stroke-width="1.2"/>
<ellipse cx="1809.1" cy="978" rx="1.5" ry="2.3" fill="#262626" opacity="0.85"/>
<ellipse cx="1817.6" cy="996" rx="1.2" ry="1.8" fill="#262626" opacity="0.5"/>
<ellipse cx="1823.4" cy="1013" rx="1.7" ry="2.5" fill="#262626" opacity="0.85"/>
<ellipse cx="1816.6" cy="1028" rx="1.4" ry="2.1" fill="#262626" opacity="0.8"/>
<ellipse cx="1807.8" cy="1042" rx="1.3" ry="2.0" fill="#262626" opacity="0.6"/>
<polygon points="1812.3,960.0 1816.9,968.2 1821.3,976.5 1834.2,976.5 1829.8,968.2 1825.2,960.0" fill="#cdcdcd"/>
<polygon points="1816.9,960.0 1821.4,968.2 1825.8,976.5 1829.0,976.5 1824.7,968.2 1820.1,960.0" fill="#f6f6f6" opacity="0.45"/>
<polygon points="1821.3,976.5 1825.8,985.5 1829.9,994.5 1842.8,994.5 1838.7,985.5 1834.2,976.5" fill="#e0e0e0"/>
<polygon points="1825.8,976.5 1830.3,985.5 1834.4,994.5 1837.6,994.5 1833.5,985.5 1829.0,976.5" fill="#f6f6f6" opacity="0.8"/>
<polygon points="1829.9,994.5 1833.3,1003.0 1836.1,1011.5 1849.0,1011.5 1846.3,1003.0 1842.8,994.5" fill="#cdcdcd"/>
<polygon points="1834.4,994.5 1837.9,1003.0 1840.6,1011.5 1843.8,1011.5 1841.1,1003.0 1837.6,994.5" fill="#f6f6f6" opacity="0.45"/>
<polygon points="1836.1,1011.5 1834.2,1019.0 1830.3,1026.5 1843.3,1026.5 1847.1,1019.0 1849.0,1011.5" fill="#e0e0e0"/>
<polygon points="1840.6,1011.5 1838.7,1019.0 1834.9,1026.5 1838.1,1026.5 1841.9,1019.0 1843.8,1011.5" fill="#f6f6f6" opacity="0.8"/>
<polygon points="1830.3,1026.5 1826.2,1033.5 1821.8,1040.5 1834.7,1040.5 1839.2,1033.5 1843.3,1026.5" fill="#cdcdcd"/>
<polygon points="1834.9,1026.5 1830.8,1033.5 1826.3,1040.5 1829.5,1040.5 1834.0,1033.5 1838.1,1026.5" fill="#f6f6f6" opacity="0.45"/>
<polygon points="1821.8,1040.5 1817.2,1047.2 1812.3,1054.0 1825.2,1054.0 1830.1,1047.2 1834.7,1040.5" fill="#e0e0e0"/>
<polygon points="1826.3,1040.5 1821.7,1047.2 1816.9,1054.0 1820.1,1054.0 1824.9,1047.2 1829.5,1040.5" fill="#f6f6f6" opacity="0.8"/>
<polyline points="1822.4,960.0 1824.6,963.9 1826.8,967.8 1828.9,971.8 1830.9,975.7 1832.9,979.6 1834.9,983.5 1836.8,987.4 1838.6,991.3 1840.3,995.2 1841.9,999.2 1843.5,1003.1 1844.8,1007.0 1846.0,1010.9 1845.9,1014.8 1844.3,1018.8 1842.5,1022.7 1840.4,1026.6 1838.1,1030.5 1835.8,1034.4 1833.3,1038.3 1830.7,1042.2 1828.0,1046.2 1825.2,1050.1 1822.4,1054.0" fill="none" stroke="#a4a4a4" stroke-width="0.8"/>
<polyline points="1814.9,960.0 1817.1,963.9 1819.3,967.8 1821.4,971.8 1823.4,975.7 1825.4,979.6 1827.4,983.5 1829.3,987.4 1831.1,991.3 1832.8,995.2 1834.4,999.2 1836.0,1003.1 1837.3,1007.0 1838.5,1010.9 1838.4,1014.8 1836.9,1018.8 1835.0,1022.7 1832.9,1026.6 1830.6,1030.5 1828.3,1034.4 1825.8,1038.3 1823.2,1042.2 1820.5,1046.2 1817.7,1050.1 1814.9,1054.0" fill="none" stroke="#bdbdbd" stroke-width="0.7"/>
<polyline points="1812.3,960.0 1814.5,963.9 1816.7,967.8 1818.8,971.8 1820.8,975.7 1822.8,979.6 1824.8,983.5 1826.7,987.4 1828.5,991.3 1830.2,995.2 1831.9,999.2 1833.4,1003.1 1834.8,1007.0 1835.9,1010.9 1835.8,1014.8 1834.3,1018.8 1832.4,1022.7 1830.3,1026.6 1828.1,1030.5 1825.7,1034.4 1823.2,1038.3 1820.6,1042.2 1817.9,1046.2 1815.2,1050.1 1812.3,1054.0" fill="none" stroke="#7e7e7e" stroke-width="1.2"/>
<ellipse cx="1822.0" cy="978" rx="1.5" ry="2.3" fill="#262626" opacity="0.85"/>
<ellipse cx="1830.5" cy="996" rx="1.2" ry="1.8" fill="#262626" opacity="0.5"/>
<ellipse cx="1836.3" cy="1013" rx="1.7" ry="2.5" fill="#262626" opacity="0.85"/>
<ellipse cx="1829.5" cy="1028" rx="1.4" ry="2.1" fill="#262626" opacity="0.8"/>
<ellipse cx="1820.8" cy="1042" rx="1.3" ry="2.0" fill="#262626" opacity="0.6"/>
<polygon points="1825.2,960.0 1830.6,969.8 1835.7,979.5 1848.6,979.5 1843.6,969.8 1838.2,960.0" fill="#e0e0e0"/>
<polygon points="1829.8,960.0 1835.2,969.8 1840.2,979.5 1843.5,979.5 1838.4,969.8 1833.0,960.0" fill="#f6f6f6" opacity="0.8"/>
<polygon points="1835.7,979.5 1840.1,988.5 1844.1,997.5 1857.0,997.5 1853.0,988.5 1848.6,979.5" fill="#cdcdcd"/>
<polygon points="1840.2,979.5 1844.6,988.5 1848.6,997.5 1851.8,997.5 1847.9,988.5 1843.5,979.5" fill="#f6f6f6" opacity="0.45"/>
<polygon points="1844.1,997.5 1847.3,1006.0 1848.9,1014.5 1861.8,1014.5 1860.3,1006.0 1857.0,997.5" fill="#e0e0e0"/>
<polygon points="1848.6,997.5 1851.9,1006.0 1853.4,1014.5 1856.6,1014.5 1855.1,1006.0 1851.8,997.5" fill="#f6f6f6" opacity="0.8"/>
<polygon points="1848.9,1014.5 1845.6,1022.0 1841.6,1029.5 1854.5,1029.5 1858.6,1022.0 1861.8,1014.5" fill="#cdcdcd"/>
<polygon points="1853.4,1014.5 1850.2,1022.0 1846.1,1029.5 1849.3,1029.5 1853.4,1022.0 1856.6,1014.5" fill="#f6f6f6" opacity="0.45"/>
<polygon points="1841.6,1029.5 1837.3,1036.5 1832.7,1043.5 1845.6,1043.5 1850.2,1036.5 1854.5,1029.5" fill="#e0e0e0"/>
<polygon points="1846.1,1029.5 1841.8,1036.5 1837.2,1043.5 1840.4,1043.5 1845.0,1036.5 1849.3,1029.5" fill="#f6f6f6" opacity="0.8"/>
<polygon points="1832.7,1043.5 1829.0,1048.8 1825.2,1054.0 1838.2,1054.0 1841.9,1048.8 1845.6,1043.5" fill="#cdcdcd"/>
<polygon points="1837.2,1043.5 1833.5,1048.8 1829.8,1054.0 1833.0,1054.0 1836.8,1048.8 1840.4,1043.5" fill="#f6f6f6" opacity="0.45"/>
<polyline points="1835.3,960.0 1837.5,963.9 1839.7,967.8 1841.8,971.8 1843.8,975.7 1845.8,979.6 1847.8,983.5 1849.7,987.4 1851.5,991.3 1853.2,995.2 1854.8,999.2 1856.4,1003.1 1857.7,1007.0 1858.9,1010.9 1858.8,1014.8 1857.3,1018.8 1855.4,1022.7 1853.3,1026.6 1851.0,1030.5 1848.7,1034.4 1846.2,1038.3 1843.6,1042.2 1840.9,1046.2 1838.2,1050.1 1835.3,1054.0" fill="none" stroke="#a4a4a4" stroke-width="0.8"/>
<polyline points="1827.8,960.0 1830.0,963.9 1832.2,967.8 1834.3,971.8 1836.3,975.7 1838.3,979.6 1840.3,983.5 1842.2,987.4 1844.0,991.3 1845.7,995.2 1847.4,999.2 1848.9,1003.1 1850.3,1007.0 1851.4,1010.9 1851.3,1014.8 1849.8,1018.8 1847.9,1022.7 1845.8,1026.6 1843.6,1030.5 1841.2,1034.4 1838.7,1038.3 1836.1,1042.2 1833.4,1046.2 1830.7,1050.1 1827.8,1054.0" fill="none" stroke="#bdbdbd" stroke-width="0.7"/>
<polyline points="1825.2,960.0 1827.4,963.9 1829.6,967.8 1831.7,971.8 1833.8,975.7 1835.8,979.6 1837.7,983.5 1839.6,987.4 1841.4,991.3 1843.1,995.2 1844.8,999.2 1846.3,1003.1 1847.7,1007.0 1848.8,1010.9 1848.8,1014.8 1847.2,1018.8 1845.3,1022.7 1843.2,1026.6 1841.0,1030.5 1838.6,1034.4 1836.1,1038.3 1833.5,1042.2 1830.8,1046.2 1828.1,1050.1 1825.2,1054.0" fill="none" stroke="#7e7e7e" stroke-width="1.2"/>
<ellipse cx="1835.0" cy="978" rx="1.5" ry="2.3" fill="#262626" opacity="0.85"/>
<ellipse cx="1843.5" cy="996" rx="1.2" ry="1.8" fill="#262626" opacity="0.5"/>
<ellipse cx="1849.2" cy="1013" rx="1.7" ry="2.5" fill="#262626" opacity="0.85"/>
<ellipse cx="1842.4" cy="1028" rx="1.4" ry="2.1" fill="#262626" opacity="0.8"/>
<ellipse cx="1833.7" cy="1042" rx="1.3" ry="2.0" fill="#262626" opacity="0.6"/>
<polygon points="1838.2,960.0 1844.4,971.2 1850.1,982.5 1863.1,982.5 1857.3,971.2 1851.1,960.0" fill="#cdcdcd"/>
<polygon points="1842.7,960.0 1848.9,971.2 1854.7,982.5 1857.9,982.5 1852.1,971.2 1845.9,960.0" fill="#f6f6f6" opacity="0.45"/>
<polygon points="1850.1,982.5 1854.4,991.5 1858.2,1000.5 1871.1,1000.5 1867.3,991.5 1863.1,982.5" fill="#e0e0e0"/>
<polygon points="1854.7,982.5 1858.9,991.5 1862.7,1000.5 1866.0,1000.5 1862.1,991.5 1857.9,982.5" fill="#f6f6f6" opacity="0.8"/>
<polygon points="1858.2,1000.5 1861.2,1009.0 1860.7,1017.5 1873.6,1017.5 1874.1,1009.0 1871.1,1000.5" fill="#cdcdcd"/>
<polygon points="1862.7,1000.5 1865.7,1009.0 1865.2,1017.5 1868.4,1017.5 1869.0,1009.0 1866.0,1000.5" fill="#f6f6f6" opacity="0.45"/>
<polygon points="1860.7,1017.5 1857.0,1025.0 1852.7,1032.5 1865.6,1032.5 1869.9,1025.0 1873.6,1017.5" fill="#e0e0e0"/>
<polygon points="1865.2,1017.5 1861.5,1025.0 1857.2,1032.5 1860.4,1032.5 1864.8,1025.0 1868.4,1017.5" fill="#f6f6f6" opacity="0.8"/>
<polygon points="1852.7,1032.5 1848.3,1039.5 1843.5,1046.5 1856.4,1046.5 1861.2,1039.5 1865.6,1032.5" fill="#cdcdcd"/>
<polygon points="1857.2,1032.5 1852.8,1039.5 1848.0,1046.5 1851.3,1046.5 1856.0,1039.5 1860.4,1032.5" fill="#f6f6f6" opacity="0.45"/>
<polygon points="1843.5,1046.5 1840.9,1050.2 1838.2,1054.0 1851.1,1054.0 1853.8,1050.2 1856.4,1046.5" fill="#e0e0e0"/>
<polygon points="1848.0,1046.5 1845.4,1050.2 1842.7,1054.0 1845.9,1054.0 1848.6,1050.2 1851.3,1046.5" fill="#f6f6f6" opacity="0.8"/>
<polyline points="1848.2,960.0 1850.4,963.9 1852.6,967.8 1854.7,971.8 1856.8,975.7 1858.8,979.6 1860.7,983.5 1862.6,987.4 1864.4,991.3 1866.1,995.2 1867.8,999.2 1869.3,1003.1 1870.7,1007.0 1871.8,1010.9 1871.7,1014.8 1870.2,1018.8 1868.3,1022.7 1866.2,1026.6 1864.0,1030.5 1861.6,1034.4 1859.1,1038.3 1856.5,1042.2 1853.8,1046.2 1851.1,1050.1 1848.2,1054.0" fill="none" stroke="#a4a4a4" stroke-width="0.8"/>
<polyline points="1840.8,960.0 1842.9,963.9 1845.1,967.8 1847.2,971.8 1849.3,975.7 1851.3,979.6 1853.2,983.5 1855.1,987.4 1856.9,991.3 1858.6,995.2 1860.3,999.2 1861.8,1003.1 1863.2,1007.0 1864.3,1010.9 1864.3,1014.8 1862.7,1018.8 1860.8,1022.7 1858.7,1026.6 1856.5,1030.5 1854.1,1034.4 1851.6,1038.3 1849.0,1042.2 1846.3,1046.2 1843.6,1050.1 1840.8,1054.0" fill="none" stroke="#bdbdbd" stroke-width="0.7"/>
<polyline points="1838.2,960.0 1840.4,963.9 1842.5,967.8 1844.6,971.8 1846.7,975.7 1848.7,979.6 1850.6,983.5 1852.5,987.4 1854.3,991.3 1856.1,995.2 1857.7,999.2 1859.2,1003.1 1860.6,1007.0 1861.7,1010.9 1861.7,1014.8 1860.1,1018.8 1858.2,1022.7 1856.1,1026.6 1853.9,1030.5 1851.5,1034.4 1849.0,1038.3 1846.4,1042.2 1843.8,1046.2 1841.0,1050.1 1838.2,1054.0" fill="none" stroke="#7e7e7e" stroke-width="1.2"/>
<ellipse cx="1847.9" cy="978" rx="1.5" ry="2.3" fill="#262626" opacity="0.85"/>
<ellipse cx="1856.4" cy="996" rx="1.2" ry="1.8" fill="#262626" opacity="0.5"/>
<ellipse cx="1862.2" cy="1013" rx="1.7" ry="2.5" fill="#262626" opacity="0.85"/>
<ellipse cx="1855.3" cy="1028" rx="1.4" ry="2.1" fill="#262626" opacity="0.8"/>
<ellipse cx="1846.6" cy="1042" rx="1.3" ry="2.0" fill="#262626" opacity="0.6"/>
<polygon points="1851.1,960.0 1854.8,966.8 1858.5,973.5 1872.0,973.5 1868.4,966.8 1864.6,960.0" fill="#e0e0e0"/>
<polygon points="1855.8,960.0 1859.6,966.8 1863.2,973.5 1866.6,973.5 1863.0,966.8 1859.2,960.0" fill="#f6f6f6" opacity="0.8"/>
<polygon points="1858.5,973.5 1863.1,982.5 1867.3,991.5 1880.9,991.5 1876.6,982.5 1872.0,973.5" fill="#cdcdcd"/>
<polygon points="1863.2,973.5 1867.8,982.5 1872.1,991.5 1875.5,991.5 1871.2,982.5 1866.6,973.5" fill="#f6f6f6" opacity="0.45"/>
<polygon points="1867.3,991.5 1870.9,1000.0 1874.0,1008.5 1887.5,1008.5 1884.5,1000.0 1880.9,991.5" fill="#e0e0e0"/>
<polygon points="1872.1,991.5 1875.7,1000.0 1878.7,1008.5 1882.1,1008.5 1879.1,1000.0 1875.5,991.5" fill="#f6f6f6" opacity="0.8"/>
<polygon points="1874.0,1008.5 1874.2,1016.0 1870.7,1023.5 1884.3,1023.5 1887.7,1016.0 1887.5,1008.5" fill="#cdcdcd"/>
<polygon points="1878.7,1008.5 1878.9,1016.0 1875.5,1023.5 1878.8,1023.5 1882.3,1016.0 1882.1,1008.5" fill="#f6f6f6" opacity="0.45"/>
<polygon points="1870.7,1023.5 1866.8,1030.5 1862.5,1037.5 1876.0,1037.5 1880.4,1030.5 1884.3,1023.5" fill="#e0e0e0"/>
<polygon points="1875.5,1023.5 1871.6,1030.5 1867.2,1037.5 1870.6,1037.5 1874.9,1030.5 1878.8,1023.5" fill="#f6f6f6" opacity="0.8"/>
<polygon points="1862.5,1037.5 1857.0,1045.8 1851.1,1054.0 1864.6,1054.0 1870.5,1045.8 1876.0,1037.5" fill="#cdcdcd"/>
<polygon points="1867.2,1037.5 1861.7,1045.8 1855.8,1054.0 1859.2,1054.0 1865.1,1045.8 1870.6,1037.5" fill="#f6f6f6" opacity="0.45"/>
<polyline points="1861.7,960.0 1863.9,963.9 1866.0,967.8 1868.1,971.8 1870.2,975.7 1872.2,979.6 1874.1,983.5 1876.0,987.4 1877.8,991.3 1879.5,995.2 1881.2,999.2 1882.7,1003.1 1884.1,1007.0 1885.2,1010.9 1885.2,1014.8 1883.6,1018.8 1881.7,1022.7 1879.6,1026.6 1877.4,1030.5 1875.0,1034.4 1872.5,1038.3 1869.9,1042.2 1867.2,1046.2 1864.5,1050.1 1861.7,1054.0" fill="none" stroke="#a4a4a4" stroke-width="0.8"/>
<polyline points="1853.8,960.0 1856.0,963.9 1858.1,967.8 1860.3,971.8 1862.3,975.7 1864.3,979.6 1866.3,983.5 1868.1,987.4 1870.0,991.3 1871.7,995.2 1873.3,999.2 1874.8,1003.1 1876.2,1007.0 1877.4,1010.9 1877.3,1014.8 1875.7,1018.8 1873.9,1022.7 1871.8,1026.6 1869.5,1030.5 1867.1,1034.4 1864.6,1038.3 1862.1,1042.2 1859.4,1046.2 1856.6,1050.1 1853.8,1054.0" fill="none" stroke="#bdbdbd" stroke-width="0.7"/>
<polyline points="1851.1,960.0 1853.3,963.9 1855.4,967.8 1857.5,971.8 1859.6,975.7 1861.6,979.6 1863.5,983.5 1865.4,987.4 1867.2,991.3 1869.0,995.2 1870.6,999.2 1872.1,1003.1 1873.5,1007.0 1874.7,1010.9 1874.6,1014.8 1873.0,1018.8 1871.1,1022.7 1869.1,1026.6 1866.8,1030.5 1864.4,1034.4 1861.9,1038.3 1859.3,1042.2 1856.7,1046.2 1853.9,1050.1 1851.1,1054.0" fill="none" stroke="#7e7e7e" stroke-width="1.2"/>
<ellipse cx="1860.8" cy="978" rx="1.5" ry="2.3" fill="#262626" opacity="0.85"/>
<ellipse cx="1869.3" cy="996" rx="1.2" ry="1.8" fill="#262626" opacity="0.5"/>
<ellipse cx="1875.1" cy="1013" rx="1.7" ry="2.5" fill="#262626" opacity="0.85"/>
<ellipse cx="1868.3" cy="1028" rx="1.4" ry="2.1" fill="#262626" opacity="0.8"/>
<ellipse cx="1859.5" cy="1042" rx="1.3" ry="2.0" fill="#262626" opacity="0.6"/>
<polygon points="873.0,963.5 881.2,961.0 896.7,972.0 893.6,981.0 879.2,971.0" fill="#f5bd12" stroke="#c98f00" stroke-width="0.8"/>
<polygon points="910.1,995.0 917.3,992.5 933.7,1014.0 929.6,1027.0 923.4,1022.0 910.1,1003.0" fill="#f5bd12" stroke="#c98f00" stroke-width="0.8"/>
<polygon points="936.8,1044.0 943.0,1038.0 955.4,1048.5 954.3,1054.0 945.1,1054.0" fill="#f5bd12" stroke="#c98f00" stroke-width="0.8"/>
<polygon points="902.9,963.5 911.1,961.0 926.5,972.0 923.4,981.0 909.0,971.0" fill="#e8402e" stroke="#a82418" stroke-width="0.8"/>
<polygon points="939.9,995.0 947.1,992.5 963.6,1014.0 959.5,1027.0 953.3,1022.0 939.9,1003.0" fill="#e8402e" stroke="#a82418" stroke-width="0.8"/>
<polygon points="966.7,1044.0 972.9,1038.0 985.2,1048.5 984.2,1054.0 974.9,1054.0" fill="#e8402e" stroke="#a82418" stroke-width="0.8"/>
<polygon points="1048.0,963.5 1056.0,961.0 1071.1,972.0 1068.1,981.0 1054.0,971.0" fill="#f5bd12" stroke="#c98f00" stroke-width="0.8"/>
<polygon points="1084.2,995.0 1091.3,992.5 1107.3,1014.0 1103.3,1027.0 1097.3,1022.0 1084.2,1003.0" fill="#f5bd12" stroke="#c98f00" stroke-width="0.8"/>
<polygon points="1110.4,1044.0 1116.4,1038.0 1128.5,1048.5 1127.5,1054.0 1118.4,1054.0" fill="#f5bd12" stroke="#c98f00" stroke-width="0.8"/>
<polygon points="1077.2,963.5 1085.2,961.0 1100.3,972.0 1097.3,981.0 1083.2,971.0" fill="#e8402e" stroke="#a82418" stroke-width="0.8"/>
<polygon points="1113.4,995.0 1120.4,992.5 1136.5,1014.0 1132.5,1027.0 1126.5,1022.0 1113.4,1003.0" fill="#e8402e" stroke="#a82418" stroke-width="0.8"/>
<polygon points="1139.5,1044.0 1145.6,1038.0 1157.6,1048.5 1156.6,1054.0 1147.6,1054.0" fill="#e8402e" stroke="#a82418" stroke-width="0.8"/>
<polygon points="1219.0,963.5 1227.0,961.0 1242.0,972.0 1239.0,981.0 1225.0,971.0" fill="#f5bd12" stroke="#c98f00" stroke-width="0.8"/>
<polygon points="1255.0,995.0 1262.0,992.5 1278.0,1014.0 1274.0,1027.0 1268.0,1022.0 1255.0,1003.0" fill="#f5bd12" stroke="#c98f00" stroke-width="0.8"/>
<polygon points="1281.0,1044.0 1287.0,1038.0 1299.0,1048.5 1298.0,1054.0 1289.0,1054.0" fill="#f5bd12" stroke="#c98f00" stroke-width="0.8"/>
<polygon points="1248.0,963.5 1256.0,961.0 1271.0,972.0 1268.0,981.0 1254.0,971.0" fill="#e8402e" stroke="#a82418" stroke-width="0.8"/>
<polygon points="1284.0,995.0 1291.0,992.5 1307.0,1014.0 1303.0,1027.0 1297.0,1022.0 1284.0,1003.0" fill="#e8402e" stroke="#a82418" stroke-width="0.8"/>
<polygon points="1310.0,1044.0 1316.0,1038.0 1328.0,1048.5 1327.0,1054.0 1318.0,1054.0" fill="#e8402e" stroke="#a82418" stroke-width="0.8"/>
<polygon points="1389.0,963.5 1396.8,961.0 1411.3,972.0 1408.4,981.0 1394.8,971.0" fill="#f5bd12" stroke="#c98f00" stroke-width="0.8"/>
<polygon points="1423.9,995.0 1430.7,992.5 1446.3,1014.0 1442.4,1027.0 1436.6,1022.0 1423.9,1003.0" fill="#f5bd12" stroke="#c98f00" stroke-width="0.8"/>
<polygon points="1449.2,1044.0 1455.0,1038.0 1466.6,1048.5 1465.7,1054.0 1456.9,1054.0" fill="#f5bd12" stroke="#c98f00" stroke-width="0.8"/>
<polygon points="1417.1,963.5 1424.9,961.0 1439.5,972.0 1436.6,981.0 1423.0,971.0" fill="#e8402e" stroke="#a82418" stroke-width="0.8"/>
<polygon points="1452.1,995.0 1458.9,992.5 1474.4,1014.0 1470.5,1027.0 1464.7,1022.0 1452.1,1003.0" fill="#e8402e" stroke="#a82418" stroke-width="0.8"/>
<polygon points="1477.3,1044.0 1483.1,1038.0 1494.8,1048.5 1493.8,1054.0 1485.1,1054.0" fill="#e8402e" stroke="#a82418" stroke-width="0.8"/>
<polygon points="1554.0,963.5 1561.5,961.0 1575.5,972.0 1572.7,981.0 1559.6,971.0" fill="#f5bd12" stroke="#c98f00" stroke-width="0.8"/>
<polygon points="1587.7,995.0 1594.2,992.5 1609.2,1014.0 1605.4,1027.0 1599.8,1022.0 1587.7,1003.0" fill="#f5bd12" stroke="#c98f00" stroke-width="0.8"/>
<polygon points="1612.0,1044.0 1617.6,1038.0 1628.8,1048.5 1627.9,1054.0 1619.5,1054.0" fill="#f5bd12" stroke="#c98f00" stroke-width="0.8"/>
<polygon points="1581.1,963.5 1588.6,961.0 1602.6,972.0 1599.8,981.0 1586.7,971.0" fill="#e8402e" stroke="#a82418" stroke-width="0.8"/>
<polygon points="1614.8,995.0 1621.3,992.5 1636.3,1014.0 1632.6,1027.0 1627.0,1022.0 1614.8,1003.0" fill="#e8402e" stroke="#a82418" stroke-width="0.8"/>
<polygon points="1639.1,1044.0 1644.7,1038.0 1655.9,1048.5 1655.0,1054.0 1646.6,1054.0" fill="#e8402e" stroke="#a82418" stroke-width="0.8"/>
<polygon points="1713.0,963.5 1720.3,961.0 1734.0,972.0 1731.2,981.0 1718.5,971.0" fill="#f5bd12" stroke="#c98f00" stroke-width="0.8"/>
<polygon points="1745.8,995.0 1752.2,992.5 1766.8,1014.0 1763.1,1027.0 1757.7,1022.0 1745.8,1003.0" fill="#f5bd12" stroke="#c98f00" stroke-width="0.8"/>
<polygon points="1769.5,1044.0 1775.0,1038.0 1785.9,1048.5 1785.0,1054.0 1776.8,1054.0" fill="#f5bd12" stroke="#c98f00" stroke-width="0.8"/>
<polygon points="1739.4,963.5 1746.7,961.0 1760.4,972.0 1757.7,981.0 1744.9,971.0" fill="#e8402e" stroke="#a82418" stroke-width="0.8"/>
<polygon points="1772.3,995.0 1778.6,992.5 1793.2,1014.0 1789.6,1027.0 1784.1,1022.0 1772.3,1003.0" fill="#e8402e" stroke="#a82418" stroke-width="0.8"/>
<polygon points="1796.0,1044.0 1801.4,1038.0 1812.4,1048.5 1811.5,1054.0 1803.3,1054.0" fill="#e8402e" stroke="#a82418" stroke-width="0.8"/>
<rect x="846.0" y="960.0" width="954.0" height="94.0" fill="url(#hshade)"/>
</g>
<defs><linearGradient id="fgrad" x1="0" y1="957" x2="0" y2="1057" gradientUnits="userSpaceOnUse"><stop offset="0.000" stop-color="#b0b0b0"/><stop offset="0.090" stop-color="#bcbcbc"/><stop offset="0.140" stop-color="#a4a4a4"/><stop offset="0.170" stop-color="#8e8e8e"/><stop offset="0.320" stop-color="#929292"/><stop offset="0.345" stop-color="#d4d4d4"/><stop offset="0.430" stop-color="#e4e4e4"/><stop offset="0.540" stop-color="#dadada"/><stop offset="0.565" stop-color="#c9c9c9"/><stop offset="0.870" stop-color="#c6c6c6"/><stop offset="0.940" stop-color="#a6a6a6"/><stop offset="1.000" stop-color="#858585"/></linearGradient><linearGradient id="fcol" x1="0" y1="957" x2="0" y2="1057" gradientUnits="userSpaceOnUse"><stop offset="0.000" stop-color="#c4c4c4"/><stop offset="0.050" stop-color="#b2b2b2"/><stop offset="0.270" stop-color="#a6a6a6"/><stop offset="0.320" stop-color="#dcdcdc"/><stop offset="0.530" stop-color="#d6d6d6"/><stop offset="0.890" stop-color="#cacaca"/><stop offset="0.950" stop-color="#a4a4a4"/><stop offset="1.000" stop-color="#888888"/></linearGradient><linearGradient id="fbulb" x1="721" y1="0" x2="752" y2="0" gradientUnits="userSpaceOnUse"><stop offset="0" stop-color="#5a5a5a" stop-opacity="0.45"/><stop offset="0.22" stop-color="#fff" stop-opacity="0.0"/><stop offset="0.5" stop-color="#fff" stop-opacity="0.5"/><stop offset="0.8" stop-color="#fff" stop-opacity="0.0"/><stop offset="1" stop-color="#000" stop-opacity="0.12"/></linearGradient></defs>
<path d="M 721.5,975 C 721.5,963 728,961.5 737,961.5 C 744,961.5 747,966.5 752,966.5 L 806,966 C 812,966 813,958 820,958 L 849,957.5 L 849,1056 L 820,1055.5 C 813,1055.5 811,1050 806,1050 L 752,1050.5 C 747,1050.5 745,1056 737,1056 C 727,1056 721.5,1052 721.5,1044 Z" fill="url(#fgrad)"/>
<path d="M 806,966 C 812,966 813,958 820,958 L 849,957.5 L 849,1056 L 820,1055.5 C 813,1055.5 811,1050 806,1050 Z" fill="url(#fcol)"/>
<path d="M 721.5,975 C 721.5,963 728,961.5 737,961.5 C 744,961.5 747,966.5 752,966.5 L 752,1050.5 C 747,1050.5 745,1056 737,1056 C 727,1056 721.5,1052 721.5,1044 Z" fill="url(#fbulb)"/>
<rect x="749" y="992" width="54" height="20" fill="#ffffff" opacity="0.18"/>
<path d="M 749,1012.5 L 803,1012.5" stroke="#b0b0b0" stroke-width="1"/>
<path d="M 816,972 L 816,979.5 L 839,979.5 M 827,973.5 L 827,979.5 M 818,966 C 826,965 834,966 838,969" stroke="#e2e2e2" stroke-width="1.1" fill="none"/>
<rect x="813" y="989" width="30" height="33" rx="7" fill="none" stroke="#e6e6e6" stroke-width="1.2"/>
<path d="M 820,1000 C 824,995 834,995 838,1001 M 819,1012 C 825,1016 834,1015 838,1008" stroke="#b4b4b4" stroke-width="1" fill="none"/>
<path d="M 721.5,975 C 721.5,963 728,961.5 737,961.5 C 744,961.5 747,966.5 752,966.5 L 806,966 C 812,966 813,958 820,958 L 849,957.5 L 849,1056 L 820,1055.5 C 813,1055.5 811,1050 806,1050 L 752,1050.5 C 747,1050.5 745,1056 737,1056 C 727,1056 721.5,1052 721.5,1044 Z" fill="none" stroke="#7a7a7a" stroke-width="0.8"/>
<defs><linearGradient id="nleft" x1="0" y1="956" x2="0" y2="1072" gradientUnits="userSpaceOnUse"><stop offset="0" stop-color="#d6b868"/><stop offset="0.09" stop-color="#b88e2e"/><stop offset="0.24" stop-color="#c49a3a"/><stop offset="0.27" stop-color="#f4ead0"/><stop offset="0.4" stop-color="#efe2bc"/><stop offset="0.43" stop-color="#c09840"/><stop offset="0.53" stop-color="#b89036"/><stop offset="0.56" stop-color="#e8d6a2"/><stop offset="1" stop-color="#e2cc90"/></linearGradient><linearGradient id="nright" x1="0" y1="953" x2="0" y2="1068" gradientUnits="userSpaceOnUse"><stop offset="0" stop-color="#eadba8"/><stop offset="0.1" stop-color="#e2cc8a"/><stop offset="0.14" stop-color="#b88e32"/><stop offset="0.35" stop-color="#c8a24c"/><stop offset="0.42" stop-color="#ceaa58"/><stop offset="0.55" stop-color="#a98428"/><stop offset="0.6" stop-color="#e2cf9a"/><stop offset="1" stop-color="#e6d4a0"/></linearGradient><linearGradient id="nface" x1="0" y1="963" x2="0" y2="1027" gradientUnits="userSpaceOnUse"><stop offset="0" stop-color="#c6a248"/><stop offset="0.5" stop-color="#d4b464"/><stop offset="1" stop-color="#caa852"/></linearGradient><filter id="grain" x="0" y="0" width="1" height="1"><feTurbulence type="fractalNoise" baseFrequency="0.9" numOctaves="2" seed="3" result="n"/><feColorMatrix in="n" type="matrix" values="0 0 0 0 0.35  0 0 0 0 0.25  0 0 0 0 0.05  0 0 0 1.1 -0.45" result="c"/><feComposite in="c" in2="SourceGraphic" operator="in" result="m"/><feMerge><feMergeNode in="SourceGraphic"/><feMergeNode in="m"/></feMerge></filter></defs>
<g filter="url(#grain)">
<polygon points="608.6,960 611,956.3 633,951.5 636.6,948.6 684.8,948.6 686.3,953.2 716.7,958.7 720.5,965 720.5,1062 716.7,1067.6 685.6,1073.8 684.8,1076.9 636.6,1076.9 611.7,1071.4 608.6,1067" fill="#e4d096"/>
<polygon points="608.6,960 611,956.3 633,951.5 636,963 623.3,993 627,1026 628,1074 611.7,1071.4 608.6,1067" fill="url(#nleft)"/>
<polygon points="684.8,948.6 686.3,953.2 716.7,958.7 720.5,965 720.5,1062 716.7,1067.6 685.6,1073.8 685,1026 680,963" fill="url(#nright)"/>
<polygon points="633,951.5 636.6,948.6 684.8,948.6 686.3,953.2 680,963.3 636,963.3" fill="#e6d49c"/>
<polygon points="623.3,993 636,963.3 680,963.3 685,993 679,1026.3 634,1026.3" fill="url(#nface)"/>
<polygon points="627,1026.3 634,1026.3 679,1026.3 685,1026 685.6,1073.8 684.8,1076.9 636.6,1076.9 628,1074" fill="#e9d7a2"/>
</g>
<polyline points="623.3,993 636,963.3 680,963.3" fill="none" stroke="#f6efd8" stroke-width="1.2"/>
<polyline points="636,963.3 680,963.3 685,993 679,1026.3" fill="none" stroke="#9e7a26" stroke-width="1"/>
<g clip-path="url(#cclip)">
<rect x="451.0" y="393.0" width="286.0" height="286.0" fill="#8a8a8a"/>
<g transform="matrix(0.63085,0.80957,0.58213,-0.81000,460.900,437.300)">
<rect x="-141.0" y="-282.0" width="47.0" height="94.0" fill="url(#wgB)"/>
<rect x="-141.0" y="-282.0" width="47.0" height="94.0" fill="url(#wireB)"/>
<rect x="-141.0" y="-282.0" width="47.0" height="94.0" fill="url(#shB)"/>
<rect x="-141.0" y="-94.0" width="47.0" height="94.0" fill="url(#wgB)"/>
<rect x="-141.0" y="-94.0" width="47.0" height="94.0" fill="url(#wireB)"/>
<rect x="-141.0" y="-94.0" width="47.0" height="94.0" fill="url(#shB)"/>
<rect x="-141.0" y="94.0" width="47.0" height="94.0" fill="url(#wgB)"/>
<rect x="-141.0" y="94.0" width="47.0" height="94.0" fill="url(#wireB)"/>
<rect x="-141.0" y="94.0" width="47.0" height="94.0" fill="url(#shB)"/>
<rect x="-141.0" y="282.0" width="47.0" height="94.0" fill="url(#wgB)"/>
<rect x="-141.0" y="282.0" width="47.0" height="94.0" fill="url(#wireB)"/>
<rect x="-141.0" y="282.0" width="47.0" height="94.0" fill="url(#shB)"/>
<rect x="-94.0" y="-235.0" width="47.0" height="94.0" fill="url(#wgB)"/>
<rect x="-94.0" y="-235.0" width="47.0" height="94.0" fill="url(#wireB)"/>
<rect x="-94.0" y="-235.0" width="47.0" height="94.0" fill="url(#shB)"/>
<rect x="-94.0" y="-47.0" width="47.0" height="94.0" fill="url(#wgB)"/>
<rect x="-94.0" y="-47.0" width="47.0" height="94.0" fill="url(#wireB)"/>
<rect x="-94.0" y="-47.0" width="47.0" height="94.0" fill="url(#shB)"/>
<rect x="-94.0" y="141.0" width="47.0" height="94.0" fill="url(#wgB)"/>
<rect x="-94.0" y="141.0" width="47.0" height="94.0" fill="url(#wireB)"/>
<rect x="-94.0" y="141.0" width="47.0" height="94.0" fill="url(#shB)"/>
<rect x="-94.0" y="329.0" width="47.0" height="94.0" fill="url(#wgB)"/>
<rect x="-94.0" y="329.0" width="47.0" height="94.0" fill="url(#wireB)"/>
<rect x="-94.0" y="329.0" width="47.0" height="94.0" fill="url(#shB)"/>
<rect x="-47.0" y="-188.0" width="47.0" height="94.0" fill="url(#wgB)"/>
<rect x="-47.0" y="-188.0" width="47.0" height="94.0" fill="url(#wireB)"/>
<rect x="-47.0" y="-188.0" width="47.0" height="94.0" fill="url(#shB)"/>
<rect x="-47.0" y="0.0" width="47.0" height="94.0" fill="url(#wgB)"/>
<rect x="-47.0" y="0.0" width="47.0" height="94.0" fill="url(#wireB)"/>
<rect x="-47.0" y="0.0" width="47.0" height="94.0" fill="url(#shB)"/>
<rect x="-47.0" y="188.0" width="47.0" height="94.0" fill="url(#wgB)"/>
<rect x="-47.0" y="188.0" width="47.0" height="94.0" fill="url(#wireB)"/>
<rect x="-47.0" y="188.0" width="47.0" height="94.0" fill="url(#shB)"/>
<rect x="-47.0" y="376.0" width="47.0" height="94.0" fill="url(#wgB)"/>
<rect x="-47.0" y="376.0" width="47.0" height="94.0" fill="url(#wireB)"/>
<rect x="-47.0" y="376.0" width="47.0" height="94.0" fill="url(#shB)"/>
<rect x="0.0" y="-141.0" width="47.0" height="94.0" fill="url(#wgB)"/>
<rect x="0.0" y="-141.0" width="47.0" height="94.0" fill="url(#wireB)"/>
<rect x="0.0" y="-141.0" width="47.0" height="94.0" fill="url(#shB)"/>
<rect x="0.0" y="47.0" width="47.0" height="94.0" fill="url(#wgB)"/>
<rect x="0.0" y="47.0" width="47.0" height="94.0" fill="url(#wireB)"/>
<rect x="0.0" y="47.0" width="47.0" height="94.0" fill="url(#shB)"/>
<rect x="0.0" y="235.0" width="47.0" height="94.0" fill="url(#wgB)"/>
<rect x="0.0" y="235.0" width="47.0" height="94.0" fill="url(#wireB)"/>
<rect x="0.0" y="235.0" width="47.0" height="94.0" fill="url(#shB)"/>
<rect x="47.0" y="-282.0" width="47.0" height="94.0" fill="url(#wgB)"/>
<rect x="47.0" y="-282.0" width="47.0" height="94.0" fill="url(#wireB)"/>
<rect x="47.0" y="-282.0" width="47.0" height="94.0" fill="url(#shB)"/>
<rect x="47.0" y="-94.0" width="47.0" height="94.0" fill="url(#wgB)"/>
<rect x="47.0" y="-94.0" width="47.0" height="94.0" fill="url(#wireB)"/>
<rect x="47.0" y="-94.0" width="47.0" height="94.0" fill="url(#shB)"/>
<rect x="47.0" y="94.0" width="47.0" height="94.0" fill="url(#wgB)"/>
<rect x="47.0" y="94.0" width="47.0" height="94.0" fill="url(#wireB)"/>
<rect x="47.0" y="94.0" width="47.0" height="94.0" fill="url(#shB)"/>
<rect x="47.0" y="282.0" width="47.0" height="94.0" fill="url(#wgB)"/>
<rect x="47.0" y="282.0" width="47.0" height="94.0" fill="url(#wireB)"/>
<rect x="47.0" y="282.0" width="47.0" height="94.0" fill="url(#shB)"/>
<rect x="94.0" y="-235.0" width="47.0" height="94.0" fill="url(#wgB)"/>
<rect x="94.0" y="-235.0" width="47.0" height="94.0" fill="url(#wireB)"/>
<rect x="94.0" y="-235.0" width="47.0" height="94.0" fill="url(#shB)"/>
<rect x="94.0" y="-47.0" width="47.0" height="94.0" fill="url(#wgB)"/>
<rect x="94.0" y="-47.0" width="47.0" height="94.0" fill="url(#wireB)"/>
<rect x="94.0" y="-47.0" width="47.0" height="94.0" fill="url(#shB)"/>
<rect x="94.0" y="141.0" width="47.0" height="94.0" fill="url(#wgB)"/>
<rect x="94.0" y="141.0" width="47.0" height="94.0" fill="url(#wireB)"/>
<rect x="94.0" y="141.0" width="47.0" height="94.0" fill="url(#shB)"/>
<rect x="94.0" y="329.0" width="47.0" height="94.0" fill="url(#wgB)"/>
<rect x="94.0" y="329.0" width="47.0" height="94.0" fill="url(#wireB)"/>
<rect x="94.0" y="329.0" width="47.0" height="94.0" fill="url(#shB)"/>
<rect x="141.0" y="-188.0" width="47.0" height="94.0" fill="url(#wgB)"/>
<rect x="141.0" y="-188.0" width="47.0" height="94.0" fill="url(#wireB)"/>
<rect x="141.0" y="-188.0" width="47.0" height="94.0" fill="url(#shB)"/>
<rect x="141.0" y="0.0" width="47.0" height="94.0" fill="url(#wgB)"/>
<rect x="141.0" y="0.0" width="47.0" height="94.0" fill="url(#wireB)"/>
<rect x="141.0" y="0.0" width="47.0" height="94.0" fill="url(#shB)"/>
<rect x="141.0" y="188.0" width="47.0" height="94.0" fill="url(#wgB)"/>
<rect x="141.0" y="188.0" width="47.0" height="94.0" fill="url(#wireB)"/>
<rect x="141.0" y="188.0" width="47.0" height="94.0" fill="url(#shB)"/>
<rect x="141.0" y="376.0" width="47.0" height="94.0" fill="url(#wgB)"/>
<rect x="141.0" y="376.0" width="47.0" height="94.0" fill="url(#wireB)"/>
<rect x="141.0" y="376.0" width="47.0" height="94.0" fill="url(#shB)"/>
<rect x="188.0" y="-141.0" width="47.0" height="94.0" fill="url(#wgB)"/>
<rect x="188.0" y="-141.0" width="47.0" height="94.0" fill="url(#wireB)"/>
<rect x="188.0" y="-141.0" width="47.0" height="94.0" fill="url(#shB)"/>
<rect x="188.0" y="47.0" width="47.0" height="94.0" fill="url(#wgB)"/>
<rect x="188.0" y="47.0" width="47.0" height="94.0" fill="url(#wireB)"/>
<rect x="188.0" y="47.0" width="47.0" height="94.0" fill="url(#shB)"/>
<rect x="188.0" y="235.0" width="47.0" height="94.0" fill="url(#wgB)"/>
<rect x="188.0" y="235.0" width="47.0" height="94.0" fill="url(#wireB)"/>
<rect x="188.0" y="235.0" width="47.0" height="94.0" fill="url(#shB)"/>
<rect x="235.0" y="-282.0" width="47.0" height="94.0" fill="url(#wgB)"/>
<rect x="235.0" y="-282.0" width="47.0" height="94.0" fill="url(#wireB)"/>
<rect x="235.0" y="-282.0" width="47.0" height="94.0" fill="url(#shB)"/>
<rect x="235.0" y="-94.0" width="47.0" height="94.0" fill="url(#wgB)"/>
<rect x="235.0" y="-94.0" width="47.0" height="94.0" fill="url(#wireB)"/>
<rect x="235.0" y="-94.0" width="47.0" height="94.0" fill="url(#shB)"/>
<rect x="235.0" y="94.0" width="47.0" height="94.0" fill="url(#wgB)"/>
<rect x="235.0" y="94.0" width="47.0" height="94.0" fill="url(#wireB)"/>
<rect x="235.0" y="94.0" width="47.0" height="94.0" fill="url(#shB)"/>
<rect x="235.0" y="282.0" width="47.0" height="94.0" fill="url(#wgB)"/>
<rect x="235.0" y="282.0" width="47.0" height="94.0" fill="url(#wireB)"/>
<rect x="235.0" y="282.0" width="47.0" height="94.0" fill="url(#shB)"/>
<rect x="282.0" y="-235.0" width="47.0" height="94.0" fill="url(#wgB)"/>
<rect x="282.0" y="-235.0" width="47.0" height="94.0" fill="url(#wireB)"/>
<rect x="282.0" y="-235.0" width="47.0" height="94.0" fill="url(#shB)"/>
<rect x="282.0" y="-47.0" width="47.0" height="94.0" fill="url(#wgB)"/>
<rect x="282.0" y="-47.0" width="47.0" height="94.0" fill="url(#wireB)"/>
<rect x="282.0" y="-47.0" width="47.0" height="94.0" fill="url(#shB)"/>
<rect x="282.0" y="141.0" width="47.0" height="94.0" fill="url(#wgB)"/>
<rect x="282.0" y="141.0" width="47.0" height="94.0" fill="url(#wireB)"/>
<rect x="282.0" y="141.0" width="47.0" height="94.0" fill="url(#shB)"/>
<rect x="282.0" y="329.0" width="47.0" height="94.0" fill="url(#wgB)"/>
<rect x="282.0" y="329.0" width="47.0" height="94.0" fill="url(#wireB)"/>
<rect x="282.0" y="329.0" width="47.0" height="94.0" fill="url(#shB)"/>
<rect x="329.0" y="-188.0" width="47.0" height="94.0" fill="url(#wgB)"/>
<rect x="329.0" y="-188.0" width="47.0" height="94.0" fill="url(#wireB)"/>
<rect x="329.0" y="-188.0" width="47.0" height="94.0" fill="url(#shB)"/>
<rect x="329.0" y="0.0" width="47.0" height="94.0" fill="url(#wgB)"/>
<rect x="329.0" y="0.0" width="47.0" height="94.0" fill="url(#wireB)"/>
<rect x="329.0" y="0.0" width="47.0" height="94.0" fill="url(#shB)"/>
<rect x="329.0" y="188.0" width="47.0" height="94.0" fill="url(#wgB)"/>
<rect x="329.0" y="188.0" width="47.0" height="94.0" fill="url(#wireB)"/>
<rect x="329.0" y="188.0" width="47.0" height="94.0" fill="url(#shB)"/>
<rect x="329.0" y="376.0" width="47.0" height="94.0" fill="url(#wgB)"/>
<rect x="329.0" y="376.0" width="47.0" height="94.0" fill="url(#wireB)"/>
<rect x="329.0" y="376.0" width="47.0" height="94.0" fill="url(#shB)"/>
<rect x="376.0" y="-141.0" width="47.0" height="94.0" fill="url(#wgB)"/>
<rect x="376.0" y="-141.0" width="47.0" height="94.0" fill="url(#wireB)"/>
<rect x="376.0" y="-141.0" width="47.0" height="94.0" fill="url(#shB)"/>
<rect x="376.0" y="47.0" width="47.0" height="94.0" fill="url(#wgB)"/>
<rect x="376.0" y="47.0" width="47.0" height="94.0" fill="url(#wireB)"/>
<rect x="376.0" y="47.0" width="47.0" height="94.0" fill="url(#shB)"/>
<rect x="376.0" y="235.0" width="47.0" height="94.0" fill="url(#wgB)"/>
<rect x="376.0" y="235.0" width="47.0" height="94.0" fill="url(#wireB)"/>
<rect x="376.0" y="235.0" width="47.0" height="94.0" fill="url(#shB)"/>
<rect x="423.0" y="-282.0" width="47.0" height="94.0" fill="url(#wgB)"/>
<rect x="423.0" y="-282.0" width="47.0" height="94.0" fill="url(#wireB)"/>
<rect x="423.0" y="-282.0" width="47.0" height="94.0" fill="url(#shB)"/>
<rect x="423.0" y="-94.0" width="47.0" height="94.0" fill="url(#wgB)"/>
<rect x="423.0" y="-94.0" width="47.0" height="94.0" fill="url(#wireB)"/>
<rect x="423.0" y="-94.0" width="47.0" height="94.0" fill="url(#shB)"/>
<rect x="423.0" y="94.0" width="47.0" height="94.0" fill="url(#wgB)"/>
<rect x="423.0" y="94.0" width="47.0" height="94.0" fill="url(#wireB)"/>
<rect x="423.0" y="94.0" width="47.0" height="94.0" fill="url(#shB)"/>
<rect x="423.0" y="282.0" width="47.0" height="94.0" fill="url(#wgB)"/>
<rect x="423.0" y="282.0" width="47.0" height="94.0" fill="url(#wireB)"/>
<rect x="423.0" y="282.0" width="47.0" height="94.0" fill="url(#shB)"/>
<rect x="470.0" y="-235.0" width="47.0" height="94.0" fill="url(#wgB)"/>
<rect x="470.0" y="-235.0" width="47.0" height="94.0" fill="url(#wireB)"/>
<rect x="470.0" y="-235.0" width="47.0" height="94.0" fill="url(#shB)"/>
<rect x="470.0" y="-47.0" width="47.0" height="94.0" fill="url(#wgB)"/>
<rect x="470.0" y="-47.0" width="47.0" height="94.0" fill="url(#wireB)"/>
<rect x="470.0" y="-47.0" width="47.0" height="94.0" fill="url(#shB)"/>
<rect x="470.0" y="141.0" width="47.0" height="94.0" fill="url(#wgB)"/>
<rect x="470.0" y="141.0" width="47.0" height="94.0" fill="url(#wireB)"/>
<rect x="470.0" y="141.0" width="47.0" height="94.0" fill="url(#shB)"/>
<rect x="470.0" y="329.0" width="47.0" height="94.0" fill="url(#wgB)"/>
<rect x="470.0" y="329.0" width="47.0" height="94.0" fill="url(#wireB)"/>
<rect x="470.0" y="329.0" width="47.0" height="94.0" fill="url(#shB)"/>
<rect x="-94.0" y="-282.0" width="94.0" height="47.0" fill="url(#wgA)"/>
<rect x="-94.0" y="-282.0" width="94.0" height="47.0" fill="url(#wireA)"/>
<rect x="-94.0" y="-282.0" width="94.0" height="47.0" fill="url(#shA)"/>
<rect x="94.0" y="-282.0" width="94.0" height="47.0" fill="url(#wgA)"/>
<rect x="94.0" y="-282.0" width="94.0" height="47.0" fill="url(#wireA)"/>
<rect x="94.0" y="-282.0" width="94.0" height="47.0" fill="url(#shA)"/>
<rect x="282.0" y="-282.0" width="94.0" height="47.0" fill="url(#wgA)"/>
<rect x="282.0" y="-282.0" width="94.0" height="47.0" fill="url(#wireA)"/>
<rect x="282.0" y="-282.0" width="94.0" height="47.0" fill="url(#shA)"/>
<rect x="470.0" y="-282.0" width="94.0" height="47.0" fill="url(#wgA)"/>
<rect x="470.0" y="-282.0" width="94.0" height="47.0" fill="url(#wireA)"/>
<rect x="470.0" y="-282.0" width="94.0" height="47.0" fill="url(#shA)"/>
<rect x="-47.0" y="-235.0" width="94.0" height="47.0" fill="url(#wgA)"/>
<rect x="-47.0" y="-235.0" width="94.0" height="47.0" fill="url(#wireA)"/>
<rect x="-47.0" y="-235.0" width="94.0" height="47.0" fill="url(#shA)"/>
<rect x="141.0" y="-235.0" width="94.0" height="47.0" fill="url(#wgA)"/>
<rect x="141.0" y="-235.0" width="94.0" height="47.0" fill="url(#wireA)"/>
<rect x="141.0" y="-235.0" width="94.0" height="47.0" fill="url(#shA)"/>
<rect x="329.0" y="-235.0" width="94.0" height="47.0" fill="url(#wgA)"/>
<rect x="329.0" y="-235.0" width="94.0" height="47.0" fill="url(#wireA)"/>
<rect x="329.0" y="-235.0" width="94.0" height="47.0" fill="url(#shA)"/>
<rect x="0.0" y="-188.0" width="94.0" height="47.0" fill="url(#wgA)"/>
<rect x="0.0" y="-188.0" width="94.0" height="47.0" fill="url(#wireA)"/>
<rect x="0.0" y="-188.0" width="94.0" height="47.0" fill="url(#shA)"/>
<rect x="188.0" y="-188.0" width="94.0" height="47.0" fill="url(#wgA)"/>
<rect x="188.0" y="-188.0" width="94.0" height="47.0" fill="url(#wireA)"/>
<rect x="188.0" y="-188.0" width="94.0" height="47.0" fill="url(#shA)"/>
<rect x="376.0" y="-188.0" width="94.0" height="47.0" fill="url(#wgA)"/>
<rect x="376.0" y="-188.0" width="94.0" height="47.0" fill="url(#wireA)"/>
<rect x="376.0" y="-188.0" width="94.0" height="47.0" fill="url(#shA)"/>
<rect x="-141.0" y="-141.0" width="94.0" height="47.0" fill="url(#wgA)"/>
<rect x="-141.0" y="-141.0" width="94.0" height="47.0" fill="url(#wireA)"/>
<rect x="-141.0" y="-141.0" width="94.0" height="47.0" fill="url(#shA)"/>
<rect x="47.0" y="-141.0" width="94.0" height="47.0" fill="url(#wgA)"/>
<rect x="47.0" y="-141.0" width="94.0" height="47.0" fill="url(#wireA)"/>
<rect x="47.0" y="-141.0" width="94.0" height="47.0" fill="url(#shA)"/>
<rect x="235.0" y="-141.0" width="94.0" height="47.0" fill="url(#wgA)"/>
<rect x="235.0" y="-141.0" width="94.0" height="47.0" fill="url(#wireA)"/>
<rect x="235.0" y="-141.0" width="94.0" height="47.0" fill="url(#shA)"/>
<rect x="423.0" y="-141.0" width="94.0" height="47.0" fill="url(#wgA)"/>
<rect x="423.0" y="-141.0" width="94.0" height="47.0" fill="url(#wireA)"/>
<rect x="423.0" y="-141.0" width="94.0" height="47.0" fill="url(#shA)"/>
<rect x="-94.0" y="-94.0" width="94.0" height="47.0" fill="url(#wgA)"/>
<rect x="-94.0" y="-94.0" width="94.0" height="47.0" fill="url(#wireA)"/>
<rect x="-94.0" y="-94.0" width="94.0" height="47.0" fill="url(#shA)"/>
<rect x="94.0" y="-94.0" width="94.0" height="47.0" fill="url(#wgA)"/>
<rect x="94.0" y="-94.0" width="94.0" height="47.0" fill="url(#wireA)"/>
<rect x="94.0" y="-94.0" width="94.0" height="47.0" fill="url(#shA)"/>
<rect x="282.0" y="-94.0" width="94.0" height="47.0" fill="url(#wgA)"/>
<rect x="282.0" y="-94.0" width="94.0" height="47.0" fill="url(#wireA)"/>
<rect x="282.0" y="-94.0" width="94.0" height="47.0" fill="url(#shA)"/>
<rect x="470.0" y="-94.0" width="94.0" height="47.0" fill="url(#wgA)"/>
<rect x="470.0" y="-94.0" width="94.0" height="47.0" fill="url(#wireA)"/>
<rect x="470.0" y="-94.0" width="94.0" height="47.0" fill="url(#shA)"/>
<rect x="-47.0" y="-47.0" width="94.0" height="47.0" fill="url(#wgA)"/>
<rect x="-47.0" y="-47.0" width="94.0" height="47.0" fill="url(#wireA)"/>
<rect x="-47.0" y="-47.0" width="94.0" height="47.0" fill="url(#shA)"/>
<rect x="141.0" y="-47.0" width="94.0" height="47.0" fill="url(#wgA)"/>
<rect x="141.0" y="-47.0" width="94.0" height="47.0" fill="url(#wireA)"/>
<rect x="141.0" y="-47.0" width="94.0" height="47.0" fill="url(#shA)"/>
<rect x="329.0" y="-47.0" width="94.0" height="47.0" fill="url(#wgA)"/>
<rect x="329.0" y="-47.0" width="94.0" height="47.0" fill="url(#wireA)"/>
<rect x="329.0" y="-47.0" width="94.0" height="47.0" fill="url(#shA)"/>
<rect x="0.0" y="0.0" width="94.0" height="47.0" fill="url(#wyA)"/>
<rect x="0.0" y="0.0" width="94.0" height="47.0" fill="url(#wireAy)"/>
<rect x="0.0" y="0.0" width="94.0" height="47.0" fill="url(#shA)"/>
<rect x="188.0" y="0.0" width="94.0" height="47.0" fill="url(#wyA)"/>
<rect x="188.0" y="0.0" width="94.0" height="47.0" fill="url(#wireAy)"/>
<rect x="188.0" y="0.0" width="94.0" height="47.0" fill="url(#shA)"/>
<rect x="376.0" y="0.0" width="94.0" height="47.0" fill="url(#wyA)"/>
<rect x="376.0" y="0.0" width="94.0" height="47.0" fill="url(#wireAy)"/>
<rect x="376.0" y="0.0" width="94.0" height="47.0" fill="url(#shA)"/>
<rect x="-141.0" y="47.0" width="94.0" height="47.0" fill="url(#wgA)"/>
<rect x="-141.0" y="47.0" width="94.0" height="47.0" fill="url(#wireA)"/>
<rect x="-141.0" y="47.0" width="94.0" height="47.0" fill="url(#shA)"/>
<rect x="47.0" y="47.0" width="94.0" height="47.0" fill="url(#wgA)"/>
<rect x="47.0" y="47.0" width="94.0" height="47.0" fill="url(#wireA)"/>
<rect x="47.0" y="47.0" width="94.0" height="47.0" fill="url(#shA)"/>
<rect x="235.0" y="47.0" width="94.0" height="47.0" fill="url(#wgA)"/>
<rect x="235.0" y="47.0" width="94.0" height="47.0" fill="url(#wireA)"/>
<rect x="235.0" y="47.0" width="94.0" height="47.0" fill="url(#shA)"/>
<rect x="423.0" y="47.0" width="94.0" height="47.0" fill="url(#wgA)"/>
<rect x="423.0" y="47.0" width="94.0" height="47.0" fill="url(#wireA)"/>
<rect x="423.0" y="47.0" width="94.0" height="47.0" fill="url(#shA)"/>
<rect x="-94.0" y="94.0" width="94.0" height="47.0" fill="url(#wrA)"/>
<rect x="-94.0" y="94.0" width="94.0" height="47.0" fill="url(#wireAr)"/>
<rect x="-94.0" y="94.0" width="94.0" height="47.0" fill="url(#shA)"/>
<rect x="94.0" y="94.0" width="94.0" height="47.0" fill="url(#wrA)"/>
<rect x="94.0" y="94.0" width="94.0" height="47.0" fill="url(#wireAr)"/>
<rect x="94.0" y="94.0" width="94.0" height="47.0" fill="url(#shA)"/>
<rect x="282.0" y="94.0" width="94.0" height="47.0" fill="url(#wrA)"/>
<rect x="282.0" y="94.0" width="94.0" height="47.0" fill="url(#wireAr)"/>
<rect x="282.0" y="94.0" width="94.0" height="47.0" fill="url(#shA)"/>
<rect x="470.0" y="94.0" width="94.0" height="47.0" fill="url(#wrA)"/>
<rect x="470.0" y="94.0" width="94.0" height="47.0" fill="url(#wireAr)"/>
<rect x="470.0" y="94.0" width="94.0" height="47.0" fill="url(#shA)"/>
<rect x="-47.0" y="141.0" width="94.0" height="47.0" fill="url(#wgA)"/>
<rect x="-47.0" y="141.0" width="94.0" height="47.0" fill="url(#wireA)"/>
<rect x="-47.0" y="141.0" width="94.0" height="47.0" fill="url(#shA)"/>
<rect x="141.0" y="141.0" width="94.0" height="47.0" fill="url(#wgA)"/>
<rect x="141.0" y="141.0" width="94.0" height="47.0" fill="url(#wireA)"/>
<rect x="141.0" y="141.0" width="94.0" height="47.0" fill="url(#shA)"/>
<rect x="329.0" y="141.0" width="94.0" height="47.0" fill="url(#wgA)"/>
<rect x="329.0" y="141.0" width="94.0" height="47.0" fill="url(#wireA)"/>
<rect x="329.0" y="141.0" width="94.0" height="47.0" fill="url(#shA)"/>
<rect x="0.0" y="188.0" width="94.0" height="47.0" fill="url(#wgA)"/>
<rect x="0.0" y="188.0" width="94.0" height="47.0" fill="url(#wireA)"/>
<rect x="0.0" y="188.0" width="94.0" height="47.0" fill="url(#shA)"/>
<rect x="188.0" y="188.0" width="94.0" height="47.0" fill="url(#wgA)"/>
<rect x="188.0" y="188.0" width="94.0" height="47.0" fill="url(#wireA)"/>
<rect x="188.0" y="188.0" width="94.0" height="47.0" fill="url(#shA)"/>
<rect x="376.0" y="188.0" width="94.0" height="47.0" fill="url(#wgA)"/>
<rect x="376.0" y="188.0" width="94.0" height="47.0" fill="url(#wireA)"/>
<rect x="376.0" y="188.0" width="94.0" height="47.0" fill="url(#shA)"/>
<rect x="-141.0" y="235.0" width="94.0" height="47.0" fill="url(#wgA)"/>
<rect x="-141.0" y="235.0" width="94.0" height="47.0" fill="url(#wireA)"/>
<rect x="-141.0" y="235.0" width="94.0" height="47.0" fill="url(#shA)"/>
<rect x="47.0" y="235.0" width="94.0" height="47.0" fill="url(#wgA)"/>
<rect x="47.0" y="235.0" width="94.0" height="47.0" fill="url(#wireA)"/>
<rect x="47.0" y="235.0" width="94.0" height="47.0" fill="url(#shA)"/>
<rect x="235.0" y="235.0" width="94.0" height="47.0" fill="url(#wgA)"/>
<rect x="235.0" y="235.0" width="94.0" height="47.0" fill="url(#wireA)"/>
<rect x="235.0" y="235.0" width="94.0" height="47.0" fill="url(#shA)"/>
<rect x="423.0" y="235.0" width="94.0" height="47.0" fill="url(#wgA)"/>
<rect x="423.0" y="235.0" width="94.0" height="47.0" fill="url(#wireA)"/>
<rect x="423.0" y="235.0" width="94.0" height="47.0" fill="url(#shA)"/>
<rect x="-94.0" y="282.0" width="94.0" height="47.0" fill="url(#wgA)"/>
<rect x="-94.0" y="282.0" width="94.0" height="47.0" fill="url(#wireA)"/>
<rect x="-94.0" y="282.0" width="94.0" height="47.0" fill="url(#shA)"/>
<rect x="94.0" y="282.0" width="94.0" height="47.0" fill="url(#wgA)"/>
<rect x="94.0" y="282.0" width="94.0" height="47.0" fill="url(#wireA)"/>
<rect x="94.0" y="282.0" width="94.0" height="47.0" fill="url(#shA)"/>
<rect x="282.0" y="282.0" width="94.0" height="47.0" fill="url(#wgA)"/>
<rect x="282.0" y="282.0" width="94.0" height="47.0" fill="url(#wireA)"/>
<rect x="282.0" y="282.0" width="94.0" height="47.0" fill="url(#shA)"/>
<rect x="470.0" y="282.0" width="94.0" height="47.0" fill="url(#wgA)"/>
<rect x="470.0" y="282.0" width="94.0" height="47.0" fill="url(#wireA)"/>
<rect x="470.0" y="282.0" width="94.0" height="47.0" fill="url(#shA)"/>
<rect x="-47.0" y="329.0" width="94.0" height="47.0" fill="url(#wgA)"/>
<rect x="-47.0" y="329.0" width="94.0" height="47.0" fill="url(#wireA)"/>
<rect x="-47.0" y="329.0" width="94.0" height="47.0" fill="url(#shA)"/>
<rect x="141.0" y="329.0" width="94.0" height="47.0" fill="url(#wgA)"/>
<rect x="141.0" y="329.0" width="94.0" height="47.0" fill="url(#wireA)"/>
<rect x="141.0" y="329.0" width="94.0" height="47.0" fill="url(#shA)"/>
<rect x="329.0" y="329.0" width="94.0" height="47.0" fill="url(#wgA)"/>
<rect x="329.0" y="329.0" width="94.0" height="47.0" fill="url(#wireA)"/>
<rect x="329.0" y="329.0" width="94.0" height="47.0" fill="url(#shA)"/>
<rect x="0.0" y="376.0" width="94.0" height="47.0" fill="url(#wgA)"/>
<rect x="0.0" y="376.0" width="94.0" height="47.0" fill="url(#wireA)"/>
<rect x="0.0" y="376.0" width="94.0" height="47.0" fill="url(#shA)"/>
<rect x="188.0" y="376.0" width="94.0" height="47.0" fill="url(#wgA)"/>
<rect x="188.0" y="376.0" width="94.0" height="47.0" fill="url(#wireA)"/>
<rect x="188.0" y="376.0" width="94.0" height="47.0" fill="url(#shA)"/>
<rect x="376.0" y="376.0" width="94.0" height="47.0" fill="url(#wgA)"/>
<rect x="376.0" y="376.0" width="94.0" height="47.0" fill="url(#wireA)"/>
<rect x="376.0" y="376.0" width="94.0" height="47.0" fill="url(#shA)"/>
<rect x="44.8" y="-280.0" width="4.4" height="43.0" rx="2" fill="#2a2a2a" opacity="0.85"/>
<rect x="232.8" y="-280.0" width="4.4" height="43.0" rx="2" fill="#2a2a2a" opacity="0.85"/>
<rect x="420.8" y="-280.0" width="4.4" height="43.0" rx="2" fill="#2a2a2a" opacity="0.85"/>
<rect x="608.8" y="-280.0" width="4.4" height="43.0" rx="2" fill="#2a2a2a" opacity="0.85"/>
<rect x="138.8" y="-186.0" width="4.4" height="43.0" rx="2" fill="#2a2a2a" opacity="0.85"/>
<rect x="326.8" y="-186.0" width="4.4" height="43.0" rx="2" fill="#2a2a2a" opacity="0.85"/>
<rect x="514.8" y="-186.0" width="4.4" height="43.0" rx="2" fill="#2a2a2a" opacity="0.85"/>
<rect x="44.8" y="-92.0" width="4.4" height="43.0" rx="2" fill="#2a2a2a" opacity="0.85"/>
<rect x="232.8" y="-92.0" width="4.4" height="43.0" rx="2" fill="#2a2a2a" opacity="0.85"/>
<rect x="420.8" y="-92.0" width="4.4" height="43.0" rx="2" fill="#2a2a2a" opacity="0.85"/>
<rect x="608.8" y="-92.0" width="4.4" height="43.0" rx="2" fill="#2a2a2a" opacity="0.85"/>
<rect x="138.8" y="2.0" width="4.4" height="43.0" rx="2" fill="#2a2a2a" opacity="0.85"/>
<rect x="326.8" y="2.0" width="4.4" height="43.0" rx="2" fill="#2a2a2a" opacity="0.85"/>
<rect x="514.8" y="2.0" width="4.4" height="43.0" rx="2" fill="#2a2a2a" opacity="0.85"/>
<rect x="44.8" y="96.0" width="4.4" height="43.0" rx="2" fill="#2a2a2a" opacity="0.85"/>
<rect x="232.8" y="96.0" width="4.4" height="43.0" rx="2" fill="#2a2a2a" opacity="0.85"/>
<rect x="420.8" y="96.0" width="4.4" height="43.0" rx="2" fill="#2a2a2a" opacity="0.85"/>
<rect x="608.8" y="96.0" width="4.4" height="43.0" rx="2" fill="#2a2a2a" opacity="0.85"/>
<rect x="138.8" y="190.0" width="4.4" height="43.0" rx="2" fill="#2a2a2a" opacity="0.85"/>
<rect x="326.8" y="190.0" width="4.4" height="43.0" rx="2" fill="#2a2a2a" opacity="0.85"/>
<rect x="514.8" y="190.0" width="4.4" height="43.0" rx="2" fill="#2a2a2a" opacity="0.85"/>
<rect x="44.8" y="284.0" width="4.4" height="43.0" rx="2" fill="#2a2a2a" opacity="0.85"/>
<rect x="232.8" y="284.0" width="4.4" height="43.0" rx="2" fill="#2a2a2a" opacity="0.85"/>
<rect x="420.8" y="284.0" width="4.4" height="43.0" rx="2" fill="#2a2a2a" opacity="0.85"/>
<rect x="608.8" y="284.0" width="4.4" height="43.0" rx="2" fill="#2a2a2a" opacity="0.85"/>
<rect x="138.8" y="378.0" width="4.4" height="43.0" rx="2" fill="#2a2a2a" opacity="0.85"/>
<rect x="326.8" y="378.0" width="4.4" height="43.0" rx="2" fill="#2a2a2a" opacity="0.85"/>
<rect x="514.8" y="378.0" width="4.4" height="43.0" rx="2" fill="#2a2a2a" opacity="0.85"/>
<rect x="-137.0" y="-142.2" width="39.0" height="2.4" rx="1.2" fill="#2a2a2a" opacity="0.75"/>
<rect x="-137.0" y="45.8" width="39.0" height="2.4" rx="1.2" fill="#2a2a2a" opacity="0.75"/>
<rect x="-137.0" y="233.8" width="39.0" height="2.4" rx="1.2" fill="#2a2a2a" opacity="0.75"/>
<rect x="-137.0" y="421.8" width="39.0" height="2.4" rx="1.2" fill="#2a2a2a" opacity="0.75"/>
<rect x="-90.0" y="-95.2" width="39.0" height="2.4" rx="1.2" fill="#2a2a2a" opacity="0.4"/>
<rect x="-90.0" y="92.8" width="39.0" height="2.4" rx="1.2" fill="#2a2a2a" opacity="0.4"/>
<rect x="-90.0" y="280.8" width="39.0" height="2.4" rx="1.2" fill="#2a2a2a" opacity="0.4"/>
<rect x="-90.0" y="468.8" width="39.0" height="2.4" rx="1.2" fill="#2a2a2a" opacity="0.4"/>
<rect x="-43.0" y="-48.2" width="39.0" height="2.4" rx="1.2" fill="#2a2a2a" opacity="0.75"/>
<rect x="-43.0" y="139.8" width="39.0" height="2.4" rx="1.2" fill="#2a2a2a" opacity="0.75"/>
<rect x="-43.0" y="327.8" width="39.0" height="2.4" rx="1.2" fill="#2a2a2a" opacity="0.75"/>
<rect x="-43.0" y="515.8" width="39.0" height="2.4" rx="1.2" fill="#2a2a2a" opacity="0.75"/>
<rect x="4.0" y="-1.2" width="39.0" height="2.4" rx="1.2" fill="#2a2a2a" opacity="0.4"/>
<rect x="4.0" y="186.8" width="39.0" height="2.4" rx="1.2" fill="#2a2a2a" opacity="0.4"/>
<rect x="4.0" y="374.8" width="39.0" height="2.4" rx="1.2" fill="#2a2a2a" opacity="0.4"/>
<rect x="51.0" y="-142.2" width="39.0" height="2.4" rx="1.2" fill="#2a2a2a" opacity="0.75"/>
<rect x="51.0" y="45.8" width="39.0" height="2.4" rx="1.2" fill="#2a2a2a" opacity="0.75"/>
<rect x="51.0" y="233.8" width="39.0" height="2.4" rx="1.2" fill="#2a2a2a" opacity="0.75"/>
<rect x="51.0" y="421.8" width="39.0" height="2.4" rx="1.2" fill="#2a2a2a" opacity="0.75"/>
<rect x="98.0" y="-95.2" width="39.0" height="2.4" rx="1.2" fill="#2a2a2a" opacity="0.4"/>
<rect x="98.0" y="92.8" width="39.0" height="2.4" rx="1.2" fill="#2a2a2a" opacity="0.4"/>
<rect x="98.0" y="280.8" width="39.0" height="2.4" rx="1.2" fill="#2a2a2a" opacity="0.4"/>
<rect x="98.0" y="468.8" width="39.0" height="2.4" rx="1.2" fill="#2a2a2a" opacity="0.4"/>
<rect x="145.0" y="-48.2" width="39.0" height="2.4" rx="1.2" fill="#2a2a2a" opacity="0.75"/>
<rect x="145.0" y="139.8" width="39.0" height="2.4" rx="1.2" fill="#2a2a2a" opacity="0.75"/>
<rect x="145.0" y="327.8" width="39.0" height="2.4" rx="1.2" fill="#2a2a2a" opacity="0.75"/>
<rect x="145.0" y="515.8" width="39.0" height="2.4" rx="1.2" fill="#2a2a2a" opacity="0.75"/>
<rect x="192.0" y="-1.2" width="39.0" height="2.4" rx="1.2" fill="#2a2a2a" opacity="0.4"/>
<rect x="192.0" y="186.8" width="39.0" height="2.4" rx="1.2" fill="#2a2a2a" opacity="0.4"/>
<rect x="192.0" y="374.8" width="39.0" height="2.4" rx="1.2" fill="#2a2a2a" opacity="0.4"/>
<rect x="239.0" y="-142.2" width="39.0" height="2.4" rx="1.2" fill="#2a2a2a" opacity="0.75"/>
<rect x="239.0" y="45.8" width="39.0" height="2.4" rx="1.2" fill="#2a2a2a" opacity="0.75"/>
<rect x="239.0" y="233.8" width="39.0" height="2.4" rx="1.2" fill="#2a2a2a" opacity="0.75"/>
<rect x="239.0" y="421.8" width="39.0" height="2.4" rx="1.2" fill="#2a2a2a" opacity="0.75"/>
<rect x="286.0" y="-95.2" width="39.0" height="2.4" rx="1.2" fill="#2a2a2a" opacity="0.4"/>
<rect x="286.0" y="92.8" width="39.0" height="2.4" rx="1.2" fill="#2a2a2a" opacity="0.4"/>
<rect x="286.0" y="280.8" width="39.0" height="2.4" rx="1.2" fill="#2a2a2a" opacity="0.4"/>
<rect x="286.0" y="468.8" width="39.0" height="2.4" rx="1.2" fill="#2a2a2a" opacity="0.4"/>
<rect x="333.0" y="-48.2" width="39.0" height="2.4" rx="1.2" fill="#2a2a2a" opacity="0.75"/>
<rect x="333.0" y="139.8" width="39.0" height="2.4" rx="1.2" fill="#2a2a2a" opacity="0.75"/>
<rect x="333.0" y="327.8" width="39.0" height="2.4" rx="1.2" fill="#2a2a2a" opacity="0.75"/>
<rect x="333.0" y="515.8" width="39.0" height="2.4" rx="1.2" fill="#2a2a2a" opacity="0.75"/>
<rect x="380.0" y="-1.2" width="39.0" height="2.4" rx="1.2" fill="#2a2a2a" opacity="0.4"/>
<rect x="380.0" y="186.8" width="39.0" height="2.4" rx="1.2" fill="#2a2a2a" opacity="0.4"/>
<rect x="380.0" y="374.8" width="39.0" height="2.4" rx="1.2" fill="#2a2a2a" opacity="0.4"/>
<rect x="427.0" y="-142.2" width="39.0" height="2.4" rx="1.2" fill="#2a2a2a" opacity="0.75"/>
<rect x="427.0" y="45.8" width="39.0" height="2.4" rx="1.2" fill="#2a2a2a" opacity="0.75"/>
<rect x="427.0" y="233.8" width="39.0" height="2.4" rx="1.2" fill="#2a2a2a" opacity="0.75"/>
<rect x="427.0" y="421.8" width="39.0" height="2.4" rx="1.2" fill="#2a2a2a" opacity="0.75"/>
<rect x="474.0" y="-95.2" width="39.0" height="2.4" rx="1.2" fill="#2a2a2a" opacity="0.4"/>
<rect x="474.0" y="92.8" width="39.0" height="2.4" rx="1.2" fill="#2a2a2a" opacity="0.4"/>
<rect x="474.0" y="280.8" width="39.0" height="2.4" rx="1.2" fill="#2a2a2a" opacity="0.4"/>
<rect x="474.0" y="468.8" width="39.0" height="2.4" rx="1.2" fill="#2a2a2a" opacity="0.4"/>
</g></g>
<circle cx="594.0" cy="536.0" r="139.0" fill="none" stroke="#024d9c" stroke-width="8"/>
<rect x="736" y="531" width="889" height="8" fill="#024d9c"/>
<rect x="1127" y="535" width="8" height="385" fill="#024d9c"/>
<circle cx="1131" cy="922" r="15.2" fill="#024d9c"/>
<rect x="41" y="996" width="525" height="8" fill="#024d9c"/>
<circle cx="565.5" cy="1000" r="14.8" fill="#024d9c"/>
<circle cx="772.8" cy="1078.4" r="15.2" fill="#024d9c"/>
<rect x="768.8" y="1080" width="8" height="310" fill="#024d9c"/>
<rect x="285" y="1382" width="491.8" height="8" fill="#024d9c"/>
<g transform="translate(1029.4,436.2) scale(0.7152,1)"><text x="0" y="0" font-family="Liberation Sans" font-size="74.5" letter-spacing="4.195" fill="#000" stroke="#000" stroke-width="2.3" vector-effect="non-scaling-stroke" text-anchor="start">Trenzado</text></g>
<g transform="translate(1292.2,436.2) scale(0.753,1)"><text x="0" y="0" font-family="Liberation Sans" font-size="74.5" letter-spacing="3.984" fill="#000" stroke="#000" stroke-width="2.3" vector-effect="non-scaling-stroke" text-anchor="start">de</text></g>
<g transform="translate(1375.8,436.2) scale(0.7552,1)"><text x="0" y="0" font-family="Liberation Sans" font-size="74.5" letter-spacing="3.972" fill="#000" stroke="#000" stroke-width="2.3" vector-effect="non-scaling-stroke" text-anchor="start">aluminio</text></g>
<g transform="translate(960.8,506.2) scale(0.7449,1)"><text x="0" y="0" font-family="Liberation Sans" font-size="74.5" letter-spacing="4.027" fill="#000" stroke="#000" stroke-width="2.3" vector-effect="non-scaling-stroke" text-anchor="start">sobre</text></g>
<g transform="translate(1130.8,506.2) scale(0.7307,1)"><text x="0" y="0" font-family="Liberation Sans" font-size="74.5" letter-spacing="4.106" fill="#000" stroke="#000" stroke-width="2.3" vector-effect="non-scaling-stroke" text-anchor="start">manguera</text></g>
<g transform="translate(1421.0,506.2) scale(0.7267,1)"><text x="0" y="0" font-family="Liberation Sans" font-size="74.5" letter-spacing="4.128" fill="#000" stroke="#000" stroke-width="2.3" vector-effect="non-scaling-stroke" text-anchor="start">de</text></g>
<g transform="translate(1505.2,506.2) scale(0.619,1)"><text x="0" y="0" font-family="Liberation Sans" font-size="74.5" letter-spacing="4.847" fill="#000" stroke="#000" stroke-width="2.3" vector-effect="non-scaling-stroke" text-anchor="start">PVC</text></g>
<g transform="translate(54.6,974.2) scale(0.7049,1)"><text x="0" y="0" font-family="Liberation Sans" font-size="74.5" letter-spacing="4.256" fill="#000" stroke="#000" stroke-width="2.3" vector-effect="non-scaling-stroke" text-anchor="start">Tuercas</text></g>
<g transform="translate(281.0,974.2) scale(0.7463,1)"><text x="0" y="0" font-family="Liberation Sans" font-size="74.5" letter-spacing="4.020" fill="#000" stroke="#000" stroke-width="2.3" vector-effect="non-scaling-stroke" text-anchor="start">de</text></g>
<g transform="translate(365.0,974.2) scale(0.7797,1)"><text x="0" y="0" font-family="Liberation Sans" font-size="74.5" letter-spacing="3.848" fill="#000" stroke="#000" stroke-width="2.3" vector-effect="non-scaling-stroke" text-anchor="start">latón</text></g>
<g transform="translate(293.4,1279.2) scale(0.7303,1)"><text x="0" y="0" font-family="Liberation Sans" font-size="74.5" letter-spacing="4.108" fill="#000" stroke="#000" stroke-width="2.3" vector-effect="non-scaling-stroke" text-anchor="start">Férulas</text></g>
<g transform="translate(513.2,1279.2) scale(0.7272,1)"><text x="0" y="0" font-family="Liberation Sans" font-size="74.5" letter-spacing="4.125" fill="#000" stroke="#000" stroke-width="2.3" vector-effect="non-scaling-stroke" text-anchor="start">de</text></g>
<g transform="translate(292.8,1349.2) scale(0.7477,1)"><text x="0" y="0" font-family="Liberation Sans" font-size="74.5" letter-spacing="4.012" fill="#000" stroke="#000" stroke-width="2.3" vector-effect="non-scaling-stroke" text-anchor="start">acero</text></g>
<g transform="translate(463.2,1349.2) scale(0.7568,1)"><text x="0" y="0" font-family="Liberation Sans" font-size="74.5" letter-spacing="3.964" fill="#000" stroke="#000" stroke-width="2.3" vector-effect="non-scaling-stroke" text-anchor="start">inoxidable</text></g>
</svg></body></html>
